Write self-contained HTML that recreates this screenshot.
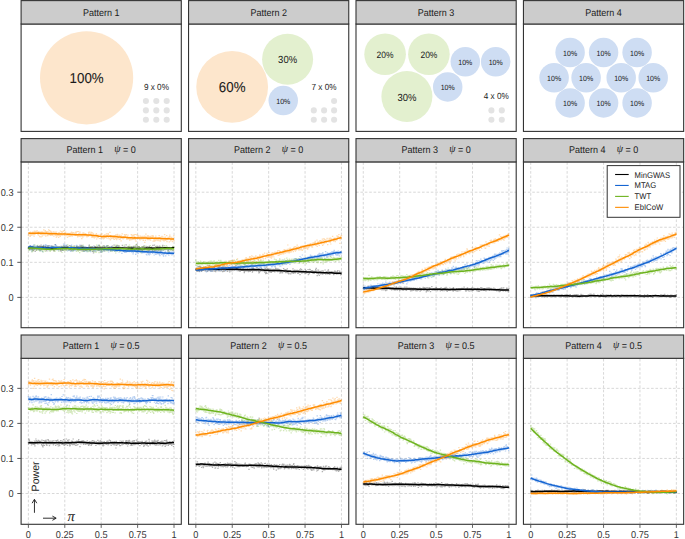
<!DOCTYPE html>
<html><head><meta charset="utf-8"><title>Power patterns</title>
<style>html,body{margin:0;padding:0;background:#fff;overflow:hidden}svg{display:block}</style>
</head><body>
<svg width="685" height="539" viewBox="0 0 685 539" text-rendering="geometricPrecision">
<rect width="685" height="539" fill="#fff"/>
<rect x="21.1" y="161.9" width="160.2" height="165.8" fill="#fff"/>
<line x1="21.1" x2="181.3" y1="297.4" y2="297.4" stroke="#D4D4D4" stroke-width="0.9" stroke-dasharray="2.6 1.8"/>
<line x1="21.1" x2="181.3" y1="262.33" y2="262.33" stroke="#D4D4D4" stroke-width="0.9" stroke-dasharray="2.6 1.8"/>
<line x1="21.1" x2="181.3" y1="227.26" y2="227.26" stroke="#D4D4D4" stroke-width="0.9" stroke-dasharray="2.6 1.8"/>
<line x1="21.1" x2="181.3" y1="192.19" y2="192.19" stroke="#D4D4D4" stroke-width="0.9" stroke-dasharray="2.6 1.8"/>
<line x1="28.38" x2="28.38" y1="327.7" y2="161.9" stroke="#D4D4D4" stroke-width="0.9" stroke-dasharray="2.6 1.8"/>
<line x1="64.79" x2="64.79" y1="327.7" y2="161.9" stroke="#D4D4D4" stroke-width="0.9" stroke-dasharray="2.6 1.8"/>
<line x1="101.2" x2="101.2" y1="327.7" y2="161.9" stroke="#D4D4D4" stroke-width="0.9" stroke-dasharray="2.6 1.8"/>
<line x1="137.61" x2="137.61" y1="327.7" y2="161.9" stroke="#D4D4D4" stroke-width="0.9" stroke-dasharray="2.6 1.8"/>
<line x1="174.02" x2="174.02" y1="327.7" y2="161.9" stroke="#D4D4D4" stroke-width="0.9" stroke-dasharray="2.6 1.8"/>
<path d="M27.7 247.8h1.4M27.9 247.4h1.4M28.2 248.2h1.4M28.5 249.1h1.4M28.7 248.5h1.4M29.0 249.3h1.4M29.2 247.7h1.4M29.5 245.9h1.4M29.8 248.5h1.4M30.0 248.7h1.4M30.3 247.1h1.4M30.5 247.3h1.4M30.8 247.7h1.4M31.1 249.2h1.4M31.3 247.9h1.4M31.6 246.8h1.4M31.9 249.8h1.4M32.1 248.5h1.4M32.4 250.6h1.4M32.6 249.7h1.4M32.9 250.5h1.4M33.2 248.2h1.4M33.4 249.7h1.4M33.7 247.4h1.4M33.9 247.6h1.4M34.2 248.1h1.4M34.5 251.5h1.4M34.7 248.6h1.4M35.0 247.9h1.4M35.2 247.7h1.4M35.5 250.1h1.4M35.8 248.5h1.4M36.0 249.3h1.4M36.3 249.0h1.4M36.5 246.3h1.4M36.8 249.0h1.4M37.1 247.9h1.4M37.3 246.6h1.4M37.6 248.7h1.4M37.8 248.0h1.4M38.1 247.7h1.4M38.4 247.8h1.4M38.6 249.6h1.4M38.9 247.8h1.4M39.1 245.9h1.4M39.4 250.1h1.4M39.7 246.6h1.4M39.9 247.7h1.4M40.2 248.8h1.4M40.4 245.0h1.4M40.7 246.8h1.4M41.0 249.6h1.4M41.2 247.8h1.4M41.5 247.0h1.4M41.8 248.2h1.4M42.0 246.9h1.4M42.3 248.0h1.4M42.5 246.9h1.4M42.8 245.8h1.4M43.1 248.9h1.4M43.3 247.6h1.4M43.6 248.6h1.4M43.8 247.7h1.4M44.1 249.6h1.4M44.4 248.7h1.4M44.6 248.2h1.4M44.9 246.6h1.4M45.1 246.2h1.4M45.4 249.8h1.4M45.7 249.1h1.4M45.9 247.0h1.4M46.2 250.8h1.4M46.4 248.6h1.4M46.7 248.0h1.4M47.0 246.1h1.4M47.2 246.9h1.4M47.5 248.4h1.4M47.7 248.4h1.4M48.0 248.3h1.4M48.3 245.7h1.4M48.5 248.5h1.4M48.8 248.4h1.4M49.0 247.4h1.4M49.3 248.1h1.4M49.6 248.2h1.4M49.8 249.5h1.4M50.1 247.9h1.4M50.3 248.6h1.4M50.6 246.2h1.4M50.9 247.0h1.4M51.1 248.0h1.4M51.4 246.9h1.4M51.7 248.4h1.4M51.9 246.4h1.4M52.2 247.9h1.4M52.4 247.1h1.4M52.7 249.8h1.4M53.0 247.4h1.4M53.2 250.4h1.4M53.5 250.9h1.4M53.7 248.4h1.4M54.0 249.2h1.4M54.3 247.7h1.4M54.5 244.7h1.4M54.8 249.2h1.4M55.0 248.8h1.4M55.3 247.6h1.4M55.6 247.2h1.4M55.8 248.2h1.4M56.1 248.2h1.4M56.3 246.9h1.4M56.6 247.2h1.4M56.9 249.5h1.4M57.1 248.1h1.4M57.4 247.9h1.4M57.6 249.5h1.4M57.9 247.6h1.4M58.2 249.2h1.4M58.4 246.5h1.4M58.7 247.7h1.4M58.9 247.8h1.4M59.2 248.8h1.4M59.5 248.1h1.4M59.7 250.9h1.4M60.0 249.6h1.4M60.2 247.4h1.4M60.5 251.1h1.4M60.8 246.7h1.4M61.0 250.5h1.4M61.3 246.9h1.4M61.6 249.2h1.4M61.8 246.8h1.4M62.1 247.8h1.4M62.3 250.2h1.4M62.6 246.2h1.4M62.9 245.9h1.4M63.1 248.1h1.4M63.4 248.4h1.4M63.6 248.2h1.4M63.9 249.4h1.4M64.2 246.4h1.4M64.4 248.8h1.4M64.7 248.1h1.4M64.9 249.1h1.4M65.2 248.9h1.4M65.5 249.9h1.4M65.7 246.2h1.4M66.0 248.2h1.4M66.2 246.6h1.4M66.5 248.0h1.4M66.8 249.0h1.4M67.0 248.5h1.4M67.3 248.8h1.4M67.5 248.0h1.4M67.8 248.6h1.4M68.1 248.4h1.4M68.3 250.0h1.4M68.6 249.2h1.4M68.8 245.6h1.4M69.1 249.0h1.4M69.4 249.6h1.4M69.6 247.5h1.4M69.9 246.0h1.4M70.1 250.1h1.4M70.4 248.3h1.4M70.7 248.9h1.4M70.9 250.6h1.4M71.2 247.0h1.4M71.5 248.1h1.4M71.7 247.9h1.4M72.0 249.1h1.4M72.2 247.4h1.4M72.5 248.8h1.4M72.8 248.3h1.4M73.0 249.7h1.4M73.3 249.8h1.4M73.5 246.1h1.4M73.8 248.8h1.4M74.1 247.6h1.4M74.3 248.1h1.4M74.6 248.7h1.4M74.8 248.8h1.4M75.1 247.1h1.4M75.4 248.5h1.4M75.6 248.3h1.4M75.9 248.0h1.4M76.1 246.4h1.4M76.4 247.1h1.4M76.7 247.5h1.4M76.9 248.9h1.4M77.2 250.1h1.4M77.4 246.7h1.4M77.7 246.7h1.4M78.0 248.3h1.4M78.2 247.3h1.4M78.5 246.9h1.4M78.7 246.9h1.4M79.0 246.7h1.4M79.3 248.8h1.4M79.5 245.9h1.4M79.8 249.9h1.4M80.0 246.8h1.4M80.3 247.4h1.4M80.6 246.8h1.4M80.8 245.4h1.4M81.1 245.9h1.4M81.4 249.8h1.4M81.6 250.6h1.4M81.9 246.9h1.4M82.1 249.6h1.4M82.4 248.1h1.4M82.7 246.9h1.4M82.9 250.5h1.4M83.2 251.2h1.4M83.4 247.7h1.4M83.7 248.1h1.4M84.0 248.5h1.4M84.2 248.1h1.4M84.5 249.4h1.4M84.7 250.3h1.4M85.0 248.4h1.4M85.3 249.6h1.4M85.5 250.5h1.4M85.8 247.4h1.4M86.0 248.2h1.4M86.3 247.6h1.4M86.6 249.6h1.4M86.8 249.1h1.4M87.1 249.6h1.4M87.3 249.4h1.4M87.6 247.9h1.4M87.9 249.3h1.4M88.1 247.6h1.4M88.4 247.7h1.4M88.6 245.2h1.4M88.9 250.2h1.4M89.2 246.9h1.4M89.4 248.3h1.4M89.7 248.2h1.4M89.9 250.3h1.4M90.2 248.8h1.4M90.5 247.1h1.4M90.7 248.3h1.4M91.0 248.1h1.4M91.3 248.6h1.4M91.5 246.5h1.4M91.8 248.2h1.4M92.0 251.4h1.4M92.3 249.2h1.4M92.6 251.0h1.4M92.8 252.9h1.4M93.1 249.0h1.4M93.3 246.2h1.4M93.6 248.1h1.4M93.9 249.9h1.4M94.1 249.6h1.4M94.4 246.5h1.4M94.6 248.0h1.4M94.9 248.1h1.4M95.2 248.3h1.4M95.4 248.1h1.4M95.7 247.0h1.4M95.9 247.4h1.4M96.2 247.9h1.4M96.5 249.7h1.4M96.7 247.4h1.4M97.0 249.2h1.4M97.2 246.6h1.4M97.5 250.0h1.4M97.8 248.4h1.4M98.0 248.2h1.4M98.3 250.1h1.4M98.5 245.7h1.4M98.8 246.1h1.4M99.1 248.9h1.4M99.3 247.1h1.4M99.6 247.6h1.4M99.8 252.0h1.4M100.1 247.8h1.4M100.4 248.3h1.4M100.6 248.1h1.4M100.9 249.8h1.4M101.2 248.6h1.4M101.4 248.5h1.4M101.7 246.5h1.4M101.9 247.7h1.4M102.2 248.2h1.4M102.5 246.0h1.4M102.7 249.0h1.4M103.0 248.8h1.4M103.2 250.8h1.4M103.5 245.9h1.4M103.8 246.8h1.4M104.0 246.9h1.4M104.3 247.2h1.4M104.5 248.0h1.4M104.8 247.9h1.4M105.1 248.6h1.4M105.3 248.5h1.4M105.6 248.1h1.4M105.8 246.0h1.4M106.1 247.4h1.4M106.4 248.3h1.4M106.6 249.0h1.4M106.9 249.1h1.4M107.1 245.9h1.4M107.4 247.5h1.4M107.7 248.1h1.4M107.9 248.7h1.4M108.2 249.8h1.4M108.4 248.3h1.4M108.7 246.9h1.4M109.0 248.8h1.4M109.2 248.5h1.4M109.5 248.5h1.4M109.7 248.0h1.4M110.0 250.5h1.4M110.3 248.5h1.4M110.5 249.4h1.4M110.8 246.9h1.4M111.1 249.3h1.4M111.3 247.3h1.4M111.6 246.0h1.4M111.8 248.6h1.4M112.1 249.1h1.4M112.4 247.9h1.4M112.6 248.2h1.4M112.9 249.6h1.4M113.1 247.5h1.4M113.4 245.2h1.4M113.7 248.6h1.4M113.9 248.5h1.4M114.2 249.7h1.4M114.4 247.7h1.4M114.7 250.0h1.4M115.0 249.8h1.4M115.2 246.3h1.4M115.5 249.5h1.4M115.7 246.6h1.4M116.0 245.9h1.4M116.3 247.8h1.4M116.5 247.4h1.4M116.8 245.3h1.4M117.0 248.5h1.4M117.3 249.0h1.4M117.6 250.1h1.4M117.8 248.1h1.4M118.1 246.0h1.4M118.3 246.8h1.4M118.6 249.5h1.4M118.9 249.4h1.4M119.1 248.9h1.4M119.4 247.7h1.4M119.6 248.5h1.4M119.9 247.8h1.4M120.2 247.7h1.4M120.4 248.6h1.4M120.7 248.2h1.4M121.0 247.9h1.4M121.2 248.3h1.4M121.5 247.4h1.4M121.7 245.4h1.4M122.0 247.3h1.4M122.3 248.1h1.4M122.5 250.6h1.4M122.8 247.6h1.4M123.0 251.0h1.4M123.3 250.2h1.4M123.6 246.9h1.4M123.8 247.1h1.4M124.1 248.4h1.4M124.3 250.6h1.4M124.6 248.7h1.4M124.9 249.1h1.4M125.1 247.2h1.4M125.4 244.8h1.4M125.6 247.8h1.4M125.9 249.3h1.4M126.2 249.8h1.4M126.4 248.2h1.4M126.7 248.4h1.4M126.9 249.8h1.4M127.2 248.0h1.4M127.5 249.8h1.4M127.7 246.5h1.4M128.0 246.6h1.4M128.2 246.5h1.4M128.5 248.8h1.4M128.8 247.4h1.4M129.0 248.3h1.4M129.3 248.7h1.4M129.5 248.6h1.4M129.8 250.0h1.4M130.1 250.2h1.4M130.3 247.0h1.4M130.6 248.4h1.4M130.9 247.8h1.4M131.1 246.7h1.4M131.4 250.6h1.4M131.6 249.3h1.4M131.9 247.9h1.4M132.2 247.5h1.4M132.4 248.7h1.4M132.7 246.6h1.4M132.9 247.8h1.4M133.2 249.9h1.4M133.5 249.5h1.4M133.7 246.9h1.4M134.0 247.4h1.4M134.2 250.9h1.4M134.5 246.1h1.4M134.8 247.2h1.4M135.0 246.1h1.4M135.3 248.7h1.4M135.5 248.5h1.4M135.8 249.7h1.4M136.1 244.4h1.4M136.3 248.3h1.4M136.6 245.8h1.4M136.8 249.0h1.4M137.1 247.9h1.4M137.4 250.5h1.4M137.6 248.6h1.4M137.9 246.7h1.4M138.1 249.9h1.4M138.4 246.5h1.4M138.7 247.6h1.4M138.9 249.6h1.4M139.2 248.8h1.4M139.4 248.8h1.4M139.7 248.2h1.4M140.0 248.9h1.4M140.2 249.3h1.4M140.5 248.5h1.4M140.8 249.6h1.4M141.0 250.0h1.4M141.3 248.1h1.4M141.5 246.8h1.4M141.8 250.3h1.4M142.1 248.1h1.4M142.3 249.0h1.4M142.6 249.5h1.4M142.8 246.8h1.4M143.1 248.8h1.4M143.4 245.9h1.4M143.6 249.2h1.4M143.9 247.5h1.4M144.1 248.4h1.4M144.4 249.2h1.4M144.7 247.2h1.4M144.9 248.3h1.4M145.2 247.2h1.4M145.4 248.1h1.4M145.7 249.6h1.4M146.0 248.2h1.4M146.2 248.0h1.4M146.5 246.7h1.4M146.7 249.4h1.4M147.0 248.1h1.4M147.3 250.6h1.4M147.5 247.1h1.4M147.8 249.6h1.4M148.0 250.7h1.4M148.3 248.1h1.4M148.6 246.4h1.4M148.8 250.3h1.4M149.1 249.6h1.4M149.3 249.1h1.4M149.6 249.7h1.4M149.9 247.5h1.4M150.1 249.2h1.4M150.4 249.1h1.4M150.7 247.2h1.4M150.9 249.1h1.4M151.2 247.4h1.4M151.4 249.4h1.4M151.7 249.8h1.4M152.0 250.7h1.4M152.2 245.3h1.4M152.5 248.5h1.4M152.7 247.7h1.4M153.0 248.1h1.4M153.3 247.8h1.4M153.5 247.9h1.4M153.8 245.2h1.4M154.0 249.5h1.4M154.3 250.3h1.4M154.6 249.5h1.4M154.8 250.0h1.4M155.1 246.9h1.4M155.3 246.8h1.4M155.6 249.4h1.4M155.9 250.0h1.4M156.1 248.5h1.4M156.4 246.0h1.4M156.6 252.1h1.4M156.9 247.2h1.4M157.2 249.6h1.4M157.4 246.5h1.4M157.7 249.6h1.4M157.9 248.4h1.4M158.2 250.2h1.4M158.5 249.4h1.4M158.7 246.0h1.4M159.0 246.8h1.4M159.2 248.6h1.4M159.5 249.3h1.4M159.8 250.8h1.4M160.0 248.6h1.4M160.3 248.0h1.4M160.6 248.1h1.4M160.8 248.1h1.4M161.1 249.6h1.4M161.3 248.1h1.4M161.6 248.0h1.4M161.9 246.1h1.4M162.1 245.3h1.4M162.4 248.2h1.4M162.6 249.1h1.4M162.9 248.1h1.4M163.2 248.9h1.4M163.4 249.1h1.4M163.7 248.1h1.4M163.9 249.5h1.4M164.2 247.1h1.4M164.5 248.1h1.4M164.7 247.6h1.4M165.0 248.2h1.4M165.2 249.0h1.4M165.5 249.3h1.4M165.8 248.3h1.4M166.0 248.8h1.4M166.3 247.6h1.4M166.5 248.0h1.4M166.8 249.9h1.4M167.1 247.9h1.4M167.3 249.9h1.4M167.6 248.8h1.4M167.8 248.4h1.4M168.1 251.0h1.4M168.4 247.8h1.4M168.6 247.7h1.4M168.9 248.2h1.4M169.1 248.6h1.4M169.4 248.5h1.4M169.7 249.4h1.4M169.9 248.3h1.4M170.2 248.7h1.4M170.5 247.8h1.4M170.7 249.7h1.4M171.0 247.6h1.4M171.2 247.7h1.4M171.5 248.1h1.4M171.8 248.6h1.4M172.0 247.1h1.4M172.3 250.4h1.4M172.5 247.2h1.4M172.8 247.6h1.4M173.1 247.5h1.4M173.3 247.4h1.4" fill="none" stroke="#000000" stroke-opacity="0.3" stroke-width="1.2"/>
<path d="M27.7 248.3h1.4M27.9 247.8h1.4M28.2 246.5h1.4M28.5 246.8h1.4M28.7 247.1h1.4M29.0 249.6h1.4M29.2 246.6h1.4M29.5 245.7h1.4M29.8 245.9h1.4M30.0 247.1h1.4M30.3 249.7h1.4M30.5 246.0h1.4M30.8 247.6h1.4M31.1 251.1h1.4M31.3 246.9h1.4M31.6 249.6h1.4M31.9 249.3h1.4M32.1 248.3h1.4M32.4 245.6h1.4M32.6 248.0h1.4M32.9 247.0h1.4M33.2 244.9h1.4M33.4 245.1h1.4M33.7 247.6h1.4M33.9 247.8h1.4M34.2 249.3h1.4M34.5 248.5h1.4M34.7 246.8h1.4M35.0 246.9h1.4M35.2 247.3h1.4M35.5 246.0h1.4M35.8 248.6h1.4M36.0 247.5h1.4M36.3 246.4h1.4M36.5 246.6h1.4M36.8 245.9h1.4M37.1 246.9h1.4M37.3 247.9h1.4M37.6 246.9h1.4M37.8 248.9h1.4M38.1 249.9h1.4M38.4 246.6h1.4M38.6 247.6h1.4M38.9 247.0h1.4M39.1 250.0h1.4M39.4 248.0h1.4M39.7 248.4h1.4M39.9 248.8h1.4M40.2 250.8h1.4M40.4 248.0h1.4M40.7 246.2h1.4M41.0 247.0h1.4M41.2 248.4h1.4M41.5 247.5h1.4M41.8 246.4h1.4M42.0 251.6h1.4M42.3 247.7h1.4M42.5 246.7h1.4M42.8 246.5h1.4M43.1 245.1h1.4M43.3 245.9h1.4M43.6 247.1h1.4M43.8 247.1h1.4M44.1 246.4h1.4M44.4 248.4h1.4M44.6 247.6h1.4M44.9 246.2h1.4M45.1 244.7h1.4M45.4 247.8h1.4M45.7 247.7h1.4M45.9 247.3h1.4M46.2 245.6h1.4M46.4 247.6h1.4M46.7 245.5h1.4M47.0 249.0h1.4M47.2 247.9h1.4M47.5 247.9h1.4M47.7 246.5h1.4M48.0 246.1h1.4M48.3 249.8h1.4M48.5 249.0h1.4M48.8 247.1h1.4M49.0 248.6h1.4M49.3 249.9h1.4M49.6 246.1h1.4M49.8 246.9h1.4M50.1 246.9h1.4M50.3 248.4h1.4M50.6 246.2h1.4M50.9 248.0h1.4M51.1 246.1h1.4M51.4 249.0h1.4M51.7 248.9h1.4M51.9 247.4h1.4M52.2 248.7h1.4M52.4 246.7h1.4M52.7 247.3h1.4M53.0 249.1h1.4M53.2 247.6h1.4M53.5 248.2h1.4M53.7 246.4h1.4M54.0 248.6h1.4M54.3 248.4h1.4M54.5 246.0h1.4M54.8 244.5h1.4M55.0 244.8h1.4M55.3 247.7h1.4M55.6 247.4h1.4M55.8 245.5h1.4M56.1 247.9h1.4M56.3 249.2h1.4M56.6 247.6h1.4M56.9 247.1h1.4M57.1 249.0h1.4M57.4 250.2h1.4M57.6 249.9h1.4M57.9 246.8h1.4M58.2 248.9h1.4M58.4 248.0h1.4M58.7 247.5h1.4M58.9 246.9h1.4M59.2 248.3h1.4M59.5 247.1h1.4M59.7 249.1h1.4M60.0 248.4h1.4M60.2 249.3h1.4M60.5 246.2h1.4M60.8 247.9h1.4M61.0 248.9h1.4M61.3 248.4h1.4M61.6 248.2h1.4M61.8 246.8h1.4M62.1 250.2h1.4M62.3 249.4h1.4M62.6 248.4h1.4M62.9 244.2h1.4M63.1 246.5h1.4M63.4 248.1h1.4M63.6 246.9h1.4M63.9 244.9h1.4M64.2 248.3h1.4M64.4 248.5h1.4M64.7 246.2h1.4M64.9 247.2h1.4M65.2 247.0h1.4M65.5 248.7h1.4M65.7 245.1h1.4M66.0 245.5h1.4M66.2 247.1h1.4M66.5 247.0h1.4M66.8 250.9h1.4M67.0 247.0h1.4M67.3 248.3h1.4M67.5 247.4h1.4M67.8 247.0h1.4M68.1 248.5h1.4M68.3 250.5h1.4M68.6 247.5h1.4M68.8 249.1h1.4M69.1 248.5h1.4M69.4 248.9h1.4M69.6 248.5h1.4M69.9 251.4h1.4M70.1 246.3h1.4M70.4 247.7h1.4M70.7 246.4h1.4M70.9 245.2h1.4M71.2 248.0h1.4M71.5 250.7h1.4M71.7 249.4h1.4M72.0 249.9h1.4M72.2 248.8h1.4M72.5 248.0h1.4M72.8 251.0h1.4M73.0 247.6h1.4M73.3 250.3h1.4M73.5 247.7h1.4M73.8 248.3h1.4M74.1 248.6h1.4M74.3 248.3h1.4M74.6 249.0h1.4M74.8 249.1h1.4M75.1 250.6h1.4M75.4 248.2h1.4M75.6 245.5h1.4M75.9 245.3h1.4M76.1 246.3h1.4M76.4 247.2h1.4M76.7 249.2h1.4M76.9 246.1h1.4M77.2 248.3h1.4M77.4 248.4h1.4M77.7 248.7h1.4M78.0 248.1h1.4M78.2 248.9h1.4M78.5 248.4h1.4M78.7 249.9h1.4M79.0 248.8h1.4M79.3 245.0h1.4M79.5 248.4h1.4M79.8 248.7h1.4M80.0 247.6h1.4M80.3 247.3h1.4M80.6 250.0h1.4M80.8 248.7h1.4M81.1 247.0h1.4M81.4 248.0h1.4M81.6 248.2h1.4M81.9 246.1h1.4M82.1 249.4h1.4M82.4 248.3h1.4M82.7 249.2h1.4M82.9 246.3h1.4M83.2 251.3h1.4M83.4 249.4h1.4M83.7 249.2h1.4M84.0 247.5h1.4M84.2 247.6h1.4M84.5 246.5h1.4M84.7 250.8h1.4M85.0 247.4h1.4M85.3 248.9h1.4M85.5 249.5h1.4M85.8 247.7h1.4M86.0 249.9h1.4M86.3 251.6h1.4M86.6 249.1h1.4M86.8 250.7h1.4M87.1 249.5h1.4M87.3 248.0h1.4M87.6 248.1h1.4M87.9 246.3h1.4M88.1 248.9h1.4M88.4 250.9h1.4M88.6 249.7h1.4M88.9 250.0h1.4M89.2 250.4h1.4M89.4 248.0h1.4M89.7 249.6h1.4M89.9 251.6h1.4M90.2 247.7h1.4M90.5 248.9h1.4M90.7 248.2h1.4M91.0 248.6h1.4M91.3 247.8h1.4M91.5 248.7h1.4M91.8 247.0h1.4M92.0 248.1h1.4M92.3 248.2h1.4M92.6 248.2h1.4M92.8 250.9h1.4M93.1 249.0h1.4M93.3 249.2h1.4M93.6 248.5h1.4M93.9 250.8h1.4M94.1 246.5h1.4M94.4 248.7h1.4M94.6 250.6h1.4M94.9 251.4h1.4M95.2 249.3h1.4M95.4 249.0h1.4M95.7 250.0h1.4M95.9 248.8h1.4M96.2 249.9h1.4M96.5 248.1h1.4M96.7 250.0h1.4M97.0 249.0h1.4M97.2 247.6h1.4M97.5 245.3h1.4M97.8 250.5h1.4M98.0 249.7h1.4M98.3 250.2h1.4M98.5 247.9h1.4M98.8 250.7h1.4M99.1 249.7h1.4M99.3 249.1h1.4M99.6 250.5h1.4M99.8 250.5h1.4M100.1 249.8h1.4M100.4 252.1h1.4M100.6 251.2h1.4M100.9 249.7h1.4M101.2 248.9h1.4M101.4 249.4h1.4M101.7 251.7h1.4M101.9 249.8h1.4M102.2 248.0h1.4M102.5 248.4h1.4M102.7 249.3h1.4M103.0 250.5h1.4M103.2 248.3h1.4M103.5 250.1h1.4M103.8 250.9h1.4M104.0 250.4h1.4M104.3 247.2h1.4M104.5 249.0h1.4M104.8 247.6h1.4M105.1 250.0h1.4M105.3 248.0h1.4M105.6 250.2h1.4M105.8 249.6h1.4M106.1 245.8h1.4M106.4 248.3h1.4M106.6 250.1h1.4M106.9 249.5h1.4M107.1 249.0h1.4M107.4 247.7h1.4M107.7 250.2h1.4M107.9 252.0h1.4M108.2 249.9h1.4M108.4 249.5h1.4M108.7 249.4h1.4M109.0 247.6h1.4M109.2 249.1h1.4M109.5 248.4h1.4M109.7 251.2h1.4M110.0 248.3h1.4M110.3 246.6h1.4M110.5 248.5h1.4M110.8 249.3h1.4M111.1 249.4h1.4M111.3 247.1h1.4M111.6 251.0h1.4M111.8 249.9h1.4M112.1 249.0h1.4M112.4 248.7h1.4M112.6 250.4h1.4M112.9 249.3h1.4M113.1 250.2h1.4M113.4 249.6h1.4M113.7 250.0h1.4M113.9 251.5h1.4M114.2 249.9h1.4M114.4 248.6h1.4M114.7 251.3h1.4M115.0 250.2h1.4M115.2 248.9h1.4M115.5 251.5h1.4M115.7 249.7h1.4M116.0 251.5h1.4M116.3 248.3h1.4M116.5 246.7h1.4M116.8 247.1h1.4M117.0 250.3h1.4M117.3 249.0h1.4M117.6 249.9h1.4M117.8 249.9h1.4M118.1 247.9h1.4M118.3 252.0h1.4M118.6 248.6h1.4M118.9 250.2h1.4M119.1 248.1h1.4M119.4 249.9h1.4M119.6 251.2h1.4M119.9 249.8h1.4M120.2 249.2h1.4M120.4 250.2h1.4M120.7 249.6h1.4M121.0 251.0h1.4M121.2 253.4h1.4M121.5 249.0h1.4M121.7 249.3h1.4M122.0 250.1h1.4M122.3 250.3h1.4M122.5 248.9h1.4M122.8 251.0h1.4M123.0 251.4h1.4M123.3 250.7h1.4M123.6 248.7h1.4M123.8 252.5h1.4M124.1 248.8h1.4M124.3 251.4h1.4M124.6 252.1h1.4M124.9 248.7h1.4M125.1 250.7h1.4M125.4 252.4h1.4M125.6 251.1h1.4M125.9 249.3h1.4M126.2 248.9h1.4M126.4 251.2h1.4M126.7 250.1h1.4M126.9 249.6h1.4M127.2 251.6h1.4M127.5 250.2h1.4M127.7 250.8h1.4M128.0 251.5h1.4M128.2 251.5h1.4M128.5 250.7h1.4M128.8 250.7h1.4M129.0 251.6h1.4M129.3 251.4h1.4M129.5 249.2h1.4M129.8 250.5h1.4M130.1 249.6h1.4M130.3 249.2h1.4M130.6 250.1h1.4M130.9 247.7h1.4M131.1 252.1h1.4M131.4 249.8h1.4M131.6 251.4h1.4M131.9 248.3h1.4M132.2 248.6h1.4M132.4 253.8h1.4M132.7 252.4h1.4M132.9 250.1h1.4M133.2 249.9h1.4M133.5 250.0h1.4M133.7 251.2h1.4M134.0 250.5h1.4M134.2 250.2h1.4M134.5 251.3h1.4M134.8 249.7h1.4M135.0 254.4h1.4M135.3 250.3h1.4M135.5 252.7h1.4M135.8 249.8h1.4M136.1 251.6h1.4M136.3 252.5h1.4M136.6 250.7h1.4M136.8 252.6h1.4M137.1 252.6h1.4M137.4 253.5h1.4M137.6 251.4h1.4M137.9 250.6h1.4M138.1 249.9h1.4M138.4 251.6h1.4M138.7 249.9h1.4M138.9 251.4h1.4M139.2 251.5h1.4M139.4 250.6h1.4M139.7 249.9h1.4M140.0 251.9h1.4M140.2 251.8h1.4M140.5 251.7h1.4M140.8 251.4h1.4M141.0 252.8h1.4M141.3 250.1h1.4M141.5 252.1h1.4M141.8 250.9h1.4M142.1 252.8h1.4M142.3 251.1h1.4M142.6 251.1h1.4M142.8 252.2h1.4M143.1 248.8h1.4M143.4 251.1h1.4M143.6 249.1h1.4M143.9 250.3h1.4M144.1 252.6h1.4M144.4 252.3h1.4M144.7 251.1h1.4M144.9 251.7h1.4M145.2 251.7h1.4M145.4 252.2h1.4M145.7 254.4h1.4M146.0 252.1h1.4M146.2 255.0h1.4M146.5 251.3h1.4M146.7 252.9h1.4M147.0 252.9h1.4M147.3 252.2h1.4M147.5 251.5h1.4M147.8 253.9h1.4M148.0 254.4h1.4M148.3 253.5h1.4M148.6 254.9h1.4M148.8 253.3h1.4M149.1 249.7h1.4M149.3 253.5h1.4M149.6 251.1h1.4M149.9 254.0h1.4M150.1 251.6h1.4M150.4 252.5h1.4M150.7 252.2h1.4M150.9 251.3h1.4M151.2 249.6h1.4M151.4 251.8h1.4M151.7 251.9h1.4M152.0 253.5h1.4M152.2 251.3h1.4M152.5 252.5h1.4M152.7 251.0h1.4M153.0 252.3h1.4M153.3 249.7h1.4M153.5 255.0h1.4M153.8 252.7h1.4M154.0 251.0h1.4M154.3 252.8h1.4M154.6 253.4h1.4M154.8 252.7h1.4M155.1 254.3h1.4M155.3 252.2h1.4M155.6 248.9h1.4M155.9 250.7h1.4M156.1 253.9h1.4M156.4 253.6h1.4M156.6 253.0h1.4M156.9 251.0h1.4M157.2 253.6h1.4M157.4 253.4h1.4M157.7 251.2h1.4M157.9 251.2h1.4M158.2 253.0h1.4M158.5 254.1h1.4M158.7 254.7h1.4M159.0 253.5h1.4M159.2 255.7h1.4M159.5 251.5h1.4M159.8 253.5h1.4M160.0 251.9h1.4M160.3 250.0h1.4M160.6 251.0h1.4M160.8 254.3h1.4M161.1 251.4h1.4M161.3 251.0h1.4M161.6 253.7h1.4M161.9 254.0h1.4M162.1 252.9h1.4M162.4 255.0h1.4M162.6 250.7h1.4M162.9 256.2h1.4M163.2 254.3h1.4M163.4 253.2h1.4M163.7 253.1h1.4M163.9 252.6h1.4M164.2 252.4h1.4M164.5 253.1h1.4M164.7 251.2h1.4M165.0 255.9h1.4M165.2 252.9h1.4M165.5 253.9h1.4M165.8 252.7h1.4M166.0 252.6h1.4M166.3 254.2h1.4M166.5 253.9h1.4M166.8 251.8h1.4M167.1 252.5h1.4M167.3 254.0h1.4M167.6 250.1h1.4M167.8 249.8h1.4M168.1 255.1h1.4M168.4 252.6h1.4M168.6 249.5h1.4M168.9 252.0h1.4M169.1 252.8h1.4M169.4 253.4h1.4M169.7 253.9h1.4M169.9 253.4h1.4M170.2 253.9h1.4M170.5 252.1h1.4M170.7 253.7h1.4M171.0 253.8h1.4M171.2 254.9h1.4M171.5 253.3h1.4M171.8 254.5h1.4M172.0 253.5h1.4M172.3 251.8h1.4M172.5 252.8h1.4M172.8 252.6h1.4M173.1 252.8h1.4M173.3 253.2h1.4" fill="none" stroke="#1565D2" stroke-opacity="0.3" stroke-width="1.2"/>
<path d="M27.7 248.9h1.4M27.9 249.1h1.4M28.2 247.6h1.4M28.5 250.3h1.4M28.7 246.7h1.4M29.0 248.6h1.4M29.2 249.8h1.4M29.5 249.4h1.4M29.8 249.7h1.4M30.0 248.5h1.4M30.3 249.7h1.4M30.5 247.1h1.4M30.8 249.8h1.4M31.1 252.0h1.4M31.3 249.8h1.4M31.6 251.6h1.4M31.9 248.8h1.4M32.1 247.2h1.4M32.4 247.8h1.4M32.6 250.7h1.4M32.9 249.8h1.4M33.2 246.1h1.4M33.4 248.3h1.4M33.7 248.7h1.4M33.9 247.2h1.4M34.2 245.2h1.4M34.5 246.9h1.4M34.7 248.5h1.4M35.0 248.2h1.4M35.2 247.8h1.4M35.5 249.6h1.4M35.8 250.3h1.4M36.0 248.7h1.4M36.3 250.1h1.4M36.5 248.8h1.4M36.8 248.6h1.4M37.1 245.4h1.4M37.3 250.0h1.4M37.6 248.9h1.4M37.8 249.0h1.4M38.1 248.1h1.4M38.4 247.2h1.4M38.6 249.5h1.4M38.9 250.0h1.4M39.1 251.1h1.4M39.4 250.1h1.4M39.7 248.0h1.4M39.9 248.7h1.4M40.2 250.2h1.4M40.4 249.3h1.4M40.7 248.7h1.4M41.0 248.0h1.4M41.2 249.6h1.4M41.5 249.1h1.4M41.8 251.4h1.4M42.0 250.5h1.4M42.3 246.4h1.4M42.5 252.0h1.4M42.8 249.3h1.4M43.1 248.5h1.4M43.3 249.3h1.4M43.6 250.0h1.4M43.8 248.9h1.4M44.1 248.8h1.4M44.4 248.9h1.4M44.6 251.5h1.4M44.9 249.0h1.4M45.1 250.0h1.4M45.4 249.6h1.4M45.7 248.5h1.4M45.9 247.9h1.4M46.2 247.5h1.4M46.4 249.5h1.4M46.7 247.5h1.4M47.0 247.1h1.4M47.2 247.2h1.4M47.5 246.8h1.4M47.7 249.0h1.4M48.0 249.1h1.4M48.3 247.6h1.4M48.5 250.8h1.4M48.8 248.5h1.4M49.0 249.6h1.4M49.3 249.4h1.4M49.6 251.4h1.4M49.8 250.1h1.4M50.1 248.9h1.4M50.3 247.5h1.4M50.6 247.4h1.4M50.9 249.0h1.4M51.1 249.1h1.4M51.4 250.0h1.4M51.7 248.3h1.4M51.9 249.2h1.4M52.2 248.0h1.4M52.4 246.3h1.4M52.7 248.9h1.4M53.0 251.0h1.4M53.2 250.1h1.4M53.5 251.0h1.4M53.7 250.6h1.4M54.0 247.0h1.4M54.3 248.5h1.4M54.5 251.1h1.4M54.8 247.9h1.4M55.0 247.0h1.4M55.3 249.4h1.4M55.6 249.8h1.4M55.8 249.4h1.4M56.1 248.5h1.4M56.3 247.9h1.4M56.6 247.2h1.4M56.9 247.1h1.4M57.1 247.1h1.4M57.4 246.9h1.4M57.6 247.9h1.4M57.9 251.1h1.4M58.2 249.1h1.4M58.4 248.4h1.4M58.7 249.4h1.4M58.9 247.6h1.4M59.2 249.4h1.4M59.5 250.2h1.4M59.7 246.8h1.4M60.0 247.9h1.4M60.2 248.6h1.4M60.5 247.5h1.4M60.8 247.3h1.4M61.0 248.4h1.4M61.3 252.5h1.4M61.6 249.9h1.4M61.8 249.6h1.4M62.1 250.3h1.4M62.3 248.6h1.4M62.6 247.2h1.4M62.9 249.6h1.4M63.1 250.5h1.4M63.4 246.0h1.4M63.6 249.6h1.4M63.9 250.7h1.4M64.2 248.6h1.4M64.4 248.3h1.4M64.7 249.9h1.4M64.9 247.8h1.4M65.2 249.6h1.4M65.5 250.2h1.4M65.7 248.6h1.4M66.0 247.8h1.4M66.2 249.8h1.4M66.5 248.4h1.4M66.8 249.0h1.4M67.0 244.8h1.4M67.3 249.9h1.4M67.5 246.9h1.4M67.8 249.0h1.4M68.1 249.1h1.4M68.3 247.9h1.4M68.6 247.6h1.4M68.8 247.1h1.4M69.1 248.4h1.4M69.4 249.8h1.4M69.6 249.7h1.4M69.9 248.2h1.4M70.1 248.1h1.4M70.4 246.9h1.4M70.7 248.3h1.4M70.9 247.4h1.4M71.2 246.7h1.4M71.5 248.7h1.4M71.7 251.1h1.4M72.0 250.6h1.4M72.2 251.0h1.4M72.5 246.6h1.4M72.8 250.2h1.4M73.0 247.1h1.4M73.3 248.1h1.4M73.5 246.4h1.4M73.8 247.5h1.4M74.1 249.1h1.4M74.3 249.2h1.4M74.6 248.8h1.4M74.8 248.7h1.4M75.1 249.7h1.4M75.4 249.0h1.4M75.6 246.6h1.4M75.9 251.4h1.4M76.1 248.6h1.4M76.4 250.3h1.4M76.7 248.7h1.4M76.9 247.7h1.4M77.2 249.0h1.4M77.4 247.8h1.4M77.7 251.3h1.4M78.0 247.3h1.4M78.2 249.8h1.4M78.5 248.1h1.4M78.7 248.7h1.4M79.0 252.7h1.4M79.3 250.1h1.4M79.5 248.6h1.4M79.8 246.7h1.4M80.0 248.5h1.4M80.3 248.6h1.4M80.6 251.0h1.4M80.8 246.9h1.4M81.1 246.3h1.4M81.4 248.9h1.4M81.6 249.3h1.4M81.9 251.3h1.4M82.1 247.7h1.4M82.4 245.1h1.4M82.7 247.9h1.4M82.9 247.1h1.4M83.2 248.2h1.4M83.4 250.4h1.4M83.7 247.0h1.4M84.0 250.8h1.4M84.2 249.3h1.4M84.5 248.6h1.4M84.7 247.7h1.4M85.0 248.4h1.4M85.3 248.4h1.4M85.5 250.1h1.4M85.8 250.8h1.4M86.0 248.9h1.4M86.3 250.0h1.4M86.6 250.9h1.4M86.8 250.8h1.4M87.1 249.7h1.4M87.3 251.7h1.4M87.6 250.9h1.4M87.9 251.4h1.4M88.1 248.7h1.4M88.4 248.4h1.4M88.6 246.1h1.4M88.9 251.2h1.4M89.2 250.0h1.4M89.4 247.7h1.4M89.7 249.3h1.4M89.9 249.5h1.4M90.2 246.5h1.4M90.5 249.5h1.4M90.7 250.7h1.4M91.0 250.9h1.4M91.3 248.5h1.4M91.5 248.6h1.4M91.8 251.0h1.4M92.0 250.4h1.4M92.3 248.2h1.4M92.6 248.2h1.4M92.8 249.9h1.4M93.1 248.1h1.4M93.3 248.2h1.4M93.6 251.6h1.4M93.9 249.5h1.4M94.1 248.4h1.4M94.4 249.8h1.4M94.6 252.1h1.4M94.9 249.4h1.4M95.2 247.9h1.4M95.4 246.7h1.4M95.7 252.2h1.4M95.9 245.2h1.4M96.2 250.6h1.4M96.5 247.6h1.4M96.7 247.2h1.4M97.0 247.6h1.4M97.2 248.8h1.4M97.5 250.7h1.4M97.8 248.1h1.4M98.0 250.0h1.4M98.3 252.7h1.4M98.5 244.9h1.4M98.8 248.0h1.4M99.1 246.4h1.4M99.3 250.3h1.4M99.6 246.9h1.4M99.8 246.7h1.4M100.1 246.8h1.4M100.4 249.0h1.4M100.6 250.7h1.4M100.9 249.3h1.4M101.2 252.2h1.4M101.4 251.5h1.4M101.7 248.9h1.4M101.9 250.4h1.4M102.2 249.2h1.4M102.5 249.2h1.4M102.7 246.2h1.4M103.0 247.1h1.4M103.2 249.1h1.4M103.5 247.3h1.4M103.8 250.1h1.4M104.0 249.5h1.4M104.3 247.7h1.4M104.5 250.8h1.4M104.8 249.4h1.4M105.1 250.9h1.4M105.3 248.8h1.4M105.6 246.6h1.4M105.8 250.1h1.4M106.1 248.7h1.4M106.4 250.3h1.4M106.6 250.7h1.4M106.9 250.8h1.4M107.1 246.9h1.4M107.4 245.6h1.4M107.7 248.3h1.4M107.9 250.0h1.4M108.2 248.0h1.4M108.4 249.5h1.4M108.7 247.8h1.4M109.0 248.6h1.4M109.2 248.6h1.4M109.5 248.1h1.4M109.7 249.8h1.4M110.0 249.6h1.4M110.3 251.5h1.4M110.5 249.6h1.4M110.8 251.1h1.4M111.1 249.2h1.4M111.3 250.4h1.4M111.6 248.8h1.4M111.8 248.3h1.4M112.1 251.0h1.4M112.4 250.2h1.4M112.6 250.4h1.4M112.9 247.9h1.4M113.1 246.5h1.4M113.4 247.8h1.4M113.7 249.5h1.4M113.9 246.9h1.4M114.2 251.2h1.4M114.4 246.8h1.4M114.7 249.9h1.4M115.0 253.0h1.4M115.2 245.1h1.4M115.5 246.7h1.4M115.7 250.5h1.4M116.0 248.7h1.4M116.3 249.3h1.4M116.5 248.8h1.4M116.8 251.1h1.4M117.0 250.0h1.4M117.3 248.3h1.4M117.6 248.7h1.4M117.8 247.2h1.4M118.1 248.9h1.4M118.3 245.6h1.4M118.6 250.0h1.4M118.9 248.6h1.4M119.1 251.7h1.4M119.4 250.8h1.4M119.6 247.0h1.4M119.9 250.3h1.4M120.2 248.2h1.4M120.4 249.1h1.4M120.7 250.5h1.4M121.0 249.5h1.4M121.2 249.7h1.4M121.5 249.7h1.4M121.7 247.9h1.4M122.0 248.0h1.4M122.3 249.8h1.4M122.5 250.3h1.4M122.8 248.5h1.4M123.0 249.1h1.4M123.3 247.5h1.4M123.6 245.1h1.4M123.8 247.7h1.4M124.1 249.0h1.4M124.3 249.2h1.4M124.6 250.2h1.4M124.9 250.3h1.4M125.1 250.4h1.4M125.4 249.5h1.4M125.6 249.6h1.4M125.9 247.9h1.4M126.2 249.5h1.4M126.4 249.2h1.4M126.7 250.7h1.4M126.9 246.6h1.4M127.2 248.2h1.4M127.5 246.3h1.4M127.7 247.8h1.4M128.0 246.8h1.4M128.2 249.3h1.4M128.5 247.9h1.4M128.8 245.0h1.4M129.0 250.7h1.4M129.3 247.2h1.4M129.5 246.5h1.4M129.8 248.3h1.4M130.1 247.8h1.4M130.3 247.1h1.4M130.6 249.9h1.4M130.9 248.3h1.4M131.1 250.2h1.4M131.4 249.9h1.4M131.6 249.8h1.4M131.9 249.1h1.4M132.2 248.7h1.4M132.4 248.2h1.4M132.7 251.0h1.4M132.9 246.0h1.4M133.2 247.2h1.4M133.5 247.8h1.4M133.7 249.4h1.4M134.0 249.0h1.4M134.2 248.1h1.4M134.5 248.3h1.4M134.8 251.4h1.4M135.0 247.8h1.4M135.3 244.6h1.4M135.5 251.6h1.4M135.8 247.4h1.4M136.1 248.4h1.4M136.3 249.1h1.4M136.6 246.9h1.4M136.8 250.7h1.4M137.1 248.7h1.4M137.4 246.7h1.4M137.6 249.2h1.4M137.9 249.5h1.4M138.1 248.7h1.4M138.4 249.6h1.4M138.7 246.6h1.4M138.9 250.2h1.4M139.2 247.6h1.4M139.4 250.8h1.4M139.7 247.9h1.4M140.0 249.0h1.4M140.2 252.7h1.4M140.5 248.9h1.4M140.8 250.5h1.4M141.0 249.5h1.4M141.3 246.6h1.4M141.5 250.5h1.4M141.8 250.5h1.4M142.1 246.7h1.4M142.3 248.7h1.4M142.6 246.6h1.4M142.8 248.4h1.4M143.1 250.2h1.4M143.4 249.0h1.4M143.6 247.0h1.4M143.9 247.5h1.4M144.1 248.9h1.4M144.4 248.8h1.4M144.7 249.0h1.4M144.9 249.7h1.4M145.2 246.0h1.4M145.4 248.8h1.4M145.7 250.5h1.4M146.0 249.6h1.4M146.2 247.8h1.4M146.5 247.9h1.4M146.7 249.0h1.4M147.0 249.8h1.4M147.3 248.8h1.4M147.5 251.3h1.4M147.8 250.8h1.4M148.0 247.6h1.4M148.3 249.5h1.4M148.6 248.3h1.4M148.8 247.0h1.4M149.1 247.9h1.4M149.3 248.8h1.4M149.6 245.7h1.4M149.9 247.8h1.4M150.1 249.4h1.4M150.4 247.7h1.4M150.7 248.2h1.4M150.9 250.1h1.4M151.2 248.7h1.4M151.4 249.1h1.4M151.7 251.7h1.4M152.0 249.1h1.4M152.2 249.2h1.4M152.5 249.5h1.4M152.7 251.3h1.4M153.0 249.3h1.4M153.3 248.9h1.4M153.5 248.6h1.4M153.8 250.5h1.4M154.0 247.8h1.4M154.3 250.6h1.4M154.6 249.1h1.4M154.8 246.8h1.4M155.1 249.8h1.4M155.3 249.5h1.4M155.6 247.2h1.4M155.9 249.4h1.4M156.1 249.2h1.4M156.4 248.4h1.4M156.6 247.2h1.4M156.9 252.1h1.4M157.2 250.0h1.4M157.4 250.3h1.4M157.7 250.4h1.4M157.9 250.0h1.4M158.2 250.0h1.4M158.5 248.3h1.4M158.7 250.1h1.4M159.0 248.6h1.4M159.2 248.2h1.4M159.5 249.8h1.4M159.8 248.6h1.4M160.0 246.3h1.4M160.3 248.3h1.4M160.6 249.7h1.4M160.8 248.8h1.4M161.1 250.1h1.4M161.3 248.3h1.4M161.6 247.4h1.4M161.9 249.9h1.4M162.1 249.0h1.4M162.4 247.1h1.4M162.6 249.5h1.4M162.9 248.4h1.4M163.2 250.2h1.4M163.4 249.9h1.4M163.7 249.5h1.4M163.9 245.5h1.4M164.2 249.3h1.4M164.5 249.5h1.4M164.7 249.5h1.4M165.0 248.9h1.4M165.2 247.7h1.4M165.5 248.4h1.4M165.8 245.7h1.4M166.0 248.4h1.4M166.3 246.6h1.4M166.5 248.3h1.4M166.8 247.8h1.4M167.1 250.8h1.4M167.3 248.9h1.4M167.6 248.8h1.4M167.8 249.0h1.4M168.1 251.8h1.4M168.4 247.4h1.4M168.6 249.2h1.4M168.9 249.3h1.4M169.1 249.0h1.4M169.4 249.0h1.4M169.7 248.1h1.4M169.9 250.5h1.4M170.2 250.0h1.4M170.5 248.2h1.4M170.7 248.4h1.4M171.0 249.2h1.4M171.2 249.5h1.4M171.5 249.8h1.4M171.8 248.7h1.4M172.0 246.9h1.4M172.3 250.2h1.4M172.5 246.4h1.4M172.8 247.4h1.4M173.1 249.3h1.4M173.3 247.5h1.4" fill="none" stroke="#6DB31E" stroke-opacity="0.3" stroke-width="1.2"/>
<path d="M27.7 235.2h1.4M27.9 235.6h1.4M28.2 234.9h1.4M28.5 233.6h1.4M28.7 233.4h1.4M29.0 233.7h1.4M29.2 232.8h1.4M29.5 236.3h1.4M29.8 232.2h1.4M30.0 235.2h1.4M30.3 234.0h1.4M30.5 233.6h1.4M30.8 234.8h1.4M31.1 235.1h1.4M31.3 234.6h1.4M31.6 233.0h1.4M31.9 232.1h1.4M32.1 232.1h1.4M32.4 234.6h1.4M32.6 234.3h1.4M32.9 234.5h1.4M33.2 232.3h1.4M33.4 236.2h1.4M33.7 231.1h1.4M33.9 233.8h1.4M34.2 234.3h1.4M34.5 232.5h1.4M34.7 231.4h1.4M35.0 232.5h1.4M35.2 231.4h1.4M35.5 232.9h1.4M35.8 231.2h1.4M36.0 231.1h1.4M36.3 233.3h1.4M36.5 230.9h1.4M36.8 232.9h1.4M37.1 233.0h1.4M37.3 234.6h1.4M37.6 233.6h1.4M37.8 231.9h1.4M38.1 235.2h1.4M38.4 232.1h1.4M38.6 232.6h1.4M38.9 232.7h1.4M39.1 236.7h1.4M39.4 233.4h1.4M39.7 232.2h1.4M39.9 234.4h1.4M40.2 233.1h1.4M40.4 237.0h1.4M40.7 232.2h1.4M41.0 234.3h1.4M41.2 231.9h1.4M41.5 236.2h1.4M41.8 232.2h1.4M42.0 233.7h1.4M42.3 232.0h1.4M42.5 234.8h1.4M42.8 234.3h1.4M43.1 229.8h1.4M43.3 234.6h1.4M43.6 234.4h1.4M43.8 233.8h1.4M44.1 235.0h1.4M44.4 231.5h1.4M44.6 230.6h1.4M44.9 234.5h1.4M45.1 236.1h1.4M45.4 231.5h1.4M45.7 231.7h1.4M45.9 232.1h1.4M46.2 231.6h1.4M46.4 234.8h1.4M46.7 233.7h1.4M47.0 235.6h1.4M47.2 235.7h1.4M47.5 231.9h1.4M47.7 234.5h1.4M48.0 229.9h1.4M48.3 233.4h1.4M48.5 234.5h1.4M48.8 232.3h1.4M49.0 230.7h1.4M49.3 232.8h1.4M49.6 235.4h1.4M49.8 233.0h1.4M50.1 231.4h1.4M50.3 234.3h1.4M50.6 234.8h1.4M50.9 232.0h1.4M51.1 233.4h1.4M51.4 235.3h1.4M51.7 234.2h1.4M51.9 234.8h1.4M52.2 233.2h1.4M52.4 233.5h1.4M52.7 231.8h1.4M53.0 232.5h1.4M53.2 236.1h1.4M53.5 233.0h1.4M53.7 232.3h1.4M54.0 233.0h1.4M54.3 232.1h1.4M54.5 234.6h1.4M54.8 235.2h1.4M55.0 232.3h1.4M55.3 235.4h1.4M55.6 237.1h1.4M55.8 232.2h1.4M56.1 234.9h1.4M56.3 234.3h1.4M56.6 236.0h1.4M56.9 235.9h1.4M57.1 235.6h1.4M57.4 234.4h1.4M57.6 233.3h1.4M57.9 237.5h1.4M58.2 232.7h1.4M58.4 235.7h1.4M58.7 235.6h1.4M58.9 232.8h1.4M59.2 234.0h1.4M59.5 236.3h1.4M59.7 231.0h1.4M60.0 235.3h1.4M60.2 233.6h1.4M60.5 233.6h1.4M60.8 231.7h1.4M61.0 234.7h1.4M61.3 232.4h1.4M61.6 235.2h1.4M61.8 232.2h1.4M62.1 235.2h1.4M62.3 234.6h1.4M62.6 231.1h1.4M62.9 233.6h1.4M63.1 233.9h1.4M63.4 230.6h1.4M63.6 233.5h1.4M63.9 235.4h1.4M64.2 232.9h1.4M64.4 236.0h1.4M64.7 232.4h1.4M64.9 232.2h1.4M65.2 235.0h1.4M65.5 235.1h1.4M65.7 233.9h1.4M66.0 234.2h1.4M66.2 235.7h1.4M66.5 233.3h1.4M66.8 237.4h1.4M67.0 234.9h1.4M67.3 234.9h1.4M67.5 234.7h1.4M67.8 233.8h1.4M68.1 236.2h1.4M68.3 233.4h1.4M68.6 234.6h1.4M68.8 235.3h1.4M69.1 236.5h1.4M69.4 236.2h1.4M69.6 233.8h1.4M69.9 235.9h1.4M70.1 234.3h1.4M70.4 232.7h1.4M70.7 232.8h1.4M70.9 232.0h1.4M71.2 234.9h1.4M71.5 236.2h1.4M71.7 232.9h1.4M72.0 234.0h1.4M72.2 232.7h1.4M72.5 234.5h1.4M72.8 232.7h1.4M73.0 233.2h1.4M73.3 233.4h1.4M73.5 233.8h1.4M73.8 234.0h1.4M74.1 234.2h1.4M74.3 234.3h1.4M74.6 233.1h1.4M74.8 235.5h1.4M75.1 232.0h1.4M75.4 234.8h1.4M75.6 233.2h1.4M75.9 234.9h1.4M76.1 235.1h1.4M76.4 231.6h1.4M76.7 235.2h1.4M76.9 236.8h1.4M77.2 235.9h1.4M77.4 235.3h1.4M77.7 231.5h1.4M78.0 234.5h1.4M78.2 233.4h1.4M78.5 236.4h1.4M78.7 234.3h1.4M79.0 233.9h1.4M79.3 232.1h1.4M79.5 236.0h1.4M79.8 234.0h1.4M80.0 234.5h1.4M80.3 236.6h1.4M80.6 235.0h1.4M80.8 235.4h1.4M81.1 238.7h1.4M81.4 234.1h1.4M81.6 234.2h1.4M81.9 235.8h1.4M82.1 237.2h1.4M82.4 232.8h1.4M82.7 234.7h1.4M82.9 233.6h1.4M83.2 233.0h1.4M83.4 236.0h1.4M83.7 233.9h1.4M84.0 235.6h1.4M84.2 235.3h1.4M84.5 235.4h1.4M84.7 235.3h1.4M85.0 233.6h1.4M85.3 235.1h1.4M85.5 235.6h1.4M85.8 235.8h1.4M86.0 234.8h1.4M86.3 236.8h1.4M86.6 236.2h1.4M86.8 235.5h1.4M87.1 236.3h1.4M87.3 235.6h1.4M87.6 236.4h1.4M87.9 232.4h1.4M88.1 233.4h1.4M88.4 234.8h1.4M88.6 235.6h1.4M88.9 232.1h1.4M89.2 235.1h1.4M89.4 235.7h1.4M89.7 235.1h1.4M89.9 235.1h1.4M90.2 233.4h1.4M90.5 235.7h1.4M90.7 232.4h1.4M91.0 237.0h1.4M91.3 234.6h1.4M91.5 237.3h1.4M91.8 232.9h1.4M92.0 236.2h1.4M92.3 235.8h1.4M92.6 234.3h1.4M92.8 233.8h1.4M93.1 237.5h1.4M93.3 236.3h1.4M93.6 238.0h1.4M93.9 235.6h1.4M94.1 236.0h1.4M94.4 236.4h1.4M94.6 236.9h1.4M94.9 236.5h1.4M95.2 237.1h1.4M95.4 235.1h1.4M95.7 233.6h1.4M95.9 239.0h1.4M96.2 236.2h1.4M96.5 236.6h1.4M96.7 235.2h1.4M97.0 237.5h1.4M97.2 236.3h1.4M97.5 237.7h1.4M97.8 235.0h1.4M98.0 235.9h1.4M98.3 236.3h1.4M98.5 235.5h1.4M98.8 236.5h1.4M99.1 238.5h1.4M99.3 235.2h1.4M99.6 235.7h1.4M99.8 236.4h1.4M100.1 234.7h1.4M100.4 234.3h1.4M100.6 237.9h1.4M100.9 237.4h1.4M101.2 233.8h1.4M101.4 234.0h1.4M101.7 237.4h1.4M101.9 238.1h1.4M102.2 237.3h1.4M102.5 237.1h1.4M102.7 238.8h1.4M103.0 236.3h1.4M103.2 238.3h1.4M103.5 238.2h1.4M103.8 234.9h1.4M104.0 237.4h1.4M104.3 236.5h1.4M104.5 235.4h1.4M104.8 235.2h1.4M105.1 236.9h1.4M105.3 236.4h1.4M105.6 237.7h1.4M105.8 233.8h1.4M106.1 235.5h1.4M106.4 238.2h1.4M106.6 236.5h1.4M106.9 235.4h1.4M107.1 235.8h1.4M107.4 233.7h1.4M107.7 234.4h1.4M107.9 237.4h1.4M108.2 236.7h1.4M108.4 238.6h1.4M108.7 236.2h1.4M109.0 236.4h1.4M109.2 232.4h1.4M109.5 236.5h1.4M109.7 239.9h1.4M110.0 237.7h1.4M110.3 236.5h1.4M110.5 238.6h1.4M110.8 238.0h1.4M111.1 237.3h1.4M111.3 236.2h1.4M111.6 237.0h1.4M111.8 238.1h1.4M112.1 235.5h1.4M112.4 237.6h1.4M112.6 237.6h1.4M112.9 238.9h1.4M113.1 238.0h1.4M113.4 235.8h1.4M113.7 239.3h1.4M113.9 237.0h1.4M114.2 235.7h1.4M114.4 237.5h1.4M114.7 236.5h1.4M115.0 238.6h1.4M115.2 234.9h1.4M115.5 235.2h1.4M115.7 236.6h1.4M116.0 239.7h1.4M116.3 238.6h1.4M116.5 235.5h1.4M116.8 234.3h1.4M117.0 236.5h1.4M117.3 235.1h1.4M117.6 237.9h1.4M117.8 237.3h1.4M118.1 237.0h1.4M118.3 236.4h1.4M118.6 239.4h1.4M118.9 235.6h1.4M119.1 235.0h1.4M119.4 238.9h1.4M119.6 239.2h1.4M119.9 236.6h1.4M120.2 238.1h1.4M120.4 240.8h1.4M120.7 235.9h1.4M121.0 236.9h1.4M121.2 237.9h1.4M121.5 233.9h1.4M121.7 237.0h1.4M122.0 238.4h1.4M122.3 237.1h1.4M122.5 238.8h1.4M122.8 238.4h1.4M123.0 236.6h1.4M123.3 238.1h1.4M123.6 238.0h1.4M123.8 234.7h1.4M124.1 236.0h1.4M124.3 236.1h1.4M124.6 236.5h1.4M124.9 236.6h1.4M125.1 235.1h1.4M125.4 237.4h1.4M125.6 234.5h1.4M125.9 238.8h1.4M126.2 237.8h1.4M126.4 239.5h1.4M126.7 237.9h1.4M126.9 236.6h1.4M127.2 235.2h1.4M127.5 238.5h1.4M127.7 237.4h1.4M128.0 238.0h1.4M128.2 238.6h1.4M128.5 239.3h1.4M128.8 237.4h1.4M129.0 240.2h1.4M129.3 237.3h1.4M129.5 237.5h1.4M129.8 238.5h1.4M130.1 239.1h1.4M130.3 239.7h1.4M130.6 234.7h1.4M130.9 239.6h1.4M131.1 235.2h1.4M131.4 236.7h1.4M131.6 238.2h1.4M131.9 239.4h1.4M132.2 236.0h1.4M132.4 235.0h1.4M132.7 239.1h1.4M132.9 238.1h1.4M133.2 236.0h1.4M133.5 237.1h1.4M133.7 234.6h1.4M134.0 238.6h1.4M134.2 236.9h1.4M134.5 239.6h1.4M134.8 234.5h1.4M135.0 238.8h1.4M135.3 241.1h1.4M135.5 237.9h1.4M135.8 238.0h1.4M136.1 234.8h1.4M136.3 238.3h1.4M136.6 237.8h1.4M136.8 236.9h1.4M137.1 235.3h1.4M137.4 237.9h1.4M137.6 236.2h1.4M137.9 237.0h1.4M138.1 238.3h1.4M138.4 237.7h1.4M138.7 237.8h1.4M138.9 239.3h1.4M139.2 236.0h1.4M139.4 240.0h1.4M139.7 236.1h1.4M140.0 236.4h1.4M140.2 238.0h1.4M140.5 239.1h1.4M140.8 238.3h1.4M141.0 237.2h1.4M141.3 236.8h1.4M141.5 237.5h1.4M141.8 236.4h1.4M142.1 238.8h1.4M142.3 237.6h1.4M142.6 240.4h1.4M142.8 236.8h1.4M143.1 237.8h1.4M143.4 238.6h1.4M143.6 236.2h1.4M143.9 237.0h1.4M144.1 242.4h1.4M144.4 238.0h1.4M144.7 240.3h1.4M144.9 236.4h1.4M145.2 234.2h1.4M145.4 238.9h1.4M145.7 238.0h1.4M146.0 238.5h1.4M146.2 237.6h1.4M146.5 237.1h1.4M146.7 236.1h1.4M147.0 239.6h1.4M147.3 235.7h1.4M147.5 239.6h1.4M147.8 237.7h1.4M148.0 236.4h1.4M148.3 237.1h1.4M148.6 239.6h1.4M148.8 239.3h1.4M149.1 238.9h1.4M149.3 238.3h1.4M149.6 236.4h1.4M149.9 240.2h1.4M150.1 237.5h1.4M150.4 237.3h1.4M150.7 237.4h1.4M150.9 237.5h1.4M151.2 235.9h1.4M151.4 237.5h1.4M151.7 236.9h1.4M152.0 237.4h1.4M152.2 235.5h1.4M152.5 241.2h1.4M152.7 236.3h1.4M153.0 238.7h1.4M153.3 238.7h1.4M153.5 239.8h1.4M153.8 241.2h1.4M154.0 238.9h1.4M154.3 239.4h1.4M154.6 237.6h1.4M154.8 240.6h1.4M155.1 236.2h1.4M155.3 238.0h1.4M155.6 238.8h1.4M155.9 239.5h1.4M156.1 239.6h1.4M156.4 240.1h1.4M156.6 239.2h1.4M156.9 238.4h1.4M157.2 238.7h1.4M157.4 240.6h1.4M157.7 238.8h1.4M157.9 239.8h1.4M158.2 238.2h1.4M158.5 235.6h1.4M158.7 237.5h1.4M159.0 239.0h1.4M159.2 241.0h1.4M159.5 240.7h1.4M159.8 241.1h1.4M160.0 237.4h1.4M160.3 239.7h1.4M160.6 238.4h1.4M160.8 239.5h1.4M161.1 238.4h1.4M161.3 236.4h1.4M161.6 239.6h1.4M161.9 239.1h1.4M162.1 239.8h1.4M162.4 237.2h1.4M162.6 240.1h1.4M162.9 240.3h1.4M163.2 240.7h1.4M163.4 240.8h1.4M163.7 237.9h1.4M163.9 234.7h1.4M164.2 240.1h1.4M164.5 237.2h1.4M164.7 238.2h1.4M165.0 240.3h1.4M165.2 239.1h1.4M165.5 239.0h1.4M165.8 239.7h1.4M166.0 235.7h1.4M166.3 241.6h1.4M166.5 238.1h1.4M166.8 238.2h1.4M167.1 239.6h1.4M167.3 238.5h1.4M167.6 237.4h1.4M167.8 238.5h1.4M168.1 238.1h1.4M168.4 237.7h1.4M168.6 241.8h1.4M168.9 236.5h1.4M169.1 235.2h1.4M169.4 237.2h1.4M169.7 237.2h1.4M169.9 240.9h1.4M170.2 238.9h1.4M170.5 240.0h1.4M170.7 239.7h1.4M171.0 237.3h1.4M171.2 240.0h1.4M171.5 239.0h1.4M171.8 241.7h1.4M172.0 239.0h1.4M172.3 238.7h1.4M172.5 239.9h1.4M172.8 239.9h1.4M173.1 235.9h1.4M173.3 240.7h1.4" fill="none" stroke="#FF8C00" stroke-opacity="0.3" stroke-width="1.2"/>
<polyline points="28.38,247.76 30.02,247.59 31.65,247.61 33.29,247.59 34.93,247.66 36.56,247.69 38.20,247.58 39.84,247.49 41.47,247.46 43.11,247.48 44.75,247.51 46.38,247.66 48.02,247.74 49.65,247.79 51.29,247.88 52.93,248.10 54.56,248.15 56.20,248.34 57.84,248.19 59.47,247.98 61.11,247.94 62.75,247.83 64.38,247.80 66.02,247.69 67.65,247.60 69.29,247.82 70.93,248.07 72.56,248.13 74.20,248.26 75.84,248.32 77.47,248.29 79.11,248.35 80.75,248.19 82.38,248.12 84.02,248.17 85.65,248.14 87.29,248.08 88.93,248.18 90.56,248.20 92.20,248.23 93.84,248.18 95.47,248.06 97.11,248.21 98.75,248.23 100.38,248.21 102.02,248.17 103.65,248.27 105.29,248.36 106.93,248.40 108.56,248.24 110.20,248.30 111.84,248.16 113.47,248.08 115.11,248.09 116.75,247.97 118.38,248.09 120.02,248.01 121.65,247.93 123.29,248.10 124.93,248.20 126.56,248.21 128.20,248.26 129.84,248.18 131.47,248.26 133.11,248.28 134.75,248.51 136.38,248.47 138.02,248.55 139.65,248.54 141.29,248.46 142.93,248.43 144.56,248.41 146.20,248.12 147.84,248.13 149.47,248.01 151.11,248.07 152.75,248.23 154.38,248.15 156.02,248.11 157.65,248.01 159.29,248.01 160.93,247.95 162.56,247.91 164.20,247.79 165.84,247.81 167.47,247.78 169.11,247.90 170.75,247.94 172.38,247.80 174.02,247.80" fill="none" stroke="#000000" stroke-width="1.5" stroke-linejoin="round"/>
<polyline points="28.38,246.97 30.02,246.91 31.65,247.05 33.29,247.27 34.93,247.44 36.56,247.39 38.20,247.57 39.84,247.64 41.47,247.80 43.11,247.93 44.75,247.87 46.38,247.90 48.02,247.88 49.65,247.85 51.29,247.62 52.93,247.48 54.56,247.44 56.20,247.52 57.84,247.71 59.47,247.87 61.11,248.01 62.75,248.19 64.38,248.25 66.02,248.18 67.65,248.13 69.29,247.83 70.93,247.70 72.56,247.82 74.20,247.98 75.84,248.19 77.47,248.15 79.11,248.11 80.75,248.16 82.38,248.43 84.02,248.38 85.65,248.42 87.29,248.36 88.93,248.56 90.56,248.69 92.20,248.85 93.84,248.74 95.47,248.80 97.11,248.87 98.75,248.95 100.38,249.04 102.02,249.09 103.65,249.15 105.29,249.28 106.93,249.41 108.56,249.60 110.20,249.61 111.84,249.75 113.47,249.86 115.11,249.91 116.75,250.17 118.38,250.32 120.02,250.34 121.65,250.59 123.29,250.71 124.93,250.81 126.56,250.97 128.20,250.91 129.84,250.97 131.47,251.01 133.11,251.11 134.75,251.11 136.38,251.23 138.02,251.30 139.65,251.46 141.29,251.61 142.93,251.71 144.56,251.72 146.20,251.83 147.84,252.03 149.47,252.08 151.11,251.94 152.75,251.97 154.38,252.05 156.02,252.14 157.65,252.41 159.29,252.43 160.93,252.62 162.56,252.80 164.20,252.89 165.84,253.07 167.47,253.20 169.11,253.07 170.75,253.22 172.38,253.25 174.02,253.56" fill="none" stroke="#1565D2" stroke-width="1.5" stroke-linejoin="round"/>
<polyline points="28.38,248.22 30.02,248.08 31.65,248.06 33.29,248.25 34.93,248.29 36.56,248.31 38.20,248.40 39.84,248.47 41.47,248.68 43.11,248.96 44.75,249.01 46.38,249.21 48.02,249.23 49.65,249.26 51.29,249.42 52.93,249.31 54.56,249.08 56.20,249.02 57.84,248.73 59.47,248.59 61.11,248.69 62.75,248.48 64.38,248.51 66.02,248.55 67.65,248.49 69.29,248.69 70.93,248.90 72.56,248.87 74.20,249.03 75.84,249.08 77.47,249.24 79.11,249.40 80.75,249.30 82.38,249.27 84.02,249.17 85.65,249.27 87.29,249.33 88.93,249.26 90.56,249.18 92.20,249.28 93.84,249.20 95.47,249.24 97.11,249.08 98.75,249.02 100.38,248.92 102.02,248.96 103.65,248.82 105.29,248.85 106.93,248.84 108.56,248.83 110.20,248.79 111.84,248.76 113.47,248.64 115.11,248.70 116.75,248.66 118.38,248.65 120.02,248.55 121.65,248.59 123.29,248.84 124.93,248.80 126.56,248.81 128.20,248.97 129.84,248.99 131.47,249.16 133.11,248.98 134.75,248.76 136.38,248.99 138.02,248.95 139.65,248.88 141.29,248.70 142.93,248.71 144.56,249.05 146.20,249.08 147.84,248.97 149.47,249.04 151.11,249.17 152.75,249.28 154.38,249.04 156.02,249.00 157.65,248.90 159.29,248.90 160.93,248.66 162.56,248.43 164.20,248.47 165.84,248.50 167.47,248.29 169.11,248.41 170.75,248.29 172.38,248.51 174.02,248.68" fill="none" stroke="#6DB31E" stroke-width="1.5" stroke-linejoin="round"/>
<polyline points="28.38,233.08 30.02,233.34 31.65,233.34 33.29,233.23 34.93,233.34 36.56,233.20 38.20,233.07 39.84,233.17 41.47,233.16 43.11,233.30 44.75,233.35 46.38,233.33 48.02,233.42 49.65,233.65 51.29,233.60 52.93,233.75 54.56,233.67 56.20,233.83 57.84,234.01 59.47,233.99 61.11,233.88 62.75,234.01 64.38,233.91 66.02,234.06 67.65,234.16 69.29,234.16 70.93,234.39 72.56,234.58 74.20,234.63 75.84,234.70 77.47,234.64 79.11,234.74 80.75,234.71 82.38,234.75 84.02,234.78 85.65,234.80 87.29,235.01 88.93,235.03 90.56,235.09 92.20,235.44 93.84,235.42 95.47,235.59 97.11,235.78 98.75,236.16 100.38,236.37 102.02,236.40 103.65,236.31 105.29,236.41 106.93,236.31 108.56,236.37 110.20,236.10 111.84,236.33 113.47,236.51 115.11,236.56 116.75,236.69 118.38,237.02 120.02,237.06 121.65,237.23 123.29,237.30 124.93,237.30 126.56,237.50 128.20,237.73 129.84,237.78 131.47,237.72 133.11,237.90 134.75,237.87 136.38,237.91 138.02,237.88 139.65,237.90 141.29,237.89 142.93,238.09 144.56,237.94 146.20,238.07 147.84,238.28 149.47,238.30 151.11,238.15 152.75,238.14 154.38,238.25 156.02,238.33 157.65,238.31 159.29,238.19 160.93,238.43 162.56,238.56 164.20,238.65 165.84,238.73 167.47,238.79 169.11,238.83 170.75,238.98 172.38,238.88 174.02,239.04" fill="none" stroke="#FF8C00" stroke-width="1.5" stroke-linejoin="round"/>
<rect x="21.1" y="161.9" width="160.2" height="165.8" fill="none" stroke="#333333" stroke-width="1.1"/>
<rect x="21.1" y="138.6" width="160.2" height="23.3" fill="#CCCCCC" stroke="#333333" stroke-width="1.1"/>
<text transform="translate(101.20,153.05) scale(0.926,1)" text-anchor="middle" font-family='"Liberation Sans", sans-serif' font-size="9.72" fill="#1A1A1A">Pattern 1<tspan dx="12.2" dy="-1" font-family='"Liberation Serif", serif' font-style="italic" font-size="10.8">ψ</tspan><tspan dy="1"> = 0</tspan></text>
<line x1="17.3" x2="21.1" y1="297.4" y2="297.4" stroke="#444" stroke-width="0.9"/>
<text transform="translate(13.50,300.87) scale(0.926,1)" text-anchor="end" font-family='"Liberation Sans", sans-serif' font-size="9.94" fill="#333333">0</text>
<line x1="17.3" x2="21.1" y1="262.33" y2="262.33" stroke="#444" stroke-width="0.9"/>
<text transform="translate(13.50,265.80) scale(0.926,1)" text-anchor="end" font-family='"Liberation Sans", sans-serif' font-size="9.94" fill="#333333">0.1</text>
<line x1="17.3" x2="21.1" y1="227.26" y2="227.26" stroke="#444" stroke-width="0.9"/>
<text transform="translate(13.50,230.73) scale(0.926,1)" text-anchor="end" font-family='"Liberation Sans", sans-serif' font-size="9.94" fill="#333333">0.2</text>
<line x1="17.3" x2="21.1" y1="192.19" y2="192.19" stroke="#444" stroke-width="0.9"/>
<text transform="translate(13.50,195.66) scale(0.926,1)" text-anchor="end" font-family='"Liberation Sans", sans-serif' font-size="9.94" fill="#333333">0.3</text>
<rect x="188.55" y="161.9" width="160.2" height="165.8" fill="#fff"/>
<line x1="188.55" x2="348.75" y1="297.4" y2="297.4" stroke="#D4D4D4" stroke-width="0.9" stroke-dasharray="2.6 1.8"/>
<line x1="188.55" x2="348.75" y1="262.33" y2="262.33" stroke="#D4D4D4" stroke-width="0.9" stroke-dasharray="2.6 1.8"/>
<line x1="188.55" x2="348.75" y1="227.26" y2="227.26" stroke="#D4D4D4" stroke-width="0.9" stroke-dasharray="2.6 1.8"/>
<line x1="188.55" x2="348.75" y1="192.19" y2="192.19" stroke="#D4D4D4" stroke-width="0.9" stroke-dasharray="2.6 1.8"/>
<line x1="195.83" x2="195.83" y1="327.7" y2="161.9" stroke="#D4D4D4" stroke-width="0.9" stroke-dasharray="2.6 1.8"/>
<line x1="232.24" x2="232.24" y1="327.7" y2="161.9" stroke="#D4D4D4" stroke-width="0.9" stroke-dasharray="2.6 1.8"/>
<line x1="268.65" x2="268.65" y1="327.7" y2="161.9" stroke="#D4D4D4" stroke-width="0.9" stroke-dasharray="2.6 1.8"/>
<line x1="305.06" x2="305.06" y1="327.7" y2="161.9" stroke="#D4D4D4" stroke-width="0.9" stroke-dasharray="2.6 1.8"/>
<line x1="341.47" x2="341.47" y1="327.7" y2="161.9" stroke="#D4D4D4" stroke-width="0.9" stroke-dasharray="2.6 1.8"/>
<path d="M195.1 269.8h1.4M195.4 269.2h1.4M195.7 269.3h1.4M195.9 268.4h1.4M196.2 271.1h1.4M196.4 271.5h1.4M196.7 269.4h1.4M197.0 269.1h1.4M197.2 267.0h1.4M197.5 268.9h1.4M197.7 270.7h1.4M198.0 268.6h1.4M198.3 270.6h1.4M198.5 271.4h1.4M198.8 266.4h1.4M199.0 269.2h1.4M199.3 268.7h1.4M199.6 268.9h1.4M199.8 267.4h1.4M200.1 269.2h1.4M200.3 268.1h1.4M200.6 270.8h1.4M200.9 271.3h1.4M201.1 267.8h1.4M201.4 267.7h1.4M201.6 268.9h1.4M201.9 269.3h1.4M202.2 269.3h1.4M202.4 270.4h1.4M202.7 267.6h1.4M202.9 268.7h1.4M203.2 268.9h1.4M203.5 269.0h1.4M203.7 268.2h1.4M204.0 268.9h1.4M204.3 268.6h1.4M204.5 270.9h1.4M204.8 268.9h1.4M205.0 266.8h1.4M205.3 270.1h1.4M205.6 269.6h1.4M205.8 268.4h1.4M206.1 268.3h1.4M206.3 268.7h1.4M206.6 271.4h1.4M206.9 268.8h1.4M207.1 270.9h1.4M207.4 270.5h1.4M207.6 268.8h1.4M207.9 269.8h1.4M208.2 268.4h1.4M208.4 265.6h1.4M208.7 268.5h1.4M208.9 268.5h1.4M209.2 270.5h1.4M209.5 270.2h1.4M209.7 270.7h1.4M210.0 270.1h1.4M210.2 270.8h1.4M210.5 270.2h1.4M210.8 269.7h1.4M211.0 270.6h1.4M211.3 271.1h1.4M211.5 271.1h1.4M211.8 268.8h1.4M212.1 269.3h1.4M212.3 268.1h1.4M212.6 268.1h1.4M212.8 269.8h1.4M213.1 268.6h1.4M213.4 271.2h1.4M213.6 266.6h1.4M213.9 267.9h1.4M214.2 269.6h1.4M214.4 270.8h1.4M214.7 268.9h1.4M214.9 271.7h1.4M215.2 270.3h1.4M215.5 268.5h1.4M215.7 269.3h1.4M216.0 270.0h1.4M216.2 268.2h1.4M216.5 270.6h1.4M216.8 269.0h1.4M217.0 270.0h1.4M217.3 270.4h1.4M217.5 268.8h1.4M217.8 270.6h1.4M218.1 267.0h1.4M218.3 270.1h1.4M218.6 266.9h1.4M218.8 270.7h1.4M219.1 268.6h1.4M219.4 270.8h1.4M219.6 271.0h1.4M219.9 269.2h1.4M220.1 268.5h1.4M220.4 270.9h1.4M220.7 267.9h1.4M220.9 270.3h1.4M221.2 269.2h1.4M221.4 268.9h1.4M221.7 268.6h1.4M222.0 271.6h1.4M222.2 267.4h1.4M222.5 268.7h1.4M222.7 269.9h1.4M223.0 270.6h1.4M223.3 271.4h1.4M223.5 271.0h1.4M223.8 268.7h1.4M224.1 269.8h1.4M224.3 270.7h1.4M224.6 270.0h1.4M224.8 267.4h1.4M225.1 269.8h1.4M225.4 270.1h1.4M225.6 267.7h1.4M225.9 268.8h1.4M226.1 269.3h1.4M226.4 270.1h1.4M226.7 271.3h1.4M226.9 270.8h1.4M227.2 269.9h1.4M227.4 269.6h1.4M227.7 268.9h1.4M228.0 268.7h1.4M228.2 269.1h1.4M228.5 269.1h1.4M228.7 270.6h1.4M229.0 272.0h1.4M229.3 270.0h1.4M229.5 270.5h1.4M229.8 270.1h1.4M230.0 269.7h1.4M230.3 270.9h1.4M230.6 270.7h1.4M230.8 269.5h1.4M231.1 269.2h1.4M231.3 270.2h1.4M231.6 268.7h1.4M231.9 269.6h1.4M232.1 270.6h1.4M232.4 269.3h1.4M232.6 267.0h1.4M232.9 270.2h1.4M233.2 267.9h1.4M233.4 267.7h1.4M233.7 267.5h1.4M234.0 270.4h1.4M234.2 266.9h1.4M234.5 269.2h1.4M234.7 269.7h1.4M235.0 269.6h1.4M235.3 268.6h1.4M235.5 269.3h1.4M235.8 269.6h1.4M236.0 267.8h1.4M236.3 270.3h1.4M236.6 270.7h1.4M236.8 268.4h1.4M237.1 268.5h1.4M237.3 268.0h1.4M237.6 270.7h1.4M237.9 268.1h1.4M238.1 268.8h1.4M238.4 267.2h1.4M238.6 270.9h1.4M238.9 269.1h1.4M239.2 269.8h1.4M239.4 271.4h1.4M239.7 270.3h1.4M239.9 268.1h1.4M240.2 270.0h1.4M240.5 270.3h1.4M240.7 268.4h1.4M241.0 268.2h1.4M241.2 268.3h1.4M241.5 270.4h1.4M241.8 269.5h1.4M242.0 268.2h1.4M242.3 270.3h1.4M242.5 270.4h1.4M242.8 268.5h1.4M243.1 267.6h1.4M243.3 270.9h1.4M243.6 272.7h1.4M243.9 271.3h1.4M244.1 270.8h1.4M244.4 269.7h1.4M244.6 268.8h1.4M244.9 269.7h1.4M245.2 270.4h1.4M245.4 269.4h1.4M245.7 270.8h1.4M245.9 269.7h1.4M246.2 270.4h1.4M246.5 266.3h1.4M246.7 268.6h1.4M247.0 270.7h1.4M247.2 270.9h1.4M247.5 270.2h1.4M247.8 271.7h1.4M248.0 270.6h1.4M248.3 270.6h1.4M248.5 268.6h1.4M248.8 270.2h1.4M249.1 270.7h1.4M249.3 271.3h1.4M249.6 271.2h1.4M249.8 269.8h1.4M250.1 270.0h1.4M250.4 268.4h1.4M250.6 270.5h1.4M250.9 268.5h1.4M251.1 269.5h1.4M251.4 269.8h1.4M251.7 272.2h1.4M251.9 271.4h1.4M252.2 268.9h1.4M252.4 268.1h1.4M252.7 269.6h1.4M253.0 268.9h1.4M253.2 270.3h1.4M253.5 270.3h1.4M253.8 270.7h1.4M254.0 268.7h1.4M254.3 269.5h1.4M254.5 270.2h1.4M254.8 270.3h1.4M255.1 269.2h1.4M255.3 269.5h1.4M255.6 271.0h1.4M255.8 267.8h1.4M256.1 269.6h1.4M256.4 270.0h1.4M256.6 268.2h1.4M256.9 268.7h1.4M257.1 270.1h1.4M257.4 269.4h1.4M257.7 271.3h1.4M257.9 270.8h1.4M258.2 272.8h1.4M258.4 268.6h1.4M258.7 272.4h1.4M259.0 269.2h1.4M259.2 271.1h1.4M259.5 271.3h1.4M259.7 270.3h1.4M260.0 269.8h1.4M260.3 269.4h1.4M260.5 268.0h1.4M260.8 269.7h1.4M261.0 269.1h1.4M261.3 270.9h1.4M261.6 269.3h1.4M261.8 270.0h1.4M262.1 270.8h1.4M262.3 270.3h1.4M262.6 270.3h1.4M262.9 270.0h1.4M263.1 269.7h1.4M263.4 270.9h1.4M263.7 271.1h1.4M263.9 269.3h1.4M264.2 272.3h1.4M264.4 271.0h1.4M264.7 268.4h1.4M265.0 273.6h1.4M265.2 271.1h1.4M265.5 269.5h1.4M265.7 272.3h1.4M266.0 267.2h1.4M266.3 273.5h1.4M266.5 268.6h1.4M266.8 268.5h1.4M267.0 269.3h1.4M267.3 270.6h1.4M267.6 269.9h1.4M267.8 271.5h1.4M268.1 269.4h1.4M268.3 271.8h1.4M268.6 270.8h1.4M268.9 269.2h1.4M269.1 271.8h1.4M269.4 270.9h1.4M269.6 270.3h1.4M269.9 272.1h1.4M270.2 269.1h1.4M270.4 270.1h1.4M270.7 272.3h1.4M270.9 270.6h1.4M271.2 271.4h1.4M271.5 271.3h1.4M271.7 270.4h1.4M272.0 271.4h1.4M272.2 269.4h1.4M272.5 271.4h1.4M272.8 269.4h1.4M273.0 270.6h1.4M273.3 269.5h1.4M273.6 271.2h1.4M273.8 271.2h1.4M274.1 272.0h1.4M274.3 269.9h1.4M274.6 269.5h1.4M274.9 268.1h1.4M275.1 269.1h1.4M275.4 270.4h1.4M275.6 270.9h1.4M275.9 270.2h1.4M276.2 270.7h1.4M276.4 268.9h1.4M276.7 269.6h1.4M276.9 271.7h1.4M277.2 271.6h1.4M277.5 269.1h1.4M277.7 270.4h1.4M278.0 271.0h1.4M278.2 269.3h1.4M278.5 271.2h1.4M278.8 271.1h1.4M279.0 271.4h1.4M279.3 273.2h1.4M279.5 269.8h1.4M279.8 272.3h1.4M280.1 271.5h1.4M280.3 271.7h1.4M280.6 270.0h1.4M280.8 270.9h1.4M281.1 270.9h1.4M281.4 272.9h1.4M281.6 271.0h1.4M281.9 272.7h1.4M282.1 270.5h1.4M282.4 270.5h1.4M282.7 271.0h1.4M282.9 268.5h1.4M283.2 270.3h1.4M283.5 270.2h1.4M283.7 270.8h1.4M284.0 271.2h1.4M284.2 269.8h1.4M284.5 269.7h1.4M284.8 272.6h1.4M285.0 269.8h1.4M285.3 270.4h1.4M285.5 269.9h1.4M285.8 270.5h1.4M286.1 272.6h1.4M286.3 272.5h1.4M286.6 268.9h1.4M286.8 270.8h1.4M287.1 272.8h1.4M287.4 270.7h1.4M287.6 271.6h1.4M287.9 273.4h1.4M288.1 273.9h1.4M288.4 273.1h1.4M288.7 270.8h1.4M288.9 271.2h1.4M289.2 271.5h1.4M289.4 270.9h1.4M289.7 270.5h1.4M290.0 273.8h1.4M290.2 271.6h1.4M290.5 272.2h1.4M290.7 272.7h1.4M291.0 271.9h1.4M291.3 271.4h1.4M291.5 271.6h1.4M291.8 273.0h1.4M292.0 271.9h1.4M292.3 268.9h1.4M292.6 272.6h1.4M292.8 273.4h1.4M293.1 271.0h1.4M293.4 270.6h1.4M293.6 270.8h1.4M293.9 272.7h1.4M294.1 270.2h1.4M294.4 272.3h1.4M294.7 272.8h1.4M294.9 272.2h1.4M295.2 271.6h1.4M295.4 270.6h1.4M295.7 270.7h1.4M296.0 271.5h1.4M296.2 270.4h1.4M296.5 271.4h1.4M296.7 270.4h1.4M297.0 273.2h1.4M297.3 273.4h1.4M297.5 270.6h1.4M297.8 273.2h1.4M298.0 271.9h1.4M298.3 271.7h1.4M298.6 272.2h1.4M298.8 272.1h1.4M299.1 269.9h1.4M299.3 274.6h1.4M299.6 270.6h1.4M299.9 268.9h1.4M300.1 271.6h1.4M300.4 271.7h1.4M300.6 270.8h1.4M300.9 269.5h1.4M301.2 273.1h1.4M301.4 271.6h1.4M301.7 271.9h1.4M301.9 271.0h1.4M302.2 271.5h1.4M302.5 270.9h1.4M302.7 272.2h1.4M303.0 271.7h1.4M303.3 272.6h1.4M303.5 272.6h1.4M303.8 271.9h1.4M304.0 272.0h1.4M304.3 273.2h1.4M304.6 269.9h1.4M304.8 272.0h1.4M305.1 273.5h1.4M305.3 270.5h1.4M305.6 272.7h1.4M305.9 271.2h1.4M306.1 271.9h1.4M306.4 271.6h1.4M306.6 271.7h1.4M306.9 272.6h1.4M307.2 271.9h1.4M307.4 269.5h1.4M307.7 274.6h1.4M307.9 271.9h1.4M308.2 271.4h1.4M308.5 273.2h1.4M308.7 273.6h1.4M309.0 269.4h1.4M309.2 272.4h1.4M309.5 269.5h1.4M309.8 271.4h1.4M310.0 271.9h1.4M310.3 271.5h1.4M310.5 271.3h1.4M310.8 270.6h1.4M311.1 271.5h1.4M311.3 271.9h1.4M311.6 271.9h1.4M311.8 270.5h1.4M312.1 271.1h1.4M312.4 273.3h1.4M312.6 272.9h1.4M312.9 271.7h1.4M313.2 272.9h1.4M313.4 272.6h1.4M313.7 273.3h1.4M313.9 272.5h1.4M314.2 271.7h1.4M314.5 271.0h1.4M314.7 272.2h1.4M315.0 269.7h1.4M315.2 272.3h1.4M315.5 268.4h1.4M315.8 271.0h1.4M316.0 271.7h1.4M316.3 272.9h1.4M316.5 275.6h1.4M316.8 272.5h1.4M317.1 272.1h1.4M317.3 270.0h1.4M317.6 273.9h1.4M317.8 270.1h1.4M318.1 272.6h1.4M318.4 271.5h1.4M318.6 275.4h1.4M318.9 272.2h1.4M319.1 272.8h1.4M319.4 271.6h1.4M319.7 272.3h1.4M319.9 273.8h1.4M320.2 271.3h1.4M320.4 271.6h1.4M320.7 271.7h1.4M321.0 271.2h1.4M321.2 271.1h1.4M321.5 272.5h1.4M321.7 274.1h1.4M322.0 274.1h1.4M322.3 270.9h1.4M322.5 271.7h1.4M322.8 272.4h1.4M323.1 273.0h1.4M323.3 272.5h1.4M323.6 272.5h1.4M323.8 272.9h1.4M324.1 273.4h1.4M324.4 270.0h1.4M324.6 272.3h1.4M324.9 273.3h1.4M325.1 274.1h1.4M325.4 273.5h1.4M325.7 271.8h1.4M325.9 271.7h1.4M326.2 272.9h1.4M326.4 272.6h1.4M326.7 273.0h1.4M327.0 274.0h1.4M327.2 271.1h1.4M327.5 272.2h1.4M327.7 269.8h1.4M328.0 273.6h1.4M328.3 272.9h1.4M328.5 271.7h1.4M328.8 273.0h1.4M329.0 274.4h1.4M329.3 273.9h1.4M329.6 272.7h1.4M329.8 272.4h1.4M330.1 272.9h1.4M330.3 271.6h1.4M330.6 271.6h1.4M330.9 272.4h1.4M331.1 272.8h1.4M331.4 273.1h1.4M331.6 272.2h1.4M331.9 271.8h1.4M332.2 272.8h1.4M332.4 272.3h1.4M332.7 273.3h1.4M333.0 274.6h1.4M333.2 274.1h1.4M333.5 272.0h1.4M333.7 272.4h1.4M334.0 271.1h1.4M334.3 272.9h1.4M334.5 271.9h1.4M334.8 271.4h1.4M335.0 271.8h1.4M335.3 273.7h1.4M335.6 273.2h1.4M335.8 272.9h1.4M336.1 274.2h1.4M336.3 272.5h1.4M336.6 271.8h1.4M336.9 273.6h1.4M337.1 270.7h1.4M337.4 273.4h1.4M337.6 273.3h1.4M337.9 273.4h1.4M338.2 273.9h1.4M338.4 272.6h1.4M338.7 273.1h1.4M338.9 271.2h1.4M339.2 272.4h1.4M339.5 272.5h1.4M339.7 273.4h1.4M340.0 274.8h1.4M340.2 273.3h1.4M340.5 274.2h1.4M340.8 272.1h1.4" fill="none" stroke="#000000" stroke-opacity="0.3" stroke-width="1.2"/>
<path d="M195.1 270.1h1.4M195.4 268.0h1.4M195.7 269.1h1.4M195.9 269.0h1.4M196.2 269.7h1.4M196.4 269.7h1.4M196.7 269.1h1.4M197.0 268.8h1.4M197.2 270.8h1.4M197.5 269.3h1.4M197.7 266.7h1.4M198.0 270.0h1.4M198.3 270.2h1.4M198.5 270.7h1.4M198.8 271.6h1.4M199.0 268.3h1.4M199.3 269.7h1.4M199.6 269.4h1.4M199.8 267.5h1.4M200.1 266.7h1.4M200.3 270.8h1.4M200.6 268.4h1.4M200.9 268.9h1.4M201.1 269.2h1.4M201.4 269.1h1.4M201.6 269.7h1.4M201.9 267.7h1.4M202.2 268.8h1.4M202.4 269.2h1.4M202.7 268.0h1.4M202.9 268.4h1.4M203.2 269.0h1.4M203.5 269.1h1.4M203.7 267.3h1.4M204.0 268.9h1.4M204.3 269.6h1.4M204.5 270.5h1.4M204.8 269.8h1.4M205.0 270.7h1.4M205.3 269.3h1.4M205.6 269.1h1.4M205.8 271.9h1.4M206.1 269.3h1.4M206.3 268.5h1.4M206.6 269.1h1.4M206.9 270.5h1.4M207.1 267.7h1.4M207.4 270.1h1.4M207.6 270.7h1.4M207.9 270.6h1.4M208.2 269.2h1.4M208.4 268.0h1.4M208.7 267.7h1.4M208.9 268.9h1.4M209.2 270.6h1.4M209.5 269.9h1.4M209.7 270.2h1.4M210.0 269.3h1.4M210.2 271.3h1.4M210.5 268.9h1.4M210.8 268.2h1.4M211.0 269.2h1.4M211.3 268.4h1.4M211.5 270.1h1.4M211.8 270.8h1.4M212.1 269.7h1.4M212.3 267.5h1.4M212.6 267.6h1.4M212.8 269.5h1.4M213.1 267.4h1.4M213.4 269.3h1.4M213.6 267.0h1.4M213.9 268.2h1.4M214.2 269.4h1.4M214.4 267.8h1.4M214.7 269.7h1.4M214.9 269.9h1.4M215.2 270.5h1.4M215.5 268.4h1.4M215.7 268.8h1.4M216.0 268.8h1.4M216.2 269.2h1.4M216.5 266.9h1.4M216.8 269.2h1.4M217.0 269.5h1.4M217.3 267.0h1.4M217.5 266.8h1.4M217.8 268.1h1.4M218.1 270.7h1.4M218.3 269.3h1.4M218.6 267.7h1.4M218.8 268.5h1.4M219.1 266.5h1.4M219.4 270.1h1.4M219.6 267.6h1.4M219.9 269.2h1.4M220.1 266.8h1.4M220.4 268.5h1.4M220.7 267.1h1.4M220.9 269.1h1.4M221.2 270.1h1.4M221.4 269.7h1.4M221.7 269.0h1.4M222.0 269.5h1.4M222.2 266.8h1.4M222.5 266.6h1.4M222.7 267.9h1.4M223.0 269.5h1.4M223.3 268.3h1.4M223.5 269.0h1.4M223.8 266.3h1.4M224.1 267.7h1.4M224.3 267.5h1.4M224.6 268.6h1.4M224.8 270.6h1.4M225.1 269.0h1.4M225.4 269.4h1.4M225.6 267.6h1.4M225.9 267.9h1.4M226.1 269.0h1.4M226.4 268.4h1.4M226.7 266.0h1.4M226.9 269.1h1.4M227.2 269.0h1.4M227.4 268.2h1.4M227.7 268.7h1.4M228.0 268.4h1.4M228.2 267.2h1.4M228.5 265.6h1.4M228.7 270.0h1.4M229.0 267.8h1.4M229.3 267.7h1.4M229.5 267.8h1.4M229.8 268.0h1.4M230.0 268.1h1.4M230.3 266.4h1.4M230.6 268.2h1.4M230.8 267.8h1.4M231.1 267.6h1.4M231.3 267.5h1.4M231.6 267.8h1.4M231.9 266.3h1.4M232.1 267.6h1.4M232.4 267.3h1.4M232.6 267.6h1.4M232.9 268.8h1.4M233.2 268.5h1.4M233.4 268.8h1.4M233.7 267.2h1.4M234.0 268.3h1.4M234.2 268.7h1.4M234.5 267.1h1.4M234.7 266.7h1.4M235.0 269.6h1.4M235.3 265.2h1.4M235.5 267.3h1.4M235.8 267.4h1.4M236.0 265.9h1.4M236.3 267.2h1.4M236.6 268.0h1.4M236.8 264.5h1.4M237.1 268.6h1.4M237.3 267.3h1.4M237.6 266.1h1.4M237.9 268.5h1.4M238.1 267.3h1.4M238.4 266.6h1.4M238.6 264.1h1.4M238.9 268.2h1.4M239.2 267.1h1.4M239.4 266.2h1.4M239.7 266.9h1.4M239.9 268.5h1.4M240.2 266.5h1.4M240.5 266.8h1.4M240.7 266.4h1.4M241.0 265.5h1.4M241.2 265.6h1.4M241.5 266.4h1.4M241.8 266.5h1.4M242.0 268.3h1.4M242.3 267.0h1.4M242.5 266.6h1.4M242.8 267.3h1.4M243.1 266.7h1.4M243.3 267.8h1.4M243.6 264.8h1.4M243.9 264.0h1.4M244.1 267.2h1.4M244.4 266.2h1.4M244.6 267.0h1.4M244.9 265.1h1.4M245.2 266.1h1.4M245.4 266.5h1.4M245.7 266.9h1.4M245.9 266.4h1.4M246.2 267.9h1.4M246.5 265.7h1.4M246.7 267.5h1.4M247.0 265.9h1.4M247.2 266.3h1.4M247.5 265.1h1.4M247.8 266.5h1.4M248.0 265.2h1.4M248.3 267.6h1.4M248.5 265.7h1.4M248.8 266.7h1.4M249.1 266.1h1.4M249.3 266.3h1.4M249.6 265.2h1.4M249.8 268.9h1.4M250.1 265.9h1.4M250.4 268.2h1.4M250.6 264.7h1.4M250.9 268.8h1.4M251.1 267.5h1.4M251.4 268.3h1.4M251.7 264.1h1.4M251.9 267.8h1.4M252.2 266.0h1.4M252.4 266.8h1.4M252.7 268.4h1.4M253.0 266.5h1.4M253.2 265.2h1.4M253.5 266.3h1.4M253.8 264.8h1.4M254.0 266.5h1.4M254.3 266.0h1.4M254.5 266.5h1.4M254.8 265.5h1.4M255.1 263.5h1.4M255.3 265.5h1.4M255.6 265.7h1.4M255.8 266.7h1.4M256.1 266.8h1.4M256.4 264.0h1.4M256.6 267.2h1.4M256.9 267.0h1.4M257.1 265.9h1.4M257.4 266.3h1.4M257.7 263.2h1.4M257.9 268.7h1.4M258.2 265.2h1.4M258.4 264.8h1.4M258.7 267.1h1.4M259.0 266.5h1.4M259.2 265.1h1.4M259.5 263.5h1.4M259.7 266.7h1.4M260.0 267.6h1.4M260.3 264.3h1.4M260.5 263.5h1.4M260.8 265.9h1.4M261.0 268.3h1.4M261.3 263.6h1.4M261.6 265.7h1.4M261.8 263.9h1.4M262.1 265.4h1.4M262.3 265.8h1.4M262.6 265.9h1.4M262.9 263.4h1.4M263.1 263.4h1.4M263.4 268.0h1.4M263.7 266.4h1.4M263.9 262.9h1.4M264.2 265.6h1.4M264.4 266.9h1.4M264.7 265.1h1.4M265.0 265.2h1.4M265.2 265.2h1.4M265.5 265.7h1.4M265.7 265.4h1.4M266.0 265.6h1.4M266.3 264.5h1.4M266.5 266.0h1.4M266.8 265.3h1.4M267.0 265.1h1.4M267.3 263.2h1.4M267.6 264.3h1.4M267.8 264.9h1.4M268.1 264.1h1.4M268.3 264.2h1.4M268.6 263.3h1.4M268.9 264.0h1.4M269.1 262.3h1.4M269.4 262.9h1.4M269.6 264.7h1.4M269.9 265.1h1.4M270.2 263.4h1.4M270.4 263.8h1.4M270.7 264.6h1.4M270.9 266.4h1.4M271.2 266.8h1.4M271.5 263.9h1.4M271.7 263.4h1.4M272.0 263.3h1.4M272.2 265.9h1.4M272.5 262.9h1.4M272.8 264.9h1.4M273.0 263.7h1.4M273.3 263.6h1.4M273.6 265.1h1.4M273.8 264.8h1.4M274.1 266.7h1.4M274.3 265.2h1.4M274.6 266.3h1.4M274.9 263.4h1.4M275.1 263.8h1.4M275.4 262.7h1.4M275.6 263.4h1.4M275.9 264.6h1.4M276.2 263.3h1.4M276.4 264.2h1.4M276.7 262.9h1.4M276.9 263.2h1.4M277.2 264.9h1.4M277.5 263.5h1.4M277.7 263.4h1.4M278.0 263.9h1.4M278.2 262.3h1.4M278.5 261.2h1.4M278.8 263.8h1.4M279.0 263.8h1.4M279.3 266.2h1.4M279.5 263.4h1.4M279.8 263.8h1.4M280.1 266.0h1.4M280.3 262.7h1.4M280.6 262.3h1.4M280.8 264.0h1.4M281.1 263.5h1.4M281.4 264.2h1.4M281.6 261.9h1.4M281.9 264.8h1.4M282.1 263.2h1.4M282.4 260.2h1.4M282.7 262.6h1.4M282.9 262.1h1.4M283.2 262.8h1.4M283.5 264.1h1.4M283.7 262.6h1.4M284.0 262.0h1.4M284.2 263.8h1.4M284.5 262.0h1.4M284.8 260.7h1.4M285.0 260.9h1.4M285.3 264.4h1.4M285.5 263.5h1.4M285.8 264.3h1.4M286.1 260.7h1.4M286.3 261.3h1.4M286.6 261.1h1.4M286.8 263.2h1.4M287.1 263.5h1.4M287.4 261.8h1.4M287.6 261.7h1.4M287.9 262.9h1.4M288.1 261.6h1.4M288.4 260.9h1.4M288.7 261.4h1.4M288.9 263.0h1.4M289.2 264.4h1.4M289.4 261.9h1.4M289.7 261.3h1.4M290.0 261.8h1.4M290.2 262.0h1.4M290.5 262.3h1.4M290.7 260.3h1.4M291.0 261.3h1.4M291.3 261.0h1.4M291.5 262.4h1.4M291.8 261.9h1.4M292.0 260.8h1.4M292.3 262.3h1.4M292.6 262.6h1.4M292.8 261.3h1.4M293.1 259.3h1.4M293.4 260.6h1.4M293.6 258.8h1.4M293.9 260.9h1.4M294.1 261.1h1.4M294.4 262.5h1.4M294.7 261.3h1.4M294.9 258.6h1.4M295.2 260.0h1.4M295.4 259.4h1.4M295.7 259.4h1.4M296.0 260.3h1.4M296.2 260.6h1.4M296.5 260.1h1.4M296.7 259.3h1.4M297.0 259.5h1.4M297.3 259.4h1.4M297.5 259.8h1.4M297.8 261.0h1.4M298.0 260.3h1.4M298.3 261.2h1.4M298.6 258.5h1.4M298.8 262.6h1.4M299.1 260.1h1.4M299.3 256.5h1.4M299.6 260.1h1.4M299.9 261.1h1.4M300.1 259.6h1.4M300.4 257.8h1.4M300.6 259.7h1.4M300.9 258.6h1.4M301.2 259.3h1.4M301.4 259.8h1.4M301.7 255.0h1.4M301.9 259.1h1.4M302.2 259.9h1.4M302.5 259.8h1.4M302.7 258.6h1.4M303.0 258.5h1.4M303.3 258.0h1.4M303.5 258.8h1.4M303.8 260.9h1.4M304.0 258.2h1.4M304.3 259.3h1.4M304.6 259.2h1.4M304.8 260.8h1.4M305.1 259.5h1.4M305.3 259.6h1.4M305.6 258.7h1.4M305.9 260.5h1.4M306.1 258.4h1.4M306.4 258.3h1.4M306.6 259.9h1.4M306.9 259.2h1.4M307.2 259.5h1.4M307.4 257.1h1.4M307.7 261.7h1.4M307.9 258.7h1.4M308.2 260.4h1.4M308.5 258.7h1.4M308.7 256.9h1.4M309.0 258.9h1.4M309.2 257.8h1.4M309.5 259.1h1.4M309.8 255.2h1.4M310.0 256.6h1.4M310.3 256.3h1.4M310.5 259.6h1.4M310.8 259.2h1.4M311.1 256.2h1.4M311.3 257.9h1.4M311.6 257.9h1.4M311.8 257.1h1.4M312.1 259.2h1.4M312.4 256.4h1.4M312.6 257.3h1.4M312.9 256.7h1.4M313.2 258.2h1.4M313.4 256.5h1.4M313.7 258.2h1.4M313.9 255.8h1.4M314.2 255.5h1.4M314.5 255.8h1.4M314.7 256.3h1.4M315.0 256.1h1.4M315.2 260.6h1.4M315.5 255.7h1.4M315.8 257.2h1.4M316.0 256.6h1.4M316.3 257.1h1.4M316.5 258.6h1.4M316.8 257.4h1.4M317.1 255.7h1.4M317.3 254.6h1.4M317.6 257.3h1.4M317.8 257.7h1.4M318.1 254.4h1.4M318.4 257.6h1.4M318.6 253.4h1.4M318.9 256.2h1.4M319.1 257.4h1.4M319.4 254.8h1.4M319.7 253.8h1.4M319.9 258.0h1.4M320.2 253.9h1.4M320.4 256.4h1.4M320.7 253.9h1.4M321.0 256.4h1.4M321.2 258.0h1.4M321.5 255.1h1.4M321.7 254.4h1.4M322.0 252.8h1.4M322.3 253.2h1.4M322.5 254.6h1.4M322.8 255.9h1.4M323.1 256.2h1.4M323.3 255.9h1.4M323.6 256.6h1.4M323.8 255.7h1.4M324.1 258.8h1.4M324.4 255.0h1.4M324.6 255.2h1.4M324.9 251.6h1.4M325.1 254.1h1.4M325.4 255.7h1.4M325.7 254.2h1.4M325.9 256.7h1.4M326.2 255.8h1.4M326.4 257.5h1.4M326.7 252.8h1.4M327.0 253.9h1.4M327.2 256.4h1.4M327.5 254.8h1.4M327.7 253.3h1.4M328.0 253.9h1.4M328.3 254.0h1.4M328.5 255.7h1.4M328.8 255.3h1.4M329.0 254.3h1.4M329.3 253.0h1.4M329.6 255.4h1.4M329.8 255.8h1.4M330.1 252.6h1.4M330.3 255.4h1.4M330.6 252.6h1.4M330.9 253.7h1.4M331.1 252.8h1.4M331.4 251.5h1.4M331.6 252.9h1.4M331.9 252.8h1.4M332.2 255.1h1.4M332.4 254.7h1.4M332.7 252.8h1.4M333.0 251.5h1.4M333.2 251.6h1.4M333.5 250.3h1.4M333.7 253.1h1.4M334.0 253.2h1.4M334.3 252.0h1.4M334.5 253.3h1.4M334.8 253.4h1.4M335.0 254.7h1.4M335.3 251.8h1.4M335.6 254.7h1.4M335.8 252.4h1.4M336.1 255.1h1.4M336.3 251.5h1.4M336.6 254.4h1.4M336.9 251.7h1.4M337.1 255.1h1.4M337.4 253.4h1.4M337.6 251.1h1.4M337.9 253.8h1.4M338.2 252.6h1.4M338.4 253.3h1.4M338.7 255.8h1.4M338.9 252.1h1.4M339.2 251.8h1.4M339.5 254.0h1.4M339.7 251.5h1.4M340.0 253.4h1.4M340.2 253.7h1.4M340.5 252.2h1.4M340.8 253.1h1.4" fill="none" stroke="#1565D2" stroke-opacity="0.3" stroke-width="1.2"/>
<path d="M195.1 260.2h1.4M195.4 265.2h1.4M195.7 262.2h1.4M195.9 261.9h1.4M196.2 265.8h1.4M196.4 265.5h1.4M196.7 262.5h1.4M197.0 263.8h1.4M197.2 262.7h1.4M197.5 261.7h1.4M197.7 263.7h1.4M198.0 264.6h1.4M198.3 266.8h1.4M198.5 262.9h1.4M198.8 264.4h1.4M199.0 262.8h1.4M199.3 262.9h1.4M199.6 265.0h1.4M199.8 261.0h1.4M200.1 261.8h1.4M200.3 262.1h1.4M200.6 264.7h1.4M200.9 263.7h1.4M201.1 263.9h1.4M201.4 263.7h1.4M201.6 264.7h1.4M201.9 262.6h1.4M202.2 262.9h1.4M202.4 262.7h1.4M202.7 263.9h1.4M202.9 261.5h1.4M203.2 263.0h1.4M203.5 266.8h1.4M203.7 264.0h1.4M204.0 263.3h1.4M204.3 261.9h1.4M204.5 263.6h1.4M204.8 263.5h1.4M205.0 264.1h1.4M205.3 262.3h1.4M205.6 263.8h1.4M205.8 264.0h1.4M206.1 264.2h1.4M206.3 262.5h1.4M206.6 263.9h1.4M206.9 265.4h1.4M207.1 262.4h1.4M207.4 264.1h1.4M207.6 262.7h1.4M207.9 262.7h1.4M208.2 261.6h1.4M208.4 261.8h1.4M208.7 263.9h1.4M208.9 263.4h1.4M209.2 264.9h1.4M209.5 261.0h1.4M209.7 262.6h1.4M210.0 261.4h1.4M210.2 263.6h1.4M210.5 265.8h1.4M210.8 261.2h1.4M211.0 263.0h1.4M211.3 263.0h1.4M211.5 263.1h1.4M211.8 262.3h1.4M212.1 262.5h1.4M212.3 265.2h1.4M212.6 261.7h1.4M212.8 263.8h1.4M213.1 263.8h1.4M213.4 260.9h1.4M213.6 262.0h1.4M213.9 263.6h1.4M214.2 265.6h1.4M214.4 262.9h1.4M214.7 262.4h1.4M214.9 263.3h1.4M215.2 264.8h1.4M215.5 264.2h1.4M215.7 264.8h1.4M216.0 262.9h1.4M216.2 262.1h1.4M216.5 261.8h1.4M216.8 264.1h1.4M217.0 262.8h1.4M217.3 262.4h1.4M217.5 263.8h1.4M217.8 263.3h1.4M218.1 260.4h1.4M218.3 262.9h1.4M218.6 262.0h1.4M218.8 263.7h1.4M219.1 263.1h1.4M219.4 265.4h1.4M219.6 263.1h1.4M219.9 261.6h1.4M220.1 260.4h1.4M220.4 261.5h1.4M220.7 262.2h1.4M220.9 263.0h1.4M221.2 263.9h1.4M221.4 263.3h1.4M221.7 262.3h1.4M222.0 264.1h1.4M222.2 261.9h1.4M222.5 264.4h1.4M222.7 265.4h1.4M223.0 264.4h1.4M223.3 265.3h1.4M223.5 264.9h1.4M223.8 261.6h1.4M224.1 263.3h1.4M224.3 262.8h1.4M224.6 261.6h1.4M224.8 261.4h1.4M225.1 263.7h1.4M225.4 261.3h1.4M225.6 262.6h1.4M225.9 263.1h1.4M226.1 262.5h1.4M226.4 264.9h1.4M226.7 264.1h1.4M226.9 263.2h1.4M227.2 262.3h1.4M227.4 263.5h1.4M227.7 263.2h1.4M228.0 261.8h1.4M228.2 261.2h1.4M228.5 262.1h1.4M228.7 261.4h1.4M229.0 263.6h1.4M229.3 263.4h1.4M229.5 262.6h1.4M229.8 263.4h1.4M230.0 263.7h1.4M230.3 260.9h1.4M230.6 263.3h1.4M230.8 264.3h1.4M231.1 262.4h1.4M231.3 260.6h1.4M231.6 262.9h1.4M231.9 261.4h1.4M232.1 263.6h1.4M232.4 263.7h1.4M232.6 263.9h1.4M232.9 263.2h1.4M233.2 260.6h1.4M233.4 264.5h1.4M233.7 260.9h1.4M234.0 264.3h1.4M234.2 263.3h1.4M234.5 261.9h1.4M234.7 262.2h1.4M235.0 262.6h1.4M235.3 265.2h1.4M235.5 262.5h1.4M235.8 264.3h1.4M236.0 259.6h1.4M236.3 263.3h1.4M236.6 262.7h1.4M236.8 264.5h1.4M237.1 263.6h1.4M237.3 264.7h1.4M237.6 261.7h1.4M237.9 263.3h1.4M238.1 262.2h1.4M238.4 263.9h1.4M238.6 263.6h1.4M238.9 261.3h1.4M239.2 264.2h1.4M239.4 265.3h1.4M239.7 262.4h1.4M239.9 264.4h1.4M240.2 263.5h1.4M240.5 261.7h1.4M240.7 264.0h1.4M241.0 261.8h1.4M241.2 263.8h1.4M241.5 261.0h1.4M241.8 261.2h1.4M242.0 263.5h1.4M242.3 263.2h1.4M242.5 264.0h1.4M242.8 262.6h1.4M243.1 261.4h1.4M243.3 264.8h1.4M243.6 261.7h1.4M243.9 264.6h1.4M244.1 264.0h1.4M244.4 265.2h1.4M244.6 260.1h1.4M244.9 262.8h1.4M245.2 262.5h1.4M245.4 263.7h1.4M245.7 261.5h1.4M245.9 265.6h1.4M246.2 262.8h1.4M246.5 259.9h1.4M246.7 263.3h1.4M247.0 262.8h1.4M247.2 261.9h1.4M247.5 263.9h1.4M247.8 262.8h1.4M248.0 261.5h1.4M248.3 262.5h1.4M248.5 262.3h1.4M248.8 263.2h1.4M249.1 262.4h1.4M249.3 262.7h1.4M249.6 260.9h1.4M249.8 261.8h1.4M250.1 263.1h1.4M250.4 266.0h1.4M250.6 261.8h1.4M250.9 261.8h1.4M251.1 263.9h1.4M251.4 265.4h1.4M251.7 264.2h1.4M251.9 261.5h1.4M252.2 264.1h1.4M252.4 263.3h1.4M252.7 262.4h1.4M253.0 261.1h1.4M253.2 262.7h1.4M253.5 262.8h1.4M253.8 263.4h1.4M254.0 260.5h1.4M254.3 261.3h1.4M254.5 262.8h1.4M254.8 264.5h1.4M255.1 263.7h1.4M255.3 261.9h1.4M255.6 263.6h1.4M255.8 261.5h1.4M256.1 262.2h1.4M256.4 262.2h1.4M256.6 261.8h1.4M256.9 262.0h1.4M257.1 263.7h1.4M257.4 263.0h1.4M257.7 259.5h1.4M257.9 264.2h1.4M258.2 263.2h1.4M258.4 261.2h1.4M258.7 262.8h1.4M259.0 263.6h1.4M259.2 264.3h1.4M259.5 261.8h1.4M259.7 261.2h1.4M260.0 260.7h1.4M260.3 262.5h1.4M260.5 261.2h1.4M260.8 263.9h1.4M261.0 262.3h1.4M261.3 263.4h1.4M261.6 262.3h1.4M261.8 261.5h1.4M262.1 261.1h1.4M262.3 263.8h1.4M262.6 260.8h1.4M262.9 263.1h1.4M263.1 263.8h1.4M263.4 262.7h1.4M263.7 264.4h1.4M263.9 262.4h1.4M264.2 262.1h1.4M264.4 262.7h1.4M264.7 261.7h1.4M265.0 262.8h1.4M265.2 262.4h1.4M265.5 264.3h1.4M265.7 262.3h1.4M266.0 263.5h1.4M266.3 263.0h1.4M266.5 262.5h1.4M266.8 262.1h1.4M267.0 264.5h1.4M267.3 264.4h1.4M267.6 262.7h1.4M267.8 261.7h1.4M268.1 261.9h1.4M268.3 261.1h1.4M268.6 260.6h1.4M268.9 261.7h1.4M269.1 262.3h1.4M269.4 263.6h1.4M269.6 263.5h1.4M269.9 262.9h1.4M270.2 261.9h1.4M270.4 262.0h1.4M270.7 262.2h1.4M270.9 262.4h1.4M271.2 261.4h1.4M271.5 261.9h1.4M271.7 261.8h1.4M272.0 261.8h1.4M272.2 262.9h1.4M272.5 263.5h1.4M272.8 261.5h1.4M273.0 261.6h1.4M273.3 262.4h1.4M273.6 262.7h1.4M273.8 259.1h1.4M274.1 263.1h1.4M274.3 262.4h1.4M274.6 261.8h1.4M274.9 263.6h1.4M275.1 261.9h1.4M275.4 259.7h1.4M275.6 260.8h1.4M275.9 261.2h1.4M276.2 261.3h1.4M276.4 261.9h1.4M276.7 260.8h1.4M276.9 262.2h1.4M277.2 262.6h1.4M277.5 261.9h1.4M277.7 260.8h1.4M278.0 261.5h1.4M278.2 261.1h1.4M278.5 264.6h1.4M278.8 260.4h1.4M279.0 258.8h1.4M279.3 260.1h1.4M279.5 262.3h1.4M279.8 263.0h1.4M280.1 261.5h1.4M280.3 263.2h1.4M280.6 260.9h1.4M280.8 262.5h1.4M281.1 260.6h1.4M281.4 260.0h1.4M281.6 264.5h1.4M281.9 261.4h1.4M282.1 262.7h1.4M282.4 263.6h1.4M282.7 262.6h1.4M282.9 262.0h1.4M283.2 260.4h1.4M283.5 263.7h1.4M283.7 260.3h1.4M284.0 259.0h1.4M284.2 260.9h1.4M284.5 260.9h1.4M284.8 261.7h1.4M285.0 263.2h1.4M285.3 260.9h1.4M285.5 261.1h1.4M285.8 260.6h1.4M286.1 258.2h1.4M286.3 260.6h1.4M286.6 261.0h1.4M286.8 259.5h1.4M287.1 263.3h1.4M287.4 263.0h1.4M287.6 262.0h1.4M287.9 262.3h1.4M288.1 260.5h1.4M288.4 261.9h1.4M288.7 259.1h1.4M288.9 259.4h1.4M289.2 260.4h1.4M289.4 261.9h1.4M289.7 260.6h1.4M290.0 260.3h1.4M290.2 262.8h1.4M290.5 260.9h1.4M290.7 260.4h1.4M291.0 261.0h1.4M291.3 259.2h1.4M291.5 259.7h1.4M291.8 262.4h1.4M292.0 261.1h1.4M292.3 262.3h1.4M292.6 260.5h1.4M292.8 262.4h1.4M293.1 260.0h1.4M293.4 260.7h1.4M293.6 259.9h1.4M293.9 261.3h1.4M294.1 263.1h1.4M294.4 258.8h1.4M294.7 261.3h1.4M294.9 259.3h1.4M295.2 260.5h1.4M295.4 260.2h1.4M295.7 258.6h1.4M296.0 260.6h1.4M296.2 259.2h1.4M296.5 263.0h1.4M296.7 259.8h1.4M297.0 261.3h1.4M297.3 261.1h1.4M297.5 260.9h1.4M297.8 260.5h1.4M298.0 258.7h1.4M298.3 263.4h1.4M298.6 260.8h1.4M298.8 261.8h1.4M299.1 259.3h1.4M299.3 261.4h1.4M299.6 260.2h1.4M299.9 261.3h1.4M300.1 259.9h1.4M300.4 259.4h1.4M300.6 261.3h1.4M300.9 260.7h1.4M301.2 262.6h1.4M301.4 260.3h1.4M301.7 259.6h1.4M301.9 261.4h1.4M302.2 259.2h1.4M302.5 263.4h1.4M302.7 263.1h1.4M303.0 262.5h1.4M303.3 261.3h1.4M303.5 260.6h1.4M303.8 260.7h1.4M304.0 260.7h1.4M304.3 259.6h1.4M304.6 261.2h1.4M304.8 262.2h1.4M305.1 262.2h1.4M305.3 257.7h1.4M305.6 263.7h1.4M305.9 260.7h1.4M306.1 258.5h1.4M306.4 259.8h1.4M306.6 261.6h1.4M306.9 260.4h1.4M307.2 259.3h1.4M307.4 258.8h1.4M307.7 261.6h1.4M307.9 259.4h1.4M308.2 260.0h1.4M308.5 258.9h1.4M308.7 258.5h1.4M309.0 260.8h1.4M309.2 262.3h1.4M309.5 259.8h1.4M309.8 257.9h1.4M310.0 259.4h1.4M310.3 260.0h1.4M310.5 257.0h1.4M310.8 261.6h1.4M311.1 259.0h1.4M311.3 261.0h1.4M311.6 260.1h1.4M311.8 260.1h1.4M312.1 258.1h1.4M312.4 261.4h1.4M312.6 260.8h1.4M312.9 262.3h1.4M313.2 259.4h1.4M313.4 260.7h1.4M313.7 259.5h1.4M313.9 261.5h1.4M314.2 260.5h1.4M314.5 258.6h1.4M314.7 260.2h1.4M315.0 259.2h1.4M315.2 259.3h1.4M315.5 260.4h1.4M315.8 262.1h1.4M316.0 258.6h1.4M316.3 259.7h1.4M316.5 258.6h1.4M316.8 262.6h1.4M317.1 262.1h1.4M317.3 262.7h1.4M317.6 261.0h1.4M317.8 258.4h1.4M318.1 259.1h1.4M318.4 259.9h1.4M318.6 259.6h1.4M318.9 258.8h1.4M319.1 260.2h1.4M319.4 259.2h1.4M319.7 259.5h1.4M319.9 262.7h1.4M320.2 260.2h1.4M320.4 257.9h1.4M320.7 260.2h1.4M321.0 259.9h1.4M321.2 260.5h1.4M321.5 260.3h1.4M321.7 258.1h1.4M322.0 260.0h1.4M322.3 261.0h1.4M322.5 263.8h1.4M322.8 260.3h1.4M323.1 262.2h1.4M323.3 262.0h1.4M323.6 258.4h1.4M323.8 258.5h1.4M324.1 262.1h1.4M324.4 258.3h1.4M324.6 258.8h1.4M324.9 260.5h1.4M325.1 258.4h1.4M325.4 261.6h1.4M325.7 261.0h1.4M325.9 261.3h1.4M326.2 260.9h1.4M326.4 258.2h1.4M326.7 261.1h1.4M327.0 260.9h1.4M327.2 260.6h1.4M327.5 259.0h1.4M327.7 259.7h1.4M328.0 258.1h1.4M328.3 260.2h1.4M328.5 261.0h1.4M328.8 259.9h1.4M329.0 259.1h1.4M329.3 260.4h1.4M329.6 258.8h1.4M329.8 256.7h1.4M330.1 259.9h1.4M330.3 259.1h1.4M330.6 257.3h1.4M330.9 260.0h1.4M331.1 260.2h1.4M331.4 260.5h1.4M331.6 258.5h1.4M331.9 258.3h1.4M332.2 259.2h1.4M332.4 258.9h1.4M332.7 257.3h1.4M333.0 257.8h1.4M333.2 260.9h1.4M333.5 259.0h1.4M333.7 258.8h1.4M334.0 257.9h1.4M334.3 259.2h1.4M334.5 259.8h1.4M334.8 259.5h1.4M335.0 261.3h1.4M335.3 258.9h1.4M335.6 259.6h1.4M335.8 258.2h1.4M336.1 260.2h1.4M336.3 259.4h1.4M336.6 260.1h1.4M336.9 260.2h1.4M337.1 257.8h1.4M337.4 259.4h1.4M337.6 258.1h1.4M337.9 260.2h1.4M338.2 258.6h1.4M338.4 261.0h1.4M338.7 259.3h1.4M338.9 259.3h1.4M339.2 257.8h1.4M339.5 258.4h1.4M339.7 258.8h1.4M340.0 257.4h1.4M340.2 258.3h1.4M340.5 257.8h1.4M340.8 257.5h1.4" fill="none" stroke="#6DB31E" stroke-opacity="0.3" stroke-width="1.2"/>
<path d="M195.1 269.5h1.4M195.4 269.7h1.4M195.7 268.9h1.4M195.9 269.8h1.4M196.2 268.8h1.4M196.4 267.8h1.4M196.7 268.1h1.4M197.0 269.6h1.4M197.2 270.7h1.4M197.5 269.1h1.4M197.7 269.1h1.4M198.0 267.6h1.4M198.3 269.4h1.4M198.5 269.1h1.4M198.8 267.9h1.4M199.0 269.4h1.4M199.3 268.9h1.4M199.6 266.6h1.4M199.8 266.8h1.4M200.1 267.8h1.4M200.3 268.3h1.4M200.6 269.7h1.4M200.9 267.8h1.4M201.1 268.4h1.4M201.4 268.1h1.4M201.6 269.0h1.4M201.9 268.3h1.4M202.2 268.5h1.4M202.4 267.9h1.4M202.7 266.4h1.4M202.9 267.7h1.4M203.2 270.2h1.4M203.5 269.3h1.4M203.7 270.0h1.4M204.0 269.0h1.4M204.3 267.3h1.4M204.5 267.4h1.4M204.8 268.6h1.4M205.0 267.5h1.4M205.3 268.7h1.4M205.6 269.5h1.4M205.8 269.4h1.4M206.1 268.7h1.4M206.3 265.8h1.4M206.6 269.2h1.4M206.9 266.0h1.4M207.1 265.8h1.4M207.4 267.7h1.4M207.6 267.5h1.4M207.9 268.1h1.4M208.2 267.3h1.4M208.4 266.4h1.4M208.7 267.2h1.4M208.9 265.9h1.4M209.2 265.6h1.4M209.5 266.7h1.4M209.7 266.6h1.4M210.0 267.1h1.4M210.2 266.5h1.4M210.5 268.3h1.4M210.8 266.4h1.4M211.0 266.6h1.4M211.3 267.9h1.4M211.5 264.0h1.4M211.8 267.9h1.4M212.1 267.7h1.4M212.3 266.2h1.4M212.6 269.0h1.4M212.8 267.5h1.4M213.1 268.4h1.4M213.4 267.6h1.4M213.6 266.5h1.4M213.9 265.9h1.4M214.2 264.9h1.4M214.4 265.2h1.4M214.7 264.7h1.4M214.9 265.4h1.4M215.2 266.7h1.4M215.5 264.6h1.4M215.7 266.6h1.4M216.0 266.7h1.4M216.2 264.0h1.4M216.5 264.9h1.4M216.8 265.5h1.4M217.0 264.8h1.4M217.3 264.6h1.4M217.5 267.4h1.4M217.8 265.8h1.4M218.1 267.1h1.4M218.3 265.4h1.4M218.6 266.4h1.4M218.8 263.7h1.4M219.1 264.7h1.4M219.4 266.4h1.4M219.6 265.3h1.4M219.9 266.8h1.4M220.1 265.2h1.4M220.4 264.5h1.4M220.7 264.8h1.4M220.9 267.6h1.4M221.2 265.5h1.4M221.4 264.3h1.4M221.7 264.5h1.4M222.0 263.4h1.4M222.2 266.5h1.4M222.5 264.1h1.4M222.7 265.6h1.4M223.0 264.4h1.4M223.3 264.1h1.4M223.5 263.7h1.4M223.8 265.3h1.4M224.1 264.3h1.4M224.3 266.0h1.4M224.6 266.2h1.4M224.8 263.6h1.4M225.1 264.4h1.4M225.4 266.4h1.4M225.6 265.3h1.4M225.9 264.1h1.4M226.1 262.1h1.4M226.4 262.7h1.4M226.7 263.0h1.4M226.9 266.3h1.4M227.2 264.1h1.4M227.4 263.3h1.4M227.7 263.3h1.4M228.0 263.2h1.4M228.2 264.0h1.4M228.5 261.4h1.4M228.7 261.7h1.4M229.0 263.7h1.4M229.3 264.8h1.4M229.5 260.8h1.4M229.8 264.2h1.4M230.0 261.8h1.4M230.3 260.9h1.4M230.6 264.5h1.4M230.8 262.9h1.4M231.1 263.6h1.4M231.3 262.5h1.4M231.6 262.7h1.4M231.9 260.5h1.4M232.1 262.2h1.4M232.4 263.0h1.4M232.6 261.4h1.4M232.9 263.2h1.4M233.2 263.3h1.4M233.4 259.8h1.4M233.7 263.8h1.4M234.0 263.3h1.4M234.2 262.5h1.4M234.5 263.9h1.4M234.7 265.3h1.4M235.0 261.1h1.4M235.3 263.4h1.4M235.5 263.1h1.4M235.8 262.8h1.4M236.0 263.5h1.4M236.3 263.6h1.4M236.6 261.9h1.4M236.8 258.9h1.4M237.1 261.1h1.4M237.3 261.0h1.4M237.6 263.9h1.4M237.9 261.9h1.4M238.1 263.4h1.4M238.4 260.7h1.4M238.6 262.0h1.4M238.9 261.6h1.4M239.2 261.7h1.4M239.4 262.3h1.4M239.7 263.5h1.4M239.9 260.7h1.4M240.2 263.2h1.4M240.5 262.9h1.4M240.7 261.7h1.4M241.0 262.2h1.4M241.2 260.8h1.4M241.5 259.8h1.4M241.8 260.8h1.4M242.0 260.8h1.4M242.3 260.9h1.4M242.5 259.8h1.4M242.8 263.3h1.4M243.1 260.3h1.4M243.3 262.0h1.4M243.6 262.4h1.4M243.9 260.6h1.4M244.1 261.1h1.4M244.4 259.8h1.4M244.6 259.0h1.4M244.9 263.5h1.4M245.2 260.5h1.4M245.4 257.7h1.4M245.7 259.1h1.4M245.9 258.3h1.4M246.2 260.0h1.4M246.5 262.0h1.4M246.7 261.6h1.4M247.0 259.0h1.4M247.2 258.7h1.4M247.5 260.9h1.4M247.8 260.2h1.4M248.0 259.4h1.4M248.3 262.1h1.4M248.5 260.1h1.4M248.8 257.4h1.4M249.1 256.6h1.4M249.3 259.6h1.4M249.6 257.0h1.4M249.8 260.1h1.4M250.1 260.4h1.4M250.4 262.3h1.4M250.6 257.9h1.4M250.9 259.7h1.4M251.1 255.9h1.4M251.4 258.6h1.4M251.7 258.7h1.4M251.9 261.4h1.4M252.2 256.9h1.4M252.4 259.3h1.4M252.7 259.0h1.4M253.0 261.7h1.4M253.2 257.4h1.4M253.5 257.3h1.4M253.8 259.4h1.4M254.0 258.4h1.4M254.3 257.9h1.4M254.5 257.1h1.4M254.8 258.2h1.4M255.1 255.9h1.4M255.3 258.5h1.4M255.6 259.0h1.4M255.8 258.7h1.4M256.1 261.5h1.4M256.4 259.1h1.4M256.6 256.5h1.4M256.9 257.5h1.4M257.1 258.9h1.4M257.4 257.3h1.4M257.7 260.4h1.4M257.9 258.0h1.4M258.2 256.9h1.4M258.4 256.6h1.4M258.7 258.5h1.4M259.0 256.1h1.4M259.2 254.8h1.4M259.5 257.9h1.4M259.7 256.2h1.4M260.0 259.3h1.4M260.3 259.8h1.4M260.5 256.2h1.4M260.8 256.9h1.4M261.0 256.7h1.4M261.3 257.7h1.4M261.6 257.2h1.4M261.8 255.6h1.4M262.1 254.3h1.4M262.3 256.9h1.4M262.6 258.9h1.4M262.9 254.8h1.4M263.1 255.6h1.4M263.4 255.5h1.4M263.7 256.1h1.4M263.9 253.1h1.4M264.2 256.1h1.4M264.4 255.5h1.4M264.7 258.7h1.4M265.0 256.9h1.4M265.2 257.0h1.4M265.5 256.0h1.4M265.7 255.4h1.4M266.0 256.9h1.4M266.3 253.4h1.4M266.5 257.2h1.4M266.8 256.3h1.4M267.0 255.3h1.4M267.3 257.3h1.4M267.6 254.7h1.4M267.8 254.5h1.4M268.1 255.8h1.4M268.3 252.6h1.4M268.6 255.1h1.4M268.9 254.8h1.4M269.1 256.5h1.4M269.4 257.4h1.4M269.6 255.9h1.4M269.9 255.4h1.4M270.2 255.5h1.4M270.4 253.8h1.4M270.7 258.1h1.4M270.9 256.3h1.4M271.2 257.2h1.4M271.5 252.7h1.4M271.7 255.3h1.4M272.0 255.2h1.4M272.2 255.9h1.4M272.5 253.1h1.4M272.8 254.9h1.4M273.0 253.9h1.4M273.3 257.0h1.4M273.6 252.5h1.4M273.8 253.5h1.4M274.1 253.2h1.4M274.3 252.2h1.4M274.6 254.1h1.4M274.9 254.0h1.4M275.1 252.7h1.4M275.4 253.1h1.4M275.6 254.0h1.4M275.9 253.5h1.4M276.2 254.2h1.4M276.4 252.4h1.4M276.7 252.1h1.4M276.9 253.3h1.4M277.2 250.6h1.4M277.5 255.4h1.4M277.7 253.5h1.4M278.0 250.6h1.4M278.2 253.6h1.4M278.5 255.2h1.4M278.8 250.9h1.4M279.0 252.0h1.4M279.3 254.4h1.4M279.5 251.6h1.4M279.8 254.1h1.4M280.1 254.5h1.4M280.3 252.7h1.4M280.6 253.1h1.4M280.8 253.9h1.4M281.1 252.8h1.4M281.4 253.7h1.4M281.6 252.1h1.4M281.9 252.2h1.4M282.1 251.0h1.4M282.4 252.6h1.4M282.7 253.8h1.4M282.9 253.8h1.4M283.2 252.2h1.4M283.5 249.6h1.4M283.7 250.5h1.4M284.0 252.5h1.4M284.2 250.2h1.4M284.5 253.2h1.4M284.8 250.0h1.4M285.0 251.9h1.4M285.3 250.2h1.4M285.5 250.3h1.4M285.8 251.6h1.4M286.1 250.6h1.4M286.3 252.6h1.4M286.6 251.1h1.4M286.8 249.4h1.4M287.1 245.0h1.4M287.4 249.8h1.4M287.6 250.6h1.4M287.9 252.1h1.4M288.1 249.1h1.4M288.4 252.9h1.4M288.7 251.6h1.4M288.9 249.9h1.4M289.2 252.1h1.4M289.4 248.1h1.4M289.7 248.6h1.4M290.0 251.0h1.4M290.2 250.9h1.4M290.5 251.9h1.4M290.7 252.0h1.4M291.0 249.3h1.4M291.3 248.9h1.4M291.5 249.3h1.4M291.8 249.3h1.4M292.0 250.5h1.4M292.3 249.1h1.4M292.6 251.7h1.4M292.8 249.4h1.4M293.1 247.3h1.4M293.4 247.4h1.4M293.6 249.9h1.4M293.9 249.7h1.4M294.1 247.1h1.4M294.4 246.5h1.4M294.7 251.2h1.4M294.9 249.6h1.4M295.2 248.5h1.4M295.4 247.0h1.4M295.7 250.0h1.4M296.0 247.7h1.4M296.2 249.1h1.4M296.5 245.1h1.4M296.7 247.9h1.4M297.0 248.6h1.4M297.3 248.9h1.4M297.5 246.8h1.4M297.8 247.2h1.4M298.0 249.8h1.4M298.3 247.8h1.4M298.6 250.0h1.4M298.8 249.1h1.4M299.1 249.8h1.4M299.3 249.8h1.4M299.6 248.8h1.4M299.9 249.2h1.4M300.1 246.9h1.4M300.4 246.4h1.4M300.6 247.9h1.4M300.9 249.1h1.4M301.2 246.2h1.4M301.4 250.3h1.4M301.7 250.1h1.4M301.9 246.1h1.4M302.2 246.2h1.4M302.5 245.6h1.4M302.7 247.3h1.4M303.0 248.8h1.4M303.3 247.6h1.4M303.5 246.0h1.4M303.8 247.9h1.4M304.0 247.7h1.4M304.3 248.7h1.4M304.6 248.3h1.4M304.8 245.3h1.4M305.1 245.8h1.4M305.3 248.1h1.4M305.6 247.9h1.4M305.9 247.1h1.4M306.1 245.4h1.4M306.4 247.8h1.4M306.6 246.3h1.4M306.9 249.2h1.4M307.2 247.8h1.4M307.4 245.2h1.4M307.7 244.5h1.4M307.9 247.4h1.4M308.2 246.8h1.4M308.5 244.4h1.4M308.7 246.1h1.4M309.0 246.3h1.4M309.2 244.6h1.4M309.5 245.1h1.4M309.8 243.6h1.4M310.0 244.0h1.4M310.3 246.0h1.4M310.5 245.3h1.4M310.8 245.1h1.4M311.1 247.0h1.4M311.3 246.3h1.4M311.6 243.4h1.4M311.8 247.1h1.4M312.1 243.2h1.4M312.4 244.2h1.4M312.6 244.8h1.4M312.9 243.7h1.4M313.2 243.7h1.4M313.4 242.6h1.4M313.7 244.9h1.4M313.9 244.6h1.4M314.2 244.6h1.4M314.5 241.3h1.4M314.7 242.6h1.4M315.0 245.4h1.4M315.2 244.4h1.4M315.5 244.9h1.4M315.8 243.8h1.4M316.0 243.4h1.4M316.3 240.2h1.4M316.5 246.3h1.4M316.8 242.0h1.4M317.1 242.8h1.4M317.3 244.5h1.4M317.6 243.6h1.4M317.8 244.0h1.4M318.1 243.1h1.4M318.4 241.6h1.4M318.6 245.4h1.4M318.9 241.0h1.4M319.1 243.5h1.4M319.4 240.6h1.4M319.7 242.2h1.4M319.9 240.9h1.4M320.2 241.8h1.4M320.4 241.0h1.4M320.7 242.5h1.4M321.0 243.7h1.4M321.2 241.4h1.4M321.5 241.3h1.4M321.7 239.1h1.4M322.0 245.3h1.4M322.3 242.5h1.4M322.5 240.5h1.4M322.8 243.9h1.4M323.1 242.3h1.4M323.3 238.7h1.4M323.6 239.7h1.4M323.8 243.1h1.4M324.1 239.5h1.4M324.4 239.8h1.4M324.6 240.4h1.4M324.9 240.9h1.4M325.1 241.1h1.4M325.4 242.7h1.4M325.7 242.1h1.4M325.9 240.1h1.4M326.2 241.0h1.4M326.4 238.3h1.4M326.7 241.5h1.4M327.0 244.6h1.4M327.2 241.4h1.4M327.5 240.4h1.4M327.7 240.2h1.4M328.0 240.6h1.4M328.3 241.9h1.4M328.5 238.3h1.4M328.8 241.5h1.4M329.0 239.4h1.4M329.3 240.8h1.4M329.6 242.1h1.4M329.8 238.1h1.4M330.1 244.0h1.4M330.3 241.4h1.4M330.6 239.4h1.4M330.9 240.5h1.4M331.1 238.8h1.4M331.4 240.0h1.4M331.6 240.5h1.4M331.9 236.4h1.4M332.2 240.0h1.4M332.4 239.8h1.4M332.7 241.2h1.4M333.0 240.6h1.4M333.2 238.4h1.4M333.5 238.5h1.4M333.7 239.3h1.4M334.0 240.3h1.4M334.3 238.1h1.4M334.5 241.7h1.4M334.8 239.5h1.4M335.0 239.3h1.4M335.3 240.2h1.4M335.6 238.6h1.4M335.8 239.7h1.4M336.1 239.9h1.4M336.3 235.8h1.4M336.6 237.4h1.4M336.9 236.6h1.4M337.1 238.3h1.4M337.4 236.8h1.4M337.6 237.0h1.4M337.9 236.3h1.4M338.2 234.5h1.4M338.4 238.4h1.4M338.7 237.6h1.4M338.9 238.0h1.4M339.2 243.3h1.4M339.5 239.9h1.4M339.7 237.7h1.4M340.0 236.7h1.4M340.2 238.5h1.4M340.5 235.8h1.4M340.8 235.5h1.4" fill="none" stroke="#FF8C00" stroke-opacity="0.3" stroke-width="1.2"/>
<polyline points="195.83,269.45 197.47,269.40 199.10,269.45 200.74,269.57 202.38,269.50 204.01,269.34 205.65,269.33 207.29,269.26 208.92,269.26 210.56,269.27 212.20,269.15 213.83,269.24 215.47,269.08 217.10,269.17 218.74,269.25 220.38,269.10 222.01,269.04 223.65,269.10 225.29,269.08 226.92,269.26 228.56,269.18 230.20,269.08 231.83,269.19 233.47,269.21 235.10,269.16 236.74,269.11 238.38,269.38 240.01,269.53 241.65,269.67 243.29,269.71 244.92,269.77 246.56,269.81 248.20,269.87 249.83,269.72 251.47,269.71 253.10,269.59 254.74,269.68 256.38,269.74 258.01,269.75 259.65,269.84 261.29,270.04 262.92,270.07 264.56,270.28 266.20,270.31 267.83,270.31 269.47,270.44 271.10,270.54 272.74,270.39 274.38,270.45 276.01,270.47 277.65,270.51 279.29,270.62 280.92,270.74 282.56,270.82 284.20,270.94 285.83,271.11 287.47,271.27 289.10,271.26 290.74,271.36 292.38,271.41 294.01,271.45 295.65,271.52 297.29,271.51 298.92,271.49 300.56,271.70 302.20,271.68 303.83,271.79 305.47,271.77 307.10,271.97 308.74,272.11 310.38,272.11 312.01,272.13 313.65,272.30 315.29,272.29 316.92,272.50 318.56,272.42 320.20,272.56 321.83,272.73 323.47,272.82 325.10,272.80 326.74,272.83 328.38,272.88 330.01,272.84 331.65,272.79 333.29,272.96 334.92,273.14 336.56,273.14 338.20,273.27 339.83,273.32 341.47,273.54" fill="none" stroke="#000000" stroke-width="1.5" stroke-linejoin="round"/>
<polyline points="195.83,270.03 197.47,269.87 199.10,269.88 200.74,269.66 202.38,269.70 204.01,269.50 205.65,269.23 207.29,269.23 208.92,269.06 210.56,268.98 212.20,268.89 213.83,268.70 215.47,268.66 217.10,268.51 218.74,268.30 220.38,268.25 222.01,268.02 223.65,268.01 225.29,267.92 226.92,267.88 228.56,267.80 230.20,267.70 231.83,267.62 233.47,267.59 235.10,267.50 236.74,267.38 238.38,267.25 240.01,267.11 241.65,266.92 243.29,266.73 244.92,266.71 246.56,266.55 248.20,266.41 249.83,266.26 251.47,266.10 253.10,266.04 254.74,265.91 256.38,265.69 258.01,265.60 259.65,265.56 261.29,265.40 262.92,265.30 264.56,265.16 266.20,265.05 267.83,264.86 269.47,264.63 271.10,264.54 272.74,264.40 274.38,264.28 276.01,264.10 277.65,263.86 279.29,263.64 280.92,263.47 282.56,263.03 284.20,262.68 285.83,262.46 287.47,262.16 289.10,261.93 290.74,261.48 292.38,261.15 294.01,260.93 295.65,260.65 297.29,260.24 298.92,259.94 300.56,259.44 302.20,259.26 303.83,258.87 305.47,258.47 307.10,258.27 308.74,257.83 310.38,257.49 312.01,257.24 313.65,257.04 315.29,256.75 316.92,256.51 318.56,256.18 320.20,255.84 321.83,255.55 323.47,255.34 325.10,254.96 326.74,254.65 328.38,254.29 330.01,253.89 331.65,253.67 333.29,253.29 334.92,253.06 336.56,252.80 338.20,252.64 339.83,252.41 341.47,252.02" fill="none" stroke="#1565D2" stroke-width="1.5" stroke-linejoin="round"/>
<polyline points="195.83,263.19 197.47,263.38 199.10,263.24 200.74,263.19 202.38,263.22 204.01,263.25 205.65,263.30 207.29,263.36 208.92,263.20 210.56,263.24 212.20,263.25 213.83,263.15 215.47,262.97 217.10,262.96 218.74,262.95 220.38,262.83 222.01,262.85 223.65,262.75 225.29,262.75 226.92,262.88 228.56,262.83 230.20,262.76 231.83,262.94 233.47,262.98 235.10,263.10 236.74,263.14 238.38,263.11 240.01,263.08 241.65,263.10 243.29,263.11 244.92,262.90 246.56,263.02 248.20,263.10 249.83,263.00 251.47,263.05 253.10,262.94 254.74,262.71 256.38,262.84 258.01,262.62 259.65,262.61 261.29,262.57 262.92,262.42 264.56,262.41 266.20,262.36 267.83,262.21 269.47,262.08 271.10,261.90 272.74,261.97 274.38,261.90 276.01,261.81 277.65,261.96 279.29,261.82 280.92,261.84 282.56,261.78 284.20,261.68 285.83,261.61 287.47,261.54 289.10,261.37 290.74,261.37 292.38,261.45 294.01,261.29 295.65,261.21 297.29,261.29 298.92,261.30 300.56,261.25 302.20,261.12 303.83,260.94 305.47,260.94 307.10,260.84 308.74,260.42 310.38,260.22 312.01,259.91 313.65,259.94 315.29,259.73 316.92,259.74 318.56,259.53 320.20,259.55 321.83,259.62 323.47,259.76 325.10,259.68 326.74,259.75 328.38,259.64 330.01,259.66 331.65,259.72 333.29,259.49 334.92,259.27 336.56,259.18 338.20,259.00 339.83,258.85 341.47,258.69" fill="none" stroke="#6DB31E" stroke-width="1.5" stroke-linejoin="round"/>
<polyline points="195.83,268.97 197.47,268.70 199.10,268.51 200.74,268.22 202.38,268.06 204.01,267.75 205.65,267.62 207.29,267.53 208.92,267.24 210.56,267.07 212.20,266.91 213.83,266.72 215.47,266.30 217.10,265.90 218.74,265.47 220.38,265.14 222.01,264.65 223.65,264.22 225.29,263.70 226.92,263.49 228.56,263.36 230.20,263.12 231.83,262.87 233.47,262.72 235.10,262.58 236.74,262.30 238.38,261.97 240.01,261.68 241.65,261.24 243.29,260.76 244.92,260.36 246.56,259.96 248.20,259.66 249.83,259.31 251.47,258.89 253.10,258.75 254.74,258.49 256.38,258.26 258.01,257.85 259.65,257.40 261.29,257.09 262.92,256.63 264.56,256.14 266.20,255.75 267.83,255.20 269.47,254.91 271.10,254.65 272.74,254.30 274.38,253.88 276.01,253.41 277.65,253.05 279.29,252.73 280.92,252.33 282.56,251.94 284.20,251.43 285.83,251.10 287.47,250.84 289.10,250.54 290.74,250.00 292.38,249.52 294.01,249.10 295.65,248.81 297.29,248.29 298.92,247.90 300.56,247.29 302.20,246.86 303.83,246.47 305.47,245.99 307.10,245.61 308.74,245.41 310.38,245.02 312.01,244.83 313.65,244.49 315.29,244.08 316.92,243.70 318.56,243.22 320.20,243.00 321.83,242.54 323.47,242.21 325.10,241.83 326.74,241.50 328.38,241.12 330.01,240.67 331.65,240.13 333.29,239.73 334.92,239.17 336.56,238.93 338.20,238.38 339.83,237.97 341.47,237.72" fill="none" stroke="#FF8C00" stroke-width="1.5" stroke-linejoin="round"/>
<rect x="188.55" y="161.9" width="160.2" height="165.8" fill="none" stroke="#333333" stroke-width="1.1"/>
<rect x="188.55" y="138.6" width="160.2" height="23.3" fill="#CCCCCC" stroke="#333333" stroke-width="1.1"/>
<text transform="translate(268.65,153.05) scale(0.926,1)" text-anchor="middle" font-family='"Liberation Sans", sans-serif' font-size="9.72" fill="#1A1A1A">Pattern 2<tspan dx="12.2" dy="-1" font-family='"Liberation Serif", serif' font-style="italic" font-size="10.8">ψ</tspan><tspan dy="1"> = 0</tspan></text>
<rect x="356" y="161.9" width="160.2" height="165.8" fill="#fff"/>
<line x1="356" x2="516.2" y1="297.4" y2="297.4" stroke="#D4D4D4" stroke-width="0.9" stroke-dasharray="2.6 1.8"/>
<line x1="356" x2="516.2" y1="262.33" y2="262.33" stroke="#D4D4D4" stroke-width="0.9" stroke-dasharray="2.6 1.8"/>
<line x1="356" x2="516.2" y1="227.26" y2="227.26" stroke="#D4D4D4" stroke-width="0.9" stroke-dasharray="2.6 1.8"/>
<line x1="356" x2="516.2" y1="192.19" y2="192.19" stroke="#D4D4D4" stroke-width="0.9" stroke-dasharray="2.6 1.8"/>
<line x1="363.28" x2="363.28" y1="327.7" y2="161.9" stroke="#D4D4D4" stroke-width="0.9" stroke-dasharray="2.6 1.8"/>
<line x1="399.69" x2="399.69" y1="327.7" y2="161.9" stroke="#D4D4D4" stroke-width="0.9" stroke-dasharray="2.6 1.8"/>
<line x1="436.1" x2="436.1" y1="327.7" y2="161.9" stroke="#D4D4D4" stroke-width="0.9" stroke-dasharray="2.6 1.8"/>
<line x1="472.51" x2="472.51" y1="327.7" y2="161.9" stroke="#D4D4D4" stroke-width="0.9" stroke-dasharray="2.6 1.8"/>
<line x1="508.92" x2="508.92" y1="327.7" y2="161.9" stroke="#D4D4D4" stroke-width="0.9" stroke-dasharray="2.6 1.8"/>
<path d="M362.6 288.6h1.4M362.8 285.0h1.4M363.1 288.3h1.4M363.4 289.6h1.4M363.6 288.8h1.4M363.9 288.3h1.4M364.1 288.3h1.4M364.4 288.0h1.4M364.7 288.9h1.4M364.9 287.5h1.4M365.2 288.4h1.4M365.4 289.2h1.4M365.7 288.7h1.4M366.0 288.4h1.4M366.2 287.2h1.4M366.5 287.6h1.4M366.8 288.3h1.4M367.0 288.0h1.4M367.3 287.8h1.4M367.5 286.2h1.4M367.8 288.6h1.4M368.1 287.6h1.4M368.3 287.4h1.4M368.6 288.9h1.4M368.8 287.9h1.4M369.1 287.9h1.4M369.4 288.5h1.4M369.6 287.6h1.4M369.9 287.2h1.4M370.1 287.1h1.4M370.4 288.3h1.4M370.7 287.9h1.4M370.9 286.0h1.4M371.2 289.1h1.4M371.4 287.9h1.4M371.7 287.3h1.4M372.0 288.0h1.4M372.2 287.6h1.4M372.5 288.0h1.4M372.7 287.5h1.4M373.0 287.0h1.4M373.3 288.4h1.4M373.5 288.0h1.4M373.8 288.2h1.4M374.0 288.6h1.4M374.3 288.2h1.4M374.6 289.2h1.4M374.8 287.5h1.4M375.1 286.7h1.4M375.3 286.7h1.4M375.6 287.1h1.4M375.9 289.1h1.4M376.1 286.9h1.4M376.4 288.9h1.4M376.7 288.3h1.4M376.9 286.6h1.4M377.2 289.2h1.4M377.4 287.5h1.4M377.7 288.0h1.4M378.0 288.4h1.4M378.2 289.1h1.4M378.5 287.9h1.4M378.7 288.7h1.4M379.0 287.4h1.4M379.3 287.2h1.4M379.5 289.5h1.4M379.8 288.8h1.4M380.0 288.6h1.4M380.3 289.4h1.4M380.6 289.3h1.4M380.8 288.3h1.4M381.1 288.5h1.4M381.3 289.8h1.4M381.6 288.8h1.4M381.9 287.9h1.4M382.1 289.4h1.4M382.4 289.2h1.4M382.6 287.0h1.4M382.9 287.2h1.4M383.2 289.8h1.4M383.4 289.6h1.4M383.7 288.1h1.4M383.9 289.5h1.4M384.2 288.6h1.4M384.5 288.8h1.4M384.7 287.9h1.4M385.0 290.7h1.4M385.2 290.4h1.4M385.5 289.5h1.4M385.8 287.5h1.4M386.0 288.6h1.4M386.3 290.0h1.4M386.6 288.0h1.4M386.8 287.8h1.4M387.1 288.7h1.4M387.3 288.8h1.4M387.6 288.1h1.4M387.9 287.4h1.4M388.1 288.4h1.4M388.4 288.0h1.4M388.6 288.5h1.4M388.9 288.8h1.4M389.2 289.3h1.4M389.4 288.3h1.4M389.7 288.8h1.4M389.9 288.7h1.4M390.2 287.7h1.4M390.5 288.1h1.4M390.7 287.8h1.4M391.0 289.9h1.4M391.2 288.1h1.4M391.5 289.1h1.4M391.8 289.3h1.4M392.0 289.3h1.4M392.3 287.5h1.4M392.5 287.8h1.4M392.8 289.2h1.4M393.1 289.6h1.4M393.3 288.6h1.4M393.6 289.0h1.4M393.8 287.1h1.4M394.1 289.9h1.4M394.4 290.2h1.4M394.6 288.8h1.4M394.9 288.6h1.4M395.1 288.5h1.4M395.4 288.0h1.4M395.7 286.8h1.4M395.9 288.9h1.4M396.2 289.1h1.4M396.5 290.2h1.4M396.7 288.4h1.4M397.0 287.9h1.4M397.2 288.9h1.4M397.5 287.6h1.4M397.8 288.7h1.4M398.0 287.3h1.4M398.3 288.4h1.4M398.5 289.6h1.4M398.8 289.3h1.4M399.1 290.1h1.4M399.3 290.2h1.4M399.6 288.5h1.4M399.8 288.0h1.4M400.1 287.0h1.4M400.4 288.8h1.4M400.6 288.9h1.4M400.9 289.7h1.4M401.1 287.9h1.4M401.4 288.4h1.4M401.7 289.3h1.4M401.9 288.2h1.4M402.2 288.3h1.4M402.4 290.4h1.4M402.7 288.1h1.4M403.0 288.7h1.4M403.2 289.1h1.4M403.5 289.2h1.4M403.7 287.3h1.4M404.0 287.5h1.4M404.3 287.2h1.4M404.5 289.8h1.4M404.8 289.4h1.4M405.0 288.0h1.4M405.3 289.9h1.4M405.6 289.5h1.4M405.8 290.4h1.4M406.1 287.2h1.4M406.4 287.9h1.4M406.6 288.5h1.4M406.9 288.7h1.4M407.1 289.2h1.4M407.4 289.2h1.4M407.7 288.3h1.4M407.9 289.5h1.4M408.2 287.8h1.4M408.4 289.3h1.4M408.7 289.7h1.4M409.0 287.8h1.4M409.2 289.1h1.4M409.5 288.4h1.4M409.7 289.3h1.4M410.0 290.9h1.4M410.3 288.5h1.4M410.5 290.1h1.4M410.8 288.0h1.4M411.0 290.3h1.4M411.3 290.6h1.4M411.6 288.7h1.4M411.8 288.6h1.4M412.1 288.9h1.4M412.3 290.1h1.4M412.6 288.2h1.4M412.9 290.3h1.4M413.1 289.4h1.4M413.4 289.7h1.4M413.6 289.4h1.4M413.9 288.3h1.4M414.2 289.6h1.4M414.4 288.6h1.4M414.7 288.4h1.4M414.9 290.6h1.4M415.2 290.1h1.4M415.5 289.4h1.4M415.7 289.6h1.4M416.0 288.8h1.4M416.3 290.8h1.4M416.5 288.5h1.4M416.8 288.4h1.4M417.0 289.2h1.4M417.3 290.3h1.4M417.6 289.1h1.4M417.8 289.6h1.4M418.1 288.6h1.4M418.3 289.2h1.4M418.6 288.5h1.4M418.9 289.5h1.4M419.1 287.9h1.4M419.4 291.2h1.4M419.6 290.0h1.4M419.9 288.7h1.4M420.2 290.5h1.4M420.4 288.5h1.4M420.7 290.2h1.4M420.9 289.1h1.4M421.2 290.0h1.4M421.5 289.6h1.4M421.7 289.0h1.4M422.0 289.3h1.4M422.2 289.5h1.4M422.5 287.3h1.4M422.8 289.2h1.4M423.0 290.1h1.4M423.3 288.4h1.4M423.5 288.5h1.4M423.8 288.2h1.4M424.1 287.7h1.4M424.3 290.1h1.4M424.6 288.3h1.4M424.8 288.3h1.4M425.1 289.3h1.4M425.4 289.0h1.4M425.6 291.9h1.4M425.9 289.8h1.4M426.2 287.7h1.4M426.4 290.8h1.4M426.7 289.7h1.4M426.9 289.0h1.4M427.2 288.8h1.4M427.5 287.9h1.4M427.7 290.8h1.4M428.0 289.3h1.4M428.2 288.5h1.4M428.5 290.4h1.4M428.8 289.3h1.4M429.0 287.7h1.4M429.3 288.2h1.4M429.5 288.8h1.4M429.8 291.6h1.4M430.1 289.4h1.4M430.3 289.0h1.4M430.6 289.6h1.4M430.8 289.4h1.4M431.1 286.6h1.4M431.4 289.5h1.4M431.6 290.2h1.4M431.9 289.1h1.4M432.1 289.6h1.4M432.4 289.6h1.4M432.7 289.4h1.4M432.9 288.7h1.4M433.2 289.1h1.4M433.4 290.4h1.4M433.7 289.4h1.4M434.0 288.9h1.4M434.2 289.7h1.4M434.5 288.3h1.4M434.7 288.7h1.4M435.0 290.2h1.4M435.3 289.1h1.4M435.5 287.6h1.4M435.8 288.0h1.4M436.1 289.4h1.4M436.3 288.6h1.4M436.6 289.9h1.4M436.8 290.6h1.4M437.1 288.9h1.4M437.4 289.1h1.4M437.6 288.9h1.4M437.9 289.4h1.4M438.1 289.1h1.4M438.4 289.8h1.4M438.7 288.9h1.4M438.9 288.6h1.4M439.2 289.4h1.4M439.4 288.6h1.4M439.7 290.9h1.4M440.0 290.0h1.4M440.2 288.1h1.4M440.5 287.8h1.4M440.7 289.1h1.4M441.0 289.4h1.4M441.3 290.4h1.4M441.5 289.0h1.4M441.8 288.7h1.4M442.0 290.6h1.4M442.3 288.8h1.4M442.6 288.9h1.4M442.8 289.0h1.4M443.1 290.3h1.4M443.3 288.9h1.4M443.6 290.6h1.4M443.9 288.0h1.4M444.1 289.2h1.4M444.4 290.3h1.4M444.6 288.2h1.4M444.9 288.3h1.4M445.2 289.9h1.4M445.4 287.4h1.4M445.7 290.2h1.4M446.0 289.1h1.4M446.2 288.3h1.4M446.5 291.3h1.4M446.7 288.5h1.4M447.0 289.4h1.4M447.3 289.3h1.4M447.5 290.3h1.4M447.8 289.0h1.4M448.0 290.3h1.4M448.3 290.2h1.4M448.6 289.7h1.4M448.8 290.4h1.4M449.1 288.0h1.4M449.3 290.5h1.4M449.6 290.0h1.4M449.9 289.6h1.4M450.1 289.3h1.4M450.4 288.6h1.4M450.6 288.6h1.4M450.9 289.6h1.4M451.2 289.7h1.4M451.4 289.3h1.4M451.7 288.6h1.4M451.9 288.7h1.4M452.2 289.8h1.4M452.5 291.1h1.4M452.7 287.5h1.4M453.0 288.5h1.4M453.2 289.1h1.4M453.5 289.0h1.4M453.8 289.8h1.4M454.0 290.2h1.4M454.3 289.6h1.4M454.5 289.5h1.4M454.8 289.9h1.4M455.1 290.6h1.4M455.3 289.6h1.4M455.6 288.8h1.4M455.9 289.8h1.4M456.1 289.3h1.4M456.4 291.1h1.4M456.6 289.5h1.4M456.9 289.4h1.4M457.2 290.4h1.4M457.4 290.8h1.4M457.7 289.0h1.4M457.9 290.0h1.4M458.2 288.9h1.4M458.5 289.7h1.4M458.7 288.8h1.4M459.0 289.6h1.4M459.2 290.6h1.4M459.5 289.4h1.4M459.8 289.6h1.4M460.0 288.8h1.4M460.3 289.7h1.4M460.5 289.7h1.4M460.8 288.6h1.4M461.1 288.3h1.4M461.3 288.7h1.4M461.6 288.4h1.4M461.8 288.9h1.4M462.1 288.7h1.4M462.4 288.6h1.4M462.6 289.0h1.4M462.9 289.3h1.4M463.1 289.2h1.4M463.4 287.2h1.4M463.7 289.3h1.4M463.9 289.5h1.4M464.2 289.6h1.4M464.4 289.4h1.4M464.7 289.1h1.4M465.0 290.3h1.4M465.2 291.1h1.4M465.5 289.1h1.4M465.8 290.7h1.4M466.0 289.1h1.4M466.3 289.2h1.4M466.5 288.3h1.4M466.8 287.9h1.4M467.1 289.0h1.4M467.3 289.8h1.4M467.6 290.4h1.4M467.8 290.0h1.4M468.1 289.3h1.4M468.4 291.1h1.4M468.6 289.3h1.4M468.9 289.3h1.4M469.1 288.8h1.4M469.4 289.6h1.4M469.7 289.2h1.4M469.9 290.0h1.4M470.2 289.7h1.4M470.4 290.9h1.4M470.7 289.2h1.4M471.0 288.0h1.4M471.2 289.2h1.4M471.5 289.0h1.4M471.7 290.2h1.4M472.0 288.1h1.4M472.3 290.0h1.4M472.5 288.6h1.4M472.8 289.2h1.4M473.0 290.2h1.4M473.3 288.4h1.4M473.6 289.3h1.4M473.8 289.2h1.4M474.1 288.9h1.4M474.3 289.4h1.4M474.6 289.7h1.4M474.9 288.9h1.4M475.1 289.7h1.4M475.4 289.3h1.4M475.7 289.9h1.4M475.9 290.6h1.4M476.2 289.9h1.4M476.4 289.8h1.4M476.7 289.3h1.4M477.0 288.3h1.4M477.2 290.8h1.4M477.5 289.2h1.4M477.7 291.3h1.4M478.0 290.3h1.4M478.3 289.8h1.4M478.5 291.3h1.4M478.8 291.0h1.4M479.0 289.2h1.4M479.3 289.3h1.4M479.6 289.5h1.4M479.8 290.1h1.4M480.1 287.5h1.4M480.3 289.5h1.4M480.6 290.1h1.4M480.9 287.9h1.4M481.1 288.9h1.4M481.4 289.7h1.4M481.6 288.4h1.4M481.9 289.3h1.4M482.2 288.9h1.4M482.4 289.2h1.4M482.7 290.3h1.4M482.9 288.6h1.4M483.2 289.3h1.4M483.5 290.3h1.4M483.7 290.1h1.4M484.0 288.6h1.4M484.2 289.8h1.4M484.5 289.4h1.4M484.8 288.9h1.4M485.0 289.3h1.4M485.3 290.8h1.4M485.6 288.9h1.4M485.8 288.7h1.4M486.1 288.7h1.4M486.3 288.1h1.4M486.6 289.2h1.4M486.9 288.8h1.4M487.1 288.1h1.4M487.4 289.7h1.4M487.6 288.0h1.4M487.9 288.0h1.4M488.2 288.8h1.4M488.4 287.9h1.4M488.7 288.8h1.4M488.9 290.3h1.4M489.2 288.6h1.4M489.5 289.3h1.4M489.7 289.2h1.4M490.0 289.4h1.4M490.2 288.4h1.4M490.5 289.1h1.4M490.8 290.2h1.4M491.0 289.2h1.4M491.3 289.0h1.4M491.5 290.2h1.4M491.8 290.0h1.4M492.1 289.9h1.4M492.3 290.1h1.4M492.6 289.3h1.4M492.8 288.7h1.4M493.1 288.0h1.4M493.4 288.6h1.4M493.6 288.8h1.4M493.9 288.7h1.4M494.1 288.5h1.4M494.4 290.0h1.4M494.7 289.1h1.4M494.9 289.4h1.4M495.2 289.8h1.4M495.5 290.1h1.4M495.7 290.1h1.4M496.0 289.9h1.4M496.2 290.8h1.4M496.5 289.3h1.4M496.8 289.7h1.4M497.0 289.6h1.4M497.3 289.4h1.4M497.5 289.1h1.4M497.8 290.2h1.4M498.1 289.8h1.4M498.3 291.1h1.4M498.6 291.7h1.4M498.8 291.4h1.4M499.1 288.5h1.4M499.4 291.3h1.4M499.6 289.4h1.4M499.9 288.5h1.4M500.1 290.2h1.4M500.4 288.4h1.4M500.7 288.2h1.4M500.9 289.0h1.4M501.2 287.8h1.4M501.4 289.3h1.4M501.7 290.5h1.4M502.0 289.4h1.4M502.2 290.2h1.4M502.5 291.0h1.4M502.7 291.0h1.4M503.0 287.9h1.4M503.3 290.4h1.4M503.5 289.9h1.4M503.8 290.5h1.4M504.0 289.8h1.4M504.3 290.1h1.4M504.6 290.3h1.4M504.8 291.0h1.4M505.1 291.1h1.4M505.4 290.6h1.4M505.6 289.7h1.4M505.9 288.2h1.4M506.1 289.1h1.4M506.4 288.4h1.4M506.7 289.6h1.4M506.9 290.1h1.4M507.2 291.1h1.4M507.4 290.0h1.4M507.7 291.8h1.4M508.0 290.3h1.4M508.2 288.6h1.4" fill="none" stroke="#000000" stroke-opacity="0.3" stroke-width="1.2"/>
<path d="M362.6 288.0h1.4M362.8 287.2h1.4M363.1 288.5h1.4M363.4 289.4h1.4M363.6 288.5h1.4M363.9 288.4h1.4M364.1 286.9h1.4M364.4 286.2h1.4M364.7 288.6h1.4M364.9 288.2h1.4M365.2 288.0h1.4M365.4 288.2h1.4M365.7 288.9h1.4M366.0 287.7h1.4M366.2 287.4h1.4M366.5 287.3h1.4M366.8 288.7h1.4M367.0 287.7h1.4M367.3 289.1h1.4M367.5 286.7h1.4M367.8 288.4h1.4M368.1 287.7h1.4M368.3 287.8h1.4M368.6 287.9h1.4M368.8 288.3h1.4M369.1 288.9h1.4M369.4 285.6h1.4M369.6 286.9h1.4M369.9 286.9h1.4M370.1 285.2h1.4M370.4 287.2h1.4M370.7 286.5h1.4M370.9 287.0h1.4M371.2 285.8h1.4M371.4 286.4h1.4M371.7 286.6h1.4M372.0 287.0h1.4M372.2 286.5h1.4M372.5 285.6h1.4M372.7 288.6h1.4M373.0 286.8h1.4M373.3 287.0h1.4M373.5 286.8h1.4M373.8 288.4h1.4M374.0 285.8h1.4M374.3 287.2h1.4M374.6 286.6h1.4M374.8 286.8h1.4M375.1 287.9h1.4M375.3 286.7h1.4M375.6 287.9h1.4M375.9 287.1h1.4M376.1 286.4h1.4M376.4 286.1h1.4M376.7 286.0h1.4M376.9 286.1h1.4M377.2 283.9h1.4M377.4 285.5h1.4M377.7 287.0h1.4M378.0 286.4h1.4M378.2 286.4h1.4M378.5 285.9h1.4M378.7 286.3h1.4M379.0 286.5h1.4M379.3 284.0h1.4M379.5 285.5h1.4M379.8 285.8h1.4M380.0 285.7h1.4M380.3 285.6h1.4M380.6 284.0h1.4M380.8 284.9h1.4M381.1 284.2h1.4M381.3 288.2h1.4M381.6 284.9h1.4M381.9 284.1h1.4M382.1 283.2h1.4M382.4 285.0h1.4M382.6 286.7h1.4M382.9 284.4h1.4M383.2 285.5h1.4M383.4 286.6h1.4M383.7 285.4h1.4M383.9 283.7h1.4M384.2 283.5h1.4M384.5 284.0h1.4M384.7 285.6h1.4M385.0 282.1h1.4M385.2 285.7h1.4M385.5 284.6h1.4M385.8 285.9h1.4M386.0 283.1h1.4M386.3 283.9h1.4M386.6 283.4h1.4M386.8 284.2h1.4M387.1 284.3h1.4M387.3 284.0h1.4M387.6 286.0h1.4M387.9 283.1h1.4M388.1 283.1h1.4M388.4 284.3h1.4M388.6 283.9h1.4M388.9 283.6h1.4M389.2 282.2h1.4M389.4 283.3h1.4M389.7 283.7h1.4M389.9 284.2h1.4M390.2 285.1h1.4M390.5 284.2h1.4M390.7 283.4h1.4M391.0 283.7h1.4M391.2 283.3h1.4M391.5 282.6h1.4M391.8 282.9h1.4M392.0 283.0h1.4M392.3 282.6h1.4M392.5 283.0h1.4M392.8 283.2h1.4M393.1 282.6h1.4M393.3 284.8h1.4M393.6 281.7h1.4M393.8 284.2h1.4M394.1 282.0h1.4M394.4 282.8h1.4M394.6 281.6h1.4M394.9 282.7h1.4M395.1 283.6h1.4M395.4 281.5h1.4M395.7 282.4h1.4M395.9 282.4h1.4M396.2 282.4h1.4M396.5 281.4h1.4M396.7 281.5h1.4M397.0 282.1h1.4M397.2 283.9h1.4M397.5 282.6h1.4M397.8 282.1h1.4M398.0 280.3h1.4M398.3 281.7h1.4M398.5 282.1h1.4M398.8 280.7h1.4M399.1 282.0h1.4M399.3 281.9h1.4M399.6 281.6h1.4M399.8 283.3h1.4M400.1 280.7h1.4M400.4 281.2h1.4M400.6 281.9h1.4M400.9 282.7h1.4M401.1 281.3h1.4M401.4 280.0h1.4M401.7 282.0h1.4M401.9 282.4h1.4M402.2 280.8h1.4M402.4 282.9h1.4M402.7 283.5h1.4M403.0 281.6h1.4M403.2 281.8h1.4M403.5 281.3h1.4M403.7 281.5h1.4M404.0 280.5h1.4M404.3 281.1h1.4M404.5 281.4h1.4M404.8 281.2h1.4M405.0 280.0h1.4M405.3 279.6h1.4M405.6 279.6h1.4M405.8 279.8h1.4M406.1 283.9h1.4M406.4 281.5h1.4M406.6 280.7h1.4M406.9 280.1h1.4M407.1 281.9h1.4M407.4 278.6h1.4M407.7 279.8h1.4M407.9 280.7h1.4M408.2 279.8h1.4M408.4 280.3h1.4M408.7 280.7h1.4M409.0 279.3h1.4M409.2 280.2h1.4M409.5 281.2h1.4M409.7 280.3h1.4M410.0 279.7h1.4M410.3 280.7h1.4M410.5 278.1h1.4M410.8 280.6h1.4M411.0 277.5h1.4M411.3 278.3h1.4M411.6 280.3h1.4M411.8 279.0h1.4M412.1 277.8h1.4M412.3 279.3h1.4M412.6 280.3h1.4M412.9 278.8h1.4M413.1 276.7h1.4M413.4 280.4h1.4M413.6 278.2h1.4M413.9 278.7h1.4M414.2 278.8h1.4M414.4 279.0h1.4M414.7 278.9h1.4M414.9 277.3h1.4M415.2 277.7h1.4M415.5 279.4h1.4M415.7 276.6h1.4M416.0 279.6h1.4M416.3 277.4h1.4M416.5 277.9h1.4M416.8 276.7h1.4M417.0 277.6h1.4M417.3 276.7h1.4M417.6 277.9h1.4M417.8 276.7h1.4M418.1 277.3h1.4M418.3 275.3h1.4M418.6 278.4h1.4M418.9 276.2h1.4M419.1 277.0h1.4M419.4 277.2h1.4M419.6 278.0h1.4M419.9 276.8h1.4M420.2 278.9h1.4M420.4 278.7h1.4M420.7 276.3h1.4M420.9 278.8h1.4M421.2 275.4h1.4M421.5 277.2h1.4M421.7 276.6h1.4M422.0 276.7h1.4M422.2 276.3h1.4M422.5 277.0h1.4M422.8 277.0h1.4M423.0 276.7h1.4M423.3 275.3h1.4M423.5 275.2h1.4M423.8 274.9h1.4M424.1 275.9h1.4M424.3 276.5h1.4M424.6 278.1h1.4M424.8 275.4h1.4M425.1 275.1h1.4M425.4 276.4h1.4M425.6 275.0h1.4M425.9 274.4h1.4M426.2 275.7h1.4M426.4 274.5h1.4M426.7 275.3h1.4M426.9 277.6h1.4M427.2 276.1h1.4M427.5 276.0h1.4M427.7 274.8h1.4M428.0 276.4h1.4M428.2 275.8h1.4M428.5 276.3h1.4M428.8 275.2h1.4M429.0 275.0h1.4M429.3 273.9h1.4M429.5 274.1h1.4M429.8 274.7h1.4M430.1 274.6h1.4M430.3 274.7h1.4M430.6 274.6h1.4M430.8 272.9h1.4M431.1 277.5h1.4M431.4 274.8h1.4M431.6 274.1h1.4M431.9 273.1h1.4M432.1 275.6h1.4M432.4 273.9h1.4M432.7 273.3h1.4M432.9 274.7h1.4M433.2 276.3h1.4M433.4 274.5h1.4M433.7 275.4h1.4M434.0 273.2h1.4M434.2 274.9h1.4M434.5 271.7h1.4M434.7 273.6h1.4M435.0 274.6h1.4M435.3 274.2h1.4M435.5 274.8h1.4M435.8 273.1h1.4M436.1 271.7h1.4M436.3 273.6h1.4M436.6 272.2h1.4M436.8 274.4h1.4M437.1 272.8h1.4M437.4 270.4h1.4M437.6 274.7h1.4M437.9 271.6h1.4M438.1 271.6h1.4M438.4 275.1h1.4M438.7 274.5h1.4M438.9 273.9h1.4M439.2 271.6h1.4M439.4 273.2h1.4M439.7 272.8h1.4M440.0 271.7h1.4M440.2 272.3h1.4M440.5 272.2h1.4M440.7 272.7h1.4M441.0 271.0h1.4M441.3 273.2h1.4M441.5 270.2h1.4M441.8 272.5h1.4M442.0 273.0h1.4M442.3 271.2h1.4M442.6 271.4h1.4M442.8 274.3h1.4M443.1 271.6h1.4M443.3 273.4h1.4M443.6 272.7h1.4M443.9 270.7h1.4M444.1 272.6h1.4M444.4 271.1h1.4M444.6 271.9h1.4M444.9 269.1h1.4M445.2 271.5h1.4M445.4 272.7h1.4M445.7 272.6h1.4M446.0 272.3h1.4M446.2 271.0h1.4M446.5 271.1h1.4M446.7 269.9h1.4M447.0 270.8h1.4M447.3 270.8h1.4M447.5 270.5h1.4M447.8 270.9h1.4M448.0 270.4h1.4M448.3 269.7h1.4M448.6 269.7h1.4M448.8 271.2h1.4M449.1 272.6h1.4M449.3 271.4h1.4M449.6 270.0h1.4M449.9 273.3h1.4M450.1 270.8h1.4M450.4 269.7h1.4M450.6 270.8h1.4M450.9 271.4h1.4M451.2 267.9h1.4M451.4 268.3h1.4M451.7 270.2h1.4M451.9 268.2h1.4M452.2 268.2h1.4M452.5 271.1h1.4M452.7 266.4h1.4M453.0 270.8h1.4M453.2 269.9h1.4M453.5 270.8h1.4M453.8 269.3h1.4M454.0 271.0h1.4M454.3 269.3h1.4M454.5 267.9h1.4M454.8 268.9h1.4M455.1 269.5h1.4M455.3 267.2h1.4M455.6 270.1h1.4M455.9 267.8h1.4M456.1 269.3h1.4M456.4 268.6h1.4M456.6 268.7h1.4M456.9 268.5h1.4M457.2 268.7h1.4M457.4 269.5h1.4M457.7 269.2h1.4M457.9 267.9h1.4M458.2 268.5h1.4M458.5 269.8h1.4M458.7 269.1h1.4M459.0 269.1h1.4M459.2 268.2h1.4M459.5 267.9h1.4M459.8 267.9h1.4M460.0 268.8h1.4M460.3 267.9h1.4M460.5 269.5h1.4M460.8 271.4h1.4M461.1 267.8h1.4M461.3 269.7h1.4M461.6 268.7h1.4M461.8 269.0h1.4M462.1 266.6h1.4M462.4 268.9h1.4M462.6 267.0h1.4M462.9 267.8h1.4M463.1 268.7h1.4M463.4 269.1h1.4M463.7 266.5h1.4M463.9 266.5h1.4M464.2 265.9h1.4M464.4 264.5h1.4M464.7 266.4h1.4M465.0 266.3h1.4M465.2 266.8h1.4M465.5 266.4h1.4M465.8 266.9h1.4M466.0 267.6h1.4M466.3 263.8h1.4M466.5 268.6h1.4M466.8 265.9h1.4M467.1 265.6h1.4M467.3 265.9h1.4M467.6 267.2h1.4M467.8 266.2h1.4M468.1 266.4h1.4M468.4 267.1h1.4M468.6 265.8h1.4M468.9 266.2h1.4M469.1 266.3h1.4M469.4 264.6h1.4M469.7 266.8h1.4M469.9 264.8h1.4M470.2 266.0h1.4M470.4 264.6h1.4M470.7 265.0h1.4M471.0 264.7h1.4M471.2 266.2h1.4M471.5 265.9h1.4M471.7 265.9h1.4M472.0 264.5h1.4M472.3 263.7h1.4M472.5 263.2h1.4M472.8 265.1h1.4M473.0 264.3h1.4M473.3 266.4h1.4M473.6 267.1h1.4M473.8 265.3h1.4M474.1 265.0h1.4M474.3 266.0h1.4M474.6 266.2h1.4M474.9 263.2h1.4M475.1 264.8h1.4M475.4 265.9h1.4M475.7 260.6h1.4M475.9 263.3h1.4M476.2 263.8h1.4M476.4 262.5h1.4M476.7 264.2h1.4M477.0 261.1h1.4M477.2 265.1h1.4M477.5 264.7h1.4M477.7 263.1h1.4M478.0 263.8h1.4M478.3 260.9h1.4M478.5 264.8h1.4M478.8 263.5h1.4M479.0 262.2h1.4M479.3 261.7h1.4M479.6 261.0h1.4M479.8 261.8h1.4M480.1 259.2h1.4M480.3 262.7h1.4M480.6 261.7h1.4M480.9 260.7h1.4M481.1 262.2h1.4M481.4 262.1h1.4M481.6 262.2h1.4M481.9 262.3h1.4M482.2 262.9h1.4M482.4 262.0h1.4M482.7 263.3h1.4M482.9 260.6h1.4M483.2 263.1h1.4M483.5 258.2h1.4M483.7 258.6h1.4M484.0 259.3h1.4M484.2 260.9h1.4M484.5 261.3h1.4M484.8 258.8h1.4M485.0 260.1h1.4M485.3 259.5h1.4M485.6 261.1h1.4M485.8 258.6h1.4M486.1 261.0h1.4M486.3 259.7h1.4M486.6 262.1h1.4M486.9 260.5h1.4M487.1 258.9h1.4M487.4 260.1h1.4M487.6 260.0h1.4M487.9 258.2h1.4M488.2 259.3h1.4M488.4 257.4h1.4M488.7 262.2h1.4M488.9 258.1h1.4M489.2 258.1h1.4M489.5 260.7h1.4M489.7 260.3h1.4M490.0 257.3h1.4M490.2 259.8h1.4M490.5 259.1h1.4M490.8 257.3h1.4M491.0 258.5h1.4M491.3 257.3h1.4M491.5 259.0h1.4M491.8 257.3h1.4M492.1 256.1h1.4M492.3 257.1h1.4M492.6 260.4h1.4M492.8 256.4h1.4M493.1 257.1h1.4M493.4 258.3h1.4M493.6 255.1h1.4M493.9 259.2h1.4M494.1 254.2h1.4M494.4 257.5h1.4M494.7 254.4h1.4M494.9 256.5h1.4M495.2 258.1h1.4M495.5 256.1h1.4M495.7 255.6h1.4M496.0 255.2h1.4M496.2 254.4h1.4M496.5 257.0h1.4M496.8 255.0h1.4M497.0 254.5h1.4M497.3 255.8h1.4M497.5 256.6h1.4M497.8 256.5h1.4M498.1 254.0h1.4M498.3 253.9h1.4M498.6 256.0h1.4M498.8 256.6h1.4M499.1 252.9h1.4M499.4 256.7h1.4M499.6 254.2h1.4M499.9 255.4h1.4M500.1 256.6h1.4M500.4 253.9h1.4M500.7 254.2h1.4M500.9 251.8h1.4M501.2 250.5h1.4M501.4 253.9h1.4M501.7 252.0h1.4M502.0 251.9h1.4M502.2 254.0h1.4M502.5 254.3h1.4M502.7 250.7h1.4M503.0 253.4h1.4M503.3 252.8h1.4M503.5 253.1h1.4M503.8 252.7h1.4M504.0 253.3h1.4M504.3 251.2h1.4M504.6 250.4h1.4M504.8 252.6h1.4M505.1 253.9h1.4M505.4 251.7h1.4M505.6 253.8h1.4M505.9 252.5h1.4M506.1 249.7h1.4M506.4 248.0h1.4M506.7 250.7h1.4M506.9 252.6h1.4M507.2 249.9h1.4M507.4 254.1h1.4M507.7 251.7h1.4M508.0 248.4h1.4M508.2 249.4h1.4" fill="none" stroke="#1565D2" stroke-opacity="0.3" stroke-width="1.2"/>
<path d="M362.6 280.2h1.4M362.8 280.5h1.4M363.1 277.7h1.4M363.4 278.7h1.4M363.6 279.3h1.4M363.9 278.2h1.4M364.1 279.3h1.4M364.4 280.7h1.4M364.7 277.8h1.4M364.9 279.4h1.4M365.2 279.7h1.4M365.4 280.1h1.4M365.7 278.4h1.4M366.0 279.5h1.4M366.2 278.0h1.4M366.5 278.9h1.4M366.8 277.5h1.4M367.0 279.1h1.4M367.3 279.3h1.4M367.5 280.8h1.4M367.8 279.8h1.4M368.1 277.8h1.4M368.3 275.3h1.4M368.6 280.0h1.4M368.8 279.7h1.4M369.1 278.2h1.4M369.4 278.1h1.4M369.6 279.3h1.4M369.9 278.5h1.4M370.1 280.3h1.4M370.4 278.9h1.4M370.7 277.6h1.4M370.9 276.8h1.4M371.2 278.8h1.4M371.4 278.9h1.4M371.7 278.1h1.4M372.0 277.4h1.4M372.2 278.0h1.4M372.5 279.4h1.4M372.7 278.2h1.4M373.0 277.5h1.4M373.3 279.3h1.4M373.5 280.0h1.4M373.8 278.0h1.4M374.0 278.1h1.4M374.3 277.5h1.4M374.6 278.4h1.4M374.8 279.2h1.4M375.1 279.0h1.4M375.3 279.6h1.4M375.6 279.5h1.4M375.9 279.1h1.4M376.1 279.0h1.4M376.4 277.2h1.4M376.7 279.8h1.4M376.9 278.5h1.4M377.2 279.1h1.4M377.4 276.8h1.4M377.7 278.1h1.4M378.0 278.8h1.4M378.2 277.5h1.4M378.5 278.3h1.4M378.7 278.9h1.4M379.0 276.7h1.4M379.3 277.6h1.4M379.5 276.5h1.4M379.8 277.1h1.4M380.0 277.5h1.4M380.3 278.2h1.4M380.6 279.5h1.4M380.8 277.5h1.4M381.1 278.2h1.4M381.3 277.6h1.4M381.6 278.3h1.4M381.9 279.0h1.4M382.1 279.4h1.4M382.4 277.5h1.4M382.6 276.8h1.4M382.9 278.6h1.4M383.2 277.7h1.4M383.4 276.7h1.4M383.7 279.1h1.4M383.9 278.6h1.4M384.2 279.4h1.4M384.5 276.9h1.4M384.7 277.9h1.4M385.0 278.7h1.4M385.2 280.0h1.4M385.5 278.3h1.4M385.8 277.0h1.4M386.0 278.4h1.4M386.3 278.6h1.4M386.6 277.4h1.4M386.8 279.4h1.4M387.1 278.0h1.4M387.3 277.4h1.4M387.6 278.9h1.4M387.9 279.0h1.4M388.1 277.8h1.4M388.4 278.1h1.4M388.6 278.3h1.4M388.9 277.8h1.4M389.2 277.8h1.4M389.4 279.0h1.4M389.7 278.7h1.4M389.9 277.5h1.4M390.2 276.7h1.4M390.5 276.5h1.4M390.7 278.9h1.4M391.0 276.7h1.4M391.2 277.1h1.4M391.5 277.9h1.4M391.8 277.3h1.4M392.0 277.0h1.4M392.3 275.9h1.4M392.5 279.0h1.4M392.8 277.2h1.4M393.1 278.0h1.4M393.3 278.0h1.4M393.6 276.5h1.4M393.8 276.9h1.4M394.1 278.9h1.4M394.4 278.1h1.4M394.6 277.5h1.4M394.9 279.3h1.4M395.1 276.8h1.4M395.4 277.8h1.4M395.7 277.5h1.4M395.9 277.3h1.4M396.2 275.7h1.4M396.5 277.6h1.4M396.7 278.0h1.4M397.0 275.7h1.4M397.2 278.2h1.4M397.5 278.2h1.4M397.8 279.1h1.4M398.0 276.4h1.4M398.3 277.3h1.4M398.5 277.1h1.4M398.8 277.4h1.4M399.1 277.7h1.4M399.3 278.4h1.4M399.6 278.4h1.4M399.8 277.0h1.4M400.1 277.4h1.4M400.4 275.7h1.4M400.6 278.3h1.4M400.9 278.0h1.4M401.1 278.6h1.4M401.4 275.9h1.4M401.7 278.8h1.4M401.9 276.5h1.4M402.2 275.8h1.4M402.4 277.5h1.4M402.7 276.5h1.4M403.0 279.7h1.4M403.2 277.7h1.4M403.5 279.1h1.4M403.7 277.1h1.4M404.0 277.2h1.4M404.3 278.1h1.4M404.5 276.2h1.4M404.8 276.8h1.4M405.0 277.7h1.4M405.3 277.7h1.4M405.6 278.7h1.4M405.8 277.3h1.4M406.1 274.7h1.4M406.4 277.8h1.4M406.6 276.6h1.4M406.9 277.6h1.4M407.1 276.1h1.4M407.4 276.5h1.4M407.7 277.2h1.4M407.9 278.9h1.4M408.2 277.5h1.4M408.4 275.5h1.4M408.7 277.1h1.4M409.0 276.1h1.4M409.2 277.3h1.4M409.5 278.8h1.4M409.7 276.3h1.4M410.0 276.3h1.4M410.3 277.3h1.4M410.5 277.1h1.4M410.8 276.3h1.4M411.0 277.3h1.4M411.3 276.2h1.4M411.6 276.8h1.4M411.8 279.1h1.4M412.1 276.6h1.4M412.3 277.1h1.4M412.6 277.4h1.4M412.9 276.0h1.4M413.1 276.9h1.4M413.4 275.7h1.4M413.6 275.1h1.4M413.9 276.1h1.4M414.2 278.0h1.4M414.4 277.0h1.4M414.7 275.2h1.4M414.9 276.5h1.4M415.2 277.0h1.4M415.5 276.2h1.4M415.7 275.5h1.4M416.0 275.8h1.4M416.3 275.3h1.4M416.5 276.9h1.4M416.8 276.3h1.4M417.0 276.2h1.4M417.3 275.9h1.4M417.6 278.2h1.4M417.8 276.1h1.4M418.1 277.3h1.4M418.3 274.2h1.4M418.6 274.0h1.4M418.9 273.8h1.4M419.1 274.8h1.4M419.4 276.2h1.4M419.6 274.5h1.4M419.9 275.8h1.4M420.2 274.8h1.4M420.4 276.5h1.4M420.7 276.1h1.4M420.9 274.9h1.4M421.2 273.4h1.4M421.5 275.4h1.4M421.7 272.8h1.4M422.0 272.2h1.4M422.2 276.7h1.4M422.5 275.3h1.4M422.8 276.3h1.4M423.0 275.3h1.4M423.3 275.8h1.4M423.5 275.2h1.4M423.8 274.0h1.4M424.1 274.0h1.4M424.3 274.7h1.4M424.6 275.0h1.4M424.8 274.8h1.4M425.1 274.8h1.4M425.4 274.2h1.4M425.6 274.8h1.4M425.9 274.2h1.4M426.2 276.3h1.4M426.4 273.9h1.4M426.7 272.7h1.4M426.9 274.5h1.4M427.2 276.3h1.4M427.5 273.1h1.4M427.7 275.0h1.4M428.0 278.0h1.4M428.2 274.8h1.4M428.5 273.8h1.4M428.8 274.0h1.4M429.0 273.0h1.4M429.3 273.7h1.4M429.5 274.2h1.4M429.8 276.6h1.4M430.1 275.6h1.4M430.3 274.1h1.4M430.6 273.5h1.4M430.8 275.4h1.4M431.1 274.9h1.4M431.4 273.6h1.4M431.6 276.3h1.4M431.9 276.3h1.4M432.1 274.3h1.4M432.4 273.7h1.4M432.7 274.6h1.4M432.9 276.6h1.4M433.2 273.9h1.4M433.4 275.5h1.4M433.7 273.1h1.4M434.0 274.0h1.4M434.2 273.5h1.4M434.5 273.1h1.4M434.7 274.4h1.4M435.0 272.8h1.4M435.3 272.3h1.4M435.5 273.2h1.4M435.8 272.1h1.4M436.1 274.4h1.4M436.3 272.5h1.4M436.6 273.3h1.4M436.8 274.7h1.4M437.1 273.6h1.4M437.4 274.1h1.4M437.6 274.1h1.4M437.9 273.3h1.4M438.1 272.2h1.4M438.4 273.8h1.4M438.7 273.2h1.4M438.9 275.0h1.4M439.2 273.2h1.4M439.4 271.9h1.4M439.7 272.3h1.4M440.0 272.7h1.4M440.2 273.8h1.4M440.5 274.3h1.4M440.7 273.3h1.4M441.0 274.7h1.4M441.3 274.5h1.4M441.5 272.0h1.4M441.8 274.1h1.4M442.0 270.9h1.4M442.3 274.6h1.4M442.6 272.5h1.4M442.8 274.3h1.4M443.1 272.7h1.4M443.3 274.1h1.4M443.6 272.8h1.4M443.9 273.0h1.4M444.1 273.3h1.4M444.4 272.2h1.4M444.6 271.0h1.4M444.9 273.4h1.4M445.2 271.6h1.4M445.4 272.6h1.4M445.7 272.7h1.4M446.0 270.0h1.4M446.2 275.1h1.4M446.5 273.3h1.4M446.7 274.6h1.4M447.0 272.9h1.4M447.3 272.7h1.4M447.5 268.0h1.4M447.8 272.0h1.4M448.0 270.3h1.4M448.3 270.8h1.4M448.6 272.8h1.4M448.8 271.7h1.4M449.1 270.3h1.4M449.3 272.0h1.4M449.6 272.0h1.4M449.9 271.6h1.4M450.1 273.9h1.4M450.4 273.1h1.4M450.6 271.7h1.4M450.9 271.4h1.4M451.2 273.1h1.4M451.4 272.4h1.4M451.7 272.1h1.4M451.9 272.2h1.4M452.2 271.1h1.4M452.5 271.8h1.4M452.7 271.7h1.4M453.0 273.5h1.4M453.2 273.1h1.4M453.5 271.4h1.4M453.8 273.7h1.4M454.0 271.4h1.4M454.3 272.5h1.4M454.5 272.7h1.4M454.8 270.9h1.4M455.1 272.5h1.4M455.3 272.6h1.4M455.6 272.4h1.4M455.9 271.5h1.4M456.1 268.3h1.4M456.4 274.0h1.4M456.6 271.5h1.4M456.9 271.7h1.4M457.2 270.3h1.4M457.4 271.8h1.4M457.7 274.3h1.4M457.9 269.8h1.4M458.2 272.6h1.4M458.5 271.4h1.4M458.7 272.9h1.4M459.0 272.5h1.4M459.2 271.8h1.4M459.5 270.2h1.4M459.8 270.1h1.4M460.0 271.8h1.4M460.3 270.5h1.4M460.5 271.5h1.4M460.8 270.9h1.4M461.1 270.8h1.4M461.3 270.2h1.4M461.6 271.7h1.4M461.8 271.1h1.4M462.1 270.6h1.4M462.4 270.8h1.4M462.6 271.8h1.4M462.9 268.8h1.4M463.1 271.4h1.4M463.4 269.9h1.4M463.7 270.5h1.4M463.9 269.2h1.4M464.2 273.3h1.4M464.4 268.2h1.4M464.7 270.9h1.4M465.0 272.1h1.4M465.2 270.4h1.4M465.5 267.8h1.4M465.8 269.9h1.4M466.0 272.0h1.4M466.3 271.0h1.4M466.5 268.8h1.4M466.8 272.1h1.4M467.1 270.6h1.4M467.3 270.7h1.4M467.6 267.7h1.4M467.8 270.6h1.4M468.1 268.7h1.4M468.4 271.0h1.4M468.6 271.2h1.4M468.9 269.0h1.4M469.1 269.4h1.4M469.4 272.2h1.4M469.7 269.3h1.4M469.9 269.3h1.4M470.2 270.8h1.4M470.4 269.7h1.4M470.7 269.6h1.4M471.0 270.5h1.4M471.2 270.6h1.4M471.5 270.7h1.4M471.7 270.2h1.4M472.0 271.4h1.4M472.3 269.8h1.4M472.5 271.6h1.4M472.8 269.6h1.4M473.0 269.8h1.4M473.3 270.9h1.4M473.6 268.6h1.4M473.8 267.2h1.4M474.1 268.0h1.4M474.3 271.2h1.4M474.6 268.0h1.4M474.9 269.2h1.4M475.1 269.5h1.4M475.4 270.2h1.4M475.7 269.4h1.4M475.9 267.7h1.4M476.2 268.7h1.4M476.4 269.8h1.4M476.7 270.1h1.4M477.0 269.8h1.4M477.2 268.5h1.4M477.5 266.9h1.4M477.7 270.4h1.4M478.0 269.1h1.4M478.3 269.6h1.4M478.5 270.0h1.4M478.8 268.5h1.4M479.0 268.3h1.4M479.3 270.7h1.4M479.6 270.2h1.4M479.8 267.4h1.4M480.1 268.5h1.4M480.3 268.2h1.4M480.6 269.4h1.4M480.9 269.3h1.4M481.1 268.2h1.4M481.4 269.3h1.4M481.6 270.1h1.4M481.9 268.7h1.4M482.2 267.5h1.4M482.4 269.9h1.4M482.7 267.3h1.4M482.9 267.7h1.4M483.2 269.6h1.4M483.5 268.5h1.4M483.7 268.5h1.4M484.0 267.6h1.4M484.2 267.6h1.4M484.5 270.0h1.4M484.8 270.0h1.4M485.0 267.0h1.4M485.3 268.1h1.4M485.6 267.7h1.4M485.8 267.8h1.4M486.1 266.3h1.4M486.3 269.6h1.4M486.6 266.7h1.4M486.9 269.1h1.4M487.1 267.1h1.4M487.4 266.3h1.4M487.6 269.7h1.4M487.9 267.4h1.4M488.2 268.2h1.4M488.4 268.2h1.4M488.7 267.8h1.4M488.9 269.1h1.4M489.2 269.0h1.4M489.5 266.9h1.4M489.7 266.7h1.4M490.0 268.4h1.4M490.2 269.4h1.4M490.5 264.7h1.4M490.8 266.2h1.4M491.0 267.1h1.4M491.3 268.8h1.4M491.5 268.2h1.4M491.8 267.2h1.4M492.1 268.6h1.4M492.3 265.4h1.4M492.6 267.2h1.4M492.8 266.8h1.4M493.1 268.6h1.4M493.4 268.4h1.4M493.6 268.2h1.4M493.9 266.9h1.4M494.1 267.5h1.4M494.4 267.5h1.4M494.7 266.7h1.4M494.9 266.8h1.4M495.2 265.2h1.4M495.5 267.2h1.4M495.7 268.2h1.4M496.0 266.9h1.4M496.2 265.1h1.4M496.5 267.6h1.4M496.8 266.8h1.4M497.0 267.2h1.4M497.3 266.3h1.4M497.5 266.4h1.4M497.8 267.7h1.4M498.1 267.0h1.4M498.3 265.5h1.4M498.6 265.2h1.4M498.8 265.4h1.4M499.1 265.5h1.4M499.4 266.9h1.4M499.6 266.9h1.4M499.9 265.3h1.4M500.1 267.9h1.4M500.4 266.4h1.4M500.7 268.7h1.4M500.9 266.8h1.4M501.2 267.1h1.4M501.4 267.7h1.4M501.7 265.5h1.4M502.0 267.1h1.4M502.2 266.6h1.4M502.5 266.4h1.4M502.7 267.0h1.4M503.0 264.3h1.4M503.3 266.6h1.4M503.5 265.7h1.4M503.8 267.6h1.4M504.0 266.5h1.4M504.3 266.3h1.4M504.6 266.2h1.4M504.8 266.5h1.4M505.1 265.6h1.4M505.4 263.8h1.4M505.6 265.9h1.4M505.9 265.8h1.4M506.1 266.1h1.4M506.4 262.4h1.4M506.7 263.5h1.4M506.9 264.8h1.4M507.2 264.6h1.4M507.4 266.3h1.4M507.7 265.6h1.4M508.0 265.1h1.4M508.2 265.2h1.4" fill="none" stroke="#6DB31E" stroke-opacity="0.3" stroke-width="1.2"/>
<path d="M362.6 292.8h1.4M362.8 292.7h1.4M363.1 291.6h1.4M363.4 291.7h1.4M363.6 293.6h1.4M363.9 291.8h1.4M364.1 290.8h1.4M364.4 292.2h1.4M364.7 291.5h1.4M364.9 292.8h1.4M365.2 290.9h1.4M365.4 292.4h1.4M365.7 292.4h1.4M366.0 291.6h1.4M366.2 289.4h1.4M366.5 291.7h1.4M366.8 292.2h1.4M367.0 290.7h1.4M367.3 290.9h1.4M367.5 289.6h1.4M367.8 291.9h1.4M368.1 292.1h1.4M368.3 291.0h1.4M368.6 290.4h1.4M368.8 290.4h1.4M369.1 289.7h1.4M369.4 291.7h1.4M369.6 291.1h1.4M369.9 290.5h1.4M370.1 289.6h1.4M370.4 289.8h1.4M370.7 290.5h1.4M370.9 291.0h1.4M371.2 289.3h1.4M371.4 289.2h1.4M371.7 287.6h1.4M372.0 290.0h1.4M372.2 288.4h1.4M372.5 290.7h1.4M372.7 290.1h1.4M373.0 290.1h1.4M373.3 289.9h1.4M373.5 290.1h1.4M373.8 289.8h1.4M374.0 289.3h1.4M374.3 289.6h1.4M374.6 288.5h1.4M374.8 289.1h1.4M375.1 289.0h1.4M375.3 287.6h1.4M375.6 288.5h1.4M375.9 288.6h1.4M376.1 288.7h1.4M376.4 288.5h1.4M376.7 288.0h1.4M376.9 289.1h1.4M377.2 287.4h1.4M377.4 286.9h1.4M377.7 287.2h1.4M378.0 288.6h1.4M378.2 289.5h1.4M378.5 288.4h1.4M378.7 287.8h1.4M379.0 287.1h1.4M379.3 287.9h1.4M379.5 288.0h1.4M379.8 286.2h1.4M380.0 288.1h1.4M380.3 286.5h1.4M380.6 286.6h1.4M380.8 288.5h1.4M381.1 287.0h1.4M381.3 287.6h1.4M381.6 287.9h1.4M381.9 288.7h1.4M382.1 288.3h1.4M382.4 286.4h1.4M382.6 287.1h1.4M382.9 286.4h1.4M383.2 287.6h1.4M383.4 286.8h1.4M383.7 286.7h1.4M383.9 287.8h1.4M384.2 287.8h1.4M384.5 285.8h1.4M384.7 286.0h1.4M385.0 286.9h1.4M385.2 286.0h1.4M385.5 285.2h1.4M385.8 284.0h1.4M386.0 286.5h1.4M386.3 285.0h1.4M386.6 283.5h1.4M386.8 285.4h1.4M387.1 284.0h1.4M387.3 287.7h1.4M387.6 283.8h1.4M387.9 285.1h1.4M388.1 286.8h1.4M388.4 284.2h1.4M388.6 283.8h1.4M388.9 283.6h1.4M389.2 283.5h1.4M389.4 284.6h1.4M389.7 285.2h1.4M389.9 284.9h1.4M390.2 284.4h1.4M390.5 283.8h1.4M390.7 284.6h1.4M391.0 284.0h1.4M391.2 283.1h1.4M391.5 283.6h1.4M391.8 281.6h1.4M392.0 281.6h1.4M392.3 284.7h1.4M392.5 284.1h1.4M392.8 284.7h1.4M393.1 284.5h1.4M393.3 282.7h1.4M393.6 284.2h1.4M393.8 284.1h1.4M394.1 283.3h1.4M394.4 282.1h1.4M394.6 283.2h1.4M394.9 283.1h1.4M395.1 281.7h1.4M395.4 282.1h1.4M395.7 282.0h1.4M395.9 281.4h1.4M396.2 283.3h1.4M396.5 282.0h1.4M396.7 282.7h1.4M397.0 281.0h1.4M397.2 281.1h1.4M397.5 282.9h1.4M397.8 280.4h1.4M398.0 282.8h1.4M398.3 280.4h1.4M398.5 281.2h1.4M398.8 282.3h1.4M399.1 282.4h1.4M399.3 281.5h1.4M399.6 281.1h1.4M399.8 281.7h1.4M400.1 280.3h1.4M400.4 282.3h1.4M400.6 280.7h1.4M400.9 280.6h1.4M401.1 282.5h1.4M401.4 280.1h1.4M401.7 281.6h1.4M401.9 282.8h1.4M402.2 280.8h1.4M402.4 280.3h1.4M402.7 279.0h1.4M403.0 280.3h1.4M403.2 278.2h1.4M403.5 278.1h1.4M403.7 278.4h1.4M404.0 278.0h1.4M404.3 278.9h1.4M404.5 279.8h1.4M404.8 278.4h1.4M405.0 278.0h1.4M405.3 278.6h1.4M405.6 279.0h1.4M405.8 280.4h1.4M406.1 277.8h1.4M406.4 278.1h1.4M406.6 279.8h1.4M406.9 278.1h1.4M407.1 277.3h1.4M407.4 278.1h1.4M407.7 277.1h1.4M407.9 277.0h1.4M408.2 279.3h1.4M408.4 277.9h1.4M408.7 276.9h1.4M409.0 276.3h1.4M409.2 275.7h1.4M409.5 279.2h1.4M409.7 277.1h1.4M410.0 276.1h1.4M410.3 275.4h1.4M410.5 274.8h1.4M410.8 277.6h1.4M411.0 276.9h1.4M411.3 277.5h1.4M411.6 275.3h1.4M411.8 277.6h1.4M412.1 274.7h1.4M412.3 274.8h1.4M412.6 275.2h1.4M412.9 278.1h1.4M413.1 276.3h1.4M413.4 274.6h1.4M413.6 276.9h1.4M413.9 275.4h1.4M414.2 275.2h1.4M414.4 273.9h1.4M414.7 274.5h1.4M414.9 274.4h1.4M415.2 275.1h1.4M415.5 274.4h1.4M415.7 274.5h1.4M416.0 273.4h1.4M416.3 274.3h1.4M416.5 272.8h1.4M416.8 275.8h1.4M417.0 272.3h1.4M417.3 273.8h1.4M417.6 272.2h1.4M417.8 273.3h1.4M418.1 272.3h1.4M418.3 271.4h1.4M418.6 273.7h1.4M418.9 272.8h1.4M419.1 273.0h1.4M419.4 272.4h1.4M419.6 274.4h1.4M419.9 272.6h1.4M420.2 272.6h1.4M420.4 273.1h1.4M420.7 272.3h1.4M420.9 273.7h1.4M421.2 270.1h1.4M421.5 271.2h1.4M421.7 269.3h1.4M422.0 272.5h1.4M422.2 272.7h1.4M422.5 270.9h1.4M422.8 273.1h1.4M423.0 270.7h1.4M423.3 271.7h1.4M423.5 271.1h1.4M423.8 270.3h1.4M424.1 270.4h1.4M424.3 268.1h1.4M424.6 269.5h1.4M424.8 271.7h1.4M425.1 268.8h1.4M425.4 271.5h1.4M425.6 269.6h1.4M425.9 271.1h1.4M426.2 270.5h1.4M426.4 267.8h1.4M426.7 269.9h1.4M426.9 269.9h1.4M427.2 269.7h1.4M427.5 269.3h1.4M427.7 267.0h1.4M428.0 270.1h1.4M428.2 270.1h1.4M428.5 267.7h1.4M428.8 270.3h1.4M429.0 268.6h1.4M429.3 266.7h1.4M429.5 268.0h1.4M429.8 268.4h1.4M430.1 268.6h1.4M430.3 268.7h1.4M430.6 268.2h1.4M430.8 267.2h1.4M431.1 265.7h1.4M431.4 265.9h1.4M431.6 267.7h1.4M431.9 267.8h1.4M432.1 265.9h1.4M432.4 268.9h1.4M432.7 267.1h1.4M432.9 266.9h1.4M433.2 267.7h1.4M433.4 267.5h1.4M433.7 265.7h1.4M434.0 268.1h1.4M434.2 267.0h1.4M434.5 266.6h1.4M434.7 265.6h1.4M435.0 267.3h1.4M435.3 264.1h1.4M435.5 265.7h1.4M435.8 265.5h1.4M436.1 265.6h1.4M436.3 265.8h1.4M436.6 266.1h1.4M436.8 263.3h1.4M437.1 264.4h1.4M437.4 264.7h1.4M437.6 263.2h1.4M437.9 265.2h1.4M438.1 263.4h1.4M438.4 264.1h1.4M438.7 265.1h1.4M438.9 262.9h1.4M439.2 265.7h1.4M439.4 262.8h1.4M439.7 264.7h1.4M440.0 262.9h1.4M440.2 261.6h1.4M440.5 262.5h1.4M440.7 263.9h1.4M441.0 263.0h1.4M441.3 263.4h1.4M441.5 264.3h1.4M441.8 264.1h1.4M442.0 262.5h1.4M442.3 261.8h1.4M442.6 264.6h1.4M442.8 262.3h1.4M443.1 261.5h1.4M443.3 261.9h1.4M443.6 263.2h1.4M443.9 260.5h1.4M444.1 263.3h1.4M444.4 260.7h1.4M444.6 259.4h1.4M444.9 264.0h1.4M445.2 260.9h1.4M445.4 260.7h1.4M445.7 260.8h1.4M446.0 261.9h1.4M446.2 261.2h1.4M446.5 262.6h1.4M446.7 260.4h1.4M447.0 259.8h1.4M447.3 261.3h1.4M447.5 261.5h1.4M447.8 260.8h1.4M448.0 260.1h1.4M448.3 259.9h1.4M448.6 260.0h1.4M448.8 259.6h1.4M449.1 261.4h1.4M449.3 263.1h1.4M449.6 258.6h1.4M449.9 257.4h1.4M450.1 261.1h1.4M450.4 260.0h1.4M450.6 258.6h1.4M450.9 257.6h1.4M451.2 257.9h1.4M451.4 256.9h1.4M451.7 258.6h1.4M451.9 257.9h1.4M452.2 257.8h1.4M452.5 258.8h1.4M452.7 256.5h1.4M453.0 257.2h1.4M453.2 256.6h1.4M453.5 258.3h1.4M453.8 256.3h1.4M454.0 259.0h1.4M454.3 256.9h1.4M454.5 260.9h1.4M454.8 258.6h1.4M455.1 256.1h1.4M455.3 257.6h1.4M455.6 256.7h1.4M455.9 259.0h1.4M456.1 254.6h1.4M456.4 255.8h1.4M456.6 256.5h1.4M456.9 255.8h1.4M457.2 255.8h1.4M457.4 254.2h1.4M457.7 255.8h1.4M457.9 257.9h1.4M458.2 256.2h1.4M458.5 254.0h1.4M458.7 254.8h1.4M459.0 256.1h1.4M459.2 254.6h1.4M459.5 255.1h1.4M459.8 254.3h1.4M460.0 257.2h1.4M460.3 256.2h1.4M460.5 253.9h1.4M460.8 255.1h1.4M461.1 254.2h1.4M461.3 251.8h1.4M461.6 254.8h1.4M461.8 254.0h1.4M462.1 255.0h1.4M462.4 255.0h1.4M462.6 254.1h1.4M462.9 255.9h1.4M463.1 256.7h1.4M463.4 251.8h1.4M463.7 253.7h1.4M463.9 251.9h1.4M464.2 253.2h1.4M464.4 253.0h1.4M464.7 252.2h1.4M465.0 252.0h1.4M465.2 254.6h1.4M465.5 251.1h1.4M465.8 254.0h1.4M466.0 252.3h1.4M466.3 248.9h1.4M466.5 252.3h1.4M466.8 250.0h1.4M467.1 252.6h1.4M467.3 251.2h1.4M467.6 251.9h1.4M467.8 251.3h1.4M468.1 252.9h1.4M468.4 252.9h1.4M468.6 251.0h1.4M468.9 253.6h1.4M469.1 252.5h1.4M469.4 250.3h1.4M469.7 251.9h1.4M469.9 252.2h1.4M470.2 252.4h1.4M470.4 250.6h1.4M470.7 251.2h1.4M471.0 250.3h1.4M471.2 250.7h1.4M471.5 247.7h1.4M471.7 250.8h1.4M472.0 252.9h1.4M472.3 249.8h1.4M472.5 249.9h1.4M472.8 249.6h1.4M473.0 252.0h1.4M473.3 248.0h1.4M473.6 249.5h1.4M473.8 249.4h1.4M474.1 251.5h1.4M474.3 248.5h1.4M474.6 249.1h1.4M474.9 247.0h1.4M475.1 249.4h1.4M475.4 250.5h1.4M475.7 248.4h1.4M475.9 249.8h1.4M476.2 247.8h1.4M476.4 249.8h1.4M476.7 248.4h1.4M477.0 248.4h1.4M477.2 248.0h1.4M477.5 248.6h1.4M477.7 248.9h1.4M478.0 247.7h1.4M478.3 248.4h1.4M478.5 247.2h1.4M478.8 247.7h1.4M479.0 250.4h1.4M479.3 247.2h1.4M479.6 245.0h1.4M479.8 246.5h1.4M480.1 246.0h1.4M480.3 246.1h1.4M480.6 247.3h1.4M480.9 248.4h1.4M481.1 245.2h1.4M481.4 244.8h1.4M481.6 245.4h1.4M481.9 245.5h1.4M482.2 245.4h1.4M482.4 245.9h1.4M482.7 245.4h1.4M482.9 245.6h1.4M483.2 245.1h1.4M483.5 246.8h1.4M483.7 246.2h1.4M484.0 244.4h1.4M484.2 245.6h1.4M484.5 248.5h1.4M484.8 244.7h1.4M485.0 248.1h1.4M485.3 241.9h1.4M485.6 243.5h1.4M485.8 243.5h1.4M486.1 245.3h1.4M486.3 245.9h1.4M486.6 244.5h1.4M486.9 244.0h1.4M487.1 245.1h1.4M487.4 243.6h1.4M487.6 242.7h1.4M487.9 242.8h1.4M488.2 245.0h1.4M488.4 246.5h1.4M488.7 243.3h1.4M488.9 244.2h1.4M489.2 242.5h1.4M489.5 240.6h1.4M489.7 240.5h1.4M490.0 242.4h1.4M490.2 241.1h1.4M490.5 240.2h1.4M490.8 242.4h1.4M491.0 242.0h1.4M491.3 241.0h1.4M491.5 242.2h1.4M491.8 242.8h1.4M492.1 243.0h1.4M492.3 241.8h1.4M492.6 242.6h1.4M492.8 240.5h1.4M493.1 242.0h1.4M493.4 239.3h1.4M493.6 239.5h1.4M493.9 243.0h1.4M494.1 239.5h1.4M494.4 241.6h1.4M494.7 238.9h1.4M494.9 240.0h1.4M495.2 240.7h1.4M495.5 239.6h1.4M495.7 241.3h1.4M496.0 239.9h1.4M496.2 239.7h1.4M496.5 240.3h1.4M496.8 239.5h1.4M497.0 241.4h1.4M497.3 239.0h1.4M497.5 241.5h1.4M497.8 238.7h1.4M498.1 238.8h1.4M498.3 238.4h1.4M498.6 240.1h1.4M498.8 234.8h1.4M499.1 239.4h1.4M499.4 238.7h1.4M499.6 240.0h1.4M499.9 236.7h1.4M500.1 239.3h1.4M500.4 237.1h1.4M500.7 239.8h1.4M500.9 237.9h1.4M501.2 238.8h1.4M501.4 236.8h1.4M501.7 238.4h1.4M502.0 239.2h1.4M502.2 237.1h1.4M502.5 239.4h1.4M502.7 239.0h1.4M503.0 236.4h1.4M503.3 240.1h1.4M503.5 236.2h1.4M503.8 237.8h1.4M504.0 238.4h1.4M504.3 236.6h1.4M504.6 235.9h1.4M504.8 237.6h1.4M505.1 236.9h1.4M505.4 235.4h1.4M505.6 235.3h1.4M505.9 236.4h1.4M506.1 237.4h1.4M506.4 237.5h1.4M506.7 236.9h1.4M506.9 234.9h1.4M507.2 235.0h1.4M507.4 235.3h1.4M507.7 233.5h1.4M508.0 235.9h1.4M508.2 235.9h1.4" fill="none" stroke="#FF8C00" stroke-opacity="0.3" stroke-width="1.2"/>
<polyline points="363.28,287.81 364.92,287.77 366.55,287.86 368.19,287.84 369.83,287.87 371.46,287.95 373.10,287.98 374.74,288.13 376.37,288.25 378.01,288.29 379.65,288.20 381.28,288.20 382.92,288.21 384.55,288.34 386.19,288.33 387.83,288.29 389.46,288.36 391.10,288.50 392.74,288.55 394.37,288.64 396.01,288.53 397.65,288.67 399.28,288.80 400.92,288.82 402.55,288.91 404.19,288.97 405.83,288.94 407.46,289.09 409.10,289.02 410.74,289.04 412.37,289.05 414.01,289.01 415.65,289.07 417.28,289.15 418.92,289.21 420.55,289.32 422.19,289.36 423.83,289.34 425.46,289.32 427.10,289.39 428.74,289.35 430.37,289.27 432.01,289.27 433.65,289.21 435.28,289.26 436.92,289.34 438.55,289.28 440.19,289.32 441.83,289.38 443.46,289.35 445.10,289.37 446.74,289.45 448.37,289.46 450.01,289.43 451.65,289.40 453.28,289.33 454.92,289.38 456.55,289.34 458.19,289.30 459.83,289.23 461.46,289.19 463.10,289.27 464.74,289.30 466.37,289.28 468.01,289.36 469.65,289.27 471.28,289.26 472.92,289.40 474.55,289.34 476.19,289.37 477.83,289.29 479.46,289.26 481.10,289.38 482.74,289.44 484.37,289.36 486.01,289.41 487.65,289.42 489.28,289.52 490.92,289.53 492.55,289.62 494.19,289.66 495.83,289.73 497.46,289.79 499.10,289.79 500.74,289.89 502.37,289.98 504.01,290.01 505.65,290.03 507.28,290.09 508.92,290.12" fill="none" stroke="#000000" stroke-width="1.5" stroke-linejoin="round"/>
<polyline points="363.28,288.34 364.92,288.08 366.55,287.66 368.19,287.42 369.83,287.15 371.46,286.91 373.10,286.60 374.74,286.29 376.37,286.04 378.01,285.89 379.65,285.60 381.28,285.28 382.92,284.96 384.55,284.75 386.19,284.68 387.83,284.43 389.46,284.04 391.10,283.74 392.74,283.57 394.37,283.27 396.01,283.02 397.65,282.44 399.28,282.08 400.92,281.89 402.55,281.52 404.19,281.11 405.83,280.73 407.46,280.27 409.10,280.10 410.74,279.71 412.37,279.35 414.01,278.95 415.65,278.52 417.28,278.24 418.92,277.97 420.55,277.42 422.19,276.98 423.83,276.59 425.46,276.18 427.10,275.78 428.74,275.34 430.37,274.85 432.01,274.57 433.65,274.18 435.28,273.71 436.92,273.54 438.55,273.04 440.19,272.59 441.83,272.28 443.46,271.92 445.10,271.70 446.74,271.34 448.37,270.83 450.01,270.58 451.65,270.30 453.28,269.91 454.92,269.45 456.55,269.01 458.19,268.47 459.83,268.15 461.46,267.71 463.10,267.25 464.74,266.82 466.37,266.35 468.01,265.88 469.65,265.64 471.28,265.13 472.92,264.62 474.55,264.20 476.19,263.53 477.83,263.04 479.46,262.52 481.10,261.79 482.74,261.06 484.37,260.49 486.01,259.78 487.65,259.12 489.28,258.43 490.92,257.82 492.55,257.27 494.19,256.74 495.83,256.13 497.46,255.56 499.10,254.92 500.74,254.31 502.37,253.50 504.01,252.65 505.65,251.93 507.28,251.14 508.92,250.24" fill="none" stroke="#1565D2" stroke-width="1.5" stroke-linejoin="round"/>
<polyline points="363.28,278.54 364.92,278.60 366.55,278.59 368.19,278.66 369.83,278.56 371.46,278.57 373.10,278.46 374.74,278.33 376.37,278.12 378.01,278.02 379.65,277.97 381.28,278.09 382.92,278.08 384.55,278.07 386.19,278.16 387.83,278.20 389.46,278.28 391.10,278.08 392.74,277.99 394.37,277.96 396.01,277.83 397.65,277.81 399.28,277.66 400.92,277.42 402.55,277.44 404.19,277.32 405.83,277.19 407.46,277.20 409.10,276.86 410.74,276.75 412.37,276.69 414.01,276.55 415.65,276.26 417.28,275.95 418.92,275.71 420.55,275.64 422.19,275.55 423.83,275.26 425.46,274.99 427.10,274.68 428.74,274.58 430.37,274.33 432.01,274.14 433.65,273.79 435.28,273.76 436.92,273.54 438.55,273.50 440.19,273.35 441.83,273.21 443.46,272.93 445.10,272.69 446.74,272.44 448.37,272.29 450.01,272.02 451.65,271.85 453.28,271.64 454.92,271.62 456.55,271.58 458.19,271.38 459.83,271.27 461.46,271.25 463.10,271.14 464.74,271.04 466.37,270.84 468.01,270.61 469.65,270.45 471.28,270.30 472.92,270.02 474.55,269.69 476.19,269.46 477.83,269.24 479.46,269.05 481.10,268.80 482.74,268.60 484.37,268.43 486.01,268.27 487.65,267.95 489.28,267.76 490.92,267.55 492.55,267.34 494.19,267.15 495.83,266.89 497.46,266.62 499.10,266.58 500.74,266.17 502.37,266.10 504.01,265.98 505.65,265.72 507.28,265.53 508.92,265.34" fill="none" stroke="#6DB31E" stroke-width="1.5" stroke-linejoin="round"/>
<polyline points="363.28,291.98 364.92,291.61 366.55,291.33 368.19,290.94 369.83,290.59 371.46,290.36 373.10,290.00 374.74,289.44 376.37,288.97 378.01,288.58 379.65,288.06 381.28,287.58 382.92,287.02 384.55,286.43 386.19,285.96 387.83,285.43 389.46,284.70 391.10,284.15 392.74,283.57 394.37,283.03 396.01,282.54 397.65,281.83 399.28,281.22 400.92,280.71 402.55,280.30 404.19,279.74 405.83,279.19 407.46,278.39 409.10,277.77 410.74,277.15 412.37,276.42 414.01,275.38 415.65,274.50 417.28,273.72 418.92,273.05 420.55,272.38 422.19,271.69 423.83,270.89 425.46,270.15 427.10,269.36 428.74,268.51 430.37,267.78 432.01,266.94 433.65,266.02 435.28,265.42 436.92,265.02 438.55,264.30 440.19,263.59 441.83,262.74 443.46,262.05 445.10,261.32 446.74,260.56 448.37,259.70 450.01,259.03 451.65,258.28 453.28,257.75 454.92,257.02 456.55,256.49 458.19,255.87 459.83,255.19 461.46,254.52 463.10,253.86 464.74,253.24 466.37,252.56 468.01,251.78 469.65,251.03 471.28,250.59 472.92,249.95 474.55,249.28 476.19,248.46 477.83,248.00 479.46,247.51 481.10,246.72 482.74,245.78 484.37,245.16 486.01,244.59 487.65,243.93 489.28,243.17 490.92,242.41 492.55,241.90 494.19,241.29 495.83,240.71 497.46,239.95 499.10,239.26 500.74,238.63 502.37,237.79 504.01,237.16 505.65,236.49 507.28,235.71 508.92,235.03" fill="none" stroke="#FF8C00" stroke-width="1.5" stroke-linejoin="round"/>
<rect x="356" y="161.9" width="160.2" height="165.8" fill="none" stroke="#333333" stroke-width="1.1"/>
<rect x="356" y="138.6" width="160.2" height="23.3" fill="#CCCCCC" stroke="#333333" stroke-width="1.1"/>
<text transform="translate(436.10,153.05) scale(0.926,1)" text-anchor="middle" font-family='"Liberation Sans", sans-serif' font-size="9.72" fill="#1A1A1A">Pattern 3<tspan dx="12.2" dy="-1" font-family='"Liberation Serif", serif' font-style="italic" font-size="10.8">ψ</tspan><tspan dy="1"> = 0</tspan></text>
<rect x="523.45" y="161.9" width="160.2" height="165.8" fill="#fff"/>
<line x1="523.45" x2="683.65" y1="297.4" y2="297.4" stroke="#D4D4D4" stroke-width="0.9" stroke-dasharray="2.6 1.8"/>
<line x1="523.45" x2="683.65" y1="262.33" y2="262.33" stroke="#D4D4D4" stroke-width="0.9" stroke-dasharray="2.6 1.8"/>
<line x1="523.45" x2="683.65" y1="227.26" y2="227.26" stroke="#D4D4D4" stroke-width="0.9" stroke-dasharray="2.6 1.8"/>
<line x1="523.45" x2="683.65" y1="192.19" y2="192.19" stroke="#D4D4D4" stroke-width="0.9" stroke-dasharray="2.6 1.8"/>
<line x1="530.73" x2="530.73" y1="327.7" y2="161.9" stroke="#D4D4D4" stroke-width="0.9" stroke-dasharray="2.6 1.8"/>
<line x1="567.14" x2="567.14" y1="327.7" y2="161.9" stroke="#D4D4D4" stroke-width="0.9" stroke-dasharray="2.6 1.8"/>
<line x1="603.55" x2="603.55" y1="327.7" y2="161.9" stroke="#D4D4D4" stroke-width="0.9" stroke-dasharray="2.6 1.8"/>
<line x1="639.96" x2="639.96" y1="327.7" y2="161.9" stroke="#D4D4D4" stroke-width="0.9" stroke-dasharray="2.6 1.8"/>
<line x1="676.37" x2="676.37" y1="327.7" y2="161.9" stroke="#D4D4D4" stroke-width="0.9" stroke-dasharray="2.6 1.8"/>
<path d="M530.0 297.2h1.4M530.3 295.2h1.4M530.6 295.1h1.4M530.8 294.9h1.4M531.1 297.2h1.4M531.3 296.2h1.4M531.6 295.9h1.4M531.9 296.1h1.4M532.1 295.0h1.4M532.4 296.2h1.4M532.6 295.1h1.4M532.9 295.5h1.4M533.2 296.7h1.4M533.4 296.4h1.4M533.7 296.1h1.4M533.9 295.8h1.4M534.2 295.2h1.4M534.5 295.9h1.4M534.7 295.3h1.4M535.0 296.8h1.4M535.2 297.7h1.4M535.5 296.0h1.4M535.8 295.5h1.4M536.0 296.0h1.4M536.3 296.4h1.4M536.5 295.6h1.4M536.8 294.6h1.4M537.1 295.9h1.4M537.3 296.3h1.4M537.6 296.3h1.4M537.8 294.6h1.4M538.1 295.8h1.4M538.4 295.4h1.4M538.6 295.1h1.4M538.9 295.2h1.4M539.2 296.4h1.4M539.4 295.2h1.4M539.7 295.3h1.4M539.9 295.5h1.4M540.2 295.2h1.4M540.5 296.2h1.4M540.7 295.9h1.4M541.0 296.1h1.4M541.2 295.4h1.4M541.5 296.2h1.4M541.8 295.6h1.4M542.0 296.5h1.4M542.3 295.9h1.4M542.5 296.0h1.4M542.8 295.9h1.4M543.1 295.7h1.4M543.3 295.9h1.4M543.6 296.0h1.4M543.8 297.1h1.4M544.1 295.1h1.4M544.4 296.2h1.4M544.6 296.0h1.4M544.9 296.3h1.4M545.1 295.2h1.4M545.4 296.4h1.4M545.7 295.5h1.4M545.9 295.1h1.4M546.2 294.8h1.4M546.4 295.1h1.4M546.7 295.4h1.4M547.0 296.6h1.4M547.2 295.0h1.4M547.5 295.1h1.4M547.7 295.3h1.4M548.0 295.3h1.4M548.3 295.8h1.4M548.5 296.1h1.4M548.8 295.1h1.4M549.1 295.0h1.4M549.3 296.5h1.4M549.6 295.3h1.4M549.8 295.7h1.4M550.1 295.3h1.4M550.4 295.6h1.4M550.6 295.1h1.4M550.9 295.2h1.4M551.1 295.3h1.4M551.4 296.7h1.4M551.7 295.3h1.4M551.9 295.8h1.4M552.2 296.5h1.4M552.4 295.4h1.4M552.7 296.7h1.4M553.0 295.3h1.4M553.2 294.8h1.4M553.5 296.1h1.4M553.7 295.2h1.4M554.0 295.5h1.4M554.3 295.4h1.4M554.5 296.6h1.4M554.8 295.4h1.4M555.0 295.7h1.4M555.3 295.4h1.4M555.6 295.8h1.4M555.8 295.1h1.4M556.1 295.6h1.4M556.3 295.4h1.4M556.6 295.0h1.4M556.9 295.7h1.4M557.1 295.2h1.4M557.4 295.7h1.4M557.6 295.5h1.4M557.9 296.1h1.4M558.2 295.3h1.4M558.4 295.1h1.4M558.7 295.9h1.4M559.0 295.3h1.4M559.2 295.5h1.4M559.5 296.5h1.4M559.7 295.6h1.4M560.0 295.0h1.4M560.3 296.1h1.4M560.5 296.9h1.4M560.8 295.7h1.4M561.0 296.2h1.4M561.3 294.6h1.4M561.6 295.8h1.4M561.8 295.8h1.4M562.1 296.2h1.4M562.3 295.6h1.4M562.6 296.1h1.4M562.9 296.4h1.4M563.1 295.8h1.4M563.4 296.3h1.4M563.6 295.0h1.4M563.9 296.5h1.4M564.2 295.8h1.4M564.4 296.2h1.4M564.7 296.6h1.4M564.9 294.8h1.4M565.2 297.1h1.4M565.5 294.9h1.4M565.7 296.7h1.4M566.0 295.7h1.4M566.2 294.4h1.4M566.5 297.1h1.4M566.8 296.6h1.4M567.0 295.0h1.4M567.3 295.7h1.4M567.5 296.1h1.4M567.8 295.8h1.4M568.1 296.4h1.4M568.3 295.7h1.4M568.6 294.9h1.4M568.9 296.0h1.4M569.1 295.7h1.4M569.4 295.1h1.4M569.6 294.6h1.4M569.9 296.2h1.4M570.2 295.6h1.4M570.4 296.1h1.4M570.7 296.2h1.4M570.9 296.0h1.4M571.2 296.2h1.4M571.5 296.9h1.4M571.7 297.0h1.4M572.0 296.2h1.4M572.2 295.7h1.4M572.5 295.1h1.4M572.8 296.1h1.4M573.0 295.9h1.4M573.3 295.4h1.4M573.5 295.3h1.4M573.8 295.9h1.4M574.1 295.8h1.4M574.3 294.7h1.4M574.6 296.0h1.4M574.8 296.1h1.4M575.1 296.8h1.4M575.4 295.5h1.4M575.6 296.0h1.4M575.9 294.6h1.4M576.1 296.0h1.4M576.4 295.3h1.4M576.7 295.2h1.4M576.9 294.8h1.4M577.2 296.6h1.4M577.4 294.8h1.4M577.7 295.8h1.4M578.0 295.9h1.4M578.2 296.0h1.4M578.5 296.0h1.4M578.8 296.0h1.4M579.0 297.2h1.4M579.3 295.5h1.4M579.5 295.8h1.4M579.8 296.4h1.4M580.1 295.8h1.4M580.3 294.4h1.4M580.6 295.6h1.4M580.8 296.0h1.4M581.1 294.8h1.4M581.4 296.3h1.4M581.6 295.9h1.4M581.9 296.1h1.4M582.1 295.9h1.4M582.4 295.4h1.4M582.7 295.4h1.4M582.9 296.2h1.4M583.2 295.9h1.4M583.4 295.7h1.4M583.7 296.0h1.4M584.0 295.8h1.4M584.2 296.2h1.4M584.5 296.2h1.4M584.7 295.8h1.4M585.0 296.4h1.4M585.3 295.5h1.4M585.5 295.9h1.4M585.8 296.4h1.4M586.0 296.2h1.4M586.3 296.1h1.4M586.6 295.9h1.4M586.8 295.7h1.4M587.1 295.9h1.4M587.3 296.3h1.4M587.6 294.9h1.4M587.9 295.3h1.4M588.1 295.7h1.4M588.4 295.2h1.4M588.7 295.6h1.4M588.9 296.0h1.4M589.2 295.8h1.4M589.4 294.2h1.4M589.7 295.2h1.4M590.0 295.2h1.4M590.2 296.0h1.4M590.5 295.4h1.4M590.7 294.4h1.4M591.0 295.5h1.4M591.3 295.2h1.4M591.5 295.0h1.4M591.8 295.4h1.4M592.0 294.9h1.4M592.3 295.7h1.4M592.6 295.5h1.4M592.8 296.2h1.4M593.1 294.2h1.4M593.3 295.6h1.4M593.6 295.7h1.4M593.9 295.0h1.4M594.1 296.1h1.4M594.4 295.8h1.4M594.6 296.3h1.4M594.9 295.8h1.4M595.2 296.0h1.4M595.4 295.5h1.4M595.7 295.9h1.4M595.9 296.2h1.4M596.2 296.0h1.4M596.5 295.9h1.4M596.7 296.1h1.4M597.0 295.2h1.4M597.2 295.4h1.4M597.5 295.7h1.4M597.8 296.5h1.4M598.0 295.5h1.4M598.3 296.6h1.4M598.6 295.7h1.4M598.8 295.8h1.4M599.1 296.2h1.4M599.3 296.3h1.4M599.6 296.2h1.4M599.9 294.6h1.4M600.1 296.0h1.4M600.4 295.9h1.4M600.6 295.2h1.4M600.9 295.6h1.4M601.2 295.2h1.4M601.4 296.5h1.4M601.7 296.5h1.4M601.9 293.8h1.4M602.2 295.8h1.4M602.5 296.0h1.4M602.7 295.7h1.4M603.0 295.2h1.4M603.2 296.5h1.4M603.5 295.6h1.4M603.8 295.8h1.4M604.0 295.4h1.4M604.3 295.7h1.4M604.5 296.1h1.4M604.8 296.3h1.4M605.1 297.3h1.4M605.3 295.2h1.4M605.6 296.7h1.4M605.8 296.0h1.4M606.1 294.8h1.4M606.4 296.1h1.4M606.6 295.4h1.4M606.9 295.9h1.4M607.1 295.4h1.4M607.4 295.8h1.4M607.7 296.1h1.4M607.9 295.0h1.4M608.2 296.0h1.4M608.5 296.6h1.4M608.7 296.0h1.4M609.0 295.5h1.4M609.2 296.5h1.4M609.5 295.3h1.4M609.8 295.4h1.4M610.0 294.5h1.4M610.3 296.2h1.4M610.5 295.4h1.4M610.8 296.8h1.4M611.1 296.1h1.4M611.3 295.7h1.4M611.6 295.6h1.4M611.8 295.8h1.4M612.1 295.9h1.4M612.4 296.2h1.4M612.6 296.1h1.4M612.9 295.6h1.4M613.1 295.5h1.4M613.4 295.4h1.4M613.7 295.2h1.4M613.9 295.1h1.4M614.2 296.9h1.4M614.4 296.1h1.4M614.7 295.9h1.4M615.0 296.2h1.4M615.2 295.2h1.4M615.5 295.4h1.4M615.7 295.9h1.4M616.0 295.7h1.4M616.3 295.1h1.4M616.5 296.0h1.4M616.8 296.0h1.4M617.0 295.3h1.4M617.3 295.5h1.4M617.6 295.0h1.4M617.8 295.6h1.4M618.1 295.4h1.4M618.4 296.1h1.4M618.6 296.4h1.4M618.9 295.8h1.4M619.1 297.4h1.4M619.4 295.6h1.4M619.7 295.3h1.4M619.9 295.8h1.4M620.2 296.0h1.4M620.4 295.2h1.4M620.7 295.9h1.4M621.0 295.2h1.4M621.2 294.5h1.4M621.5 295.4h1.4M621.7 295.3h1.4M622.0 295.5h1.4M622.3 295.7h1.4M622.5 295.7h1.4M622.8 295.8h1.4M623.0 295.2h1.4M623.3 296.8h1.4M623.6 296.0h1.4M623.8 295.4h1.4M624.1 296.3h1.4M624.3 295.9h1.4M624.6 296.2h1.4M624.9 295.6h1.4M625.1 295.3h1.4M625.4 295.0h1.4M625.6 295.5h1.4M625.9 296.3h1.4M626.2 295.7h1.4M626.4 295.5h1.4M626.7 295.0h1.4M626.9 297.1h1.4M627.2 295.6h1.4M627.5 296.9h1.4M627.7 295.4h1.4M628.0 295.6h1.4M628.3 295.6h1.4M628.5 295.3h1.4M628.8 295.6h1.4M629.0 296.2h1.4M629.3 295.6h1.4M629.6 295.1h1.4M629.8 295.9h1.4M630.1 295.8h1.4M630.3 296.6h1.4M630.6 295.2h1.4M630.9 296.2h1.4M631.1 296.3h1.4M631.4 296.1h1.4M631.6 296.4h1.4M631.9 296.0h1.4M632.2 295.1h1.4M632.4 295.4h1.4M632.7 295.0h1.4M632.9 295.0h1.4M633.2 296.4h1.4M633.5 295.6h1.4M633.7 295.0h1.4M634.0 294.5h1.4M634.2 296.7h1.4M634.5 296.7h1.4M634.8 295.6h1.4M635.0 296.1h1.4M635.3 296.5h1.4M635.5 295.6h1.4M635.8 296.3h1.4M636.1 297.2h1.4M636.3 295.9h1.4M636.6 295.8h1.4M636.8 295.5h1.4M637.1 295.3h1.4M637.4 295.8h1.4M637.6 296.0h1.4M637.9 296.3h1.4M638.2 296.8h1.4M638.4 296.1h1.4M638.7 295.3h1.4M638.9 295.5h1.4M639.2 294.7h1.4M639.5 296.0h1.4M639.7 296.9h1.4M640.0 295.4h1.4M640.2 295.3h1.4M640.5 296.6h1.4M640.8 296.8h1.4M641.0 295.8h1.4M641.3 295.5h1.4M641.5 296.5h1.4M641.8 296.1h1.4M642.1 296.3h1.4M642.3 296.6h1.4M642.6 296.7h1.4M642.8 295.8h1.4M643.1 296.1h1.4M643.4 296.3h1.4M643.6 297.4h1.4M643.9 294.9h1.4M644.1 296.4h1.4M644.4 296.0h1.4M644.7 296.6h1.4M644.9 295.7h1.4M645.2 296.8h1.4M645.4 295.8h1.4M645.7 296.0h1.4M646.0 295.4h1.4M646.2 296.5h1.4M646.5 296.3h1.4M646.7 296.0h1.4M647.0 294.7h1.4M647.3 296.8h1.4M647.5 295.7h1.4M647.8 296.3h1.4M648.1 295.7h1.4M648.3 295.5h1.4M648.6 295.8h1.4M648.8 295.8h1.4M649.1 295.7h1.4M649.4 296.3h1.4M649.6 296.0h1.4M649.9 296.9h1.4M650.1 296.1h1.4M650.4 296.4h1.4M650.7 296.1h1.4M650.9 295.5h1.4M651.2 295.7h1.4M651.4 295.6h1.4M651.7 295.3h1.4M652.0 297.3h1.4M652.2 295.7h1.4M652.5 295.9h1.4M652.7 296.0h1.4M653.0 296.7h1.4M653.3 295.6h1.4M653.5 295.3h1.4M653.8 295.3h1.4M654.0 296.0h1.4M654.3 295.6h1.4M654.6 295.4h1.4M654.8 294.9h1.4M655.1 295.2h1.4M655.3 295.8h1.4M655.6 295.9h1.4M655.9 295.8h1.4M656.1 295.8h1.4M656.4 296.2h1.4M656.6 295.5h1.4M656.9 296.3h1.4M657.2 296.4h1.4M657.4 295.7h1.4M657.7 296.3h1.4M658.0 296.1h1.4M658.2 297.2h1.4M658.5 295.5h1.4M658.7 295.9h1.4M659.0 296.0h1.4M659.3 295.7h1.4M659.5 295.8h1.4M659.8 296.4h1.4M660.0 294.8h1.4M660.3 296.2h1.4M660.6 295.4h1.4M660.8 294.9h1.4M661.1 296.3h1.4M661.3 295.9h1.4M661.6 296.4h1.4M661.9 295.3h1.4M662.1 296.1h1.4M662.4 296.6h1.4M662.6 295.2h1.4M662.9 295.4h1.4M663.2 296.5h1.4M663.4 295.3h1.4M663.7 295.8h1.4M663.9 294.4h1.4M664.2 295.0h1.4M664.5 296.3h1.4M664.7 296.1h1.4M665.0 296.5h1.4M665.2 295.9h1.4M665.5 295.9h1.4M665.8 295.5h1.4M666.0 295.9h1.4M666.3 296.8h1.4M666.5 296.4h1.4M666.8 295.1h1.4M667.1 295.3h1.4M667.3 296.1h1.4M667.6 296.0h1.4M667.9 296.1h1.4M668.1 296.0h1.4M668.4 297.0h1.4M668.6 295.5h1.4M668.9 296.4h1.4M669.2 295.9h1.4M669.4 297.4h1.4M669.7 295.8h1.4M669.9 295.2h1.4M670.2 297.3h1.4M670.5 295.1h1.4M670.7 295.7h1.4M671.0 296.4h1.4M671.2 296.9h1.4M671.5 295.3h1.4M671.8 295.8h1.4M672.0 295.6h1.4M672.3 296.1h1.4M672.5 296.5h1.4M672.8 295.5h1.4M673.1 296.5h1.4M673.3 295.5h1.4M673.6 297.0h1.4M673.8 296.5h1.4M674.1 296.8h1.4M674.4 295.2h1.4M674.6 297.0h1.4M674.9 296.7h1.4M675.1 295.6h1.4M675.4 295.9h1.4M675.7 294.7h1.4" fill="none" stroke="#000000" stroke-opacity="0.3" stroke-width="1.2"/>
<path d="M530.0 294.6h1.4M530.3 295.3h1.4M530.6 295.2h1.4M530.8 296.6h1.4M531.1 296.0h1.4M531.3 295.6h1.4M531.6 295.4h1.4M531.9 296.1h1.4M532.1 295.8h1.4M532.4 295.6h1.4M532.6 294.4h1.4M532.9 294.7h1.4M533.2 295.1h1.4M533.4 295.0h1.4M533.7 294.6h1.4M533.9 295.1h1.4M534.2 294.8h1.4M534.5 295.7h1.4M534.7 294.0h1.4M535.0 293.8h1.4M535.2 294.1h1.4M535.5 294.0h1.4M535.8 294.0h1.4M536.0 292.8h1.4M536.3 293.9h1.4M536.5 294.9h1.4M536.8 294.7h1.4M537.1 293.4h1.4M537.3 293.1h1.4M537.6 293.2h1.4M537.8 293.1h1.4M538.1 293.5h1.4M538.4 294.6h1.4M538.6 294.0h1.4M538.9 294.7h1.4M539.2 293.6h1.4M539.4 294.2h1.4M539.7 293.1h1.4M539.9 293.3h1.4M540.2 294.5h1.4M540.5 292.5h1.4M540.7 292.4h1.4M541.0 293.9h1.4M541.2 292.7h1.4M541.5 292.2h1.4M541.8 292.9h1.4M542.0 292.0h1.4M542.3 292.4h1.4M542.5 291.7h1.4M542.8 292.3h1.4M543.1 292.5h1.4M543.3 291.9h1.4M543.6 291.6h1.4M543.8 292.0h1.4M544.1 292.4h1.4M544.4 292.6h1.4M544.6 292.2h1.4M544.9 292.3h1.4M545.1 291.7h1.4M545.4 291.6h1.4M545.7 291.7h1.4M545.9 291.6h1.4M546.2 291.4h1.4M546.4 290.3h1.4M546.7 290.5h1.4M547.0 291.8h1.4M547.2 291.0h1.4M547.5 291.5h1.4M547.7 291.2h1.4M548.0 291.3h1.4M548.3 291.5h1.4M548.5 292.0h1.4M548.8 292.8h1.4M549.1 290.7h1.4M549.3 289.8h1.4M549.6 291.4h1.4M549.8 290.2h1.4M550.1 290.9h1.4M550.4 290.3h1.4M550.6 291.1h1.4M550.9 290.6h1.4M551.1 290.4h1.4M551.4 292.2h1.4M551.7 290.0h1.4M551.9 290.2h1.4M552.2 292.1h1.4M552.4 289.4h1.4M552.7 289.9h1.4M553.0 289.7h1.4M553.2 289.5h1.4M553.5 290.1h1.4M553.7 290.5h1.4M554.0 290.0h1.4M554.3 289.9h1.4M554.5 287.6h1.4M554.8 287.9h1.4M555.0 289.7h1.4M555.3 289.6h1.4M555.6 288.9h1.4M555.8 288.7h1.4M556.1 289.7h1.4M556.3 289.9h1.4M556.6 287.3h1.4M556.9 288.0h1.4M557.1 290.1h1.4M557.4 290.3h1.4M557.6 289.4h1.4M557.9 288.4h1.4M558.2 288.1h1.4M558.4 288.8h1.4M558.7 289.8h1.4M559.0 288.2h1.4M559.2 287.8h1.4M559.5 288.2h1.4M559.7 288.6h1.4M560.0 287.6h1.4M560.3 288.1h1.4M560.5 289.0h1.4M560.8 287.8h1.4M561.0 289.0h1.4M561.3 286.9h1.4M561.6 287.3h1.4M561.8 288.5h1.4M562.1 287.4h1.4M562.3 286.4h1.4M562.6 289.4h1.4M562.9 287.5h1.4M563.1 285.8h1.4M563.4 288.6h1.4M563.6 287.3h1.4M563.9 288.4h1.4M564.2 287.1h1.4M564.4 289.2h1.4M564.7 288.4h1.4M564.9 287.4h1.4M565.2 286.7h1.4M565.5 286.4h1.4M565.7 286.3h1.4M566.0 285.6h1.4M566.2 285.9h1.4M566.5 285.8h1.4M566.8 287.3h1.4M567.0 286.5h1.4M567.3 283.3h1.4M567.5 284.1h1.4M567.8 285.4h1.4M568.1 285.4h1.4M568.3 285.1h1.4M568.6 286.3h1.4M568.9 284.1h1.4M569.1 286.2h1.4M569.4 285.8h1.4M569.6 283.6h1.4M569.9 287.6h1.4M570.2 285.2h1.4M570.4 287.1h1.4M570.7 286.0h1.4M570.9 285.4h1.4M571.2 285.6h1.4M571.5 285.1h1.4M571.7 285.9h1.4M572.0 285.2h1.4M572.2 286.2h1.4M572.5 285.3h1.4M572.8 286.2h1.4M573.0 284.2h1.4M573.3 286.0h1.4M573.5 284.0h1.4M573.8 285.0h1.4M574.1 284.9h1.4M574.3 283.4h1.4M574.6 284.3h1.4M574.8 286.2h1.4M575.1 283.8h1.4M575.4 287.1h1.4M575.6 283.9h1.4M575.9 284.5h1.4M576.1 285.4h1.4M576.4 283.9h1.4M576.7 284.2h1.4M576.9 281.9h1.4M577.2 284.2h1.4M577.4 281.8h1.4M577.7 282.3h1.4M578.0 284.2h1.4M578.2 284.3h1.4M578.5 282.1h1.4M578.8 283.5h1.4M579.0 283.2h1.4M579.3 283.5h1.4M579.5 284.4h1.4M579.8 283.5h1.4M580.1 284.0h1.4M580.3 284.5h1.4M580.6 283.2h1.4M580.8 281.0h1.4M581.1 281.1h1.4M581.4 282.8h1.4M581.6 282.5h1.4M581.9 282.1h1.4M582.1 281.1h1.4M582.4 282.1h1.4M582.7 282.9h1.4M582.9 282.7h1.4M583.2 281.1h1.4M583.4 279.5h1.4M583.7 282.7h1.4M584.0 284.1h1.4M584.2 281.1h1.4M584.5 282.0h1.4M584.7 281.7h1.4M585.0 280.5h1.4M585.3 281.6h1.4M585.5 283.0h1.4M585.8 283.6h1.4M586.0 281.5h1.4M586.3 282.6h1.4M586.6 281.1h1.4M586.8 282.6h1.4M587.1 281.6h1.4M587.3 282.7h1.4M587.6 281.5h1.4M587.9 281.5h1.4M588.1 280.3h1.4M588.4 279.5h1.4M588.7 281.0h1.4M588.9 281.6h1.4M589.2 278.6h1.4M589.4 280.2h1.4M589.7 279.9h1.4M590.0 279.8h1.4M590.2 278.8h1.4M590.5 279.2h1.4M590.7 279.5h1.4M591.0 279.4h1.4M591.3 281.0h1.4M591.5 280.7h1.4M591.8 280.1h1.4M592.0 279.8h1.4M592.3 279.8h1.4M592.6 279.4h1.4M592.8 279.7h1.4M593.1 280.1h1.4M593.3 281.3h1.4M593.6 278.6h1.4M593.9 278.8h1.4M594.1 280.3h1.4M594.4 278.7h1.4M594.6 278.8h1.4M594.9 279.0h1.4M595.2 281.0h1.4M595.4 280.3h1.4M595.7 279.6h1.4M595.9 277.1h1.4M596.2 279.7h1.4M596.5 279.1h1.4M596.7 279.8h1.4M597.0 279.1h1.4M597.2 278.1h1.4M597.5 280.7h1.4M597.8 281.4h1.4M598.0 277.5h1.4M598.3 278.2h1.4M598.6 278.8h1.4M598.8 277.0h1.4M599.1 276.9h1.4M599.3 280.2h1.4M599.6 278.0h1.4M599.9 276.5h1.4M600.1 278.4h1.4M600.4 278.0h1.4M600.6 276.5h1.4M600.9 277.8h1.4M601.2 278.7h1.4M601.4 278.1h1.4M601.7 278.7h1.4M601.9 276.6h1.4M602.2 279.0h1.4M602.5 275.9h1.4M602.7 278.8h1.4M603.0 276.8h1.4M603.2 278.5h1.4M603.5 277.1h1.4M603.8 275.5h1.4M604.0 275.3h1.4M604.3 275.0h1.4M604.5 276.5h1.4M604.8 276.2h1.4M605.1 276.0h1.4M605.3 275.5h1.4M605.6 276.6h1.4M605.8 274.8h1.4M606.1 275.6h1.4M606.4 274.6h1.4M606.6 275.3h1.4M606.9 275.0h1.4M607.1 276.5h1.4M607.4 276.1h1.4M607.7 277.0h1.4M607.9 275.8h1.4M608.2 275.6h1.4M608.5 274.3h1.4M608.7 276.7h1.4M609.0 271.4h1.4M609.2 275.2h1.4M609.5 273.6h1.4M609.8 273.7h1.4M610.0 277.7h1.4M610.3 275.1h1.4M610.5 273.0h1.4M610.8 277.4h1.4M611.1 273.6h1.4M611.3 275.5h1.4M611.6 274.9h1.4M611.8 274.0h1.4M612.1 276.4h1.4M612.4 273.9h1.4M612.6 274.8h1.4M612.9 274.9h1.4M613.1 273.1h1.4M613.4 269.7h1.4M613.7 273.4h1.4M613.9 273.0h1.4M614.2 273.7h1.4M614.4 274.4h1.4M614.7 273.1h1.4M615.0 271.6h1.4M615.2 273.1h1.4M615.5 272.1h1.4M615.7 273.4h1.4M616.0 270.1h1.4M616.3 274.9h1.4M616.5 272.2h1.4M616.8 272.2h1.4M617.0 272.4h1.4M617.3 274.0h1.4M617.6 273.9h1.4M617.8 272.8h1.4M618.1 272.3h1.4M618.4 273.8h1.4M618.6 273.5h1.4M618.9 271.5h1.4M619.1 270.8h1.4M619.4 272.7h1.4M619.7 272.7h1.4M619.9 272.7h1.4M620.2 268.8h1.4M620.4 271.1h1.4M620.7 271.6h1.4M621.0 270.3h1.4M621.2 268.6h1.4M621.5 269.9h1.4M621.7 273.0h1.4M622.0 271.3h1.4M622.3 271.6h1.4M622.5 271.4h1.4M622.8 272.4h1.4M623.0 271.3h1.4M623.3 272.0h1.4M623.6 270.2h1.4M623.8 270.5h1.4M624.1 272.2h1.4M624.3 272.5h1.4M624.6 270.9h1.4M624.9 269.4h1.4M625.1 269.5h1.4M625.4 270.1h1.4M625.6 274.0h1.4M625.9 270.5h1.4M626.2 270.7h1.4M626.4 270.1h1.4M626.7 271.1h1.4M626.9 270.0h1.4M627.2 270.2h1.4M627.5 266.0h1.4M627.7 268.4h1.4M628.0 269.4h1.4M628.3 269.1h1.4M628.5 269.1h1.4M628.8 268.7h1.4M629.0 269.3h1.4M629.3 268.7h1.4M629.6 267.3h1.4M629.8 267.5h1.4M630.1 268.1h1.4M630.3 266.7h1.4M630.6 268.0h1.4M630.9 269.4h1.4M631.1 270.3h1.4M631.4 268.9h1.4M631.6 268.0h1.4M631.9 267.3h1.4M632.2 266.4h1.4M632.4 268.3h1.4M632.7 268.5h1.4M632.9 266.5h1.4M633.2 265.9h1.4M633.5 267.9h1.4M633.7 266.7h1.4M634.0 265.3h1.4M634.2 266.6h1.4M634.5 266.9h1.4M634.8 269.4h1.4M635.0 265.0h1.4M635.3 265.8h1.4M635.5 266.3h1.4M635.8 267.0h1.4M636.1 267.9h1.4M636.3 266.3h1.4M636.6 266.2h1.4M636.8 264.6h1.4M637.1 267.5h1.4M637.4 264.0h1.4M637.6 265.7h1.4M637.9 264.1h1.4M638.2 266.8h1.4M638.4 265.0h1.4M638.7 263.8h1.4M638.9 265.1h1.4M639.2 267.0h1.4M639.5 265.5h1.4M639.7 264.2h1.4M640.0 266.6h1.4M640.2 266.6h1.4M640.5 264.3h1.4M640.8 265.8h1.4M641.0 263.6h1.4M641.3 265.9h1.4M641.5 266.6h1.4M641.8 265.1h1.4M642.1 262.1h1.4M642.3 265.1h1.4M642.6 263.8h1.4M642.8 263.4h1.4M643.1 264.9h1.4M643.4 262.1h1.4M643.6 263.2h1.4M643.9 262.7h1.4M644.1 265.4h1.4M644.4 265.4h1.4M644.7 266.6h1.4M644.9 263.1h1.4M645.2 263.1h1.4M645.4 261.7h1.4M645.7 260.6h1.4M646.0 262.8h1.4M646.2 262.7h1.4M646.5 261.7h1.4M646.7 260.1h1.4M647.0 263.1h1.4M647.3 261.1h1.4M647.5 262.2h1.4M647.8 262.2h1.4M648.1 260.5h1.4M648.3 262.6h1.4M648.6 262.8h1.4M648.8 260.4h1.4M649.1 261.2h1.4M649.4 261.4h1.4M649.6 261.1h1.4M649.9 260.2h1.4M650.1 261.2h1.4M650.4 259.6h1.4M650.7 260.0h1.4M650.9 258.4h1.4M651.2 258.6h1.4M651.4 259.0h1.4M651.7 260.3h1.4M652.0 259.8h1.4M652.2 260.6h1.4M652.5 255.9h1.4M652.7 259.9h1.4M653.0 258.8h1.4M653.3 257.6h1.4M653.5 261.1h1.4M653.8 260.3h1.4M654.0 259.6h1.4M654.3 260.3h1.4M654.6 260.5h1.4M654.8 259.4h1.4M655.1 256.8h1.4M655.3 257.5h1.4M655.6 258.3h1.4M655.9 258.2h1.4M656.1 260.4h1.4M656.4 257.1h1.4M656.6 257.3h1.4M656.9 259.2h1.4M657.2 257.4h1.4M657.4 257.8h1.4M657.7 258.1h1.4M658.0 258.6h1.4M658.2 258.1h1.4M658.5 258.3h1.4M658.7 256.3h1.4M659.0 256.3h1.4M659.3 256.2h1.4M659.5 256.8h1.4M659.8 257.0h1.4M660.0 253.5h1.4M660.3 258.8h1.4M660.6 254.4h1.4M660.8 255.5h1.4M661.1 255.7h1.4M661.3 256.4h1.4M661.6 255.9h1.4M661.9 257.1h1.4M662.1 257.3h1.4M662.4 255.4h1.4M662.6 257.4h1.4M662.9 253.8h1.4M663.2 253.3h1.4M663.4 259.5h1.4M663.7 256.7h1.4M663.9 254.1h1.4M664.2 254.0h1.4M664.5 254.0h1.4M664.7 253.5h1.4M665.0 252.9h1.4M665.2 252.6h1.4M665.5 251.2h1.4M665.8 253.5h1.4M666.0 252.2h1.4M666.3 255.6h1.4M666.5 253.3h1.4M666.8 254.7h1.4M667.1 250.9h1.4M667.3 249.4h1.4M667.6 251.8h1.4M667.9 254.3h1.4M668.1 252.5h1.4M668.4 252.2h1.4M668.6 251.8h1.4M668.9 250.4h1.4M669.2 250.5h1.4M669.4 255.5h1.4M669.7 249.6h1.4M669.9 252.1h1.4M670.2 252.1h1.4M670.5 249.1h1.4M670.7 251.4h1.4M671.0 252.8h1.4M671.2 252.6h1.4M671.5 250.5h1.4M671.8 249.1h1.4M672.0 248.1h1.4M672.3 250.4h1.4M672.5 250.7h1.4M672.8 247.5h1.4M673.1 250.4h1.4M673.3 247.5h1.4M673.6 249.1h1.4M673.8 249.0h1.4M674.1 249.5h1.4M674.4 248.6h1.4M674.6 249.6h1.4M674.9 249.7h1.4M675.1 248.8h1.4M675.4 249.4h1.4M675.7 247.9h1.4" fill="none" stroke="#1565D2" stroke-opacity="0.3" stroke-width="1.2"/>
<path d="M530.0 287.5h1.4M530.3 287.8h1.4M530.6 287.8h1.4M530.8 287.8h1.4M531.1 286.0h1.4M531.3 287.6h1.4M531.6 288.1h1.4M531.9 287.8h1.4M532.1 287.0h1.4M532.4 287.7h1.4M532.6 287.7h1.4M532.9 287.8h1.4M533.2 287.4h1.4M533.4 287.2h1.4M533.7 287.1h1.4M533.9 289.0h1.4M534.2 288.5h1.4M534.5 289.9h1.4M534.7 286.8h1.4M535.0 286.5h1.4M535.2 286.3h1.4M535.5 287.3h1.4M535.8 286.4h1.4M536.0 287.5h1.4M536.3 287.6h1.4M536.5 288.9h1.4M536.8 288.2h1.4M537.1 288.0h1.4M537.3 286.6h1.4M537.6 285.9h1.4M537.8 287.8h1.4M538.1 287.0h1.4M538.4 287.1h1.4M538.6 288.1h1.4M538.9 288.9h1.4M539.2 288.0h1.4M539.4 288.7h1.4M539.7 287.6h1.4M539.9 287.4h1.4M540.2 287.5h1.4M540.5 287.4h1.4M540.7 286.8h1.4M541.0 288.1h1.4M541.2 286.4h1.4M541.5 288.8h1.4M541.8 287.2h1.4M542.0 286.9h1.4M542.3 287.9h1.4M542.5 288.7h1.4M542.8 286.6h1.4M543.1 287.8h1.4M543.3 286.4h1.4M543.6 286.4h1.4M543.8 287.1h1.4M544.1 287.1h1.4M544.4 286.2h1.4M544.6 286.7h1.4M544.9 287.9h1.4M545.1 286.9h1.4M545.4 286.5h1.4M545.7 286.8h1.4M545.9 286.8h1.4M546.2 287.1h1.4M546.4 287.1h1.4M546.7 287.8h1.4M547.0 288.3h1.4M547.2 285.9h1.4M547.5 287.5h1.4M547.7 286.7h1.4M548.0 288.3h1.4M548.3 286.7h1.4M548.5 287.6h1.4M548.8 284.1h1.4M549.1 287.7h1.4M549.3 287.7h1.4M549.6 285.9h1.4M549.8 285.7h1.4M550.1 288.7h1.4M550.4 286.5h1.4M550.6 285.9h1.4M550.9 287.8h1.4M551.1 286.0h1.4M551.4 287.1h1.4M551.7 287.5h1.4M551.9 286.9h1.4M552.2 287.0h1.4M552.4 287.8h1.4M552.7 284.4h1.4M553.0 286.9h1.4M553.2 287.2h1.4M553.5 285.7h1.4M553.7 286.5h1.4M554.0 285.2h1.4M554.3 286.6h1.4M554.5 286.0h1.4M554.8 286.3h1.4M555.0 286.2h1.4M555.3 286.5h1.4M555.6 286.4h1.4M555.8 284.7h1.4M556.1 286.9h1.4M556.3 286.7h1.4M556.6 286.5h1.4M556.9 285.6h1.4M557.1 285.8h1.4M557.4 285.2h1.4M557.6 287.3h1.4M557.9 285.8h1.4M558.2 286.2h1.4M558.4 286.3h1.4M558.7 285.8h1.4M559.0 287.8h1.4M559.2 285.7h1.4M559.5 285.8h1.4M559.7 287.2h1.4M560.0 285.9h1.4M560.3 284.4h1.4M560.5 286.2h1.4M560.8 285.2h1.4M561.0 286.0h1.4M561.3 286.5h1.4M561.6 286.6h1.4M561.8 286.0h1.4M562.1 284.4h1.4M562.3 284.8h1.4M562.6 286.3h1.4M562.9 284.6h1.4M563.1 285.7h1.4M563.4 286.2h1.4M563.6 285.1h1.4M563.9 286.3h1.4M564.2 286.9h1.4M564.4 284.2h1.4M564.7 287.1h1.4M564.9 284.8h1.4M565.2 286.8h1.4M565.5 285.3h1.4M565.7 285.4h1.4M566.0 285.6h1.4M566.2 287.3h1.4M566.5 285.3h1.4M566.8 285.2h1.4M567.0 286.0h1.4M567.3 285.1h1.4M567.5 284.1h1.4M567.8 285.7h1.4M568.1 284.7h1.4M568.3 286.1h1.4M568.6 284.5h1.4M568.9 284.3h1.4M569.1 282.5h1.4M569.4 283.9h1.4M569.6 284.4h1.4M569.9 283.4h1.4M570.2 285.7h1.4M570.4 283.7h1.4M570.7 285.2h1.4M570.9 285.2h1.4M571.2 283.5h1.4M571.5 284.3h1.4M571.7 283.2h1.4M572.0 285.9h1.4M572.2 284.2h1.4M572.5 284.9h1.4M572.8 284.7h1.4M573.0 286.2h1.4M573.3 283.4h1.4M573.5 284.1h1.4M573.8 285.2h1.4M574.1 285.5h1.4M574.3 285.0h1.4M574.6 282.8h1.4M574.8 284.2h1.4M575.1 284.4h1.4M575.4 283.6h1.4M575.6 284.0h1.4M575.9 283.8h1.4M576.1 283.2h1.4M576.4 283.6h1.4M576.7 283.0h1.4M576.9 285.0h1.4M577.2 283.7h1.4M577.4 284.1h1.4M577.7 283.6h1.4M578.0 283.7h1.4M578.2 284.3h1.4M578.5 284.0h1.4M578.8 282.7h1.4M579.0 284.1h1.4M579.3 284.7h1.4M579.5 282.9h1.4M579.8 282.5h1.4M580.1 283.7h1.4M580.3 283.2h1.4M580.6 284.2h1.4M580.8 283.5h1.4M581.1 282.2h1.4M581.4 282.4h1.4M581.6 283.0h1.4M581.9 283.4h1.4M582.1 284.7h1.4M582.4 282.8h1.4M582.7 282.6h1.4M582.9 281.9h1.4M583.2 281.0h1.4M583.4 282.5h1.4M583.7 281.9h1.4M584.0 283.9h1.4M584.2 281.6h1.4M584.5 281.9h1.4M584.7 281.4h1.4M585.0 282.0h1.4M585.3 282.2h1.4M585.5 281.1h1.4M585.8 283.2h1.4M586.0 281.9h1.4M586.3 281.4h1.4M586.6 283.2h1.4M586.8 283.6h1.4M587.1 281.9h1.4M587.3 282.2h1.4M587.6 281.7h1.4M587.9 281.6h1.4M588.1 283.0h1.4M588.4 281.8h1.4M588.7 281.0h1.4M588.9 282.4h1.4M589.2 282.3h1.4M589.4 283.1h1.4M589.7 281.1h1.4M590.0 280.0h1.4M590.2 283.3h1.4M590.5 281.1h1.4M590.7 280.9h1.4M591.0 282.3h1.4M591.3 282.1h1.4M591.5 282.7h1.4M591.8 282.4h1.4M592.0 281.4h1.4M592.3 280.9h1.4M592.6 281.4h1.4M592.8 280.6h1.4M593.1 281.2h1.4M593.3 282.6h1.4M593.6 279.9h1.4M593.9 280.1h1.4M594.1 282.0h1.4M594.4 279.4h1.4M594.6 280.7h1.4M594.9 281.0h1.4M595.2 279.1h1.4M595.4 283.6h1.4M595.7 282.6h1.4M595.9 280.2h1.4M596.2 281.2h1.4M596.5 281.8h1.4M596.7 279.3h1.4M597.0 280.3h1.4M597.2 282.0h1.4M597.5 281.4h1.4M597.8 279.8h1.4M598.0 278.8h1.4M598.3 282.6h1.4M598.6 280.3h1.4M598.8 280.9h1.4M599.1 282.2h1.4M599.3 280.6h1.4M599.6 282.0h1.4M599.9 280.9h1.4M600.1 278.6h1.4M600.4 279.7h1.4M600.6 279.4h1.4M600.9 279.5h1.4M601.2 279.7h1.4M601.4 279.0h1.4M601.7 281.2h1.4M601.9 280.3h1.4M602.2 279.0h1.4M602.5 280.6h1.4M602.7 280.3h1.4M603.0 278.5h1.4M603.2 278.1h1.4M603.5 280.3h1.4M603.8 280.5h1.4M604.0 279.0h1.4M604.3 279.3h1.4M604.5 280.2h1.4M604.8 278.8h1.4M605.1 278.8h1.4M605.3 279.3h1.4M605.6 276.2h1.4M605.8 277.8h1.4M606.1 278.4h1.4M606.4 278.1h1.4M606.6 276.0h1.4M606.9 277.9h1.4M607.1 279.8h1.4M607.4 278.7h1.4M607.7 278.9h1.4M607.9 279.5h1.4M608.2 278.6h1.4M608.5 278.6h1.4M608.7 278.8h1.4M609.0 279.2h1.4M609.2 277.8h1.4M609.5 280.3h1.4M609.8 277.7h1.4M610.0 278.5h1.4M610.3 278.2h1.4M610.5 281.0h1.4M610.8 276.6h1.4M611.1 280.2h1.4M611.3 279.2h1.4M611.6 277.6h1.4M611.8 278.9h1.4M612.1 278.6h1.4M612.4 280.5h1.4M612.6 278.6h1.4M612.9 277.8h1.4M613.1 277.3h1.4M613.4 278.3h1.4M613.7 277.7h1.4M613.9 277.4h1.4M614.2 278.5h1.4M614.4 278.6h1.4M614.7 275.6h1.4M615.0 278.6h1.4M615.2 276.3h1.4M615.5 277.5h1.4M615.7 275.9h1.4M616.0 278.2h1.4M616.3 276.9h1.4M616.5 277.0h1.4M616.8 277.6h1.4M617.0 277.0h1.4M617.3 278.1h1.4M617.6 277.3h1.4M617.8 277.6h1.4M618.1 276.3h1.4M618.4 277.2h1.4M618.6 278.6h1.4M618.9 277.4h1.4M619.1 277.0h1.4M619.4 277.9h1.4M619.7 275.4h1.4M619.9 276.4h1.4M620.2 275.8h1.4M620.4 277.5h1.4M620.7 277.1h1.4M621.0 275.5h1.4M621.2 278.1h1.4M621.5 276.1h1.4M621.7 276.4h1.4M622.0 277.0h1.4M622.3 276.3h1.4M622.5 277.5h1.4M622.8 276.0h1.4M623.0 277.6h1.4M623.3 277.6h1.4M623.6 274.6h1.4M623.8 276.9h1.4M624.1 278.4h1.4M624.3 274.9h1.4M624.6 276.8h1.4M624.9 279.8h1.4M625.1 275.9h1.4M625.4 274.8h1.4M625.6 275.4h1.4M625.9 273.8h1.4M626.2 275.8h1.4M626.4 275.0h1.4M626.7 276.7h1.4M626.9 275.4h1.4M627.2 273.8h1.4M627.5 274.9h1.4M627.7 275.2h1.4M628.0 277.6h1.4M628.3 275.7h1.4M628.5 276.7h1.4M628.8 274.3h1.4M629.0 276.0h1.4M629.3 274.7h1.4M629.6 276.2h1.4M629.8 272.9h1.4M630.1 276.3h1.4M630.3 274.8h1.4M630.6 271.9h1.4M630.9 274.6h1.4M631.1 275.8h1.4M631.4 274.0h1.4M631.6 273.6h1.4M631.9 273.7h1.4M632.2 276.8h1.4M632.4 274.3h1.4M632.7 276.9h1.4M632.9 272.3h1.4M633.2 274.3h1.4M633.5 274.9h1.4M633.7 273.6h1.4M634.0 273.7h1.4M634.2 275.6h1.4M634.5 272.3h1.4M634.8 274.4h1.4M635.0 276.1h1.4M635.3 272.4h1.4M635.5 272.2h1.4M635.8 272.5h1.4M636.1 273.3h1.4M636.3 274.9h1.4M636.6 272.7h1.4M636.8 271.6h1.4M637.1 272.8h1.4M637.4 271.8h1.4M637.6 274.5h1.4M637.9 272.4h1.4M638.2 272.5h1.4M638.4 275.2h1.4M638.7 275.3h1.4M638.9 274.2h1.4M639.2 273.3h1.4M639.5 272.8h1.4M639.7 273.5h1.4M640.0 273.3h1.4M640.2 273.3h1.4M640.5 273.0h1.4M640.8 272.4h1.4M641.0 272.5h1.4M641.3 273.1h1.4M641.5 272.6h1.4M641.8 273.4h1.4M642.1 271.9h1.4M642.3 273.4h1.4M642.6 270.8h1.4M642.8 272.7h1.4M643.1 272.4h1.4M643.4 273.5h1.4M643.6 273.0h1.4M643.9 272.3h1.4M644.1 272.5h1.4M644.4 273.2h1.4M644.7 273.8h1.4M644.9 272.3h1.4M645.2 272.1h1.4M645.4 271.6h1.4M645.7 270.8h1.4M646.0 272.5h1.4M646.2 274.5h1.4M646.5 272.3h1.4M646.7 274.2h1.4M647.0 273.5h1.4M647.3 270.7h1.4M647.5 271.2h1.4M647.8 272.6h1.4M648.1 272.6h1.4M648.3 271.9h1.4M648.6 273.8h1.4M648.8 271.1h1.4M649.1 272.1h1.4M649.4 269.4h1.4M649.6 272.8h1.4M649.9 270.3h1.4M650.1 272.3h1.4M650.4 270.2h1.4M650.7 272.6h1.4M650.9 270.5h1.4M651.2 271.8h1.4M651.4 272.2h1.4M651.7 271.4h1.4M652.0 270.6h1.4M652.2 270.6h1.4M652.5 269.2h1.4M652.7 270.0h1.4M653.0 274.2h1.4M653.3 271.4h1.4M653.5 273.3h1.4M653.8 271.3h1.4M654.0 270.1h1.4M654.3 272.4h1.4M654.6 272.2h1.4M654.8 270.5h1.4M655.1 271.0h1.4M655.3 268.7h1.4M655.6 270.2h1.4M655.9 269.9h1.4M656.1 268.4h1.4M656.4 271.0h1.4M656.6 270.4h1.4M656.9 271.6h1.4M657.2 270.0h1.4M657.4 269.0h1.4M657.7 268.6h1.4M658.0 270.2h1.4M658.2 271.0h1.4M658.5 271.0h1.4M658.7 271.8h1.4M659.0 269.9h1.4M659.3 268.3h1.4M659.5 272.8h1.4M659.8 272.5h1.4M660.0 268.1h1.4M660.3 271.8h1.4M660.6 269.4h1.4M660.8 271.3h1.4M661.1 268.7h1.4M661.3 268.7h1.4M661.6 269.4h1.4M661.9 268.6h1.4M662.1 269.5h1.4M662.4 268.8h1.4M662.6 267.2h1.4M662.9 268.1h1.4M663.2 270.2h1.4M663.4 270.3h1.4M663.7 269.6h1.4M663.9 269.5h1.4M664.2 269.1h1.4M664.5 269.9h1.4M664.7 268.3h1.4M665.0 269.0h1.4M665.2 268.6h1.4M665.5 269.0h1.4M665.8 268.2h1.4M666.0 270.4h1.4M666.3 266.9h1.4M666.5 268.4h1.4M666.8 268.3h1.4M667.1 268.0h1.4M667.3 267.4h1.4M667.6 267.8h1.4M667.9 268.4h1.4M668.1 268.8h1.4M668.4 270.6h1.4M668.6 268.3h1.4M668.9 268.9h1.4M669.2 268.9h1.4M669.4 265.4h1.4M669.7 270.7h1.4M669.9 268.3h1.4M670.2 266.8h1.4M670.5 267.1h1.4M670.7 266.7h1.4M671.0 269.8h1.4M671.2 269.4h1.4M671.5 267.4h1.4M671.8 268.5h1.4M672.0 265.9h1.4M672.3 267.7h1.4M672.5 267.7h1.4M672.8 267.4h1.4M673.1 268.2h1.4M673.3 267.7h1.4M673.6 268.7h1.4M673.8 267.8h1.4M674.1 268.4h1.4M674.4 267.4h1.4M674.6 269.5h1.4M674.9 269.5h1.4M675.1 267.0h1.4M675.4 267.3h1.4M675.7 268.8h1.4" fill="none" stroke="#6DB31E" stroke-opacity="0.3" stroke-width="1.2"/>
<path d="M530.0 296.9h1.4M530.3 297.3h1.4M530.6 295.5h1.4M530.8 297.5h1.4M531.1 295.6h1.4M531.3 296.9h1.4M531.6 296.2h1.4M531.9 296.5h1.4M532.1 296.5h1.4M532.4 295.7h1.4M532.6 295.7h1.4M532.9 296.3h1.4M533.2 296.6h1.4M533.4 294.7h1.4M533.7 295.1h1.4M533.9 295.8h1.4M534.2 296.0h1.4M534.5 295.6h1.4M534.7 295.6h1.4M535.0 294.9h1.4M535.2 296.2h1.4M535.5 295.5h1.4M535.8 295.9h1.4M536.0 294.5h1.4M536.3 294.1h1.4M536.5 295.3h1.4M536.8 294.8h1.4M537.1 294.1h1.4M537.3 295.2h1.4M537.6 295.6h1.4M537.8 294.2h1.4M538.1 294.5h1.4M538.4 294.9h1.4M538.6 293.7h1.4M538.9 294.4h1.4M539.2 295.7h1.4M539.4 294.2h1.4M539.7 294.4h1.4M539.9 293.0h1.4M540.2 294.2h1.4M540.5 294.3h1.4M540.7 293.8h1.4M541.0 293.8h1.4M541.2 294.9h1.4M541.5 293.8h1.4M541.8 294.0h1.4M542.0 292.7h1.4M542.3 291.9h1.4M542.5 294.4h1.4M542.8 294.2h1.4M543.1 294.0h1.4M543.3 293.8h1.4M543.6 293.8h1.4M543.8 293.1h1.4M544.1 292.3h1.4M544.4 294.0h1.4M544.6 294.1h1.4M544.9 294.2h1.4M545.1 291.9h1.4M545.4 291.7h1.4M545.7 293.8h1.4M545.9 293.8h1.4M546.2 292.3h1.4M546.4 291.5h1.4M546.7 291.5h1.4M547.0 292.0h1.4M547.2 291.6h1.4M547.5 291.8h1.4M547.7 292.4h1.4M548.0 290.3h1.4M548.3 291.8h1.4M548.5 292.6h1.4M548.8 292.0h1.4M549.1 292.7h1.4M549.3 291.4h1.4M549.6 290.4h1.4M549.8 292.3h1.4M550.1 290.2h1.4M550.4 289.4h1.4M550.6 290.7h1.4M550.9 291.8h1.4M551.1 291.5h1.4M551.4 291.0h1.4M551.7 291.7h1.4M551.9 291.6h1.4M552.2 290.7h1.4M552.4 290.5h1.4M552.7 289.8h1.4M553.0 291.2h1.4M553.2 288.5h1.4M553.5 289.1h1.4M553.7 289.1h1.4M554.0 290.4h1.4M554.3 288.2h1.4M554.5 289.9h1.4M554.8 288.0h1.4M555.0 288.5h1.4M555.3 290.1h1.4M555.6 289.6h1.4M555.8 287.5h1.4M556.1 288.2h1.4M556.3 289.1h1.4M556.6 288.7h1.4M556.9 288.6h1.4M557.1 289.3h1.4M557.4 288.7h1.4M557.6 289.0h1.4M557.9 288.7h1.4M558.2 287.8h1.4M558.4 289.0h1.4M558.7 287.4h1.4M559.0 287.9h1.4M559.2 287.2h1.4M559.5 287.0h1.4M559.7 286.5h1.4M560.0 287.0h1.4M560.3 286.8h1.4M560.5 287.5h1.4M560.8 286.7h1.4M561.0 288.0h1.4M561.3 287.3h1.4M561.6 286.3h1.4M561.8 286.9h1.4M562.1 286.3h1.4M562.3 287.6h1.4M562.6 285.3h1.4M562.9 287.0h1.4M563.1 286.0h1.4M563.4 286.2h1.4M563.6 285.2h1.4M563.9 286.4h1.4M564.2 286.9h1.4M564.4 287.6h1.4M564.7 286.0h1.4M564.9 286.7h1.4M565.2 285.0h1.4M565.5 284.0h1.4M565.7 287.4h1.4M566.0 286.4h1.4M566.2 284.8h1.4M566.5 283.8h1.4M566.8 284.5h1.4M567.0 284.4h1.4M567.3 284.1h1.4M567.5 284.0h1.4M567.8 282.8h1.4M568.1 283.7h1.4M568.3 285.4h1.4M568.6 284.5h1.4M568.9 283.8h1.4M569.1 284.7h1.4M569.4 284.0h1.4M569.6 284.2h1.4M569.9 284.2h1.4M570.2 282.7h1.4M570.4 283.7h1.4M570.7 284.3h1.4M570.9 283.8h1.4M571.2 282.9h1.4M571.5 280.7h1.4M571.7 282.5h1.4M572.0 281.1h1.4M572.2 282.0h1.4M572.5 284.6h1.4M572.8 281.9h1.4M573.0 283.0h1.4M573.3 283.5h1.4M573.5 283.1h1.4M573.8 280.0h1.4M574.1 283.4h1.4M574.3 282.2h1.4M574.6 280.3h1.4M574.8 280.7h1.4M575.1 283.0h1.4M575.4 281.2h1.4M575.6 281.6h1.4M575.9 281.1h1.4M576.1 280.0h1.4M576.4 281.3h1.4M576.7 280.9h1.4M576.9 278.9h1.4M577.2 282.3h1.4M577.4 280.6h1.4M577.7 279.6h1.4M578.0 281.3h1.4M578.2 280.5h1.4M578.5 281.1h1.4M578.8 279.4h1.4M579.0 280.2h1.4M579.3 278.5h1.4M579.5 278.1h1.4M579.8 279.1h1.4M580.1 279.4h1.4M580.3 278.6h1.4M580.6 278.7h1.4M580.8 280.0h1.4M581.1 277.3h1.4M581.4 278.2h1.4M581.6 277.4h1.4M581.9 279.7h1.4M582.1 277.1h1.4M582.4 275.6h1.4M582.7 277.1h1.4M582.9 279.3h1.4M583.2 277.5h1.4M583.4 277.5h1.4M583.7 277.1h1.4M584.0 277.4h1.4M584.2 276.5h1.4M584.5 277.5h1.4M584.7 276.6h1.4M585.0 277.5h1.4M585.3 276.5h1.4M585.5 275.3h1.4M585.8 276.9h1.4M586.0 275.4h1.4M586.3 277.1h1.4M586.6 276.4h1.4M586.8 276.1h1.4M587.1 274.3h1.4M587.3 276.5h1.4M587.6 274.0h1.4M587.9 277.0h1.4M588.1 275.4h1.4M588.4 274.0h1.4M588.7 274.1h1.4M588.9 276.0h1.4M589.2 276.1h1.4M589.4 273.5h1.4M589.7 275.9h1.4M590.0 273.6h1.4M590.2 274.8h1.4M590.5 274.1h1.4M590.7 271.2h1.4M591.0 272.0h1.4M591.3 272.7h1.4M591.5 275.2h1.4M591.8 273.0h1.4M592.0 273.2h1.4M592.3 273.3h1.4M592.6 271.5h1.4M592.8 275.0h1.4M593.1 272.4h1.4M593.3 272.5h1.4M593.6 273.4h1.4M593.9 270.3h1.4M594.1 273.8h1.4M594.4 272.1h1.4M594.6 271.9h1.4M594.9 274.5h1.4M595.2 273.5h1.4M595.4 272.8h1.4M595.7 270.6h1.4M595.9 270.2h1.4M596.2 270.5h1.4M596.5 270.8h1.4M596.7 273.7h1.4M597.0 270.6h1.4M597.2 271.4h1.4M597.5 269.2h1.4M597.8 268.8h1.4M598.0 267.6h1.4M598.3 269.3h1.4M598.6 269.1h1.4M598.8 271.2h1.4M599.1 269.7h1.4M599.3 271.2h1.4M599.6 268.4h1.4M599.9 270.9h1.4M600.1 269.6h1.4M600.4 270.2h1.4M600.6 269.6h1.4M600.9 268.3h1.4M601.2 269.5h1.4M601.4 268.4h1.4M601.7 269.8h1.4M601.9 266.6h1.4M602.2 269.1h1.4M602.5 266.8h1.4M602.7 265.3h1.4M603.0 270.9h1.4M603.2 269.0h1.4M603.5 267.9h1.4M603.8 266.0h1.4M604.0 268.0h1.4M604.3 266.7h1.4M604.5 268.0h1.4M604.8 266.2h1.4M605.1 268.4h1.4M605.3 265.6h1.4M605.6 270.4h1.4M605.8 268.8h1.4M606.1 263.9h1.4M606.4 265.9h1.4M606.6 267.2h1.4M606.9 263.0h1.4M607.1 264.4h1.4M607.4 264.2h1.4M607.7 266.0h1.4M607.9 264.5h1.4M608.2 264.6h1.4M608.5 267.3h1.4M608.7 264.2h1.4M609.0 265.1h1.4M609.2 263.0h1.4M609.5 262.8h1.4M609.8 265.3h1.4M610.0 265.1h1.4M610.3 263.9h1.4M610.5 263.2h1.4M610.8 264.4h1.4M611.1 263.9h1.4M611.3 262.8h1.4M611.6 262.9h1.4M611.8 261.8h1.4M612.1 262.9h1.4M612.4 264.3h1.4M612.6 265.3h1.4M612.9 261.8h1.4M613.1 263.1h1.4M613.4 263.0h1.4M613.7 262.8h1.4M613.9 264.4h1.4M614.2 262.7h1.4M614.4 265.5h1.4M614.7 262.4h1.4M615.0 263.0h1.4M615.2 259.2h1.4M615.5 260.9h1.4M615.7 261.7h1.4M616.0 261.0h1.4M616.3 260.1h1.4M616.5 262.0h1.4M616.8 261.2h1.4M617.0 261.2h1.4M617.3 257.2h1.4M617.6 260.3h1.4M617.8 263.0h1.4M618.1 259.1h1.4M618.4 256.5h1.4M618.6 261.2h1.4M618.9 255.0h1.4M619.1 259.7h1.4M619.4 258.1h1.4M619.7 260.2h1.4M619.9 259.6h1.4M620.2 260.8h1.4M620.4 260.5h1.4M620.7 261.8h1.4M621.0 257.1h1.4M621.2 260.2h1.4M621.5 257.9h1.4M621.7 257.9h1.4M622.0 259.1h1.4M622.3 258.0h1.4M622.5 258.1h1.4M622.8 258.5h1.4M623.0 257.6h1.4M623.3 257.5h1.4M623.6 258.8h1.4M623.8 259.1h1.4M624.1 258.3h1.4M624.3 256.8h1.4M624.6 254.9h1.4M624.9 254.7h1.4M625.1 256.2h1.4M625.4 255.1h1.4M625.6 256.2h1.4M625.9 254.6h1.4M626.2 255.9h1.4M626.4 255.4h1.4M626.7 256.2h1.4M626.9 255.7h1.4M627.2 252.8h1.4M627.5 257.1h1.4M627.7 255.3h1.4M628.0 256.0h1.4M628.3 253.7h1.4M628.5 252.3h1.4M628.8 255.2h1.4M629.0 258.6h1.4M629.3 253.6h1.4M629.6 253.5h1.4M629.8 256.7h1.4M630.1 254.5h1.4M630.3 254.1h1.4M630.6 257.2h1.4M630.9 252.8h1.4M631.1 253.0h1.4M631.4 253.1h1.4M631.6 254.9h1.4M631.9 254.3h1.4M632.2 254.0h1.4M632.4 252.3h1.4M632.7 254.3h1.4M632.9 250.6h1.4M633.2 252.0h1.4M633.5 255.6h1.4M633.7 249.8h1.4M634.0 252.0h1.4M634.2 252.9h1.4M634.5 251.8h1.4M634.8 254.5h1.4M635.0 251.4h1.4M635.3 255.2h1.4M635.5 252.9h1.4M635.8 249.3h1.4M636.1 249.3h1.4M636.3 251.5h1.4M636.6 252.3h1.4M636.8 249.4h1.4M637.1 250.7h1.4M637.4 250.2h1.4M637.6 249.5h1.4M637.9 251.9h1.4M638.2 249.0h1.4M638.4 253.2h1.4M638.7 247.7h1.4M638.9 252.1h1.4M639.2 250.6h1.4M639.5 250.5h1.4M639.7 248.3h1.4M640.0 248.1h1.4M640.2 248.6h1.4M640.5 248.2h1.4M640.8 248.2h1.4M641.0 248.9h1.4M641.3 251.5h1.4M641.5 252.0h1.4M641.8 251.9h1.4M642.1 248.3h1.4M642.3 248.5h1.4M642.6 248.2h1.4M642.8 247.6h1.4M643.1 248.1h1.4M643.4 249.2h1.4M643.6 249.8h1.4M643.9 250.3h1.4M644.1 245.4h1.4M644.4 245.8h1.4M644.7 249.1h1.4M644.9 247.3h1.4M645.2 246.1h1.4M645.4 244.2h1.4M645.7 247.5h1.4M646.0 246.2h1.4M646.2 244.5h1.4M646.5 248.9h1.4M646.7 247.2h1.4M647.0 246.0h1.4M647.3 246.9h1.4M647.5 242.4h1.4M647.8 244.2h1.4M648.1 245.2h1.4M648.3 246.8h1.4M648.6 243.9h1.4M648.8 244.1h1.4M649.1 245.8h1.4M649.4 245.5h1.4M649.6 247.0h1.4M649.9 244.7h1.4M650.1 243.2h1.4M650.4 242.8h1.4M650.7 243.4h1.4M650.9 242.9h1.4M651.2 244.9h1.4M651.4 244.6h1.4M651.7 241.9h1.4M652.0 243.0h1.4M652.2 244.8h1.4M652.5 242.7h1.4M652.7 242.0h1.4M653.0 242.1h1.4M653.3 242.9h1.4M653.5 243.8h1.4M653.8 242.2h1.4M654.0 240.1h1.4M654.3 242.4h1.4M654.6 243.6h1.4M654.8 241.9h1.4M655.1 244.2h1.4M655.3 241.8h1.4M655.6 242.5h1.4M655.9 240.4h1.4M656.1 241.7h1.4M656.4 240.1h1.4M656.6 238.0h1.4M656.9 241.8h1.4M657.2 242.7h1.4M657.4 240.5h1.4M657.7 241.3h1.4M658.0 240.8h1.4M658.2 241.9h1.4M658.5 239.9h1.4M658.7 240.6h1.4M659.0 244.0h1.4M659.3 240.9h1.4M659.5 239.8h1.4M659.8 238.4h1.4M660.0 241.1h1.4M660.3 241.3h1.4M660.6 238.1h1.4M660.8 240.8h1.4M661.1 239.5h1.4M661.3 238.9h1.4M661.6 238.3h1.4M661.9 239.4h1.4M662.1 241.0h1.4M662.4 237.6h1.4M662.6 239.8h1.4M662.9 239.8h1.4M663.2 235.7h1.4M663.4 237.3h1.4M663.7 240.3h1.4M663.9 239.3h1.4M664.2 238.8h1.4M664.5 239.5h1.4M664.7 241.3h1.4M665.0 236.8h1.4M665.2 236.8h1.4M665.5 237.5h1.4M665.8 238.4h1.4M666.0 237.3h1.4M666.3 236.6h1.4M666.5 239.2h1.4M666.8 237.9h1.4M667.1 238.2h1.4M667.3 236.1h1.4M667.6 236.7h1.4M667.9 239.1h1.4M668.1 237.9h1.4M668.4 233.9h1.4M668.6 238.2h1.4M668.9 236.3h1.4M669.2 237.5h1.4M669.4 234.4h1.4M669.7 236.4h1.4M669.9 236.9h1.4M670.2 238.0h1.4M670.5 236.4h1.4M670.7 234.5h1.4M671.0 234.7h1.4M671.2 237.8h1.4M671.5 233.1h1.4M671.8 235.9h1.4M672.0 237.1h1.4M672.3 235.1h1.4M672.5 236.2h1.4M672.8 236.0h1.4M673.1 236.0h1.4M673.3 235.1h1.4M673.6 235.6h1.4M673.8 237.5h1.4M674.1 233.8h1.4M674.4 235.4h1.4M674.6 232.5h1.4M674.9 233.5h1.4M675.1 233.3h1.4M675.4 233.9h1.4M675.7 232.0h1.4" fill="none" stroke="#FF8C00" stroke-opacity="0.3" stroke-width="1.2"/>
<polyline points="530.73,296.00 532.37,295.93 534.00,295.86 535.64,295.87 537.28,295.77 538.91,295.71 540.55,295.75 542.19,295.75 543.82,295.77 545.46,295.78 547.10,295.70 548.73,295.69 550.37,295.81 552.00,295.76 553.64,295.69 555.28,295.72 556.91,295.68 558.55,295.70 560.19,295.71 561.82,295.66 563.46,295.74 565.10,295.77 566.73,295.73 568.37,295.77 570.00,295.89 571.64,295.90 573.28,295.94 574.91,295.95 576.55,296.03 578.19,296.13 579.82,296.16 581.46,296.09 583.10,296.03 584.73,295.97 586.37,295.93 588.00,295.88 589.64,295.79 591.28,295.80 592.91,295.81 594.55,295.85 596.19,295.87 597.82,295.84 599.46,295.89 601.10,295.87 602.73,295.92 604.37,295.90 606.00,295.95 607.64,295.86 609.28,295.83 610.91,295.82 612.55,295.88 614.19,295.87 615.82,295.89 617.46,295.82 619.10,295.78 620.73,295.88 622.37,295.80 624.00,295.81 625.64,295.75 627.28,295.72 628.91,295.72 630.55,295.81 632.19,295.77 633.82,295.82 635.46,295.80 637.10,295.76 638.73,295.86 640.37,295.91 642.00,295.98 643.64,296.02 645.28,296.05 646.91,296.02 648.55,295.98 650.19,295.87 651.82,295.91 653.46,295.86 655.10,295.87 656.73,295.82 658.37,295.82 660.00,295.89 661.64,295.91 663.28,295.87 664.91,295.96 666.55,296.00 668.19,296.03 669.82,296.06 671.46,296.04 673.10,296.10 674.73,296.09 676.37,296.01" fill="none" stroke="#000000" stroke-width="1.5" stroke-linejoin="round"/>
<polyline points="530.73,295.70 532.37,295.31 534.00,294.95 535.64,294.57 537.28,294.20 538.91,293.82 540.55,293.40 542.19,292.85 543.82,292.44 545.46,291.85 547.10,291.36 548.73,290.89 550.37,290.52 552.00,290.13 553.64,289.81 555.28,289.41 556.91,289.07 558.55,288.73 560.19,288.36 561.82,287.93 563.46,287.52 565.10,287.07 566.73,286.67 568.37,286.32 570.00,285.86 571.64,285.43 573.28,285.01 574.91,284.57 576.55,284.27 578.19,283.75 579.82,283.37 581.46,282.81 583.10,282.45 584.73,281.95 586.37,281.55 588.00,280.99 589.64,280.65 591.28,280.06 592.91,279.65 594.55,279.14 596.19,278.62 597.82,278.21 599.46,277.71 601.10,277.25 602.73,276.97 604.37,276.52 606.00,276.11 607.64,275.64 609.28,275.14 610.91,274.75 612.55,274.25 614.19,273.78 615.82,273.28 617.46,272.83 619.10,272.34 620.73,271.67 622.37,271.15 624.00,270.75 625.64,270.06 627.28,269.53 628.91,268.85 630.55,268.41 632.19,268.05 633.82,267.48 635.46,266.84 637.10,266.12 638.73,265.58 640.37,265.06 642.00,264.42 643.64,263.78 645.28,263.16 646.91,262.44 648.55,261.94 650.19,261.22 651.82,260.38 653.46,259.64 655.10,258.93 656.73,258.20 658.37,257.38 660.00,256.64 661.64,255.84 663.28,255.16 664.91,254.36 666.55,253.45 668.19,252.60 669.82,251.90 671.46,250.96 673.10,250.17 674.73,249.14 676.37,248.29" fill="none" stroke="#1565D2" stroke-width="1.5" stroke-linejoin="round"/>
<polyline points="530.73,287.63 532.37,287.63 534.00,287.58 535.64,287.57 537.28,287.55 538.91,287.51 540.55,287.37 542.19,287.13 543.82,287.06 545.46,287.00 547.10,286.86 548.73,286.74 550.37,286.57 552.00,286.56 553.64,286.50 555.28,286.30 556.91,286.24 558.55,286.00 560.19,285.78 561.82,285.58 563.46,285.42 565.10,285.30 566.73,285.16 568.37,284.88 570.00,284.70 571.64,284.66 573.28,284.53 574.91,284.24 576.55,283.94 578.19,283.70 579.82,283.58 581.46,283.45 583.10,283.16 584.73,282.97 586.37,282.72 588.00,282.57 589.64,282.30 591.28,282.06 592.91,281.65 594.55,281.24 596.19,280.88 597.82,280.70 599.46,280.54 601.10,280.34 602.73,279.98 604.37,279.71 606.00,279.43 607.64,279.23 609.28,278.78 610.91,278.28 612.55,277.93 614.19,277.55 615.82,277.38 617.46,277.22 619.10,276.97 620.73,276.77 622.37,276.49 624.00,276.29 625.64,276.19 627.28,275.89 628.91,275.73 630.55,275.24 632.19,274.97 633.82,274.70 635.46,274.19 637.10,273.88 638.73,273.71 640.37,273.07 642.00,272.94 643.64,272.63 645.28,272.38 646.91,272.16 648.55,271.68 650.19,271.32 651.82,271.23 653.46,270.94 655.10,270.64 656.73,270.30 658.37,270.10 660.00,269.80 661.64,269.62 663.28,269.30 664.91,268.92 666.55,268.60 668.19,268.43 669.82,268.27 671.46,268.22 673.10,267.94 674.73,267.73 676.37,267.66" fill="none" stroke="#6DB31E" stroke-width="1.5" stroke-linejoin="round"/>
<polyline points="530.73,296.95 532.37,296.57 534.00,296.03 535.64,295.65 537.28,295.29 538.91,294.83 540.55,294.42 542.19,293.97 543.82,293.47 545.46,293.16 547.10,292.58 548.73,292.12 550.37,291.53 552.00,290.85 553.64,290.29 555.28,289.67 556.91,289.15 558.55,288.59 560.19,287.80 561.82,287.19 563.46,286.60 565.10,285.87 566.73,285.22 568.37,284.38 570.00,283.73 571.64,283.13 573.28,282.39 574.91,281.64 576.55,280.97 578.19,280.25 579.82,279.62 581.46,278.82 583.10,277.98 584.73,277.22 586.37,276.42 588.00,275.59 589.64,274.83 591.28,274.06 592.91,273.29 594.55,272.56 596.19,271.78 597.82,271.15 599.46,270.27 601.10,269.46 602.73,268.52 604.37,267.72 606.00,266.81 607.64,265.95 609.28,265.17 610.91,264.34 612.55,263.58 614.19,262.72 615.82,261.76 617.46,261.01 619.10,260.16 620.73,259.30 622.37,258.63 624.00,257.73 625.64,257.00 627.28,256.41 628.91,255.58 630.55,254.78 632.19,253.79 633.82,252.67 635.46,251.75 637.10,250.95 638.73,250.01 640.37,249.18 642.00,248.50 643.64,247.66 645.28,246.94 646.91,246.26 648.55,245.52 650.19,244.44 651.82,243.67 653.46,242.76 655.10,241.99 656.73,241.26 658.37,240.51 660.00,239.68 661.64,239.40 663.28,238.73 664.91,238.28 666.55,237.74 668.19,237.13 669.82,236.65 671.46,235.92 673.10,235.32 674.73,234.70 676.37,234.02" fill="none" stroke="#FF8C00" stroke-width="1.5" stroke-linejoin="round"/>
<rect x="523.45" y="161.9" width="160.2" height="165.8" fill="none" stroke="#333333" stroke-width="1.1"/>
<rect x="523.45" y="138.6" width="160.2" height="23.3" fill="#CCCCCC" stroke="#333333" stroke-width="1.1"/>
<text transform="translate(603.55,153.05) scale(0.926,1)" text-anchor="middle" font-family='"Liberation Sans", sans-serif' font-size="9.72" fill="#1A1A1A">Pattern 4<tspan dx="12.2" dy="-1" font-family='"Liberation Serif", serif' font-style="italic" font-size="10.8">ψ</tspan><tspan dy="1"> = 0</tspan></text>
<rect x="21.1" y="358.3" width="160.2" height="166" fill="#fff"/>
<line x1="21.1" x2="181.3" y1="493.5" y2="493.5" stroke="#D4D4D4" stroke-width="0.9" stroke-dasharray="2.6 1.8"/>
<line x1="21.1" x2="181.3" y1="458.45" y2="458.45" stroke="#D4D4D4" stroke-width="0.9" stroke-dasharray="2.6 1.8"/>
<line x1="21.1" x2="181.3" y1="423.4" y2="423.4" stroke="#D4D4D4" stroke-width="0.9" stroke-dasharray="2.6 1.8"/>
<line x1="21.1" x2="181.3" y1="388.35" y2="388.35" stroke="#D4D4D4" stroke-width="0.9" stroke-dasharray="2.6 1.8"/>
<line x1="28.38" x2="28.38" y1="524.3" y2="358.3" stroke="#D4D4D4" stroke-width="0.9" stroke-dasharray="2.6 1.8"/>
<line x1="64.79" x2="64.79" y1="524.3" y2="358.3" stroke="#D4D4D4" stroke-width="0.9" stroke-dasharray="2.6 1.8"/>
<line x1="101.2" x2="101.2" y1="524.3" y2="358.3" stroke="#D4D4D4" stroke-width="0.9" stroke-dasharray="2.6 1.8"/>
<line x1="137.61" x2="137.61" y1="524.3" y2="358.3" stroke="#D4D4D4" stroke-width="0.9" stroke-dasharray="2.6 1.8"/>
<line x1="174.02" x2="174.02" y1="524.3" y2="358.3" stroke="#D4D4D4" stroke-width="0.9" stroke-dasharray="2.6 1.8"/>
<path d="M27.7 442.4h1.4M27.9 443.9h1.4M28.2 439.1h1.4M28.5 441.3h1.4M28.7 440.1h1.4M29.0 441.7h1.4M29.2 441.8h1.4M29.5 442.6h1.4M29.8 443.2h1.4M30.0 441.9h1.4M30.3 442.6h1.4M30.5 443.1h1.4M30.8 444.9h1.4M31.1 443.3h1.4M31.3 441.9h1.4M31.6 443.5h1.4M31.9 442.3h1.4M32.1 443.0h1.4M32.4 444.4h1.4M32.6 444.2h1.4M32.9 443.9h1.4M33.2 443.3h1.4M33.4 443.2h1.4M33.7 441.1h1.4M33.9 444.4h1.4M34.2 445.9h1.4M34.5 441.8h1.4M34.7 443.5h1.4M35.0 443.0h1.4M35.2 439.0h1.4M35.5 440.6h1.4M35.8 441.9h1.4M36.0 441.4h1.4M36.3 442.6h1.4M36.5 441.3h1.4M36.8 443.7h1.4M37.1 443.9h1.4M37.3 443.5h1.4M37.6 440.4h1.4M37.8 440.4h1.4M38.1 443.7h1.4M38.4 441.0h1.4M38.6 443.0h1.4M38.9 441.2h1.4M39.1 443.3h1.4M39.4 441.3h1.4M39.7 442.9h1.4M39.9 443.2h1.4M40.2 442.8h1.4M40.4 442.5h1.4M40.7 443.6h1.4M41.0 444.8h1.4M41.2 440.2h1.4M41.5 443.4h1.4M41.8 445.5h1.4M42.0 446.2h1.4M42.3 447.0h1.4M42.5 443.7h1.4M42.8 440.7h1.4M43.1 445.2h1.4M43.3 443.2h1.4M43.6 445.5h1.4M43.8 441.1h1.4M44.1 442.2h1.4M44.4 442.3h1.4M44.6 440.7h1.4M44.9 440.3h1.4M45.1 441.2h1.4M45.4 443.6h1.4M45.7 444.7h1.4M45.9 444.3h1.4M46.2 445.4h1.4M46.4 440.0h1.4M46.7 443.0h1.4M47.0 442.5h1.4M47.2 442.4h1.4M47.5 439.7h1.4M47.7 443.6h1.4M48.0 440.9h1.4M48.3 442.3h1.4M48.5 443.0h1.4M48.8 445.6h1.4M49.0 441.3h1.4M49.3 443.9h1.4M49.6 443.4h1.4M49.8 442.4h1.4M50.1 442.6h1.4M50.3 441.0h1.4M50.6 443.7h1.4M50.9 442.5h1.4M51.1 442.3h1.4M51.4 442.7h1.4M51.7 441.7h1.4M51.9 443.1h1.4M52.2 440.9h1.4M52.4 443.8h1.4M52.7 444.9h1.4M53.0 442.8h1.4M53.2 440.9h1.4M53.5 443.5h1.4M53.7 443.7h1.4M54.0 443.2h1.4M54.3 442.5h1.4M54.5 443.0h1.4M54.8 442.3h1.4M55.0 445.3h1.4M55.3 440.5h1.4M55.6 441.8h1.4M55.8 444.0h1.4M56.1 440.6h1.4M56.3 442.0h1.4M56.6 440.5h1.4M56.9 444.5h1.4M57.1 440.2h1.4M57.4 442.7h1.4M57.6 445.8h1.4M57.9 441.6h1.4M58.2 443.2h1.4M58.4 444.3h1.4M58.7 443.0h1.4M58.9 445.7h1.4M59.2 441.8h1.4M59.5 443.0h1.4M59.7 443.1h1.4M60.0 440.6h1.4M60.2 442.7h1.4M60.5 443.7h1.4M60.8 444.2h1.4M61.0 442.8h1.4M61.3 441.1h1.4M61.6 443.6h1.4M61.8 444.3h1.4M62.1 441.3h1.4M62.3 442.6h1.4M62.6 442.8h1.4M62.9 439.6h1.4M63.1 444.6h1.4M63.4 442.4h1.4M63.6 445.4h1.4M63.9 443.2h1.4M64.2 441.8h1.4M64.4 441.0h1.4M64.7 444.6h1.4M64.9 441.5h1.4M65.2 441.5h1.4M65.5 442.9h1.4M65.7 439.0h1.4M66.0 442.7h1.4M66.2 444.1h1.4M66.5 442.1h1.4M66.8 445.5h1.4M67.0 440.4h1.4M67.3 441.2h1.4M67.5 443.3h1.4M67.8 441.8h1.4M68.1 441.9h1.4M68.3 439.8h1.4M68.6 443.7h1.4M68.8 444.7h1.4M69.1 445.8h1.4M69.4 443.2h1.4M69.6 445.1h1.4M69.9 443.0h1.4M70.1 442.1h1.4M70.4 443.4h1.4M70.7 444.2h1.4M70.9 441.0h1.4M71.2 443.1h1.4M71.5 442.4h1.4M71.7 441.3h1.4M72.0 444.7h1.4M72.2 444.2h1.4M72.5 439.0h1.4M72.8 443.0h1.4M73.0 444.4h1.4M73.3 443.2h1.4M73.5 443.7h1.4M73.8 444.6h1.4M74.1 443.4h1.4M74.3 442.8h1.4M74.6 442.8h1.4M74.8 442.0h1.4M75.1 445.4h1.4M75.4 445.1h1.4M75.6 441.6h1.4M75.9 443.5h1.4M76.1 441.0h1.4M76.4 442.4h1.4M76.7 445.0h1.4M76.9 442.0h1.4M77.2 444.4h1.4M77.4 442.4h1.4M77.7 441.0h1.4M78.0 439.7h1.4M78.2 443.0h1.4M78.5 441.8h1.4M78.7 442.4h1.4M79.0 441.7h1.4M79.3 446.7h1.4M79.5 443.5h1.4M79.8 442.4h1.4M80.0 442.2h1.4M80.3 444.0h1.4M80.6 441.6h1.4M80.8 441.2h1.4M81.1 442.8h1.4M81.4 443.2h1.4M81.6 443.4h1.4M81.9 442.7h1.4M82.1 441.1h1.4M82.4 440.7h1.4M82.7 443.6h1.4M82.9 444.3h1.4M83.2 444.1h1.4M83.4 441.4h1.4M83.7 442.6h1.4M84.0 442.5h1.4M84.2 442.2h1.4M84.5 442.4h1.4M84.7 443.1h1.4M85.0 444.5h1.4M85.3 443.9h1.4M85.5 442.8h1.4M85.8 442.4h1.4M86.0 443.5h1.4M86.3 443.6h1.4M86.6 440.9h1.4M86.8 443.7h1.4M87.1 442.7h1.4M87.3 443.5h1.4M87.6 444.3h1.4M87.9 445.3h1.4M88.1 443.8h1.4M88.4 444.2h1.4M88.6 441.7h1.4M88.9 444.7h1.4M89.2 443.6h1.4M89.4 442.0h1.4M89.7 443.2h1.4M89.9 442.3h1.4M90.2 441.8h1.4M90.5 445.5h1.4M90.7 443.7h1.4M91.0 444.5h1.4M91.3 441.0h1.4M91.5 443.2h1.4M91.8 442.3h1.4M92.0 440.5h1.4M92.3 443.6h1.4M92.6 442.9h1.4M92.8 442.5h1.4M93.1 443.5h1.4M93.3 441.2h1.4M93.6 441.8h1.4M93.9 441.6h1.4M94.1 443.0h1.4M94.4 443.6h1.4M94.6 443.6h1.4M94.9 443.6h1.4M95.2 445.5h1.4M95.4 442.5h1.4M95.7 441.9h1.4M95.9 443.1h1.4M96.2 443.8h1.4M96.5 443.0h1.4M96.7 442.8h1.4M97.0 442.6h1.4M97.2 440.4h1.4M97.5 444.4h1.4M97.8 442.6h1.4M98.0 442.1h1.4M98.3 443.0h1.4M98.5 443.5h1.4M98.8 444.6h1.4M99.1 444.0h1.4M99.3 442.1h1.4M99.6 440.9h1.4M99.8 444.1h1.4M100.1 442.4h1.4M100.4 442.3h1.4M100.6 441.6h1.4M100.9 442.7h1.4M101.2 442.5h1.4M101.4 441.8h1.4M101.7 444.8h1.4M101.9 443.0h1.4M102.2 445.7h1.4M102.5 446.0h1.4M102.7 444.3h1.4M103.0 445.4h1.4M103.2 442.4h1.4M103.5 441.6h1.4M103.8 443.6h1.4M104.0 443.3h1.4M104.3 443.5h1.4M104.5 443.5h1.4M104.8 442.9h1.4M105.1 442.6h1.4M105.3 443.8h1.4M105.6 444.3h1.4M105.8 443.9h1.4M106.1 441.9h1.4M106.4 443.7h1.4M106.6 441.0h1.4M106.9 443.5h1.4M107.1 441.1h1.4M107.4 444.9h1.4M107.7 444.1h1.4M107.9 442.4h1.4M108.2 442.4h1.4M108.4 443.3h1.4M108.7 440.1h1.4M109.0 443.0h1.4M109.2 442.7h1.4M109.5 444.0h1.4M109.7 440.7h1.4M110.0 441.9h1.4M110.3 442.5h1.4M110.5 445.5h1.4M110.8 442.6h1.4M111.1 443.8h1.4M111.3 442.5h1.4M111.6 441.8h1.4M111.8 444.2h1.4M112.1 442.8h1.4M112.4 441.8h1.4M112.6 442.9h1.4M112.9 443.6h1.4M113.1 444.7h1.4M113.4 444.1h1.4M113.7 445.0h1.4M113.9 441.7h1.4M114.2 443.0h1.4M114.4 444.9h1.4M114.7 443.1h1.4M115.0 445.0h1.4M115.2 448.0h1.4M115.5 441.3h1.4M115.7 441.4h1.4M116.0 445.3h1.4M116.3 444.2h1.4M116.5 442.8h1.4M116.8 443.7h1.4M117.0 444.4h1.4M117.3 443.9h1.4M117.6 443.5h1.4M117.8 443.9h1.4M118.1 442.8h1.4M118.3 443.5h1.4M118.6 444.2h1.4M118.9 443.1h1.4M119.1 445.6h1.4M119.4 441.0h1.4M119.6 445.7h1.4M119.9 443.2h1.4M120.2 442.6h1.4M120.4 442.5h1.4M120.7 442.7h1.4M121.0 441.3h1.4M121.2 444.8h1.4M121.5 443.2h1.4M121.7 442.9h1.4M122.0 443.9h1.4M122.3 444.0h1.4M122.5 441.2h1.4M122.8 444.2h1.4M123.0 443.8h1.4M123.3 443.5h1.4M123.6 443.4h1.4M123.8 442.9h1.4M124.1 443.4h1.4M124.3 442.6h1.4M124.6 442.9h1.4M124.9 442.4h1.4M125.1 441.1h1.4M125.4 444.4h1.4M125.6 440.7h1.4M125.9 443.8h1.4M126.2 442.2h1.4M126.4 442.9h1.4M126.7 443.6h1.4M126.9 446.0h1.4M127.2 440.8h1.4M127.5 444.2h1.4M127.7 444.3h1.4M128.0 441.6h1.4M128.2 443.0h1.4M128.5 440.4h1.4M128.8 440.7h1.4M129.0 442.1h1.4M129.3 442.8h1.4M129.5 442.0h1.4M129.8 445.1h1.4M130.1 442.9h1.4M130.3 442.9h1.4M130.6 443.8h1.4M130.9 442.8h1.4M131.1 445.3h1.4M131.4 441.8h1.4M131.6 441.3h1.4M131.9 445.0h1.4M132.2 442.9h1.4M132.4 440.9h1.4M132.7 442.5h1.4M132.9 444.6h1.4M133.2 444.6h1.4M133.5 441.9h1.4M133.7 440.5h1.4M134.0 444.7h1.4M134.2 443.1h1.4M134.5 444.3h1.4M134.8 443.6h1.4M135.0 442.7h1.4M135.3 443.2h1.4M135.5 444.1h1.4M135.8 440.1h1.4M136.1 443.4h1.4M136.3 443.4h1.4M136.6 441.5h1.4M136.8 443.1h1.4M137.1 443.4h1.4M137.4 441.8h1.4M137.6 444.6h1.4M137.9 442.0h1.4M138.1 441.6h1.4M138.4 442.2h1.4M138.7 443.4h1.4M138.9 443.1h1.4M139.2 445.6h1.4M139.4 443.3h1.4M139.7 442.7h1.4M140.0 441.9h1.4M140.2 442.9h1.4M140.5 443.7h1.4M140.8 444.4h1.4M141.0 443.2h1.4M141.3 442.9h1.4M141.5 441.4h1.4M141.8 443.1h1.4M142.1 443.9h1.4M142.3 443.3h1.4M142.6 443.8h1.4M142.8 443.5h1.4M143.1 446.3h1.4M143.4 445.4h1.4M143.6 444.9h1.4M143.9 442.5h1.4M144.1 443.2h1.4M144.4 442.9h1.4M144.7 441.4h1.4M144.9 444.6h1.4M145.2 441.5h1.4M145.4 442.6h1.4M145.7 444.2h1.4M146.0 441.0h1.4M146.2 445.2h1.4M146.5 444.7h1.4M146.7 443.4h1.4M147.0 442.5h1.4M147.3 443.4h1.4M147.5 446.2h1.4M147.8 443.5h1.4M148.0 443.2h1.4M148.3 439.4h1.4M148.6 441.1h1.4M148.8 442.9h1.4M149.1 444.7h1.4M149.3 442.6h1.4M149.6 444.8h1.4M149.9 442.8h1.4M150.1 442.6h1.4M150.4 443.7h1.4M150.7 442.7h1.4M150.9 443.6h1.4M151.2 443.9h1.4M151.4 440.9h1.4M151.7 442.2h1.4M152.0 443.5h1.4M152.2 444.2h1.4M152.5 442.8h1.4M152.7 442.3h1.4M153.0 441.8h1.4M153.3 440.9h1.4M153.5 442.4h1.4M153.8 444.7h1.4M154.0 440.1h1.4M154.3 441.4h1.4M154.6 441.9h1.4M154.8 441.1h1.4M155.1 445.2h1.4M155.3 443.6h1.4M155.6 443.8h1.4M155.9 441.3h1.4M156.1 444.8h1.4M156.4 443.5h1.4M156.6 440.8h1.4M156.9 442.1h1.4M157.2 443.6h1.4M157.4 440.3h1.4M157.7 445.0h1.4M157.9 442.4h1.4M158.2 443.4h1.4M158.5 442.3h1.4M158.7 443.4h1.4M159.0 444.2h1.4M159.2 442.7h1.4M159.5 444.9h1.4M159.8 442.2h1.4M160.0 443.5h1.4M160.3 441.7h1.4M160.6 443.7h1.4M160.8 444.0h1.4M161.1 442.4h1.4M161.3 441.2h1.4M161.6 446.0h1.4M161.9 442.8h1.4M162.1 442.1h1.4M162.4 445.0h1.4M162.6 444.3h1.4M162.9 442.1h1.4M163.2 444.2h1.4M163.4 443.9h1.4M163.7 440.5h1.4M163.9 444.3h1.4M164.2 444.2h1.4M164.5 446.3h1.4M164.7 444.6h1.4M165.0 444.7h1.4M165.2 440.5h1.4M165.5 441.2h1.4M165.8 444.8h1.4M166.0 440.1h1.4M166.3 441.8h1.4M166.5 443.2h1.4M166.8 441.8h1.4M167.1 442.4h1.4M167.3 444.0h1.4M167.6 445.5h1.4M167.8 444.3h1.4M168.1 442.9h1.4M168.4 443.4h1.4M168.6 444.0h1.4M168.9 441.5h1.4M169.1 444.5h1.4M169.4 441.6h1.4M169.7 443.6h1.4M169.9 442.8h1.4M170.2 444.5h1.4M170.5 442.9h1.4M170.7 444.0h1.4M171.0 445.4h1.4M171.2 442.9h1.4M171.5 443.0h1.4M171.8 441.7h1.4M172.0 442.5h1.4M172.3 444.4h1.4M172.5 443.8h1.4M172.8 446.5h1.4M173.1 444.5h1.4M173.3 441.0h1.4" fill="none" stroke="#000000" stroke-opacity="0.3" stroke-width="1.2"/>
<path d="M27.7 396.6h1.4M27.9 397.9h1.4M28.2 398.7h1.4M28.5 398.2h1.4M28.7 398.4h1.4M29.0 402.2h1.4M29.2 400.7h1.4M29.5 397.2h1.4M29.8 397.2h1.4M30.0 398.8h1.4M30.3 399.8h1.4M30.5 399.9h1.4M30.8 400.2h1.4M31.1 400.9h1.4M31.3 402.6h1.4M31.6 399.0h1.4M31.9 400.1h1.4M32.1 399.7h1.4M32.4 396.4h1.4M32.6 398.3h1.4M32.9 400.5h1.4M33.2 398.3h1.4M33.4 401.9h1.4M33.7 397.5h1.4M33.9 398.9h1.4M34.2 399.7h1.4M34.5 398.4h1.4M34.7 396.9h1.4M35.0 400.2h1.4M35.2 401.1h1.4M35.5 395.8h1.4M35.8 399.4h1.4M36.0 396.8h1.4M36.3 400.6h1.4M36.5 398.8h1.4M36.8 400.5h1.4M37.1 398.3h1.4M37.3 399.9h1.4M37.6 400.6h1.4M37.8 396.8h1.4M38.1 398.9h1.4M38.4 402.9h1.4M38.6 399.9h1.4M38.9 401.0h1.4M39.1 401.6h1.4M39.4 400.5h1.4M39.7 400.3h1.4M39.9 399.4h1.4M40.2 400.9h1.4M40.4 402.7h1.4M40.7 400.4h1.4M41.0 398.0h1.4M41.2 401.9h1.4M41.5 398.5h1.4M41.8 398.7h1.4M42.0 400.3h1.4M42.3 399.0h1.4M42.5 400.8h1.4M42.8 400.2h1.4M43.1 401.3h1.4M43.3 398.8h1.4M43.6 397.2h1.4M43.8 400.7h1.4M44.1 397.5h1.4M44.4 403.3h1.4M44.6 401.1h1.4M44.9 401.3h1.4M45.1 396.6h1.4M45.4 400.6h1.4M45.7 398.3h1.4M45.9 403.2h1.4M46.2 399.4h1.4M46.4 398.6h1.4M46.7 399.7h1.4M47.0 404.3h1.4M47.2 399.3h1.4M47.5 398.2h1.4M47.7 397.4h1.4M48.0 399.0h1.4M48.3 402.6h1.4M48.5 400.0h1.4M48.8 398.1h1.4M49.0 401.1h1.4M49.3 398.7h1.4M49.6 400.5h1.4M49.8 399.5h1.4M50.1 398.4h1.4M50.3 400.9h1.4M50.6 394.7h1.4M50.9 399.4h1.4M51.1 399.1h1.4M51.4 401.0h1.4M51.7 399.6h1.4M51.9 400.2h1.4M52.2 402.3h1.4M52.4 402.4h1.4M52.7 399.2h1.4M53.0 399.9h1.4M53.2 404.3h1.4M53.5 403.5h1.4M53.7 400.3h1.4M54.0 399.9h1.4M54.3 398.7h1.4M54.5 401.9h1.4M54.8 398.8h1.4M55.0 400.3h1.4M55.3 400.7h1.4M55.6 400.0h1.4M55.8 398.1h1.4M56.1 398.8h1.4M56.3 398.3h1.4M56.6 401.0h1.4M56.9 400.3h1.4M57.1 401.8h1.4M57.4 400.8h1.4M57.6 400.5h1.4M57.9 400.6h1.4M58.2 398.6h1.4M58.4 399.1h1.4M58.7 398.5h1.4M58.9 399.6h1.4M59.2 398.0h1.4M59.5 399.7h1.4M59.7 398.2h1.4M60.0 399.0h1.4M60.2 398.6h1.4M60.5 400.0h1.4M60.8 402.0h1.4M61.0 402.4h1.4M61.3 396.5h1.4M61.6 399.2h1.4M61.8 399.1h1.4M62.1 400.2h1.4M62.3 400.7h1.4M62.6 394.9h1.4M62.9 401.8h1.4M63.1 400.0h1.4M63.4 400.0h1.4M63.6 401.9h1.4M63.9 402.1h1.4M64.2 401.1h1.4M64.4 400.5h1.4M64.7 400.8h1.4M64.9 398.5h1.4M65.2 402.0h1.4M65.5 399.2h1.4M65.7 397.4h1.4M66.0 398.4h1.4M66.2 401.9h1.4M66.5 405.1h1.4M66.8 398.5h1.4M67.0 399.1h1.4M67.3 401.0h1.4M67.5 397.7h1.4M67.8 400.7h1.4M68.1 399.8h1.4M68.3 401.8h1.4M68.6 399.4h1.4M68.8 400.7h1.4M69.1 400.9h1.4M69.4 398.1h1.4M69.6 399.6h1.4M69.9 402.6h1.4M70.1 398.8h1.4M70.4 398.5h1.4M70.7 401.4h1.4M70.9 400.7h1.4M71.2 399.9h1.4M71.5 400.4h1.4M71.7 399.8h1.4M72.0 398.9h1.4M72.2 400.9h1.4M72.5 396.4h1.4M72.8 401.3h1.4M73.0 401.0h1.4M73.3 396.6h1.4M73.5 395.9h1.4M73.8 400.0h1.4M74.1 400.4h1.4M74.3 401.9h1.4M74.6 398.1h1.4M74.8 399.8h1.4M75.1 401.5h1.4M75.4 399.4h1.4M75.6 397.7h1.4M75.9 398.9h1.4M76.1 396.2h1.4M76.4 398.1h1.4M76.7 399.3h1.4M76.9 400.1h1.4M77.2 399.1h1.4M77.4 398.0h1.4M77.7 398.6h1.4M78.0 398.3h1.4M78.2 399.7h1.4M78.5 398.8h1.4M78.7 398.0h1.4M79.0 400.4h1.4M79.3 402.4h1.4M79.5 397.1h1.4M79.8 399.1h1.4M80.0 400.9h1.4M80.3 399.7h1.4M80.6 400.6h1.4M80.8 403.1h1.4M81.1 400.5h1.4M81.4 402.6h1.4M81.6 399.8h1.4M81.9 400.3h1.4M82.1 398.2h1.4M82.4 400.4h1.4M82.7 399.5h1.4M82.9 400.7h1.4M83.2 400.8h1.4M83.4 402.6h1.4M83.7 398.4h1.4M84.0 399.9h1.4M84.2 401.2h1.4M84.5 399.8h1.4M84.7 400.9h1.4M85.0 401.4h1.4M85.3 399.7h1.4M85.5 398.1h1.4M85.8 400.7h1.4M86.0 402.7h1.4M86.3 401.3h1.4M86.6 397.1h1.4M86.8 401.6h1.4M87.1 398.1h1.4M87.3 400.6h1.4M87.6 398.9h1.4M87.9 400.4h1.4M88.1 402.9h1.4M88.4 400.9h1.4M88.6 396.5h1.4M88.9 400.4h1.4M89.2 399.2h1.4M89.4 400.8h1.4M89.7 400.5h1.4M89.9 399.7h1.4M90.2 399.4h1.4M90.5 396.4h1.4M90.7 400.3h1.4M91.0 400.5h1.4M91.3 401.4h1.4M91.5 402.5h1.4M91.8 403.0h1.4M92.0 399.1h1.4M92.3 403.5h1.4M92.6 397.8h1.4M92.8 398.7h1.4M93.1 400.8h1.4M93.3 402.2h1.4M93.6 400.2h1.4M93.9 400.2h1.4M94.1 398.3h1.4M94.4 401.5h1.4M94.6 400.9h1.4M94.9 400.3h1.4M95.2 400.7h1.4M95.4 401.3h1.4M95.7 403.2h1.4M95.9 403.1h1.4M96.2 401.4h1.4M96.5 400.6h1.4M96.7 398.5h1.4M97.0 396.2h1.4M97.2 397.3h1.4M97.5 399.6h1.4M97.8 397.0h1.4M98.0 400.5h1.4M98.3 401.2h1.4M98.5 396.2h1.4M98.8 402.1h1.4M99.1 401.0h1.4M99.3 400.7h1.4M99.6 397.7h1.4M99.8 401.3h1.4M100.1 398.9h1.4M100.4 401.0h1.4M100.6 402.4h1.4M100.9 399.9h1.4M101.2 400.0h1.4M101.4 402.3h1.4M101.7 401.8h1.4M101.9 401.6h1.4M102.2 398.6h1.4M102.5 399.5h1.4M102.7 399.8h1.4M103.0 399.4h1.4M103.2 401.1h1.4M103.5 399.4h1.4M103.8 401.3h1.4M104.0 402.6h1.4M104.3 401.5h1.4M104.5 399.9h1.4M104.8 400.1h1.4M105.1 398.4h1.4M105.3 403.2h1.4M105.6 400.6h1.4M105.8 399.6h1.4M106.1 401.9h1.4M106.4 399.8h1.4M106.6 401.0h1.4M106.9 402.2h1.4M107.1 398.3h1.4M107.4 402.7h1.4M107.7 398.5h1.4M107.9 401.0h1.4M108.2 401.9h1.4M108.4 401.8h1.4M108.7 401.5h1.4M109.0 401.7h1.4M109.2 399.8h1.4M109.5 403.5h1.4M109.7 398.1h1.4M110.0 398.8h1.4M110.3 397.8h1.4M110.5 402.0h1.4M110.8 404.3h1.4M111.1 401.3h1.4M111.3 400.5h1.4M111.6 399.7h1.4M111.8 401.2h1.4M112.1 400.4h1.4M112.4 400.0h1.4M112.6 402.9h1.4M112.9 397.1h1.4M113.1 402.2h1.4M113.4 399.8h1.4M113.7 398.4h1.4M113.9 401.6h1.4M114.2 400.2h1.4M114.4 397.4h1.4M114.7 400.7h1.4M115.0 398.4h1.4M115.2 399.7h1.4M115.5 399.9h1.4M115.7 399.0h1.4M116.0 400.6h1.4M116.3 400.6h1.4M116.5 398.6h1.4M116.8 399.8h1.4M117.0 399.4h1.4M117.3 402.3h1.4M117.6 400.2h1.4M117.8 398.1h1.4M118.1 398.7h1.4M118.3 399.6h1.4M118.6 401.1h1.4M118.9 401.3h1.4M119.1 399.5h1.4M119.4 397.8h1.4M119.6 400.2h1.4M119.9 398.0h1.4M120.2 400.8h1.4M120.4 398.2h1.4M120.7 402.0h1.4M121.0 399.9h1.4M121.2 402.1h1.4M121.5 399.1h1.4M121.7 399.2h1.4M122.0 401.9h1.4M122.3 401.5h1.4M122.5 401.0h1.4M122.8 402.8h1.4M123.0 401.8h1.4M123.3 401.7h1.4M123.6 398.9h1.4M123.8 397.8h1.4M124.1 401.0h1.4M124.3 400.7h1.4M124.6 399.9h1.4M124.9 401.1h1.4M125.1 400.7h1.4M125.4 398.8h1.4M125.6 399.8h1.4M125.9 400.4h1.4M126.2 401.2h1.4M126.4 397.7h1.4M126.7 401.3h1.4M126.9 400.0h1.4M127.2 402.0h1.4M127.5 401.3h1.4M127.7 400.1h1.4M128.0 400.9h1.4M128.2 399.3h1.4M128.5 400.1h1.4M128.8 402.6h1.4M129.0 404.2h1.4M129.3 398.5h1.4M129.5 401.3h1.4M129.8 397.7h1.4M130.1 400.2h1.4M130.3 401.6h1.4M130.6 399.3h1.4M130.9 400.7h1.4M131.1 400.2h1.4M131.4 401.9h1.4M131.6 399.1h1.4M131.9 398.3h1.4M132.2 401.2h1.4M132.4 397.1h1.4M132.7 401.2h1.4M132.9 399.8h1.4M133.2 403.1h1.4M133.5 403.6h1.4M133.7 396.6h1.4M134.0 397.8h1.4M134.2 398.3h1.4M134.5 403.2h1.4M134.8 399.9h1.4M135.0 399.5h1.4M135.3 400.1h1.4M135.5 399.7h1.4M135.8 401.8h1.4M136.1 400.5h1.4M136.3 402.2h1.4M136.6 400.9h1.4M136.8 399.6h1.4M137.1 401.6h1.4M137.4 400.7h1.4M137.6 401.0h1.4M137.9 400.2h1.4M138.1 398.6h1.4M138.4 399.8h1.4M138.7 399.6h1.4M138.9 402.7h1.4M139.2 400.9h1.4M139.4 398.8h1.4M139.7 401.7h1.4M140.0 401.0h1.4M140.2 401.9h1.4M140.5 397.9h1.4M140.8 401.0h1.4M141.0 401.5h1.4M141.3 399.2h1.4M141.5 398.3h1.4M141.8 399.4h1.4M142.1 398.6h1.4M142.3 399.9h1.4M142.6 400.5h1.4M142.8 401.0h1.4M143.1 401.1h1.4M143.4 401.3h1.4M143.6 399.6h1.4M143.9 400.5h1.4M144.1 400.1h1.4M144.4 399.2h1.4M144.7 400.4h1.4M144.9 402.7h1.4M145.2 401.7h1.4M145.4 402.2h1.4M145.7 403.6h1.4M146.0 400.1h1.4M146.2 402.4h1.4M146.5 402.5h1.4M146.7 402.2h1.4M147.0 398.8h1.4M147.3 400.8h1.4M147.5 398.6h1.4M147.8 400.5h1.4M148.0 401.1h1.4M148.3 399.3h1.4M148.6 399.3h1.4M148.8 400.1h1.4M149.1 402.1h1.4M149.3 401.1h1.4M149.6 402.4h1.4M149.9 400.8h1.4M150.1 400.2h1.4M150.4 397.7h1.4M150.7 397.9h1.4M150.9 399.2h1.4M151.2 398.7h1.4M151.4 399.9h1.4M151.7 395.5h1.4M152.0 397.7h1.4M152.2 395.7h1.4M152.5 399.7h1.4M152.7 399.6h1.4M153.0 398.5h1.4M153.3 400.0h1.4M153.5 399.8h1.4M153.8 402.1h1.4M154.0 398.7h1.4M154.3 400.1h1.4M154.6 399.0h1.4M154.8 400.8h1.4M155.1 403.5h1.4M155.3 399.5h1.4M155.6 398.4h1.4M155.9 402.6h1.4M156.1 402.1h1.4M156.4 400.9h1.4M156.6 400.8h1.4M156.9 403.3h1.4M157.2 397.3h1.4M157.4 398.6h1.4M157.7 401.5h1.4M157.9 403.6h1.4M158.2 399.8h1.4M158.5 397.0h1.4M158.7 399.0h1.4M159.0 398.4h1.4M159.2 402.1h1.4M159.5 400.0h1.4M159.8 403.0h1.4M160.0 397.0h1.4M160.3 399.4h1.4M160.6 404.1h1.4M160.8 403.7h1.4M161.1 399.6h1.4M161.3 400.2h1.4M161.6 401.0h1.4M161.9 399.4h1.4M162.1 397.0h1.4M162.4 399.8h1.4M162.6 403.6h1.4M162.9 400.7h1.4M163.2 402.8h1.4M163.4 401.9h1.4M163.7 399.9h1.4M163.9 400.8h1.4M164.2 402.3h1.4M164.5 400.5h1.4M164.7 401.9h1.4M165.0 399.6h1.4M165.2 400.9h1.4M165.5 399.8h1.4M165.8 401.0h1.4M166.0 399.2h1.4M166.3 400.8h1.4M166.5 400.6h1.4M166.8 401.5h1.4M167.1 400.3h1.4M167.3 403.6h1.4M167.6 395.9h1.4M167.8 401.7h1.4M168.1 400.4h1.4M168.4 401.4h1.4M168.6 401.4h1.4M168.9 399.9h1.4M169.1 401.5h1.4M169.4 401.3h1.4M169.7 403.0h1.4M169.9 402.2h1.4M170.2 402.6h1.4M170.5 397.5h1.4M170.7 402.9h1.4M171.0 402.5h1.4M171.2 400.3h1.4M171.5 398.1h1.4M171.8 403.6h1.4M172.0 403.3h1.4M172.3 400.4h1.4M172.5 400.0h1.4M172.8 403.1h1.4M173.1 403.8h1.4M173.3 402.3h1.4" fill="none" stroke="#1565D2" stroke-opacity="0.3" stroke-width="1.2"/>
<path d="M27.7 407.8h1.4M27.9 409.1h1.4M28.2 407.8h1.4M28.5 409.2h1.4M28.7 409.1h1.4M29.0 408.0h1.4M29.2 409.3h1.4M29.5 408.7h1.4M29.8 410.6h1.4M30.0 410.1h1.4M30.3 408.3h1.4M30.5 409.5h1.4M30.8 410.3h1.4M31.1 407.9h1.4M31.3 408.1h1.4M31.6 409.1h1.4M31.9 410.3h1.4M32.1 407.5h1.4M32.4 404.8h1.4M32.6 410.5h1.4M32.9 411.7h1.4M33.2 410.4h1.4M33.4 410.6h1.4M33.7 411.2h1.4M33.9 411.1h1.4M34.2 407.6h1.4M34.5 407.6h1.4M34.7 406.6h1.4M35.0 407.8h1.4M35.2 409.9h1.4M35.5 407.2h1.4M35.8 410.1h1.4M36.0 409.7h1.4M36.3 411.1h1.4M36.5 407.0h1.4M36.8 407.4h1.4M37.1 409.9h1.4M37.3 409.6h1.4M37.6 409.0h1.4M37.8 408.7h1.4M38.1 407.6h1.4M38.4 409.0h1.4M38.6 408.4h1.4M38.9 411.6h1.4M39.1 409.6h1.4M39.4 412.1h1.4M39.7 406.1h1.4M39.9 406.7h1.4M40.2 407.9h1.4M40.4 407.2h1.4M40.7 405.7h1.4M41.0 407.5h1.4M41.2 411.8h1.4M41.5 409.4h1.4M41.8 413.1h1.4M42.0 410.5h1.4M42.3 411.2h1.4M42.5 409.1h1.4M42.8 408.4h1.4M43.1 410.7h1.4M43.3 409.6h1.4M43.6 408.6h1.4M43.8 409.3h1.4M44.1 409.4h1.4M44.4 413.2h1.4M44.6 409.8h1.4M44.9 407.7h1.4M45.1 408.6h1.4M45.4 411.6h1.4M45.7 409.5h1.4M45.9 408.6h1.4M46.2 410.7h1.4M46.4 407.9h1.4M46.7 410.4h1.4M47.0 409.7h1.4M47.2 409.3h1.4M47.5 405.3h1.4M47.7 409.6h1.4M48.0 410.1h1.4M48.3 407.9h1.4M48.5 409.9h1.4M48.8 408.8h1.4M49.0 412.9h1.4M49.3 408.6h1.4M49.6 409.1h1.4M49.8 411.3h1.4M50.1 406.8h1.4M50.3 409.5h1.4M50.6 409.4h1.4M50.9 411.3h1.4M51.1 411.8h1.4M51.4 410.1h1.4M51.7 411.7h1.4M51.9 408.3h1.4M52.2 407.6h1.4M52.4 410.2h1.4M52.7 411.8h1.4M53.0 409.8h1.4M53.2 410.9h1.4M53.5 408.8h1.4M53.7 408.8h1.4M54.0 409.8h1.4M54.3 409.0h1.4M54.5 407.3h1.4M54.8 406.2h1.4M55.0 410.0h1.4M55.3 407.9h1.4M55.6 409.5h1.4M55.8 410.9h1.4M56.1 406.9h1.4M56.3 408.4h1.4M56.6 408.9h1.4M56.9 408.5h1.4M57.1 409.4h1.4M57.4 410.9h1.4M57.6 406.1h1.4M57.9 407.6h1.4M58.2 408.7h1.4M58.4 407.5h1.4M58.7 406.9h1.4M58.9 409.4h1.4M59.2 408.1h1.4M59.5 409.6h1.4M59.7 408.0h1.4M60.0 409.5h1.4M60.2 405.0h1.4M60.5 409.7h1.4M60.8 408.2h1.4M61.0 408.3h1.4M61.3 409.7h1.4M61.6 407.5h1.4M61.8 409.2h1.4M62.1 409.8h1.4M62.3 409.1h1.4M62.6 410.4h1.4M62.9 407.1h1.4M63.1 408.0h1.4M63.4 407.4h1.4M63.6 411.4h1.4M63.9 408.6h1.4M64.2 410.4h1.4M64.4 409.0h1.4M64.7 406.9h1.4M64.9 408.7h1.4M65.2 409.4h1.4M65.5 407.2h1.4M65.7 407.4h1.4M66.0 406.0h1.4M66.2 412.3h1.4M66.5 408.5h1.4M66.8 409.8h1.4M67.0 410.6h1.4M67.3 408.9h1.4M67.5 411.1h1.4M67.8 412.9h1.4M68.1 410.6h1.4M68.3 409.5h1.4M68.6 405.9h1.4M68.8 410.3h1.4M69.1 411.1h1.4M69.4 412.5h1.4M69.6 409.7h1.4M69.9 409.5h1.4M70.1 408.9h1.4M70.4 411.6h1.4M70.7 410.4h1.4M70.9 413.0h1.4M71.2 408.8h1.4M71.5 411.8h1.4M71.7 413.8h1.4M72.0 407.1h1.4M72.2 408.3h1.4M72.5 408.5h1.4M72.8 408.5h1.4M73.0 410.9h1.4M73.3 407.3h1.4M73.5 410.9h1.4M73.8 405.9h1.4M74.1 408.7h1.4M74.3 412.2h1.4M74.6 407.6h1.4M74.8 405.8h1.4M75.1 409.6h1.4M75.4 407.3h1.4M75.6 409.5h1.4M75.9 410.2h1.4M76.1 413.5h1.4M76.4 407.0h1.4M76.7 409.9h1.4M76.9 408.5h1.4M77.2 411.1h1.4M77.4 410.7h1.4M77.7 407.2h1.4M78.0 409.8h1.4M78.2 409.8h1.4M78.5 411.3h1.4M78.7 408.8h1.4M79.0 407.8h1.4M79.3 409.9h1.4M79.5 409.5h1.4M79.8 411.2h1.4M80.0 406.8h1.4M80.3 410.2h1.4M80.6 409.4h1.4M80.8 406.3h1.4M81.1 409.5h1.4M81.4 411.8h1.4M81.6 410.7h1.4M81.9 409.8h1.4M82.1 406.1h1.4M82.4 408.8h1.4M82.7 409.5h1.4M82.9 407.7h1.4M83.2 406.9h1.4M83.4 410.4h1.4M83.7 406.7h1.4M84.0 407.7h1.4M84.2 408.4h1.4M84.5 413.2h1.4M84.7 408.8h1.4M85.0 406.8h1.4M85.3 409.6h1.4M85.5 405.2h1.4M85.8 409.0h1.4M86.0 410.9h1.4M86.3 408.2h1.4M86.6 408.7h1.4M86.8 407.7h1.4M87.1 409.5h1.4M87.3 406.9h1.4M87.6 410.1h1.4M87.9 408.9h1.4M88.1 411.3h1.4M88.4 410.5h1.4M88.6 408.8h1.4M88.9 410.3h1.4M89.2 409.9h1.4M89.4 409.5h1.4M89.7 408.7h1.4M89.9 407.9h1.4M90.2 407.9h1.4M90.5 407.4h1.4M90.7 408.8h1.4M91.0 410.1h1.4M91.3 411.9h1.4M91.5 409.8h1.4M91.8 410.5h1.4M92.0 412.3h1.4M92.3 406.4h1.4M92.6 412.3h1.4M92.8 408.6h1.4M93.1 408.2h1.4M93.3 409.6h1.4M93.6 404.8h1.4M93.9 409.2h1.4M94.1 410.5h1.4M94.4 406.2h1.4M94.6 410.6h1.4M94.9 411.7h1.4M95.2 410.9h1.4M95.4 410.3h1.4M95.7 409.1h1.4M95.9 408.6h1.4M96.2 411.8h1.4M96.5 408.6h1.4M96.7 405.4h1.4M97.0 410.4h1.4M97.2 409.4h1.4M97.5 408.0h1.4M97.8 407.2h1.4M98.0 410.4h1.4M98.3 410.9h1.4M98.5 411.0h1.4M98.8 407.3h1.4M99.1 407.7h1.4M99.3 413.0h1.4M99.6 412.9h1.4M99.8 411.4h1.4M100.1 411.8h1.4M100.4 408.5h1.4M100.6 408.9h1.4M100.9 405.9h1.4M101.2 407.9h1.4M101.4 409.0h1.4M101.7 407.2h1.4M101.9 410.8h1.4M102.2 411.7h1.4M102.5 409.2h1.4M102.7 407.6h1.4M103.0 412.0h1.4M103.2 407.7h1.4M103.5 407.8h1.4M103.8 410.1h1.4M104.0 409.0h1.4M104.3 409.7h1.4M104.5 409.1h1.4M104.8 407.9h1.4M105.1 410.7h1.4M105.3 407.5h1.4M105.6 407.8h1.4M105.8 407.7h1.4M106.1 412.7h1.4M106.4 412.5h1.4M106.6 408.1h1.4M106.9 410.3h1.4M107.1 410.5h1.4M107.4 410.6h1.4M107.7 411.6h1.4M107.9 409.8h1.4M108.2 410.5h1.4M108.4 410.4h1.4M108.7 408.5h1.4M109.0 411.3h1.4M109.2 407.4h1.4M109.5 413.1h1.4M109.7 405.0h1.4M110.0 411.7h1.4M110.3 408.3h1.4M110.5 407.7h1.4M110.8 409.3h1.4M111.1 408.0h1.4M111.3 409.5h1.4M111.6 412.4h1.4M111.8 408.7h1.4M112.1 407.4h1.4M112.4 410.3h1.4M112.6 412.3h1.4M112.9 410.4h1.4M113.1 408.8h1.4M113.4 408.8h1.4M113.7 407.4h1.4M113.9 408.4h1.4M114.2 408.5h1.4M114.4 412.8h1.4M114.7 405.5h1.4M115.0 409.3h1.4M115.2 407.9h1.4M115.5 410.0h1.4M115.7 409.6h1.4M116.0 409.3h1.4M116.3 406.6h1.4M116.5 406.8h1.4M116.8 408.3h1.4M117.0 405.9h1.4M117.3 410.1h1.4M117.6 408.5h1.4M117.8 410.2h1.4M118.1 407.1h1.4M118.3 409.3h1.4M118.6 407.7h1.4M118.9 406.4h1.4M119.1 413.0h1.4M119.4 405.6h1.4M119.6 408.8h1.4M119.9 409.9h1.4M120.2 412.7h1.4M120.4 409.9h1.4M120.7 413.4h1.4M121.0 409.2h1.4M121.2 409.7h1.4M121.5 406.2h1.4M121.7 410.0h1.4M122.0 407.6h1.4M122.3 407.4h1.4M122.5 405.8h1.4M122.8 409.8h1.4M123.0 408.1h1.4M123.3 412.0h1.4M123.6 411.3h1.4M123.8 409.9h1.4M124.1 409.5h1.4M124.3 411.5h1.4M124.6 410.1h1.4M124.9 408.2h1.4M125.1 410.2h1.4M125.4 409.7h1.4M125.6 411.0h1.4M125.9 407.0h1.4M126.2 406.4h1.4M126.4 409.1h1.4M126.7 409.6h1.4M126.9 406.6h1.4M127.2 408.6h1.4M127.5 410.6h1.4M127.7 411.8h1.4M128.0 410.5h1.4M128.2 405.6h1.4M128.5 410.5h1.4M128.8 404.4h1.4M129.0 409.5h1.4M129.3 409.8h1.4M129.5 407.2h1.4M129.8 409.9h1.4M130.1 408.8h1.4M130.3 411.3h1.4M130.6 411.6h1.4M130.9 410.8h1.4M131.1 409.1h1.4M131.4 410.6h1.4M131.6 412.9h1.4M131.9 408.7h1.4M132.2 409.8h1.4M132.4 410.0h1.4M132.7 410.6h1.4M132.9 413.4h1.4M133.2 406.7h1.4M133.5 410.3h1.4M133.7 408.6h1.4M134.0 407.1h1.4M134.2 407.5h1.4M134.5 409.2h1.4M134.8 409.5h1.4M135.0 409.0h1.4M135.3 407.9h1.4M135.5 408.5h1.4M135.8 410.3h1.4M136.1 408.7h1.4M136.3 408.9h1.4M136.6 408.3h1.4M136.8 409.2h1.4M137.1 407.1h1.4M137.4 409.2h1.4M137.6 408.0h1.4M137.9 409.5h1.4M138.1 410.5h1.4M138.4 411.2h1.4M138.7 409.8h1.4M138.9 408.6h1.4M139.2 407.3h1.4M139.4 409.7h1.4M139.7 410.4h1.4M140.0 410.4h1.4M140.2 407.3h1.4M140.5 409.4h1.4M140.8 410.4h1.4M141.0 408.3h1.4M141.3 411.9h1.4M141.5 409.4h1.4M141.8 409.6h1.4M142.1 409.8h1.4M142.3 411.6h1.4M142.6 407.9h1.4M142.8 406.7h1.4M143.1 411.9h1.4M143.4 409.4h1.4M143.6 408.5h1.4M143.9 405.7h1.4M144.1 410.3h1.4M144.4 411.2h1.4M144.7 409.6h1.4M144.9 406.1h1.4M145.2 409.5h1.4M145.4 409.1h1.4M145.7 406.5h1.4M146.0 413.3h1.4M146.2 413.4h1.4M146.5 408.0h1.4M146.7 408.3h1.4M147.0 412.0h1.4M147.3 408.7h1.4M147.5 409.5h1.4M147.8 409.2h1.4M148.0 411.0h1.4M148.3 410.4h1.4M148.6 411.1h1.4M148.8 409.5h1.4M149.1 410.0h1.4M149.3 406.7h1.4M149.6 408.5h1.4M149.9 412.4h1.4M150.1 408.9h1.4M150.4 407.2h1.4M150.7 409.2h1.4M150.9 407.8h1.4M151.2 409.7h1.4M151.4 408.4h1.4M151.7 411.3h1.4M152.0 408.3h1.4M152.2 412.0h1.4M152.5 407.4h1.4M152.7 412.3h1.4M153.0 413.3h1.4M153.3 408.7h1.4M153.5 410.0h1.4M153.8 409.5h1.4M154.0 408.9h1.4M154.3 409.7h1.4M154.6 411.2h1.4M154.8 409.3h1.4M155.1 409.1h1.4M155.3 408.8h1.4M155.6 406.2h1.4M155.9 411.0h1.4M156.1 409.6h1.4M156.4 408.7h1.4M156.6 410.5h1.4M156.9 411.8h1.4M157.2 410.7h1.4M157.4 407.9h1.4M157.7 410.2h1.4M157.9 408.6h1.4M158.2 411.0h1.4M158.5 408.9h1.4M158.7 410.9h1.4M159.0 411.2h1.4M159.2 409.5h1.4M159.5 409.6h1.4M159.8 407.2h1.4M160.0 412.5h1.4M160.3 408.8h1.4M160.6 406.9h1.4M160.8 407.4h1.4M161.1 410.4h1.4M161.3 410.9h1.4M161.6 410.6h1.4M161.9 409.2h1.4M162.1 409.4h1.4M162.4 409.1h1.4M162.6 408.7h1.4M162.9 411.6h1.4M163.2 411.7h1.4M163.4 411.9h1.4M163.7 412.1h1.4M163.9 409.9h1.4M164.2 409.2h1.4M164.5 405.4h1.4M164.7 408.8h1.4M165.0 409.7h1.4M165.2 407.3h1.4M165.5 411.0h1.4M165.8 409.2h1.4M166.0 408.1h1.4M166.3 408.4h1.4M166.5 409.1h1.4M166.8 410.4h1.4M167.1 411.9h1.4M167.3 410.0h1.4M167.6 410.8h1.4M167.8 408.6h1.4M168.1 410.0h1.4M168.4 408.8h1.4M168.6 412.6h1.4M168.9 408.1h1.4M169.1 411.3h1.4M169.4 412.5h1.4M169.7 412.2h1.4M169.9 410.9h1.4M170.2 407.9h1.4M170.5 408.6h1.4M170.7 411.8h1.4M171.0 409.7h1.4M171.2 410.0h1.4M171.5 412.5h1.4M171.8 411.5h1.4M172.0 413.4h1.4M172.3 411.3h1.4M172.5 414.4h1.4M172.8 411.2h1.4M173.1 411.5h1.4M173.3 411.2h1.4" fill="none" stroke="#6DB31E" stroke-opacity="0.3" stroke-width="1.2"/>
<path d="M27.7 384.6h1.4M27.9 381.0h1.4M28.2 383.7h1.4M28.5 382.6h1.4M28.7 381.7h1.4M29.0 381.4h1.4M29.2 381.8h1.4M29.5 384.1h1.4M29.8 385.1h1.4M30.0 384.5h1.4M30.3 384.0h1.4M30.5 383.1h1.4M30.8 383.3h1.4M31.1 381.1h1.4M31.3 383.3h1.4M31.6 379.8h1.4M31.9 381.2h1.4M32.1 384.0h1.4M32.4 381.5h1.4M32.6 388.4h1.4M32.9 380.6h1.4M33.2 382.3h1.4M33.4 382.4h1.4M33.7 386.2h1.4M33.9 378.4h1.4M34.2 383.6h1.4M34.5 383.4h1.4M34.7 381.0h1.4M35.0 383.5h1.4M35.2 384.7h1.4M35.5 381.9h1.4M35.8 385.0h1.4M36.0 381.7h1.4M36.3 382.9h1.4M36.5 381.0h1.4M36.8 385.3h1.4M37.1 380.8h1.4M37.3 382.6h1.4M37.6 379.5h1.4M37.8 384.3h1.4M38.1 379.7h1.4M38.4 381.8h1.4M38.6 381.7h1.4M38.9 384.5h1.4M39.1 382.1h1.4M39.4 381.9h1.4M39.7 384.6h1.4M39.9 385.3h1.4M40.2 384.5h1.4M40.4 380.4h1.4M40.7 382.8h1.4M41.0 381.4h1.4M41.2 382.6h1.4M41.5 382.9h1.4M41.8 382.7h1.4M42.0 383.9h1.4M42.3 380.9h1.4M42.5 382.8h1.4M42.8 382.7h1.4M43.1 385.7h1.4M43.3 382.6h1.4M43.6 384.4h1.4M43.8 384.1h1.4M44.1 381.2h1.4M44.4 385.2h1.4M44.6 383.5h1.4M44.9 382.0h1.4M45.1 381.0h1.4M45.4 384.1h1.4M45.7 382.6h1.4M45.9 382.6h1.4M46.2 385.2h1.4M46.4 387.1h1.4M46.7 386.7h1.4M47.0 382.0h1.4M47.2 383.0h1.4M47.5 385.6h1.4M47.7 384.3h1.4M48.0 383.9h1.4M48.3 383.8h1.4M48.5 383.2h1.4M48.8 379.1h1.4M49.0 384.6h1.4M49.3 382.9h1.4M49.6 384.6h1.4M49.8 384.3h1.4M50.1 384.8h1.4M50.3 383.6h1.4M50.6 384.2h1.4M50.9 382.5h1.4M51.1 382.8h1.4M51.4 384.8h1.4M51.7 379.6h1.4M51.9 385.3h1.4M52.2 382.5h1.4M52.4 379.2h1.4M52.7 384.5h1.4M53.0 380.7h1.4M53.2 380.6h1.4M53.5 382.6h1.4M53.7 386.6h1.4M54.0 380.6h1.4M54.3 383.0h1.4M54.5 384.2h1.4M54.8 380.8h1.4M55.0 384.5h1.4M55.3 381.2h1.4M55.6 384.2h1.4M55.8 382.2h1.4M56.1 385.2h1.4M56.3 383.9h1.4M56.6 384.9h1.4M56.9 384.5h1.4M57.1 382.9h1.4M57.4 383.5h1.4M57.6 382.9h1.4M57.9 380.9h1.4M58.2 383.4h1.4M58.4 386.7h1.4M58.7 383.8h1.4M58.9 383.1h1.4M59.2 381.4h1.4M59.5 381.3h1.4M59.7 381.5h1.4M60.0 383.7h1.4M60.2 382.1h1.4M60.5 385.9h1.4M60.8 380.9h1.4M61.0 382.4h1.4M61.3 382.3h1.4M61.6 383.9h1.4M61.8 383.1h1.4M62.1 384.5h1.4M62.3 382.2h1.4M62.6 385.7h1.4M62.9 381.5h1.4M63.1 382.3h1.4M63.4 379.5h1.4M63.6 383.3h1.4M63.9 383.4h1.4M64.2 382.9h1.4M64.4 383.2h1.4M64.7 383.5h1.4M64.9 385.3h1.4M65.2 385.3h1.4M65.5 384.3h1.4M65.7 383.8h1.4M66.0 385.5h1.4M66.2 385.4h1.4M66.5 383.8h1.4M66.8 381.9h1.4M67.0 383.7h1.4M67.3 382.1h1.4M67.5 381.5h1.4M67.8 381.9h1.4M68.1 384.1h1.4M68.3 384.1h1.4M68.6 386.8h1.4M68.8 384.6h1.4M69.1 382.5h1.4M69.4 385.3h1.4M69.6 380.8h1.4M69.9 380.7h1.4M70.1 384.0h1.4M70.4 381.7h1.4M70.7 386.0h1.4M70.9 385.3h1.4M71.2 384.1h1.4M71.5 383.4h1.4M71.7 383.7h1.4M72.0 385.0h1.4M72.2 379.8h1.4M72.5 382.9h1.4M72.8 382.9h1.4M73.0 382.2h1.4M73.3 383.1h1.4M73.5 383.8h1.4M73.8 384.4h1.4M74.1 386.4h1.4M74.3 380.7h1.4M74.6 385.1h1.4M74.8 386.5h1.4M75.1 384.9h1.4M75.4 386.4h1.4M75.6 379.8h1.4M75.9 382.8h1.4M76.1 380.9h1.4M76.4 380.8h1.4M76.7 382.4h1.4M76.9 382.4h1.4M77.2 384.8h1.4M77.4 383.7h1.4M77.7 384.6h1.4M78.0 383.4h1.4M78.2 384.8h1.4M78.5 381.2h1.4M78.7 382.1h1.4M79.0 383.7h1.4M79.3 386.6h1.4M79.5 382.3h1.4M79.8 381.9h1.4M80.0 383.7h1.4M80.3 385.9h1.4M80.6 382.8h1.4M80.8 381.7h1.4M81.1 387.1h1.4M81.4 382.6h1.4M81.6 387.0h1.4M81.9 383.5h1.4M82.1 380.4h1.4M82.4 383.5h1.4M82.7 382.8h1.4M82.9 384.3h1.4M83.2 383.7h1.4M83.4 379.4h1.4M83.7 381.2h1.4M84.0 384.3h1.4M84.2 384.4h1.4M84.5 383.7h1.4M84.7 379.7h1.4M85.0 383.3h1.4M85.3 381.7h1.4M85.5 384.4h1.4M85.8 386.1h1.4M86.0 381.3h1.4M86.3 383.9h1.4M86.6 385.2h1.4M86.8 385.0h1.4M87.1 385.0h1.4M87.3 384.9h1.4M87.6 386.6h1.4M87.9 381.6h1.4M88.1 383.1h1.4M88.4 382.0h1.4M88.6 384.5h1.4M88.9 383.2h1.4M89.2 383.5h1.4M89.4 381.7h1.4M89.7 382.4h1.4M89.9 383.2h1.4M90.2 385.1h1.4M90.5 386.1h1.4M90.7 385.4h1.4M91.0 385.1h1.4M91.3 384.9h1.4M91.5 386.2h1.4M91.8 380.9h1.4M92.0 383.4h1.4M92.3 387.6h1.4M92.6 385.9h1.4M92.8 386.4h1.4M93.1 383.5h1.4M93.3 382.0h1.4M93.6 385.8h1.4M93.9 382.8h1.4M94.1 384.5h1.4M94.4 381.9h1.4M94.6 381.5h1.4M94.9 383.4h1.4M95.2 382.7h1.4M95.4 384.0h1.4M95.7 384.7h1.4M95.9 386.2h1.4M96.2 383.4h1.4M96.5 384.2h1.4M96.7 384.8h1.4M97.0 384.2h1.4M97.2 384.4h1.4M97.5 386.0h1.4M97.8 385.0h1.4M98.0 382.0h1.4M98.3 384.5h1.4M98.5 381.5h1.4M98.8 386.2h1.4M99.1 386.6h1.4M99.3 383.9h1.4M99.6 382.7h1.4M99.8 385.3h1.4M100.1 383.0h1.4M100.4 382.4h1.4M100.6 382.2h1.4M100.9 384.4h1.4M101.2 384.3h1.4M101.4 387.2h1.4M101.7 384.1h1.4M101.9 383.7h1.4M102.2 381.6h1.4M102.5 386.5h1.4M102.7 385.7h1.4M103.0 386.0h1.4M103.2 382.6h1.4M103.5 388.8h1.4M103.8 386.2h1.4M104.0 380.5h1.4M104.3 383.0h1.4M104.5 386.7h1.4M104.8 384.3h1.4M105.1 382.7h1.4M105.3 383.2h1.4M105.6 384.7h1.4M105.8 385.7h1.4M106.1 382.7h1.4M106.4 384.3h1.4M106.6 382.8h1.4M106.9 383.6h1.4M107.1 385.1h1.4M107.4 381.7h1.4M107.7 385.2h1.4M107.9 383.5h1.4M108.2 385.5h1.4M108.4 384.7h1.4M108.7 384.8h1.4M109.0 385.5h1.4M109.2 383.9h1.4M109.5 382.0h1.4M109.7 381.0h1.4M110.0 381.7h1.4M110.3 384.7h1.4M110.5 381.7h1.4M110.8 383.6h1.4M111.1 381.1h1.4M111.3 386.7h1.4M111.6 381.7h1.4M111.8 385.5h1.4M112.1 382.3h1.4M112.4 385.2h1.4M112.6 382.7h1.4M112.9 384.9h1.4M113.1 387.8h1.4M113.4 386.2h1.4M113.7 384.9h1.4M113.9 384.4h1.4M114.2 388.5h1.4M114.4 386.6h1.4M114.7 385.8h1.4M115.0 384.8h1.4M115.2 384.1h1.4M115.5 386.0h1.4M115.7 387.2h1.4M116.0 383.9h1.4M116.3 385.1h1.4M116.5 382.9h1.4M116.8 385.4h1.4M117.0 383.3h1.4M117.3 386.1h1.4M117.6 384.0h1.4M117.8 384.4h1.4M118.1 383.7h1.4M118.3 386.2h1.4M118.6 384.8h1.4M118.9 386.1h1.4M119.1 384.8h1.4M119.4 383.4h1.4M119.6 379.1h1.4M119.9 384.5h1.4M120.2 383.3h1.4M120.4 384.4h1.4M120.7 382.5h1.4M121.0 383.7h1.4M121.2 382.7h1.4M121.5 383.9h1.4M121.7 380.2h1.4M122.0 382.1h1.4M122.3 387.7h1.4M122.5 384.1h1.4M122.8 384.5h1.4M123.0 388.6h1.4M123.3 386.2h1.4M123.6 385.5h1.4M123.8 386.0h1.4M124.1 384.4h1.4M124.3 387.9h1.4M124.6 383.3h1.4M124.9 383.2h1.4M125.1 384.0h1.4M125.4 385.3h1.4M125.6 384.7h1.4M125.9 385.5h1.4M126.2 382.6h1.4M126.4 383.8h1.4M126.7 381.1h1.4M126.9 385.3h1.4M127.2 382.1h1.4M127.5 385.7h1.4M127.7 385.0h1.4M128.0 386.6h1.4M128.2 383.8h1.4M128.5 384.8h1.4M128.8 383.6h1.4M129.0 382.0h1.4M129.3 384.8h1.4M129.5 384.0h1.4M129.8 383.1h1.4M130.1 384.8h1.4M130.3 385.7h1.4M130.6 384.1h1.4M130.9 383.8h1.4M131.1 383.3h1.4M131.4 383.3h1.4M131.6 386.0h1.4M131.9 384.0h1.4M132.2 382.5h1.4M132.4 385.6h1.4M132.7 384.1h1.4M132.9 385.9h1.4M133.2 384.5h1.4M133.5 381.7h1.4M133.7 384.5h1.4M134.0 386.5h1.4M134.2 384.2h1.4M134.5 384.4h1.4M134.8 382.8h1.4M135.0 387.3h1.4M135.3 386.5h1.4M135.5 385.0h1.4M135.8 387.6h1.4M136.1 382.8h1.4M136.3 388.5h1.4M136.6 386.3h1.4M136.8 387.5h1.4M137.1 386.0h1.4M137.4 383.4h1.4M137.6 383.8h1.4M137.9 383.2h1.4M138.1 383.8h1.4M138.4 388.5h1.4M138.7 384.3h1.4M138.9 388.2h1.4M139.2 385.8h1.4M139.4 385.6h1.4M139.7 385.8h1.4M140.0 384.0h1.4M140.2 386.3h1.4M140.5 381.8h1.4M140.8 383.8h1.4M141.0 382.8h1.4M141.3 383.5h1.4M141.5 383.3h1.4M141.8 385.0h1.4M142.1 381.4h1.4M142.3 386.8h1.4M142.6 384.1h1.4M142.8 384.9h1.4M143.1 385.3h1.4M143.4 384.3h1.4M143.6 386.3h1.4M143.9 383.4h1.4M144.1 383.5h1.4M144.4 384.7h1.4M144.7 383.6h1.4M144.9 386.8h1.4M145.2 388.2h1.4M145.4 386.0h1.4M145.7 385.4h1.4M146.0 380.4h1.4M146.2 385.4h1.4M146.5 383.1h1.4M146.7 383.4h1.4M147.0 381.2h1.4M147.3 384.7h1.4M147.5 383.8h1.4M147.8 385.3h1.4M148.0 386.5h1.4M148.3 386.8h1.4M148.6 386.4h1.4M148.8 382.4h1.4M149.1 384.5h1.4M149.3 385.3h1.4M149.6 385.0h1.4M149.9 386.0h1.4M150.1 385.0h1.4M150.4 385.1h1.4M150.7 383.8h1.4M150.9 383.4h1.4M151.2 387.9h1.4M151.4 384.6h1.4M151.7 382.5h1.4M152.0 386.8h1.4M152.2 385.5h1.4M152.5 384.7h1.4M152.7 383.0h1.4M153.0 383.9h1.4M153.3 385.4h1.4M153.5 384.1h1.4M153.8 383.2h1.4M154.0 384.3h1.4M154.3 381.7h1.4M154.6 384.3h1.4M154.8 386.9h1.4M155.1 386.4h1.4M155.3 385.3h1.4M155.6 385.4h1.4M155.9 383.9h1.4M156.1 384.4h1.4M156.4 382.0h1.4M156.6 383.6h1.4M156.9 382.4h1.4M157.2 386.4h1.4M157.4 385.8h1.4M157.7 383.8h1.4M157.9 384.9h1.4M158.2 383.9h1.4M158.5 384.6h1.4M158.7 386.2h1.4M159.0 382.0h1.4M159.2 383.0h1.4M159.5 387.9h1.4M159.8 386.2h1.4M160.0 385.0h1.4M160.3 383.9h1.4M160.6 385.2h1.4M160.8 387.5h1.4M161.1 383.6h1.4M161.3 385.5h1.4M161.6 382.9h1.4M161.9 384.5h1.4M162.1 383.3h1.4M162.4 383.6h1.4M162.6 383.5h1.4M162.9 386.0h1.4M163.2 383.2h1.4M163.4 384.7h1.4M163.7 387.3h1.4M163.9 385.8h1.4M164.2 385.7h1.4M164.5 384.3h1.4M164.7 383.9h1.4M165.0 387.1h1.4M165.2 383.8h1.4M165.5 385.2h1.4M165.8 387.0h1.4M166.0 383.6h1.4M166.3 386.5h1.4M166.5 387.3h1.4M166.8 383.8h1.4M167.1 383.5h1.4M167.3 386.3h1.4M167.6 383.2h1.4M167.8 383.3h1.4M168.1 386.1h1.4M168.4 381.5h1.4M168.6 385.2h1.4M168.9 384.7h1.4M169.1 389.4h1.4M169.4 384.0h1.4M169.7 386.2h1.4M169.9 384.3h1.4M170.2 388.2h1.4M170.5 383.1h1.4M170.7 382.5h1.4M171.0 381.7h1.4M171.2 390.4h1.4M171.5 384.1h1.4M171.8 384.5h1.4M172.0 390.6h1.4M172.3 386.5h1.4M172.5 385.3h1.4M172.8 382.6h1.4M173.1 386.6h1.4M173.3 384.8h1.4" fill="none" stroke="#FF8C00" stroke-opacity="0.3" stroke-width="1.2"/>
<polyline points="28.38,442.74 30.02,442.78 31.65,442.82 33.29,442.69 34.93,442.74 36.56,442.77 38.20,442.58 39.84,442.62 41.47,442.59 43.11,442.64 44.75,442.67 46.38,442.61 48.02,442.63 49.65,442.71 51.29,442.68 52.93,442.64 54.56,442.67 56.20,442.70 57.84,442.72 59.47,442.69 61.11,442.74 62.75,442.88 64.38,442.85 66.02,442.77 67.65,442.81 69.29,442.78 70.93,442.82 72.56,442.61 74.20,442.55 75.84,442.45 77.47,442.35 79.11,442.16 80.75,442.26 82.38,442.32 84.02,442.39 85.65,442.48 87.29,442.69 88.93,442.78 90.56,442.98 92.20,443.11 93.84,443.10 95.47,443.25 97.11,443.22 98.75,443.18 100.38,443.22 102.02,443.16 103.65,443.00 105.29,443.04 106.93,443.01 108.56,442.92 110.20,442.87 111.84,442.75 113.47,442.84 115.11,442.87 116.75,442.69 118.38,442.70 120.02,442.65 121.65,442.64 123.29,442.78 124.93,442.88 126.56,442.84 128.20,443.06 129.84,443.12 131.47,443.40 133.11,443.37 134.75,443.33 136.38,443.21 138.02,443.23 139.65,443.15 141.29,443.08 142.93,442.89 144.56,443.00 146.20,443.22 147.84,443.15 149.47,443.14 151.11,443.14 152.75,443.01 154.38,443.15 156.02,443.36 157.65,443.01 159.29,443.02 160.93,443.17 162.56,443.19 164.20,443.25 165.84,443.22 167.47,442.92 169.11,442.85 170.75,442.75 172.38,442.60 174.02,442.52" fill="none" stroke="#000000" stroke-width="1.5" stroke-linejoin="round"/>
<polyline points="28.38,399.29 30.02,399.33 31.65,399.42 33.29,399.29 34.93,399.07 36.56,399.04 38.20,399.24 39.84,399.20 41.47,399.17 43.11,399.28 44.75,399.55 46.38,399.74 48.02,399.78 49.65,399.96 51.29,400.10 52.93,400.00 54.56,399.85 56.20,399.81 57.84,399.65 59.47,399.68 61.11,399.59 62.75,399.72 64.38,399.75 66.02,399.85 67.65,400.01 69.29,400.30 70.93,400.07 72.56,400.02 74.20,399.90 75.84,399.91 77.47,400.07 79.11,400.01 80.75,400.08 82.38,400.35 84.02,400.48 85.65,400.45 87.29,400.46 88.93,400.22 90.56,399.90 92.20,399.83 93.84,399.77 95.47,399.69 97.11,399.83 98.75,399.96 100.38,400.01 102.02,400.35 103.65,400.26 105.29,400.14 106.93,400.30 108.56,400.44 110.20,400.40 111.84,400.54 113.47,400.44 115.11,400.53 116.75,400.62 118.38,400.40 120.02,400.11 121.65,400.15 123.29,400.16 124.93,400.42 126.56,400.58 128.20,400.69 129.84,400.79 131.47,400.93 133.11,400.96 134.75,401.00 136.38,400.92 138.02,400.88 139.65,400.75 141.29,400.95 142.93,400.83 144.56,400.87 146.20,400.67 147.84,400.50 149.47,400.28 151.11,400.24 152.75,400.15 154.38,400.32 156.02,400.30 157.65,400.44 159.29,400.42 160.93,400.53 162.56,400.67 164.20,400.58 165.84,400.55 167.47,400.43 169.11,400.56 170.75,400.62 172.38,400.59 174.02,400.69" fill="none" stroke="#1565D2" stroke-width="1.5" stroke-linejoin="round"/>
<polyline points="28.38,409.33 30.02,409.14 31.65,409.10 33.29,409.09 34.93,408.86 36.56,408.81 38.20,408.94 39.84,408.93 41.47,408.99 43.11,409.24 44.75,409.24 46.38,409.28 48.02,409.16 49.65,409.32 51.29,409.42 52.93,409.56 54.56,409.46 56.20,409.44 57.84,409.42 59.47,409.28 61.11,409.02 62.75,408.80 64.38,408.76 66.02,408.67 67.65,408.62 69.29,408.58 70.93,408.78 72.56,408.79 74.20,408.71 75.84,408.74 77.47,409.03 79.11,409.02 80.75,409.02 82.38,409.04 84.02,409.15 85.65,409.05 87.29,409.03 88.93,408.95 90.56,409.08 92.20,409.12 93.84,409.16 95.47,409.17 97.11,409.41 98.75,409.42 100.38,409.30 102.02,409.27 103.65,409.43 105.29,409.37 106.93,409.46 108.56,409.41 110.20,409.47 111.84,409.52 113.47,409.70 115.11,409.66 116.75,409.80 118.38,409.56 120.02,409.68 121.65,409.56 123.29,409.71 124.93,409.68 126.56,409.67 128.20,409.69 129.84,409.74 131.47,409.78 133.11,409.83 134.75,409.66 136.38,409.57 138.02,409.49 139.65,409.45 141.29,409.53 142.93,409.40 144.56,409.41 146.20,409.44 147.84,409.47 149.47,409.55 151.11,409.44 152.75,409.51 154.38,409.79 156.02,409.81 157.65,409.85 159.29,409.79 160.93,409.81 162.56,409.74 164.20,409.84 165.84,409.79 167.47,409.76 169.11,409.85 170.75,409.88 172.38,409.90 174.02,410.24" fill="none" stroke="#6DB31E" stroke-width="1.5" stroke-linejoin="round"/>
<polyline points="28.38,383.06 30.02,383.09 31.65,383.30 33.29,383.49 34.93,383.37 36.56,383.46 38.20,383.44 39.84,383.51 41.47,383.49 43.11,383.43 44.75,383.32 46.38,383.37 48.02,383.36 49.65,383.27 51.29,383.22 52.93,383.44 54.56,383.48 56.20,383.51 57.84,383.45 59.47,383.37 61.11,383.30 62.75,383.23 64.38,383.10 66.02,383.11 67.65,383.03 69.29,383.11 70.93,383.28 72.56,383.49 74.20,383.59 75.84,383.65 77.47,383.48 79.11,383.50 80.75,383.54 82.38,383.47 84.02,383.49 85.65,383.43 87.29,383.40 88.93,383.34 90.56,383.55 92.20,383.57 93.84,383.70 95.47,383.67 97.11,383.74 98.75,383.95 100.38,384.34 102.02,384.24 103.65,384.18 105.29,384.31 106.93,384.52 108.56,384.52 110.20,384.38 111.84,384.24 113.47,384.40 115.11,384.54 116.75,384.45 118.38,384.29 120.02,384.44 121.65,384.56 123.29,384.60 124.93,384.58 126.56,384.64 128.20,384.74 129.84,384.86 131.47,384.86 133.11,384.90 134.75,385.06 136.38,384.91 138.02,384.85 139.65,384.86 141.29,384.71 142.93,384.80 144.56,384.80 146.20,384.78 147.84,384.99 149.47,385.08 151.11,385.06 152.75,385.33 154.38,385.33 156.02,385.33 157.65,385.31 159.29,385.24 160.93,384.99 162.56,384.95 164.20,384.84 165.84,384.83 167.47,384.86 169.11,384.86 170.75,384.93 172.38,385.02 174.02,385.19" fill="none" stroke="#FF8C00" stroke-width="1.5" stroke-linejoin="round"/>
<rect x="21.1" y="358.3" width="160.2" height="166" fill="none" stroke="#333333" stroke-width="1.1"/>
<rect x="21.1" y="335" width="160.2" height="23.3" fill="#CCCCCC" stroke="#333333" stroke-width="1.1"/>
<text transform="translate(101.20,349.45) scale(0.926,1)" text-anchor="middle" font-family='"Liberation Sans", sans-serif' font-size="9.72" fill="#1A1A1A">Pattern 1<tspan dx="12.2" dy="-1" font-family='"Liberation Serif", serif' font-style="italic" font-size="10.8">ψ</tspan><tspan dy="1"> = 0.5</tspan></text>
<line x1="28.38" x2="28.38" y1="524.3" y2="527.9" stroke="#555" stroke-width="0.9"/>
<line x1="64.79" x2="64.79" y1="524.3" y2="527.9" stroke="#555" stroke-width="0.9"/>
<line x1="101.2" x2="101.2" y1="524.3" y2="527.9" stroke="#555" stroke-width="0.9"/>
<line x1="137.61" x2="137.61" y1="524.3" y2="527.9" stroke="#555" stroke-width="0.9"/>
<line x1="174.02" x2="174.02" y1="524.3" y2="527.9" stroke="#555" stroke-width="0.9"/>
<line x1="17.3" x2="21.1" y1="493.5" y2="493.5" stroke="#444" stroke-width="0.9"/>
<text transform="translate(13.50,496.97) scale(0.926,1)" text-anchor="end" font-family='"Liberation Sans", sans-serif' font-size="9.94" fill="#333333">0</text>
<line x1="17.3" x2="21.1" y1="458.45" y2="458.45" stroke="#444" stroke-width="0.9"/>
<text transform="translate(13.50,461.92) scale(0.926,1)" text-anchor="end" font-family='"Liberation Sans", sans-serif' font-size="9.94" fill="#333333">0.1</text>
<line x1="17.3" x2="21.1" y1="423.4" y2="423.4" stroke="#444" stroke-width="0.9"/>
<text transform="translate(13.50,426.87) scale(0.926,1)" text-anchor="end" font-family='"Liberation Sans", sans-serif' font-size="9.94" fill="#333333">0.2</text>
<line x1="17.3" x2="21.1" y1="388.35" y2="388.35" stroke="#444" stroke-width="0.9"/>
<text transform="translate(13.50,391.82) scale(0.926,1)" text-anchor="end" font-family='"Liberation Sans", sans-serif' font-size="9.94" fill="#333333">0.3</text>
<text transform="translate(28.38,537.70) scale(0.926,1)" text-anchor="middle" font-family='"Liberation Sans", sans-serif' font-size="9.94" fill="#333333">0</text>
<text transform="translate(64.79,537.70) scale(0.926,1)" text-anchor="middle" font-family='"Liberation Sans", sans-serif' font-size="9.94" fill="#333333">0.25</text>
<text transform="translate(101.20,537.70) scale(0.926,1)" text-anchor="middle" font-family='"Liberation Sans", sans-serif' font-size="9.94" fill="#333333">0.5</text>
<text transform="translate(137.61,537.70) scale(0.926,1)" text-anchor="middle" font-family='"Liberation Sans", sans-serif' font-size="9.94" fill="#333333">0.75</text>
<text transform="translate(174.02,537.70) scale(0.926,1)" text-anchor="middle" font-family='"Liberation Sans", sans-serif' font-size="9.94" fill="#333333">1</text>
<rect x="188.55" y="358.3" width="160.2" height="166" fill="#fff"/>
<line x1="188.55" x2="348.75" y1="493.5" y2="493.5" stroke="#D4D4D4" stroke-width="0.9" stroke-dasharray="2.6 1.8"/>
<line x1="188.55" x2="348.75" y1="458.45" y2="458.45" stroke="#D4D4D4" stroke-width="0.9" stroke-dasharray="2.6 1.8"/>
<line x1="188.55" x2="348.75" y1="423.4" y2="423.4" stroke="#D4D4D4" stroke-width="0.9" stroke-dasharray="2.6 1.8"/>
<line x1="188.55" x2="348.75" y1="388.35" y2="388.35" stroke="#D4D4D4" stroke-width="0.9" stroke-dasharray="2.6 1.8"/>
<line x1="195.83" x2="195.83" y1="524.3" y2="358.3" stroke="#D4D4D4" stroke-width="0.9" stroke-dasharray="2.6 1.8"/>
<line x1="232.24" x2="232.24" y1="524.3" y2="358.3" stroke="#D4D4D4" stroke-width="0.9" stroke-dasharray="2.6 1.8"/>
<line x1="268.65" x2="268.65" y1="524.3" y2="358.3" stroke="#D4D4D4" stroke-width="0.9" stroke-dasharray="2.6 1.8"/>
<line x1="305.06" x2="305.06" y1="524.3" y2="358.3" stroke="#D4D4D4" stroke-width="0.9" stroke-dasharray="2.6 1.8"/>
<line x1="341.47" x2="341.47" y1="524.3" y2="358.3" stroke="#D4D4D4" stroke-width="0.9" stroke-dasharray="2.6 1.8"/>
<path d="M195.1 463.8h1.4M195.4 464.0h1.4M195.7 466.0h1.4M195.9 463.9h1.4M196.2 463.9h1.4M196.4 465.4h1.4M196.7 461.9h1.4M197.0 463.8h1.4M197.2 465.0h1.4M197.5 465.2h1.4M197.7 465.5h1.4M198.0 464.3h1.4M198.3 464.6h1.4M198.5 466.3h1.4M198.8 465.9h1.4M199.0 465.5h1.4M199.3 465.1h1.4M199.6 465.1h1.4M199.8 465.4h1.4M200.1 463.9h1.4M200.3 463.5h1.4M200.6 464.6h1.4M200.9 467.3h1.4M201.1 464.9h1.4M201.4 464.0h1.4M201.6 464.8h1.4M201.9 464.4h1.4M202.2 464.6h1.4M202.4 466.4h1.4M202.7 467.7h1.4M202.9 464.0h1.4M203.2 465.3h1.4M203.5 464.2h1.4M203.7 465.1h1.4M204.0 464.9h1.4M204.3 463.1h1.4M204.5 466.1h1.4M204.8 464.7h1.4M205.0 466.0h1.4M205.3 464.6h1.4M205.6 464.2h1.4M205.8 464.0h1.4M206.1 464.6h1.4M206.3 466.4h1.4M206.6 464.5h1.4M206.9 463.7h1.4M207.1 463.6h1.4M207.4 462.2h1.4M207.6 464.1h1.4M207.9 466.0h1.4M208.2 465.4h1.4M208.4 464.7h1.4M208.7 463.5h1.4M208.9 466.1h1.4M209.2 463.7h1.4M209.5 464.0h1.4M209.7 465.8h1.4M210.0 464.1h1.4M210.2 465.7h1.4M210.5 464.8h1.4M210.8 465.2h1.4M211.0 464.5h1.4M211.3 466.2h1.4M211.5 464.2h1.4M211.8 467.4h1.4M212.1 465.3h1.4M212.3 465.5h1.4M212.6 463.0h1.4M212.8 464.2h1.4M213.1 465.4h1.4M213.4 465.9h1.4M213.6 464.8h1.4M213.9 465.6h1.4M214.2 462.2h1.4M214.4 468.1h1.4M214.7 464.8h1.4M214.9 467.8h1.4M215.2 463.7h1.4M215.5 465.8h1.4M215.7 463.0h1.4M216.0 465.5h1.4M216.2 463.6h1.4M216.5 464.7h1.4M216.8 463.5h1.4M217.0 464.9h1.4M217.3 468.4h1.4M217.5 465.8h1.4M217.8 466.7h1.4M218.1 463.8h1.4M218.3 464.3h1.4M218.6 464.9h1.4M218.8 464.4h1.4M219.1 464.7h1.4M219.4 465.6h1.4M219.6 462.7h1.4M219.9 464.7h1.4M220.1 465.2h1.4M220.4 466.7h1.4M220.7 465.7h1.4M220.9 465.0h1.4M221.2 465.2h1.4M221.4 465.5h1.4M221.7 465.0h1.4M222.0 466.3h1.4M222.2 465.0h1.4M222.5 466.8h1.4M222.7 466.0h1.4M223.0 465.9h1.4M223.3 464.0h1.4M223.5 464.4h1.4M223.8 464.9h1.4M224.1 466.4h1.4M224.3 465.5h1.4M224.6 464.1h1.4M224.8 463.6h1.4M225.1 466.8h1.4M225.4 465.5h1.4M225.6 464.9h1.4M225.9 464.6h1.4M226.1 465.0h1.4M226.4 464.3h1.4M226.7 466.8h1.4M226.9 463.2h1.4M227.2 466.4h1.4M227.4 465.0h1.4M227.7 464.5h1.4M228.0 463.7h1.4M228.2 464.0h1.4M228.5 464.1h1.4M228.7 463.6h1.4M229.0 465.3h1.4M229.3 464.2h1.4M229.5 463.3h1.4M229.8 466.0h1.4M230.0 466.8h1.4M230.3 466.3h1.4M230.6 463.5h1.4M230.8 463.7h1.4M231.1 465.6h1.4M231.3 464.9h1.4M231.6 464.6h1.4M231.9 463.9h1.4M232.1 467.4h1.4M232.4 465.8h1.4M232.6 465.5h1.4M232.9 464.8h1.4M233.2 465.1h1.4M233.4 465.5h1.4M233.7 464.8h1.4M234.0 468.2h1.4M234.2 461.6h1.4M234.5 464.2h1.4M234.7 464.2h1.4M235.0 466.0h1.4M235.3 464.7h1.4M235.5 462.8h1.4M235.8 463.1h1.4M236.0 465.1h1.4M236.3 466.7h1.4M236.6 465.0h1.4M236.8 465.6h1.4M237.1 464.2h1.4M237.3 466.7h1.4M237.6 465.5h1.4M237.9 464.9h1.4M238.1 465.8h1.4M238.4 464.0h1.4M238.6 466.6h1.4M238.9 466.7h1.4M239.2 465.7h1.4M239.4 464.3h1.4M239.7 465.6h1.4M239.9 466.0h1.4M240.2 464.3h1.4M240.5 465.0h1.4M240.7 465.9h1.4M241.0 465.2h1.4M241.2 465.6h1.4M241.5 464.6h1.4M241.8 465.2h1.4M242.0 466.3h1.4M242.3 465.9h1.4M242.5 465.8h1.4M242.8 464.9h1.4M243.1 464.9h1.4M243.3 466.3h1.4M243.6 465.6h1.4M243.9 465.0h1.4M244.1 464.1h1.4M244.4 465.1h1.4M244.6 463.1h1.4M244.9 465.4h1.4M245.2 464.5h1.4M245.4 465.8h1.4M245.7 466.6h1.4M245.9 465.3h1.4M246.2 464.9h1.4M246.5 465.0h1.4M246.7 465.3h1.4M247.0 465.8h1.4M247.2 466.4h1.4M247.5 465.8h1.4M247.8 464.9h1.4M248.0 464.3h1.4M248.3 469.3h1.4M248.5 464.8h1.4M248.8 464.2h1.4M249.1 464.0h1.4M249.3 465.0h1.4M249.6 464.7h1.4M249.8 466.0h1.4M250.1 465.6h1.4M250.4 464.9h1.4M250.6 466.8h1.4M250.9 466.5h1.4M251.1 465.3h1.4M251.4 467.1h1.4M251.7 465.5h1.4M251.9 467.3h1.4M252.2 465.3h1.4M252.4 465.5h1.4M252.7 466.2h1.4M253.0 466.7h1.4M253.2 466.2h1.4M253.5 468.2h1.4M253.8 466.1h1.4M254.0 465.5h1.4M254.3 464.2h1.4M254.5 466.2h1.4M254.8 465.8h1.4M255.1 464.0h1.4M255.3 463.6h1.4M255.6 466.2h1.4M255.8 464.4h1.4M256.1 464.3h1.4M256.4 465.1h1.4M256.6 466.8h1.4M256.9 466.8h1.4M257.1 465.0h1.4M257.4 462.9h1.4M257.7 465.9h1.4M257.9 463.9h1.4M258.2 463.5h1.4M258.4 467.2h1.4M258.7 466.4h1.4M259.0 464.0h1.4M259.2 464.6h1.4M259.5 465.1h1.4M259.7 465.8h1.4M260.0 465.0h1.4M260.3 466.5h1.4M260.5 462.8h1.4M260.8 467.1h1.4M261.0 467.9h1.4M261.3 465.6h1.4M261.6 464.1h1.4M261.8 466.4h1.4M262.1 465.9h1.4M262.3 467.0h1.4M262.6 465.9h1.4M262.9 467.0h1.4M263.1 467.0h1.4M263.4 467.6h1.4M263.7 466.5h1.4M263.9 463.7h1.4M264.2 465.9h1.4M264.4 465.6h1.4M264.7 463.3h1.4M265.0 466.6h1.4M265.2 467.1h1.4M265.5 465.3h1.4M265.7 467.4h1.4M266.0 465.5h1.4M266.3 464.6h1.4M266.5 467.2h1.4M266.8 466.6h1.4M267.0 464.0h1.4M267.3 467.2h1.4M267.6 466.8h1.4M267.8 465.7h1.4M268.1 466.3h1.4M268.3 467.0h1.4M268.6 464.1h1.4M268.9 466.7h1.4M269.1 465.6h1.4M269.4 466.5h1.4M269.6 466.3h1.4M269.9 467.6h1.4M270.2 465.0h1.4M270.4 466.6h1.4M270.7 464.6h1.4M270.9 467.4h1.4M271.2 466.6h1.4M271.5 465.5h1.4M271.7 466.0h1.4M272.0 466.9h1.4M272.2 466.3h1.4M272.5 467.6h1.4M272.8 466.1h1.4M273.0 469.2h1.4M273.3 465.9h1.4M273.6 464.6h1.4M273.8 465.1h1.4M274.1 465.2h1.4M274.3 466.7h1.4M274.6 465.6h1.4M274.9 466.7h1.4M275.1 466.3h1.4M275.4 466.3h1.4M275.6 470.2h1.4M275.9 465.1h1.4M276.2 465.7h1.4M276.4 465.3h1.4M276.7 467.4h1.4M276.9 465.5h1.4M277.2 465.7h1.4M277.5 468.9h1.4M277.7 468.4h1.4M278.0 466.2h1.4M278.2 467.1h1.4M278.5 466.3h1.4M278.8 467.1h1.4M279.0 464.6h1.4M279.3 468.6h1.4M279.5 468.0h1.4M279.8 467.5h1.4M280.1 468.0h1.4M280.3 467.1h1.4M280.6 466.4h1.4M280.8 468.0h1.4M281.1 466.0h1.4M281.4 464.9h1.4M281.6 465.2h1.4M281.9 464.1h1.4M282.1 465.1h1.4M282.4 466.5h1.4M282.7 464.4h1.4M282.9 465.7h1.4M283.2 464.3h1.4M283.5 466.7h1.4M283.7 469.0h1.4M284.0 467.9h1.4M284.2 466.3h1.4M284.5 465.9h1.4M284.8 466.8h1.4M285.0 465.4h1.4M285.3 467.9h1.4M285.5 467.4h1.4M285.8 465.5h1.4M286.1 466.6h1.4M286.3 466.5h1.4M286.6 465.0h1.4M286.8 465.4h1.4M287.1 467.6h1.4M287.4 466.4h1.4M287.6 468.7h1.4M287.9 466.7h1.4M288.1 466.2h1.4M288.4 468.7h1.4M288.7 464.9h1.4M288.9 464.4h1.4M289.2 466.2h1.4M289.4 465.7h1.4M289.7 465.0h1.4M290.0 467.0h1.4M290.2 465.6h1.4M290.5 466.3h1.4M290.7 468.6h1.4M291.0 467.9h1.4M291.3 467.5h1.4M291.5 465.6h1.4M291.8 466.7h1.4M292.0 465.7h1.4M292.3 467.4h1.4M292.6 468.4h1.4M292.8 464.5h1.4M293.1 463.7h1.4M293.4 466.5h1.4M293.6 467.2h1.4M293.9 465.6h1.4M294.1 468.2h1.4M294.4 467.2h1.4M294.7 468.6h1.4M294.9 466.4h1.4M295.2 466.7h1.4M295.4 467.5h1.4M295.7 467.8h1.4M296.0 468.8h1.4M296.2 468.0h1.4M296.5 465.6h1.4M296.7 467.5h1.4M297.0 465.6h1.4M297.3 468.1h1.4M297.5 467.2h1.4M297.8 467.7h1.4M298.0 467.4h1.4M298.3 466.2h1.4M298.6 469.5h1.4M298.8 466.3h1.4M299.1 466.4h1.4M299.3 467.2h1.4M299.6 467.1h1.4M299.9 467.5h1.4M300.1 466.4h1.4M300.4 467.2h1.4M300.6 468.2h1.4M300.9 467.1h1.4M301.2 466.2h1.4M301.4 466.9h1.4M301.7 467.3h1.4M301.9 467.1h1.4M302.2 467.9h1.4M302.5 467.9h1.4M302.7 469.5h1.4M303.0 467.6h1.4M303.3 466.2h1.4M303.5 467.8h1.4M303.8 468.4h1.4M304.0 466.4h1.4M304.3 467.2h1.4M304.6 467.3h1.4M304.8 466.9h1.4M305.1 466.6h1.4M305.3 467.5h1.4M305.6 468.4h1.4M305.9 465.5h1.4M306.1 467.4h1.4M306.4 468.4h1.4M306.6 467.3h1.4M306.9 466.2h1.4M307.2 469.2h1.4M307.4 466.1h1.4M307.7 467.7h1.4M307.9 465.3h1.4M308.2 466.8h1.4M308.5 467.7h1.4M308.7 466.2h1.4M309.0 466.2h1.4M309.2 468.1h1.4M309.5 467.4h1.4M309.8 468.3h1.4M310.0 466.6h1.4M310.3 469.3h1.4M310.5 467.9h1.4M310.8 470.2h1.4M311.1 467.1h1.4M311.3 470.3h1.4M311.6 469.0h1.4M311.8 467.5h1.4M312.1 468.2h1.4M312.4 468.3h1.4M312.6 468.9h1.4M312.9 468.4h1.4M313.2 469.8h1.4M313.4 467.5h1.4M313.7 467.0h1.4M313.9 467.0h1.4M314.2 467.9h1.4M314.5 466.5h1.4M314.7 467.4h1.4M315.0 466.8h1.4M315.2 467.5h1.4M315.5 467.9h1.4M315.8 468.8h1.4M316.0 471.0h1.4M316.3 467.3h1.4M316.5 468.2h1.4M316.8 465.8h1.4M317.1 470.3h1.4M317.3 467.1h1.4M317.6 469.2h1.4M317.8 468.1h1.4M318.1 469.1h1.4M318.4 467.7h1.4M318.6 468.2h1.4M318.9 467.1h1.4M319.1 468.0h1.4M319.4 467.6h1.4M319.7 466.7h1.4M319.9 467.6h1.4M320.2 468.4h1.4M320.4 466.8h1.4M320.7 468.4h1.4M321.0 467.8h1.4M321.2 468.6h1.4M321.5 469.0h1.4M321.7 471.7h1.4M322.0 467.5h1.4M322.3 469.6h1.4M322.5 467.5h1.4M322.8 466.3h1.4M323.1 469.9h1.4M323.3 467.4h1.4M323.6 468.5h1.4M323.8 467.9h1.4M324.1 469.8h1.4M324.4 468.4h1.4M324.6 468.3h1.4M324.9 466.9h1.4M325.1 466.1h1.4M325.4 468.1h1.4M325.7 468.9h1.4M325.9 466.0h1.4M326.2 468.7h1.4M326.4 468.6h1.4M326.7 468.5h1.4M327.0 468.1h1.4M327.2 467.8h1.4M327.5 469.3h1.4M327.7 468.8h1.4M328.0 466.5h1.4M328.3 466.9h1.4M328.5 468.2h1.4M328.8 468.4h1.4M329.0 469.0h1.4M329.3 467.6h1.4M329.6 469.3h1.4M329.8 468.6h1.4M330.1 469.3h1.4M330.3 469.5h1.4M330.6 468.7h1.4M330.9 468.8h1.4M331.1 469.5h1.4M331.4 468.9h1.4M331.6 468.8h1.4M331.9 469.4h1.4M332.2 469.6h1.4M332.4 469.1h1.4M332.7 468.1h1.4M333.0 467.7h1.4M333.2 468.7h1.4M333.5 469.3h1.4M333.7 469.0h1.4M334.0 466.8h1.4M334.3 468.0h1.4M334.5 470.1h1.4M334.8 469.1h1.4M335.0 469.6h1.4M335.3 469.5h1.4M335.6 471.0h1.4M335.8 469.1h1.4M336.1 470.6h1.4M336.3 469.8h1.4M336.6 467.4h1.4M336.9 468.0h1.4M337.1 470.1h1.4M337.4 470.3h1.4M337.6 470.2h1.4M337.9 471.3h1.4M338.2 470.3h1.4M338.4 469.6h1.4M338.7 470.4h1.4M338.9 468.4h1.4M339.2 469.4h1.4M339.5 469.9h1.4M339.7 467.4h1.4M340.0 468.6h1.4M340.2 469.3h1.4M340.5 467.3h1.4M340.8 467.9h1.4" fill="none" stroke="#000000" stroke-opacity="0.3" stroke-width="1.2"/>
<path d="M195.1 421.0h1.4M195.4 419.4h1.4M195.7 420.6h1.4M195.9 422.2h1.4M196.2 417.0h1.4M196.4 417.7h1.4M196.7 422.0h1.4M197.0 419.3h1.4M197.2 422.6h1.4M197.5 418.4h1.4M197.7 420.2h1.4M198.0 420.6h1.4M198.3 418.2h1.4M198.5 420.2h1.4M198.8 420.6h1.4M199.0 418.8h1.4M199.3 420.7h1.4M199.6 418.9h1.4M199.8 420.3h1.4M200.1 419.0h1.4M200.3 419.4h1.4M200.6 419.2h1.4M200.9 422.0h1.4M201.1 417.5h1.4M201.4 420.7h1.4M201.6 417.7h1.4M201.9 421.4h1.4M202.2 421.0h1.4M202.4 421.0h1.4M202.7 418.8h1.4M202.9 421.3h1.4M203.2 420.0h1.4M203.5 423.1h1.4M203.7 421.4h1.4M204.0 420.3h1.4M204.3 420.9h1.4M204.5 423.7h1.4M204.8 420.0h1.4M205.0 422.3h1.4M205.3 417.8h1.4M205.6 421.1h1.4M205.8 417.3h1.4M206.1 419.8h1.4M206.3 420.2h1.4M206.6 421.7h1.4M206.9 421.1h1.4M207.1 420.3h1.4M207.4 424.0h1.4M207.6 419.4h1.4M207.9 422.9h1.4M208.2 421.5h1.4M208.4 425.3h1.4M208.7 420.4h1.4M208.9 419.9h1.4M209.2 420.7h1.4M209.5 420.6h1.4M209.7 421.8h1.4M210.0 421.0h1.4M210.2 419.3h1.4M210.5 421.9h1.4M210.8 420.5h1.4M211.0 420.1h1.4M211.3 421.7h1.4M211.5 420.9h1.4M211.8 421.0h1.4M212.1 422.1h1.4M212.3 417.6h1.4M212.6 422.1h1.4M212.8 418.7h1.4M213.1 419.8h1.4M213.4 424.6h1.4M213.6 421.1h1.4M213.9 419.9h1.4M214.2 420.2h1.4M214.4 422.9h1.4M214.7 421.1h1.4M214.9 423.4h1.4M215.2 423.2h1.4M215.5 422.0h1.4M215.7 421.3h1.4M216.0 419.1h1.4M216.2 421.1h1.4M216.5 420.0h1.4M216.8 423.6h1.4M217.0 423.5h1.4M217.3 422.5h1.4M217.5 419.0h1.4M217.8 423.9h1.4M218.1 424.3h1.4M218.3 421.9h1.4M218.6 419.9h1.4M218.8 424.4h1.4M219.1 422.2h1.4M219.4 424.0h1.4M219.6 419.6h1.4M219.9 420.8h1.4M220.1 421.5h1.4M220.4 422.0h1.4M220.7 422.3h1.4M220.9 421.7h1.4M221.2 423.0h1.4M221.4 423.4h1.4M221.7 423.7h1.4M222.0 422.0h1.4M222.2 423.3h1.4M222.5 420.6h1.4M222.7 425.3h1.4M223.0 421.2h1.4M223.3 421.2h1.4M223.5 420.2h1.4M223.8 422.5h1.4M224.1 424.5h1.4M224.3 423.6h1.4M224.6 420.3h1.4M224.8 422.6h1.4M225.1 422.8h1.4M225.4 423.1h1.4M225.6 422.3h1.4M225.9 422.5h1.4M226.1 424.6h1.4M226.4 423.1h1.4M226.7 420.6h1.4M226.9 419.9h1.4M227.2 422.4h1.4M227.4 423.0h1.4M227.7 420.1h1.4M228.0 422.5h1.4M228.2 424.1h1.4M228.5 422.5h1.4M228.7 421.2h1.4M229.0 419.8h1.4M229.3 423.0h1.4M229.5 421.4h1.4M229.8 422.8h1.4M230.0 420.5h1.4M230.3 421.9h1.4M230.6 421.9h1.4M230.8 423.9h1.4M231.1 422.8h1.4M231.3 422.8h1.4M231.6 428.0h1.4M231.9 421.0h1.4M232.1 422.4h1.4M232.4 422.7h1.4M232.6 422.9h1.4M232.9 422.3h1.4M233.2 422.0h1.4M233.4 424.4h1.4M233.7 422.2h1.4M234.0 422.2h1.4M234.2 422.3h1.4M234.5 424.7h1.4M234.7 422.6h1.4M235.0 424.4h1.4M235.3 421.8h1.4M235.5 420.3h1.4M235.8 421.0h1.4M236.0 422.9h1.4M236.3 423.3h1.4M236.6 423.3h1.4M236.8 421.9h1.4M237.1 423.5h1.4M237.3 423.3h1.4M237.6 426.4h1.4M237.9 423.8h1.4M238.1 423.7h1.4M238.4 423.3h1.4M238.6 420.5h1.4M238.9 424.6h1.4M239.2 424.5h1.4M239.4 421.5h1.4M239.7 424.0h1.4M239.9 422.7h1.4M240.2 422.2h1.4M240.5 422.5h1.4M240.7 423.7h1.4M241.0 421.0h1.4M241.2 420.1h1.4M241.5 424.1h1.4M241.8 422.9h1.4M242.0 421.0h1.4M242.3 422.8h1.4M242.5 424.1h1.4M242.8 423.2h1.4M243.1 421.2h1.4M243.3 424.1h1.4M243.6 422.1h1.4M243.9 421.9h1.4M244.1 423.6h1.4M244.4 421.6h1.4M244.6 421.5h1.4M244.9 421.0h1.4M245.2 421.1h1.4M245.4 424.9h1.4M245.7 421.1h1.4M245.9 421.6h1.4M246.2 421.0h1.4M246.5 423.9h1.4M246.7 421.1h1.4M247.0 422.0h1.4M247.2 424.4h1.4M247.5 420.6h1.4M247.8 423.8h1.4M248.0 424.2h1.4M248.3 422.0h1.4M248.5 423.5h1.4M248.8 422.0h1.4M249.1 423.0h1.4M249.3 422.1h1.4M249.6 421.3h1.4M249.8 422.6h1.4M250.1 421.2h1.4M250.4 421.3h1.4M250.6 423.9h1.4M250.9 421.3h1.4M251.1 421.6h1.4M251.4 422.4h1.4M251.7 420.9h1.4M251.9 420.0h1.4M252.2 421.4h1.4M252.4 424.9h1.4M252.7 421.9h1.4M253.0 422.8h1.4M253.2 423.0h1.4M253.5 422.1h1.4M253.8 423.1h1.4M254.0 420.1h1.4M254.3 422.2h1.4M254.5 422.6h1.4M254.8 421.4h1.4M255.1 421.4h1.4M255.3 420.8h1.4M255.6 421.6h1.4M255.8 422.7h1.4M256.1 422.4h1.4M256.4 426.0h1.4M256.6 424.9h1.4M256.9 421.0h1.4M257.1 423.2h1.4M257.4 419.8h1.4M257.7 419.8h1.4M257.9 424.6h1.4M258.2 422.2h1.4M258.4 418.1h1.4M258.7 423.9h1.4M259.0 422.0h1.4M259.2 423.0h1.4M259.5 423.0h1.4M259.7 423.1h1.4M260.0 422.7h1.4M260.3 421.5h1.4M260.5 423.9h1.4M260.8 421.9h1.4M261.0 423.8h1.4M261.3 421.8h1.4M261.6 422.2h1.4M261.8 423.9h1.4M262.1 422.4h1.4M262.3 423.8h1.4M262.6 424.0h1.4M262.9 420.8h1.4M263.1 425.5h1.4M263.4 421.8h1.4M263.7 421.6h1.4M263.9 423.6h1.4M264.2 421.0h1.4M264.4 421.2h1.4M264.7 424.7h1.4M265.0 421.8h1.4M265.2 421.9h1.4M265.5 423.8h1.4M265.7 421.8h1.4M266.0 421.5h1.4M266.3 423.8h1.4M266.5 425.8h1.4M266.8 422.0h1.4M267.0 423.8h1.4M267.3 425.4h1.4M267.6 423.3h1.4M267.8 426.4h1.4M268.1 423.2h1.4M268.3 420.3h1.4M268.6 427.1h1.4M268.9 422.0h1.4M269.1 424.1h1.4M269.4 423.3h1.4M269.6 424.1h1.4M269.9 421.7h1.4M270.2 422.7h1.4M270.4 423.9h1.4M270.7 424.7h1.4M270.9 423.3h1.4M271.2 420.8h1.4M271.5 424.6h1.4M271.7 422.0h1.4M272.0 422.1h1.4M272.2 425.8h1.4M272.5 420.9h1.4M272.8 422.7h1.4M273.0 419.1h1.4M273.3 419.9h1.4M273.6 423.0h1.4M273.8 422.9h1.4M274.1 424.2h1.4M274.3 424.8h1.4M274.6 421.4h1.4M274.9 423.0h1.4M275.1 423.2h1.4M275.4 422.9h1.4M275.6 421.5h1.4M275.9 421.1h1.4M276.2 422.6h1.4M276.4 422.9h1.4M276.7 422.4h1.4M276.9 419.3h1.4M277.2 425.8h1.4M277.5 424.4h1.4M277.7 421.8h1.4M278.0 422.3h1.4M278.2 420.6h1.4M278.5 420.4h1.4M278.8 419.4h1.4M279.0 423.8h1.4M279.3 421.5h1.4M279.5 422.9h1.4M279.8 420.9h1.4M280.1 422.2h1.4M280.3 421.1h1.4M280.6 423.6h1.4M280.8 422.2h1.4M281.1 423.2h1.4M281.4 422.8h1.4M281.6 423.1h1.4M281.9 424.0h1.4M282.1 420.6h1.4M282.4 421.9h1.4M282.7 420.7h1.4M282.9 423.9h1.4M283.2 425.5h1.4M283.5 423.4h1.4M283.7 422.6h1.4M284.0 421.1h1.4M284.2 420.6h1.4M284.5 420.4h1.4M284.8 419.9h1.4M285.0 421.1h1.4M285.3 422.1h1.4M285.5 423.5h1.4M285.8 421.2h1.4M286.1 423.0h1.4M286.3 423.5h1.4M286.6 421.3h1.4M286.8 421.9h1.4M287.1 420.8h1.4M287.4 423.3h1.4M287.6 420.3h1.4M287.9 421.6h1.4M288.1 422.4h1.4M288.4 423.3h1.4M288.7 423.8h1.4M288.9 424.3h1.4M289.2 419.9h1.4M289.4 424.3h1.4M289.7 421.1h1.4M290.0 422.5h1.4M290.2 423.0h1.4M290.5 422.8h1.4M290.7 422.2h1.4M291.0 420.6h1.4M291.3 421.1h1.4M291.5 422.0h1.4M291.8 424.2h1.4M292.0 424.8h1.4M292.3 419.0h1.4M292.6 423.5h1.4M292.8 424.4h1.4M293.1 420.1h1.4M293.4 424.3h1.4M293.6 420.7h1.4M293.9 420.4h1.4M294.1 421.5h1.4M294.4 420.3h1.4M294.7 424.0h1.4M294.9 423.8h1.4M295.2 422.1h1.4M295.4 421.8h1.4M295.7 421.9h1.4M296.0 421.0h1.4M296.2 422.9h1.4M296.5 425.1h1.4M296.7 421.1h1.4M297.0 422.1h1.4M297.3 420.4h1.4M297.5 418.4h1.4M297.8 421.5h1.4M298.0 420.7h1.4M298.3 423.1h1.4M298.6 420.2h1.4M298.8 421.1h1.4M299.1 421.2h1.4M299.3 420.1h1.4M299.6 423.4h1.4M299.9 420.6h1.4M300.1 420.8h1.4M300.4 419.0h1.4M300.6 424.4h1.4M300.9 421.6h1.4M301.2 418.0h1.4M301.4 422.1h1.4M301.7 422.1h1.4M301.9 418.6h1.4M302.2 417.4h1.4M302.5 421.2h1.4M302.7 422.5h1.4M303.0 422.3h1.4M303.3 422.0h1.4M303.5 422.7h1.4M303.8 422.6h1.4M304.0 421.0h1.4M304.3 421.2h1.4M304.6 420.5h1.4M304.8 421.2h1.4M305.1 423.1h1.4M305.3 420.0h1.4M305.6 420.8h1.4M305.9 422.1h1.4M306.1 421.6h1.4M306.4 420.6h1.4M306.6 421.0h1.4M306.9 421.3h1.4M307.2 419.8h1.4M307.4 419.3h1.4M307.7 421.5h1.4M307.9 421.0h1.4M308.2 422.7h1.4M308.5 421.2h1.4M308.7 420.2h1.4M309.0 419.5h1.4M309.2 420.6h1.4M309.5 421.0h1.4M309.8 422.0h1.4M310.0 420.4h1.4M310.3 422.5h1.4M310.5 420.5h1.4M310.8 420.7h1.4M311.1 422.1h1.4M311.3 420.1h1.4M311.6 421.0h1.4M311.8 419.6h1.4M312.1 421.3h1.4M312.4 419.8h1.4M312.6 418.0h1.4M312.9 420.2h1.4M313.2 419.2h1.4M313.4 421.4h1.4M313.7 420.9h1.4M313.9 423.4h1.4M314.2 420.6h1.4M314.5 422.1h1.4M314.7 420.1h1.4M315.0 423.5h1.4M315.2 421.6h1.4M315.5 420.0h1.4M315.8 419.5h1.4M316.0 422.7h1.4M316.3 420.7h1.4M316.5 415.9h1.4M316.8 418.7h1.4M317.1 419.7h1.4M317.3 424.3h1.4M317.6 421.3h1.4M317.8 419.0h1.4M318.1 419.4h1.4M318.4 419.0h1.4M318.6 418.1h1.4M318.9 419.5h1.4M319.1 418.2h1.4M319.4 422.4h1.4M319.7 415.5h1.4M319.9 420.0h1.4M320.2 420.5h1.4M320.4 417.0h1.4M320.7 418.4h1.4M321.0 417.8h1.4M321.2 420.3h1.4M321.5 418.8h1.4M321.7 418.0h1.4M322.0 421.0h1.4M322.3 419.4h1.4M322.5 419.4h1.4M322.8 419.5h1.4M323.1 420.1h1.4M323.3 420.9h1.4M323.6 418.2h1.4M323.8 418.4h1.4M324.1 416.9h1.4M324.4 418.8h1.4M324.6 419.8h1.4M324.9 421.0h1.4M325.1 418.4h1.4M325.4 419.0h1.4M325.7 415.3h1.4M325.9 414.8h1.4M326.2 415.9h1.4M326.4 419.8h1.4M326.7 420.5h1.4M327.0 418.6h1.4M327.2 419.6h1.4M327.5 415.9h1.4M327.7 417.9h1.4M328.0 418.7h1.4M328.3 418.0h1.4M328.5 415.9h1.4M328.8 419.4h1.4M329.0 417.1h1.4M329.3 419.9h1.4M329.6 418.1h1.4M329.8 418.7h1.4M330.1 417.1h1.4M330.3 417.3h1.4M330.6 415.6h1.4M330.9 416.4h1.4M331.1 418.4h1.4M331.4 419.5h1.4M331.6 418.6h1.4M331.9 417.9h1.4M332.2 417.6h1.4M332.4 418.4h1.4M332.7 415.3h1.4M333.0 415.5h1.4M333.2 417.4h1.4M333.5 417.7h1.4M333.7 417.3h1.4M334.0 416.9h1.4M334.3 416.8h1.4M334.5 419.3h1.4M334.8 417.3h1.4M335.0 419.6h1.4M335.3 416.5h1.4M335.6 415.4h1.4M335.8 418.1h1.4M336.1 416.1h1.4M336.3 417.3h1.4M336.6 417.4h1.4M336.9 413.0h1.4M337.1 414.7h1.4M337.4 415.3h1.4M337.6 416.7h1.4M337.9 415.3h1.4M338.2 416.2h1.4M338.4 415.1h1.4M338.7 417.3h1.4M338.9 415.9h1.4M339.2 416.3h1.4M339.5 417.9h1.4M339.7 412.8h1.4M340.0 414.2h1.4M340.2 416.7h1.4M340.5 417.8h1.4M340.8 416.5h1.4" fill="none" stroke="#1565D2" stroke-opacity="0.3" stroke-width="1.2"/>
<path d="M195.1 409.9h1.4M195.4 409.5h1.4M195.7 411.1h1.4M195.9 410.0h1.4M196.2 408.5h1.4M196.4 408.0h1.4M196.7 412.0h1.4M197.0 408.8h1.4M197.2 410.4h1.4M197.5 410.6h1.4M197.7 409.4h1.4M198.0 410.1h1.4M198.3 407.8h1.4M198.5 407.8h1.4M198.8 409.5h1.4M199.0 410.1h1.4M199.3 406.1h1.4M199.6 406.0h1.4M199.8 408.5h1.4M200.1 409.5h1.4M200.3 407.6h1.4M200.6 406.9h1.4M200.9 410.2h1.4M201.1 406.4h1.4M201.4 409.7h1.4M201.6 407.7h1.4M201.9 410.4h1.4M202.2 409.4h1.4M202.4 410.4h1.4M202.7 409.6h1.4M202.9 408.0h1.4M203.2 411.2h1.4M203.5 410.3h1.4M203.7 408.9h1.4M204.0 410.6h1.4M204.3 406.5h1.4M204.5 412.4h1.4M204.8 405.7h1.4M205.0 411.1h1.4M205.3 408.4h1.4M205.6 407.4h1.4M205.8 409.3h1.4M206.1 412.5h1.4M206.3 410.8h1.4M206.6 410.2h1.4M206.9 409.4h1.4M207.1 408.7h1.4M207.4 408.5h1.4M207.6 408.0h1.4M207.9 412.1h1.4M208.2 408.9h1.4M208.4 413.5h1.4M208.7 410.4h1.4M208.9 412.5h1.4M209.2 413.7h1.4M209.5 409.2h1.4M209.7 410.9h1.4M210.0 409.2h1.4M210.2 413.5h1.4M210.5 413.0h1.4M210.8 411.2h1.4M211.0 412.1h1.4M211.3 411.0h1.4M211.5 412.2h1.4M211.8 411.7h1.4M212.1 413.1h1.4M212.3 409.1h1.4M212.6 411.8h1.4M212.8 413.3h1.4M213.1 410.3h1.4M213.4 410.6h1.4M213.6 411.1h1.4M213.9 411.2h1.4M214.2 412.2h1.4M214.4 411.9h1.4M214.7 415.4h1.4M214.9 414.3h1.4M215.2 413.8h1.4M215.5 411.3h1.4M215.7 409.8h1.4M216.0 412.2h1.4M216.2 412.4h1.4M216.5 410.1h1.4M216.8 412.7h1.4M217.0 411.0h1.4M217.3 411.4h1.4M217.5 414.4h1.4M217.8 411.7h1.4M218.1 412.0h1.4M218.3 414.3h1.4M218.6 414.1h1.4M218.8 414.6h1.4M219.1 410.2h1.4M219.4 409.0h1.4M219.6 411.4h1.4M219.9 410.0h1.4M220.1 414.9h1.4M220.4 410.4h1.4M220.7 409.5h1.4M220.9 410.2h1.4M221.2 414.5h1.4M221.4 411.1h1.4M221.7 413.2h1.4M222.0 411.3h1.4M222.2 414.2h1.4M222.5 413.1h1.4M222.7 414.2h1.4M223.0 412.5h1.4M223.3 413.5h1.4M223.5 411.5h1.4M223.8 412.0h1.4M224.1 412.8h1.4M224.3 413.6h1.4M224.6 414.1h1.4M224.8 413.6h1.4M225.1 412.4h1.4M225.4 413.5h1.4M225.6 413.3h1.4M225.9 413.9h1.4M226.1 414.0h1.4M226.4 415.0h1.4M226.7 417.1h1.4M226.9 413.1h1.4M227.2 413.2h1.4M227.4 415.8h1.4M227.7 411.0h1.4M228.0 416.2h1.4M228.2 412.6h1.4M228.5 413.9h1.4M228.7 413.9h1.4M229.0 412.6h1.4M229.3 413.0h1.4M229.5 414.5h1.4M229.8 416.4h1.4M230.0 416.7h1.4M230.3 414.4h1.4M230.6 412.2h1.4M230.8 413.4h1.4M231.1 414.9h1.4M231.3 414.4h1.4M231.6 413.9h1.4M231.9 412.2h1.4M232.1 416.4h1.4M232.4 414.0h1.4M232.6 414.8h1.4M232.9 416.5h1.4M233.2 417.0h1.4M233.4 413.3h1.4M233.7 414.9h1.4M234.0 415.8h1.4M234.2 415.4h1.4M234.5 414.0h1.4M234.7 415.5h1.4M235.0 413.1h1.4M235.3 416.2h1.4M235.5 417.2h1.4M235.8 416.1h1.4M236.0 417.5h1.4M236.3 416.6h1.4M236.6 414.1h1.4M236.8 413.3h1.4M237.1 415.2h1.4M237.3 416.0h1.4M237.6 417.9h1.4M237.9 418.1h1.4M238.1 415.9h1.4M238.4 416.3h1.4M238.6 417.6h1.4M238.9 417.4h1.4M239.2 414.2h1.4M239.4 415.2h1.4M239.7 416.8h1.4M239.9 416.6h1.4M240.2 414.9h1.4M240.5 416.5h1.4M240.7 416.7h1.4M241.0 419.8h1.4M241.2 420.1h1.4M241.5 420.5h1.4M241.8 421.1h1.4M242.0 417.5h1.4M242.3 417.0h1.4M242.5 419.0h1.4M242.8 417.0h1.4M243.1 417.0h1.4M243.3 417.9h1.4M243.6 420.3h1.4M243.9 415.6h1.4M244.1 415.8h1.4M244.4 419.0h1.4M244.6 415.0h1.4M244.9 418.2h1.4M245.2 419.6h1.4M245.4 419.0h1.4M245.7 421.5h1.4M245.9 419.1h1.4M246.2 421.2h1.4M246.5 416.8h1.4M246.7 418.2h1.4M247.0 421.1h1.4M247.2 417.9h1.4M247.5 421.8h1.4M247.8 418.8h1.4M248.0 418.3h1.4M248.3 419.0h1.4M248.5 421.1h1.4M248.8 419.5h1.4M249.1 419.7h1.4M249.3 419.3h1.4M249.6 417.1h1.4M249.8 416.8h1.4M250.1 417.1h1.4M250.4 420.8h1.4M250.6 421.0h1.4M250.9 419.8h1.4M251.1 419.2h1.4M251.4 423.4h1.4M251.7 421.1h1.4M251.9 417.2h1.4M252.2 422.2h1.4M252.4 421.5h1.4M252.7 421.5h1.4M253.0 419.6h1.4M253.2 420.6h1.4M253.5 421.1h1.4M253.8 423.1h1.4M254.0 419.7h1.4M254.3 420.8h1.4M254.5 421.9h1.4M254.8 420.9h1.4M255.1 419.7h1.4M255.3 423.5h1.4M255.6 423.7h1.4M255.8 422.9h1.4M256.1 422.7h1.4M256.4 426.3h1.4M256.6 422.4h1.4M256.9 419.7h1.4M257.1 422.1h1.4M257.4 420.0h1.4M257.7 426.3h1.4M257.9 421.9h1.4M258.2 419.6h1.4M258.4 419.3h1.4M258.7 422.8h1.4M259.0 423.4h1.4M259.2 421.5h1.4M259.5 424.1h1.4M259.7 422.8h1.4M260.0 425.0h1.4M260.3 422.2h1.4M260.5 422.4h1.4M260.8 419.8h1.4M261.0 422.0h1.4M261.3 423.7h1.4M261.6 422.8h1.4M261.8 424.8h1.4M262.1 422.7h1.4M262.3 423.2h1.4M262.6 422.2h1.4M262.9 421.5h1.4M263.1 426.3h1.4M263.4 422.6h1.4M263.7 422.0h1.4M263.9 425.2h1.4M264.2 420.2h1.4M264.4 424.5h1.4M264.7 419.4h1.4M265.0 422.2h1.4M265.2 422.0h1.4M265.5 423.1h1.4M265.7 422.0h1.4M266.0 425.4h1.4M266.3 425.0h1.4M266.5 427.0h1.4M266.8 423.0h1.4M267.0 425.1h1.4M267.3 422.8h1.4M267.6 423.1h1.4M267.8 426.2h1.4M268.1 423.0h1.4M268.3 423.8h1.4M268.6 423.9h1.4M268.9 423.5h1.4M269.1 424.4h1.4M269.4 424.4h1.4M269.6 422.7h1.4M269.9 426.1h1.4M270.2 426.5h1.4M270.4 425.8h1.4M270.7 423.0h1.4M270.9 425.2h1.4M271.2 421.7h1.4M271.5 429.8h1.4M271.7 426.0h1.4M272.0 425.6h1.4M272.2 424.5h1.4M272.5 422.9h1.4M272.8 425.4h1.4M273.0 426.8h1.4M273.3 423.8h1.4M273.6 422.8h1.4M273.8 429.4h1.4M274.1 424.4h1.4M274.3 424.9h1.4M274.6 426.8h1.4M274.9 426.3h1.4M275.1 425.1h1.4M275.4 425.6h1.4M275.6 426.1h1.4M275.9 427.6h1.4M276.2 425.3h1.4M276.4 426.9h1.4M276.7 425.7h1.4M276.9 426.9h1.4M277.2 425.7h1.4M277.5 424.8h1.4M277.7 425.7h1.4M278.0 425.1h1.4M278.2 428.4h1.4M278.5 425.5h1.4M278.8 425.8h1.4M279.0 427.3h1.4M279.3 426.7h1.4M279.5 430.9h1.4M279.8 426.4h1.4M280.1 427.2h1.4M280.3 430.2h1.4M280.6 425.8h1.4M280.8 427.7h1.4M281.1 426.3h1.4M281.4 427.2h1.4M281.6 426.1h1.4M281.9 426.8h1.4M282.1 427.4h1.4M282.4 426.2h1.4M282.7 425.7h1.4M282.9 430.7h1.4M283.2 427.1h1.4M283.5 428.1h1.4M283.7 429.0h1.4M284.0 425.2h1.4M284.2 425.8h1.4M284.5 429.0h1.4M284.8 429.2h1.4M285.0 426.2h1.4M285.3 428.5h1.4M285.5 428.1h1.4M285.8 430.8h1.4M286.1 427.9h1.4M286.3 425.9h1.4M286.6 428.5h1.4M286.8 428.0h1.4M287.1 425.1h1.4M287.4 426.5h1.4M287.6 425.7h1.4M287.9 427.0h1.4M288.1 426.1h1.4M288.4 430.7h1.4M288.7 429.4h1.4M288.9 430.8h1.4M289.2 424.7h1.4M289.4 428.0h1.4M289.7 428.5h1.4M290.0 429.6h1.4M290.2 430.0h1.4M290.5 432.9h1.4M290.7 425.0h1.4M291.0 428.7h1.4M291.3 428.5h1.4M291.5 430.8h1.4M291.8 428.8h1.4M292.0 428.1h1.4M292.3 428.9h1.4M292.6 427.8h1.4M292.8 430.2h1.4M293.1 428.4h1.4M293.4 427.5h1.4M293.6 428.1h1.4M293.9 428.4h1.4M294.1 429.2h1.4M294.4 430.6h1.4M294.7 428.3h1.4M294.9 429.8h1.4M295.2 430.7h1.4M295.4 428.0h1.4M295.7 431.8h1.4M296.0 430.2h1.4M296.2 428.1h1.4M296.5 427.9h1.4M296.7 430.0h1.4M297.0 429.4h1.4M297.3 428.7h1.4M297.5 429.7h1.4M297.8 430.8h1.4M298.0 428.9h1.4M298.3 429.4h1.4M298.6 429.5h1.4M298.8 428.0h1.4M299.1 429.3h1.4M299.3 430.5h1.4M299.6 429.6h1.4M299.9 426.8h1.4M300.1 431.0h1.4M300.4 430.4h1.4M300.6 431.2h1.4M300.9 429.5h1.4M301.2 432.0h1.4M301.4 429.4h1.4M301.7 428.9h1.4M301.9 431.4h1.4M302.2 431.5h1.4M302.5 432.5h1.4M302.7 430.2h1.4M303.0 432.0h1.4M303.3 431.3h1.4M303.5 431.0h1.4M303.8 431.4h1.4M304.0 429.1h1.4M304.3 427.9h1.4M304.6 433.8h1.4M304.8 431.7h1.4M305.1 430.1h1.4M305.3 432.2h1.4M305.6 431.4h1.4M305.9 430.3h1.4M306.1 428.4h1.4M306.4 428.8h1.4M306.6 431.1h1.4M306.9 430.5h1.4M307.2 431.3h1.4M307.4 431.0h1.4M307.7 432.6h1.4M307.9 433.6h1.4M308.2 431.4h1.4M308.5 429.3h1.4M308.7 429.7h1.4M309.0 433.8h1.4M309.2 431.3h1.4M309.5 432.0h1.4M309.8 430.6h1.4M310.0 432.7h1.4M310.3 429.6h1.4M310.5 431.4h1.4M310.8 430.2h1.4M311.1 429.8h1.4M311.3 434.2h1.4M311.6 431.5h1.4M311.8 428.9h1.4M312.1 431.2h1.4M312.4 429.7h1.4M312.6 430.6h1.4M312.9 432.1h1.4M313.2 430.9h1.4M313.4 429.7h1.4M313.7 429.4h1.4M313.9 429.2h1.4M314.2 433.2h1.4M314.5 430.2h1.4M314.7 433.7h1.4M315.0 431.7h1.4M315.2 431.9h1.4M315.5 430.6h1.4M315.8 431.1h1.4M316.0 429.7h1.4M316.3 432.6h1.4M316.5 430.4h1.4M316.8 431.1h1.4M317.1 431.7h1.4M317.3 433.6h1.4M317.6 430.9h1.4M317.8 431.3h1.4M318.1 430.6h1.4M318.4 431.9h1.4M318.6 432.3h1.4M318.9 431.3h1.4M319.1 431.2h1.4M319.4 430.9h1.4M319.7 429.1h1.4M319.9 433.0h1.4M320.2 428.9h1.4M320.4 436.7h1.4M320.7 430.6h1.4M321.0 433.4h1.4M321.2 429.0h1.4M321.5 433.5h1.4M321.7 430.5h1.4M322.0 433.7h1.4M322.3 434.0h1.4M322.5 431.0h1.4M322.8 430.9h1.4M323.1 433.4h1.4M323.3 428.6h1.4M323.6 432.8h1.4M323.8 429.9h1.4M324.1 433.9h1.4M324.4 433.9h1.4M324.6 432.3h1.4M324.9 434.0h1.4M325.1 431.8h1.4M325.4 435.8h1.4M325.7 432.2h1.4M325.9 433.4h1.4M326.2 434.0h1.4M326.4 432.2h1.4M326.7 432.9h1.4M327.0 433.3h1.4M327.2 431.4h1.4M327.5 432.2h1.4M327.7 432.1h1.4M328.0 430.6h1.4M328.3 432.8h1.4M328.5 431.4h1.4M328.8 433.4h1.4M329.0 431.8h1.4M329.3 432.0h1.4M329.6 433.6h1.4M329.8 435.1h1.4M330.1 434.8h1.4M330.3 434.3h1.4M330.6 432.0h1.4M330.9 433.1h1.4M331.1 433.4h1.4M331.4 432.2h1.4M331.6 431.8h1.4M331.9 430.8h1.4M332.2 433.9h1.4M332.4 432.1h1.4M332.7 431.9h1.4M333.0 434.5h1.4M333.2 432.8h1.4M333.5 434.5h1.4M333.7 433.4h1.4M334.0 432.4h1.4M334.3 435.7h1.4M334.5 434.4h1.4M334.8 434.4h1.4M335.0 433.0h1.4M335.3 434.3h1.4M335.6 432.6h1.4M335.8 434.5h1.4M336.1 434.0h1.4M336.3 432.3h1.4M336.6 432.7h1.4M336.9 433.0h1.4M337.1 433.3h1.4M337.4 431.7h1.4M337.6 431.2h1.4M337.9 433.8h1.4M338.2 434.4h1.4M338.4 434.9h1.4M338.7 430.6h1.4M338.9 434.7h1.4M339.2 435.4h1.4M339.5 432.9h1.4M339.7 431.7h1.4M340.0 435.3h1.4M340.2 433.6h1.4M340.5 435.6h1.4M340.8 434.5h1.4" fill="none" stroke="#6DB31E" stroke-opacity="0.3" stroke-width="1.2"/>
<path d="M195.1 432.5h1.4M195.4 434.7h1.4M195.7 435.3h1.4M195.9 434.8h1.4M196.2 434.4h1.4M196.4 434.9h1.4M196.7 436.6h1.4M197.0 436.5h1.4M197.2 431.6h1.4M197.5 435.8h1.4M197.7 432.8h1.4M198.0 435.7h1.4M198.3 432.6h1.4M198.5 433.4h1.4M198.8 434.8h1.4M199.0 431.4h1.4M199.3 435.8h1.4M199.6 434.7h1.4M199.8 435.6h1.4M200.1 435.5h1.4M200.3 434.8h1.4M200.6 435.7h1.4M200.9 434.7h1.4M201.1 431.7h1.4M201.4 436.7h1.4M201.6 436.0h1.4M201.9 435.5h1.4M202.2 434.7h1.4M202.4 432.4h1.4M202.7 432.8h1.4M202.9 433.1h1.4M203.2 433.5h1.4M203.5 430.1h1.4M203.7 435.4h1.4M204.0 435.4h1.4M204.3 433.7h1.4M204.5 433.3h1.4M204.8 433.9h1.4M205.0 434.8h1.4M205.3 435.5h1.4M205.6 433.9h1.4M205.8 434.5h1.4M206.1 434.1h1.4M206.3 435.0h1.4M206.6 431.2h1.4M206.9 432.5h1.4M207.1 430.3h1.4M207.4 433.9h1.4M207.6 433.0h1.4M207.9 433.4h1.4M208.2 433.0h1.4M208.4 433.4h1.4M208.7 433.2h1.4M208.9 435.9h1.4M209.2 433.3h1.4M209.5 431.7h1.4M209.7 435.7h1.4M210.0 433.2h1.4M210.2 431.8h1.4M210.5 430.7h1.4M210.8 432.7h1.4M211.0 431.8h1.4M211.3 429.8h1.4M211.5 430.4h1.4M211.8 433.1h1.4M212.1 433.3h1.4M212.3 430.7h1.4M212.6 431.9h1.4M212.8 433.1h1.4M213.1 432.5h1.4M213.4 431.6h1.4M213.6 432.4h1.4M213.9 432.4h1.4M214.2 432.4h1.4M214.4 434.2h1.4M214.7 429.2h1.4M214.9 430.0h1.4M215.2 429.5h1.4M215.5 432.0h1.4M215.7 431.5h1.4M216.0 430.8h1.4M216.2 430.3h1.4M216.5 434.4h1.4M216.8 431.0h1.4M217.0 433.0h1.4M217.3 431.5h1.4M217.5 432.4h1.4M217.8 428.7h1.4M218.1 430.5h1.4M218.3 431.3h1.4M218.6 429.0h1.4M218.8 431.3h1.4M219.1 432.2h1.4M219.4 431.3h1.4M219.6 431.6h1.4M219.9 430.9h1.4M220.1 429.6h1.4M220.4 431.0h1.4M220.7 430.9h1.4M220.9 429.2h1.4M221.2 430.3h1.4M221.4 429.2h1.4M221.7 430.4h1.4M222.0 432.6h1.4M222.2 432.2h1.4M222.5 433.0h1.4M222.7 428.6h1.4M223.0 429.7h1.4M223.3 431.0h1.4M223.5 431.8h1.4M223.8 429.6h1.4M224.1 430.4h1.4M224.3 429.6h1.4M224.6 431.4h1.4M224.8 431.7h1.4M225.1 427.5h1.4M225.4 431.4h1.4M225.6 429.9h1.4M225.9 427.7h1.4M226.1 432.6h1.4M226.4 428.6h1.4M226.7 429.5h1.4M226.9 429.8h1.4M227.2 429.1h1.4M227.4 431.3h1.4M227.7 432.9h1.4M228.0 426.4h1.4M228.2 429.8h1.4M228.5 427.9h1.4M228.7 427.5h1.4M229.0 428.7h1.4M229.3 428.4h1.4M229.5 428.0h1.4M229.8 426.6h1.4M230.0 428.2h1.4M230.3 426.9h1.4M230.6 429.3h1.4M230.8 429.5h1.4M231.1 428.6h1.4M231.3 428.1h1.4M231.6 427.8h1.4M231.9 425.5h1.4M232.1 427.2h1.4M232.4 428.4h1.4M232.6 425.3h1.4M232.9 427.9h1.4M233.2 427.8h1.4M233.4 427.5h1.4M233.7 428.7h1.4M234.0 429.9h1.4M234.2 427.9h1.4M234.5 428.5h1.4M234.7 429.3h1.4M235.0 427.7h1.4M235.3 428.2h1.4M235.5 428.7h1.4M235.8 430.5h1.4M236.0 428.0h1.4M236.3 424.9h1.4M236.6 426.2h1.4M236.8 425.8h1.4M237.1 427.5h1.4M237.3 425.7h1.4M237.6 428.4h1.4M237.9 428.0h1.4M238.1 426.4h1.4M238.4 429.4h1.4M238.6 427.0h1.4M238.9 426.6h1.4M239.2 424.3h1.4M239.4 428.0h1.4M239.7 426.2h1.4M239.9 427.8h1.4M240.2 427.6h1.4M240.5 430.9h1.4M240.7 428.1h1.4M241.0 424.7h1.4M241.2 425.7h1.4M241.5 426.2h1.4M241.8 422.5h1.4M242.0 425.4h1.4M242.3 428.2h1.4M242.5 426.5h1.4M242.8 426.2h1.4M243.1 423.5h1.4M243.3 427.4h1.4M243.6 425.2h1.4M243.9 424.3h1.4M244.1 427.0h1.4M244.4 425.6h1.4M244.6 428.8h1.4M244.9 425.4h1.4M245.2 429.0h1.4M245.4 426.1h1.4M245.7 422.7h1.4M245.9 424.7h1.4M246.2 425.2h1.4M246.5 424.9h1.4M246.7 421.7h1.4M247.0 424.2h1.4M247.2 423.3h1.4M247.5 425.6h1.4M247.8 425.5h1.4M248.0 426.4h1.4M248.3 425.0h1.4M248.5 425.8h1.4M248.8 423.0h1.4M249.1 423.5h1.4M249.3 424.6h1.4M249.6 425.2h1.4M249.8 428.9h1.4M250.1 425.2h1.4M250.4 423.7h1.4M250.6 423.1h1.4M250.9 428.9h1.4M251.1 427.8h1.4M251.4 423.6h1.4M251.7 425.5h1.4M251.9 424.1h1.4M252.2 424.4h1.4M252.4 422.7h1.4M252.7 426.5h1.4M253.0 424.4h1.4M253.2 421.9h1.4M253.5 423.0h1.4M253.8 424.6h1.4M254.0 422.5h1.4M254.3 422.7h1.4M254.5 424.5h1.4M254.8 421.9h1.4M255.1 421.9h1.4M255.3 423.1h1.4M255.6 421.3h1.4M255.8 424.6h1.4M256.1 421.4h1.4M256.4 422.9h1.4M256.6 424.0h1.4M256.9 423.4h1.4M257.1 420.5h1.4M257.4 423.2h1.4M257.7 422.8h1.4M257.9 423.2h1.4M258.2 423.4h1.4M258.4 420.5h1.4M258.7 418.4h1.4M259.0 419.8h1.4M259.2 421.0h1.4M259.5 420.5h1.4M259.7 422.2h1.4M260.0 422.4h1.4M260.3 423.4h1.4M260.5 419.2h1.4M260.8 422.0h1.4M261.0 422.5h1.4M261.3 422.3h1.4M261.6 420.9h1.4M261.8 422.0h1.4M262.1 421.0h1.4M262.3 420.7h1.4M262.6 418.8h1.4M262.9 422.9h1.4M263.1 420.3h1.4M263.4 421.8h1.4M263.7 421.3h1.4M263.9 418.0h1.4M264.2 419.5h1.4M264.4 421.1h1.4M264.7 419.6h1.4M265.0 420.3h1.4M265.2 418.5h1.4M265.5 421.0h1.4M265.7 419.3h1.4M266.0 420.4h1.4M266.3 420.0h1.4M266.5 420.1h1.4M266.8 420.8h1.4M267.0 419.6h1.4M267.3 418.1h1.4M267.6 420.6h1.4M267.8 420.2h1.4M268.1 418.9h1.4M268.3 420.6h1.4M268.6 418.0h1.4M268.9 418.2h1.4M269.1 422.9h1.4M269.4 420.2h1.4M269.6 420.8h1.4M269.9 417.7h1.4M270.2 417.4h1.4M270.4 420.8h1.4M270.7 419.9h1.4M270.9 418.9h1.4M271.2 419.3h1.4M271.5 417.5h1.4M271.7 417.0h1.4M272.0 417.5h1.4M272.2 416.6h1.4M272.5 416.8h1.4M272.8 418.4h1.4M273.0 418.9h1.4M273.3 419.3h1.4M273.6 416.7h1.4M273.8 416.6h1.4M274.1 416.3h1.4M274.3 418.4h1.4M274.6 418.4h1.4M274.9 417.3h1.4M275.1 415.6h1.4M275.4 417.0h1.4M275.6 417.2h1.4M275.9 418.8h1.4M276.2 416.7h1.4M276.4 416.4h1.4M276.7 418.8h1.4M276.9 414.3h1.4M277.2 418.6h1.4M277.5 415.5h1.4M277.7 417.3h1.4M278.0 416.6h1.4M278.2 418.1h1.4M278.5 417.7h1.4M278.8 415.5h1.4M279.0 416.9h1.4M279.3 417.1h1.4M279.5 415.0h1.4M279.8 415.2h1.4M280.1 416.1h1.4M280.3 415.9h1.4M280.6 413.4h1.4M280.8 416.4h1.4M281.1 415.4h1.4M281.4 415.3h1.4M281.6 418.2h1.4M281.9 419.0h1.4M282.1 415.6h1.4M282.4 414.3h1.4M282.7 415.3h1.4M282.9 416.4h1.4M283.2 416.6h1.4M283.5 414.1h1.4M283.7 415.9h1.4M284.0 417.9h1.4M284.2 414.1h1.4M284.5 414.8h1.4M284.8 414.5h1.4M285.0 413.3h1.4M285.3 412.8h1.4M285.5 414.0h1.4M285.8 415.1h1.4M286.1 418.2h1.4M286.3 414.2h1.4M286.6 414.8h1.4M286.8 412.4h1.4M287.1 412.4h1.4M287.4 413.6h1.4M287.6 412.1h1.4M287.9 414.4h1.4M288.1 414.3h1.4M288.4 415.5h1.4M288.7 414.6h1.4M288.9 413.6h1.4M289.2 412.2h1.4M289.4 415.0h1.4M289.7 412.4h1.4M290.0 409.8h1.4M290.2 415.8h1.4M290.5 414.0h1.4M290.7 413.5h1.4M291.0 411.8h1.4M291.3 410.1h1.4M291.5 411.2h1.4M291.8 413.3h1.4M292.0 414.5h1.4M292.3 413.2h1.4M292.6 413.1h1.4M292.8 412.5h1.4M293.1 414.3h1.4M293.4 410.3h1.4M293.6 413.9h1.4M293.9 411.5h1.4M294.1 412.2h1.4M294.4 414.3h1.4M294.7 412.3h1.4M294.9 412.3h1.4M295.2 412.6h1.4M295.4 410.9h1.4M295.7 413.0h1.4M296.0 407.9h1.4M296.2 410.2h1.4M296.5 413.5h1.4M296.7 416.0h1.4M297.0 409.7h1.4M297.3 411.3h1.4M297.5 411.5h1.4M297.8 413.2h1.4M298.0 413.9h1.4M298.3 414.6h1.4M298.6 407.1h1.4M298.8 408.7h1.4M299.1 412.2h1.4M299.3 408.1h1.4M299.6 414.2h1.4M299.9 409.9h1.4M300.1 409.8h1.4M300.4 412.4h1.4M300.6 411.6h1.4M300.9 412.5h1.4M301.2 410.7h1.4M301.4 408.5h1.4M301.7 408.9h1.4M301.9 409.8h1.4M302.2 408.6h1.4M302.5 413.4h1.4M302.7 406.9h1.4M303.0 410.3h1.4M303.3 412.4h1.4M303.5 410.8h1.4M303.8 411.1h1.4M304.0 409.8h1.4M304.3 409.4h1.4M304.6 413.8h1.4M304.8 407.7h1.4M305.1 406.8h1.4M305.3 411.4h1.4M305.6 407.1h1.4M305.9 407.4h1.4M306.1 407.7h1.4M306.4 406.6h1.4M306.6 411.6h1.4M306.9 408.0h1.4M307.2 410.9h1.4M307.4 405.1h1.4M307.7 410.7h1.4M307.9 411.0h1.4M308.2 407.0h1.4M308.5 407.8h1.4M308.7 408.7h1.4M309.0 408.5h1.4M309.2 407.6h1.4M309.5 405.6h1.4M309.8 409.7h1.4M310.0 409.4h1.4M310.3 409.3h1.4M310.5 408.4h1.4M310.8 408.2h1.4M311.1 410.3h1.4M311.3 407.6h1.4M311.6 410.2h1.4M311.8 408.5h1.4M312.1 408.3h1.4M312.4 408.2h1.4M312.6 405.2h1.4M312.9 404.9h1.4M313.2 405.8h1.4M313.4 404.9h1.4M313.7 408.0h1.4M313.9 405.0h1.4M314.2 407.4h1.4M314.5 406.9h1.4M314.7 406.8h1.4M315.0 409.4h1.4M315.2 408.1h1.4M315.5 407.3h1.4M315.8 406.3h1.4M316.0 407.1h1.4M316.3 408.3h1.4M316.5 408.7h1.4M316.8 406.7h1.4M317.1 408.6h1.4M317.3 408.6h1.4M317.6 406.7h1.4M317.8 406.1h1.4M318.1 407.8h1.4M318.4 409.3h1.4M318.6 405.7h1.4M318.9 404.8h1.4M319.1 406.8h1.4M319.4 406.7h1.4M319.7 409.9h1.4M319.9 404.3h1.4M320.2 407.7h1.4M320.4 404.5h1.4M320.7 406.7h1.4M321.0 405.9h1.4M321.2 405.9h1.4M321.5 408.6h1.4M321.7 400.7h1.4M322.0 408.0h1.4M322.3 405.1h1.4M322.5 406.6h1.4M322.8 405.6h1.4M323.1 402.7h1.4M323.3 408.2h1.4M323.6 405.2h1.4M323.8 404.0h1.4M324.1 404.6h1.4M324.4 404.1h1.4M324.6 406.0h1.4M324.9 407.4h1.4M325.1 406.8h1.4M325.4 405.2h1.4M325.7 403.2h1.4M325.9 404.2h1.4M326.2 401.5h1.4M326.4 404.1h1.4M326.7 403.8h1.4M327.0 403.8h1.4M327.2 407.0h1.4M327.5 403.0h1.4M327.7 405.8h1.4M328.0 404.5h1.4M328.3 399.7h1.4M328.5 405.8h1.4M328.8 403.4h1.4M329.0 403.1h1.4M329.3 403.3h1.4M329.6 403.4h1.4M329.8 404.3h1.4M330.1 399.9h1.4M330.3 406.7h1.4M330.6 404.9h1.4M330.9 400.6h1.4M331.1 402.1h1.4M331.4 404.3h1.4M331.6 404.5h1.4M331.9 403.3h1.4M332.2 398.2h1.4M332.4 401.9h1.4M332.7 404.4h1.4M333.0 402.2h1.4M333.2 403.6h1.4M333.5 399.9h1.4M333.7 401.9h1.4M334.0 400.1h1.4M334.3 402.0h1.4M334.5 398.7h1.4M334.8 401.4h1.4M335.0 401.6h1.4M335.3 403.8h1.4M335.6 402.7h1.4M335.8 401.2h1.4M336.1 402.7h1.4M336.3 397.4h1.4M336.6 401.7h1.4M336.9 402.9h1.4M337.1 399.8h1.4M337.4 402.4h1.4M337.6 400.7h1.4M337.9 401.5h1.4M338.2 402.5h1.4M338.4 398.8h1.4M338.7 401.0h1.4M338.9 399.2h1.4M339.2 401.6h1.4M339.5 403.4h1.4M339.7 403.0h1.4M340.0 401.7h1.4M340.2 401.1h1.4M340.5 400.6h1.4M340.8 399.7h1.4" fill="none" stroke="#FF8C00" stroke-opacity="0.3" stroke-width="1.2"/>
<polyline points="195.83,464.51 197.47,464.31 199.10,464.25 200.74,464.12 202.38,463.98 204.01,464.21 205.65,464.33 207.29,464.39 208.92,464.50 210.56,464.71 212.20,464.84 213.83,464.93 215.47,464.98 217.10,464.97 218.74,464.81 220.38,464.94 222.01,464.78 223.65,464.82 225.29,464.95 226.92,464.93 228.56,464.91 230.20,465.12 231.83,465.13 233.47,465.29 235.10,465.33 236.74,465.28 238.38,465.38 240.01,465.50 241.65,465.46 243.29,465.47 244.92,465.39 246.56,465.42 248.20,465.52 249.83,465.37 251.47,465.28 253.10,465.34 254.74,465.29 256.38,465.38 258.01,465.41 259.65,465.35 261.29,465.52 262.92,465.58 264.56,465.76 266.20,465.81 267.83,465.86 269.47,465.93 271.10,466.05 272.74,466.16 274.38,466.39 276.01,466.36 277.65,466.42 279.29,466.60 280.92,466.64 282.56,466.84 284.20,466.92 285.83,466.86 287.47,466.89 289.10,467.01 290.74,467.06 292.38,467.06 294.01,467.03 295.65,467.00 297.29,467.09 298.92,467.19 300.56,467.16 302.20,467.19 303.83,467.23 305.47,467.24 307.10,467.38 308.74,467.40 310.38,467.42 312.01,467.61 313.65,467.67 315.29,467.81 316.92,467.90 318.56,468.01 320.20,468.24 321.83,468.53 323.47,468.63 325.10,468.73 326.74,468.75 328.38,468.82 330.01,468.81 331.65,468.72 333.29,468.65 334.92,468.79 336.56,468.82 338.20,469.04 339.83,469.19 341.47,469.27" fill="none" stroke="#000000" stroke-width="1.5" stroke-linejoin="round"/>
<polyline points="195.83,419.86 197.47,420.03 199.10,420.50 200.74,420.38 202.38,420.60 204.01,420.86 205.65,420.74 207.29,421.06 208.92,421.19 210.56,421.16 212.20,421.43 213.83,421.56 215.47,421.54 217.10,421.90 218.74,421.81 220.38,421.90 222.01,421.96 223.65,422.07 225.29,422.09 226.92,422.19 228.56,422.10 230.20,422.19 231.83,422.37 233.47,422.37 235.10,422.33 236.74,422.33 238.38,422.32 240.01,422.56 241.65,422.35 243.29,422.29 244.92,422.43 246.56,422.65 248.20,422.59 249.83,422.69 251.47,422.55 253.10,422.79 254.74,422.78 256.38,422.72 258.01,422.47 259.65,422.51 261.29,422.58 262.92,422.71 264.56,422.59 266.20,422.65 267.83,422.71 269.47,422.69 271.10,422.70 272.74,422.85 274.38,422.83 276.01,422.96 277.65,423.00 279.29,422.88 280.92,422.71 282.56,422.43 284.20,422.20 285.83,421.91 287.47,421.72 289.10,421.55 290.74,421.59 292.38,421.65 294.01,421.85 295.65,421.72 297.29,421.63 298.92,421.69 300.56,421.43 302.20,421.19 303.83,421.17 305.47,421.09 307.10,420.95 308.74,420.79 310.38,420.61 312.01,420.53 313.65,420.39 315.29,420.31 316.92,420.08 318.56,419.85 320.20,419.64 321.83,419.23 323.47,419.06 325.10,418.76 326.74,418.34 328.38,417.94 330.01,417.68 331.65,417.49 333.29,417.39 334.92,416.87 336.56,416.39 338.20,416.10 339.83,415.66 341.47,415.29" fill="none" stroke="#1565D2" stroke-width="1.5" stroke-linejoin="round"/>
<polyline points="195.83,408.54 197.47,408.74 199.10,409.04 200.74,409.24 202.38,409.31 204.01,409.50 205.65,409.76 207.29,410.02 208.92,410.39 210.56,410.56 212.20,410.82 213.83,411.09 215.47,411.21 217.10,411.56 218.74,411.73 220.38,411.93 222.01,412.40 223.65,412.77 225.29,413.32 226.92,413.74 228.56,414.08 230.20,414.57 231.83,415.05 233.47,415.35 235.10,415.71 236.74,416.14 238.38,416.56 240.01,417.03 241.65,417.58 243.29,417.99 244.92,418.39 246.56,418.93 248.20,419.41 249.83,419.82 251.47,419.91 253.10,420.29 254.74,420.68 256.38,421.24 258.01,421.49 259.65,421.60 261.29,422.01 262.92,422.57 264.56,423.00 266.20,423.38 267.83,423.81 269.47,424.21 271.10,424.73 272.74,425.03 274.38,425.57 276.01,425.78 277.65,426.11 279.29,426.37 280.92,426.78 282.56,427.15 284.20,427.51 285.83,427.68 287.47,428.01 289.10,428.29 290.74,428.41 292.38,428.64 294.01,428.78 295.65,428.92 297.29,429.16 298.92,429.35 300.56,429.58 302.20,429.73 303.83,429.91 305.47,430.15 307.10,430.35 308.74,430.43 310.38,430.52 312.01,430.70 313.65,430.96 315.29,431.08 316.92,431.20 318.56,431.35 320.20,431.59 321.83,431.85 323.47,431.85 325.10,432.09 326.74,432.14 328.38,432.09 330.01,432.08 331.65,432.22 333.29,432.36 334.92,432.74 336.56,432.80 338.20,432.79 339.83,433.19 341.47,433.57" fill="none" stroke="#6DB31E" stroke-width="1.5" stroke-linejoin="round"/>
<polyline points="195.83,435.01 197.47,434.97 199.10,434.69 200.74,434.28 202.38,434.09 204.01,434.01 205.65,433.66 207.29,433.49 208.92,433.12 210.56,433.00 212.20,432.76 213.83,432.34 215.47,431.99 217.10,431.68 218.74,431.33 220.38,431.02 222.01,430.59 223.65,430.12 225.29,429.91 226.92,429.49 228.56,429.41 230.20,429.15 231.83,428.76 233.47,428.59 235.10,428.26 236.74,428.04 238.38,427.57 240.01,426.97 241.65,426.64 243.29,426.35 244.92,425.87 246.56,425.67 248.20,425.21 249.83,424.96 251.47,424.40 253.10,423.84 254.74,423.24 256.38,422.84 258.01,422.35 259.65,421.82 261.29,421.32 262.92,420.93 264.56,420.38 266.20,420.01 267.83,419.51 269.47,418.93 271.10,418.55 272.74,418.26 274.38,417.81 276.01,417.52 277.65,417.15 279.29,416.64 280.92,416.36 282.56,415.86 284.20,415.27 285.83,414.83 287.47,414.32 289.10,413.88 290.74,413.50 292.38,413.26 294.01,412.70 295.65,412.45 297.29,412.08 298.92,411.50 300.56,411.11 302.20,410.85 303.83,410.04 305.47,409.78 307.10,409.23 308.74,408.81 310.38,408.56 312.01,408.03 313.65,407.47 315.29,407.10 316.92,406.71 318.56,406.21 320.20,405.84 321.83,405.42 323.47,405.14 325.10,404.76 326.74,404.30 328.38,403.91 330.01,403.67 331.65,403.14 333.29,402.82 334.92,402.39 336.56,401.95 338.20,401.47 339.83,401.06 341.47,400.56" fill="none" stroke="#FF8C00" stroke-width="1.5" stroke-linejoin="round"/>
<rect x="188.55" y="358.3" width="160.2" height="166" fill="none" stroke="#333333" stroke-width="1.1"/>
<rect x="188.55" y="335" width="160.2" height="23.3" fill="#CCCCCC" stroke="#333333" stroke-width="1.1"/>
<text transform="translate(268.65,349.45) scale(0.926,1)" text-anchor="middle" font-family='"Liberation Sans", sans-serif' font-size="9.72" fill="#1A1A1A">Pattern 2<tspan dx="12.2" dy="-1" font-family='"Liberation Serif", serif' font-style="italic" font-size="10.8">ψ</tspan><tspan dy="1"> = 0.5</tspan></text>
<line x1="195.83" x2="195.83" y1="524.3" y2="527.9" stroke="#555" stroke-width="0.9"/>
<line x1="232.24" x2="232.24" y1="524.3" y2="527.9" stroke="#555" stroke-width="0.9"/>
<line x1="268.65" x2="268.65" y1="524.3" y2="527.9" stroke="#555" stroke-width="0.9"/>
<line x1="305.06" x2="305.06" y1="524.3" y2="527.9" stroke="#555" stroke-width="0.9"/>
<line x1="341.47" x2="341.47" y1="524.3" y2="527.9" stroke="#555" stroke-width="0.9"/>
<text transform="translate(195.83,537.70) scale(0.926,1)" text-anchor="middle" font-family='"Liberation Sans", sans-serif' font-size="9.94" fill="#333333">0</text>
<text transform="translate(232.24,537.70) scale(0.926,1)" text-anchor="middle" font-family='"Liberation Sans", sans-serif' font-size="9.94" fill="#333333">0.25</text>
<text transform="translate(268.65,537.70) scale(0.926,1)" text-anchor="middle" font-family='"Liberation Sans", sans-serif' font-size="9.94" fill="#333333">0.5</text>
<text transform="translate(305.06,537.70) scale(0.926,1)" text-anchor="middle" font-family='"Liberation Sans", sans-serif' font-size="9.94" fill="#333333">0.75</text>
<text transform="translate(341.47,537.70) scale(0.926,1)" text-anchor="middle" font-family='"Liberation Sans", sans-serif' font-size="9.94" fill="#333333">1</text>
<rect x="356" y="358.3" width="160.2" height="166" fill="#fff"/>
<line x1="356" x2="516.2" y1="493.5" y2="493.5" stroke="#D4D4D4" stroke-width="0.9" stroke-dasharray="2.6 1.8"/>
<line x1="356" x2="516.2" y1="458.45" y2="458.45" stroke="#D4D4D4" stroke-width="0.9" stroke-dasharray="2.6 1.8"/>
<line x1="356" x2="516.2" y1="423.4" y2="423.4" stroke="#D4D4D4" stroke-width="0.9" stroke-dasharray="2.6 1.8"/>
<line x1="356" x2="516.2" y1="388.35" y2="388.35" stroke="#D4D4D4" stroke-width="0.9" stroke-dasharray="2.6 1.8"/>
<line x1="363.28" x2="363.28" y1="524.3" y2="358.3" stroke="#D4D4D4" stroke-width="0.9" stroke-dasharray="2.6 1.8"/>
<line x1="399.69" x2="399.69" y1="524.3" y2="358.3" stroke="#D4D4D4" stroke-width="0.9" stroke-dasharray="2.6 1.8"/>
<line x1="436.1" x2="436.1" y1="524.3" y2="358.3" stroke="#D4D4D4" stroke-width="0.9" stroke-dasharray="2.6 1.8"/>
<line x1="472.51" x2="472.51" y1="524.3" y2="358.3" stroke="#D4D4D4" stroke-width="0.9" stroke-dasharray="2.6 1.8"/>
<line x1="508.92" x2="508.92" y1="524.3" y2="358.3" stroke="#D4D4D4" stroke-width="0.9" stroke-dasharray="2.6 1.8"/>
<path d="M362.6 483.9h1.4M362.8 484.9h1.4M363.1 484.1h1.4M363.4 483.6h1.4M363.6 484.9h1.4M363.9 483.0h1.4M364.1 485.1h1.4M364.4 484.2h1.4M364.7 483.7h1.4M364.9 481.2h1.4M365.2 485.6h1.4M365.4 483.8h1.4M365.7 481.8h1.4M366.0 484.6h1.4M366.2 483.1h1.4M366.5 483.9h1.4M366.8 485.4h1.4M367.0 483.7h1.4M367.3 484.9h1.4M367.5 484.0h1.4M367.8 485.4h1.4M368.1 483.4h1.4M368.3 486.3h1.4M368.6 484.2h1.4M368.8 482.9h1.4M369.1 483.6h1.4M369.4 484.4h1.4M369.6 484.3h1.4M369.9 484.5h1.4M370.1 481.6h1.4M370.4 484.2h1.4M370.7 484.1h1.4M370.9 484.8h1.4M371.2 484.5h1.4M371.4 483.6h1.4M371.7 484.7h1.4M372.0 484.8h1.4M372.2 484.6h1.4M372.5 484.4h1.4M372.7 484.0h1.4M373.0 484.6h1.4M373.3 484.3h1.4M373.5 484.8h1.4M373.8 483.0h1.4M374.0 484.1h1.4M374.3 484.4h1.4M374.6 483.9h1.4M374.8 484.2h1.4M375.1 485.6h1.4M375.3 484.3h1.4M375.6 482.7h1.4M375.9 483.7h1.4M376.1 483.1h1.4M376.4 484.8h1.4M376.7 485.5h1.4M376.9 484.8h1.4M377.2 483.0h1.4M377.4 485.1h1.4M377.7 484.9h1.4M378.0 483.2h1.4M378.2 484.4h1.4M378.5 484.4h1.4M378.7 483.8h1.4M379.0 484.1h1.4M379.3 484.5h1.4M379.5 484.0h1.4M379.8 484.8h1.4M380.0 484.2h1.4M380.3 483.6h1.4M380.6 485.2h1.4M380.8 484.4h1.4M381.1 485.2h1.4M381.3 483.5h1.4M381.6 483.7h1.4M381.9 483.4h1.4M382.1 483.3h1.4M382.4 483.3h1.4M382.6 483.6h1.4M382.9 484.9h1.4M383.2 483.4h1.4M383.4 485.0h1.4M383.7 482.1h1.4M383.9 484.0h1.4M384.2 483.7h1.4M384.5 485.3h1.4M384.7 483.3h1.4M385.0 483.2h1.4M385.2 485.7h1.4M385.5 484.8h1.4M385.8 484.7h1.4M386.0 484.8h1.4M386.3 483.0h1.4M386.6 482.3h1.4M386.8 485.2h1.4M387.1 483.3h1.4M387.3 484.5h1.4M387.6 483.0h1.4M387.9 486.5h1.4M388.1 484.7h1.4M388.4 483.2h1.4M388.6 485.0h1.4M388.9 483.2h1.4M389.2 484.7h1.4M389.4 483.3h1.4M389.7 483.8h1.4M389.9 484.7h1.4M390.2 485.0h1.4M390.5 484.5h1.4M390.7 483.3h1.4M391.0 484.3h1.4M391.2 484.9h1.4M391.5 481.3h1.4M391.8 485.7h1.4M392.0 484.5h1.4M392.3 483.8h1.4M392.5 485.3h1.4M392.8 484.3h1.4M393.1 484.7h1.4M393.3 485.7h1.4M393.6 483.9h1.4M393.8 485.4h1.4M394.1 485.0h1.4M394.4 483.2h1.4M394.6 485.3h1.4M394.9 483.8h1.4M395.1 483.3h1.4M395.4 483.5h1.4M395.7 483.9h1.4M395.9 484.6h1.4M396.2 485.6h1.4M396.5 484.2h1.4M396.7 484.0h1.4M397.0 484.8h1.4M397.2 485.3h1.4M397.5 483.6h1.4M397.8 485.3h1.4M398.0 484.0h1.4M398.3 484.8h1.4M398.5 485.9h1.4M398.8 482.9h1.4M399.1 483.8h1.4M399.3 483.9h1.4M399.6 485.7h1.4M399.8 484.5h1.4M400.1 484.2h1.4M400.4 485.1h1.4M400.6 482.9h1.4M400.9 486.2h1.4M401.1 483.8h1.4M401.4 486.1h1.4M401.7 485.8h1.4M401.9 485.6h1.4M402.2 483.9h1.4M402.4 485.1h1.4M402.7 485.0h1.4M403.0 485.3h1.4M403.2 485.8h1.4M403.5 485.3h1.4M403.7 485.3h1.4M404.0 484.8h1.4M404.3 484.8h1.4M404.5 486.6h1.4M404.8 485.1h1.4M405.0 483.4h1.4M405.3 484.9h1.4M405.6 484.6h1.4M405.8 485.1h1.4M406.1 485.1h1.4M406.4 484.6h1.4M406.6 485.7h1.4M406.9 484.7h1.4M407.1 486.0h1.4M407.4 484.2h1.4M407.7 485.9h1.4M407.9 484.0h1.4M408.2 483.6h1.4M408.4 486.0h1.4M408.7 484.0h1.4M409.0 484.9h1.4M409.2 483.5h1.4M409.5 485.0h1.4M409.7 484.8h1.4M410.0 484.8h1.4M410.3 483.5h1.4M410.5 486.3h1.4M410.8 483.9h1.4M411.0 484.5h1.4M411.3 485.0h1.4M411.6 484.8h1.4M411.8 483.8h1.4M412.1 483.9h1.4M412.3 483.1h1.4M412.6 485.2h1.4M412.9 486.3h1.4M413.1 485.1h1.4M413.4 484.8h1.4M413.6 485.0h1.4M413.9 483.5h1.4M414.2 482.6h1.4M414.4 484.3h1.4M414.7 486.2h1.4M414.9 483.7h1.4M415.2 485.2h1.4M415.5 484.6h1.4M415.7 483.9h1.4M416.0 484.3h1.4M416.3 484.7h1.4M416.5 484.4h1.4M416.8 484.0h1.4M417.0 484.1h1.4M417.3 482.8h1.4M417.6 487.3h1.4M417.8 485.4h1.4M418.1 485.2h1.4M418.3 483.9h1.4M418.6 484.5h1.4M418.9 483.9h1.4M419.1 486.0h1.4M419.4 484.9h1.4M419.6 484.1h1.4M419.9 484.7h1.4M420.2 485.1h1.4M420.4 484.5h1.4M420.7 483.2h1.4M420.9 486.6h1.4M421.2 483.3h1.4M421.5 484.5h1.4M421.7 485.5h1.4M422.0 484.1h1.4M422.2 484.7h1.4M422.5 483.6h1.4M422.8 485.4h1.4M423.0 483.9h1.4M423.3 485.5h1.4M423.5 484.5h1.4M423.8 484.1h1.4M424.1 484.8h1.4M424.3 484.2h1.4M424.6 485.3h1.4M424.8 483.8h1.4M425.1 485.2h1.4M425.4 485.4h1.4M425.6 484.9h1.4M425.9 484.8h1.4M426.2 485.5h1.4M426.4 484.1h1.4M426.7 484.9h1.4M426.9 484.2h1.4M427.2 486.1h1.4M427.5 486.0h1.4M427.7 485.0h1.4M428.0 485.7h1.4M428.2 484.9h1.4M428.5 484.3h1.4M428.8 483.8h1.4M429.0 483.5h1.4M429.3 484.1h1.4M429.5 485.4h1.4M429.8 484.3h1.4M430.1 485.3h1.4M430.3 484.3h1.4M430.6 485.8h1.4M430.8 483.6h1.4M431.1 484.5h1.4M431.4 485.1h1.4M431.6 486.0h1.4M431.9 484.6h1.4M432.1 485.3h1.4M432.4 484.6h1.4M432.7 485.5h1.4M432.9 485.3h1.4M433.2 484.3h1.4M433.4 483.6h1.4M433.7 486.0h1.4M434.0 485.0h1.4M434.2 484.5h1.4M434.5 485.0h1.4M434.7 485.3h1.4M435.0 483.0h1.4M435.3 485.6h1.4M435.5 484.6h1.4M435.8 485.3h1.4M436.1 485.0h1.4M436.3 486.9h1.4M436.6 484.1h1.4M436.8 485.1h1.4M437.1 485.8h1.4M437.4 483.5h1.4M437.6 485.2h1.4M437.9 485.5h1.4M438.1 485.7h1.4M438.4 484.0h1.4M438.7 484.9h1.4M438.9 485.2h1.4M439.2 486.1h1.4M439.4 485.8h1.4M439.7 484.7h1.4M440.0 485.0h1.4M440.2 486.8h1.4M440.5 485.8h1.4M440.7 484.8h1.4M441.0 482.6h1.4M441.3 485.7h1.4M441.5 487.0h1.4M441.8 484.4h1.4M442.0 485.5h1.4M442.3 486.2h1.4M442.6 484.6h1.4M442.8 485.3h1.4M443.1 485.9h1.4M443.3 486.2h1.4M443.6 485.2h1.4M443.9 485.0h1.4M444.1 486.6h1.4M444.4 484.2h1.4M444.6 486.2h1.4M444.9 483.9h1.4M445.2 484.8h1.4M445.4 485.3h1.4M445.7 484.8h1.4M446.0 485.7h1.4M446.2 485.2h1.4M446.5 483.7h1.4M446.7 485.7h1.4M447.0 484.4h1.4M447.3 486.0h1.4M447.5 485.2h1.4M447.8 484.3h1.4M448.0 486.2h1.4M448.3 484.9h1.4M448.6 487.1h1.4M448.8 486.2h1.4M449.1 485.6h1.4M449.3 484.5h1.4M449.6 484.6h1.4M449.9 486.0h1.4M450.1 485.4h1.4M450.4 485.1h1.4M450.6 486.6h1.4M450.9 484.9h1.4M451.2 484.1h1.4M451.4 484.2h1.4M451.7 485.8h1.4M451.9 485.7h1.4M452.2 486.1h1.4M452.5 485.8h1.4M452.7 485.6h1.4M453.0 484.8h1.4M453.2 485.3h1.4M453.5 486.2h1.4M453.8 484.7h1.4M454.0 484.6h1.4M454.3 485.9h1.4M454.5 485.6h1.4M454.8 485.5h1.4M455.1 486.8h1.4M455.3 485.3h1.4M455.6 484.8h1.4M455.9 483.7h1.4M456.1 485.3h1.4M456.4 485.7h1.4M456.6 485.6h1.4M456.9 484.9h1.4M457.2 484.8h1.4M457.4 486.2h1.4M457.7 485.3h1.4M457.9 484.9h1.4M458.2 487.3h1.4M458.5 484.3h1.4M458.7 485.7h1.4M459.0 484.8h1.4M459.2 485.6h1.4M459.5 485.8h1.4M459.8 485.6h1.4M460.0 485.3h1.4M460.3 484.8h1.4M460.5 485.8h1.4M460.8 486.6h1.4M461.1 486.2h1.4M461.3 486.5h1.4M461.6 485.0h1.4M461.8 486.5h1.4M462.1 484.3h1.4M462.4 485.5h1.4M462.6 485.7h1.4M462.9 484.5h1.4M463.1 486.0h1.4M463.4 485.9h1.4M463.7 485.0h1.4M463.9 485.1h1.4M464.2 486.6h1.4M464.4 483.6h1.4M464.7 485.2h1.4M465.0 486.8h1.4M465.2 485.9h1.4M465.5 485.0h1.4M465.8 485.6h1.4M466.0 485.0h1.4M466.3 483.7h1.4M466.5 485.0h1.4M466.8 484.1h1.4M467.1 485.2h1.4M467.3 486.4h1.4M467.6 484.5h1.4M467.8 486.4h1.4M468.1 485.0h1.4M468.4 485.3h1.4M468.6 486.6h1.4M468.9 486.5h1.4M469.1 486.0h1.4M469.4 485.5h1.4M469.7 484.7h1.4M469.9 485.8h1.4M470.2 484.3h1.4M470.4 485.2h1.4M470.7 486.5h1.4M471.0 486.4h1.4M471.2 485.9h1.4M471.5 486.4h1.4M471.7 486.0h1.4M472.0 485.3h1.4M472.3 485.7h1.4M472.5 485.1h1.4M472.8 486.6h1.4M473.0 486.7h1.4M473.3 487.2h1.4M473.6 487.5h1.4M473.8 486.4h1.4M474.1 485.9h1.4M474.3 486.2h1.4M474.6 486.0h1.4M474.9 484.3h1.4M475.1 487.0h1.4M475.4 486.3h1.4M475.7 486.5h1.4M475.9 486.8h1.4M476.2 484.9h1.4M476.4 486.1h1.4M476.7 485.0h1.4M477.0 487.1h1.4M477.2 484.5h1.4M477.5 484.2h1.4M477.7 486.9h1.4M478.0 486.1h1.4M478.3 486.2h1.4M478.5 485.7h1.4M478.8 487.3h1.4M479.0 485.8h1.4M479.3 485.5h1.4M479.6 486.7h1.4M479.8 488.1h1.4M480.1 486.8h1.4M480.3 486.5h1.4M480.6 485.6h1.4M480.9 486.7h1.4M481.1 487.2h1.4M481.4 485.7h1.4M481.6 485.9h1.4M481.9 485.6h1.4M482.2 486.2h1.4M482.4 485.4h1.4M482.7 485.8h1.4M482.9 487.8h1.4M483.2 486.1h1.4M483.5 485.7h1.4M483.7 486.3h1.4M484.0 485.1h1.4M484.2 486.7h1.4M484.5 485.7h1.4M484.8 487.4h1.4M485.0 486.4h1.4M485.3 486.8h1.4M485.6 487.2h1.4M485.8 487.5h1.4M486.1 486.2h1.4M486.3 486.0h1.4M486.6 486.9h1.4M486.9 487.5h1.4M487.1 487.2h1.4M487.4 485.8h1.4M487.6 487.5h1.4M487.9 485.5h1.4M488.2 487.9h1.4M488.4 486.2h1.4M488.7 485.9h1.4M488.9 485.5h1.4M489.2 486.9h1.4M489.5 487.1h1.4M489.7 487.7h1.4M490.0 485.8h1.4M490.2 486.6h1.4M490.5 486.9h1.4M490.8 486.9h1.4M491.0 486.4h1.4M491.3 486.5h1.4M491.5 485.6h1.4M491.8 488.4h1.4M492.1 485.9h1.4M492.3 487.1h1.4M492.6 486.7h1.4M492.8 486.9h1.4M493.1 486.7h1.4M493.4 486.0h1.4M493.6 486.5h1.4M493.9 487.9h1.4M494.1 486.7h1.4M494.4 486.8h1.4M494.7 486.4h1.4M494.9 486.7h1.4M495.2 486.8h1.4M495.5 485.9h1.4M495.7 487.6h1.4M496.0 484.9h1.4M496.2 487.2h1.4M496.5 487.6h1.4M496.8 486.1h1.4M497.0 485.9h1.4M497.3 485.7h1.4M497.5 485.6h1.4M497.8 486.4h1.4M498.1 486.8h1.4M498.3 486.5h1.4M498.6 486.8h1.4M498.8 487.3h1.4M499.1 485.5h1.4M499.4 485.4h1.4M499.6 486.9h1.4M499.9 487.1h1.4M500.1 487.3h1.4M500.4 488.3h1.4M500.7 487.5h1.4M500.9 487.3h1.4M501.2 486.9h1.4M501.4 487.8h1.4M501.7 488.5h1.4M502.0 486.4h1.4M502.2 485.5h1.4M502.5 488.7h1.4M502.7 487.1h1.4M503.0 486.3h1.4M503.3 488.0h1.4M503.5 488.2h1.4M503.8 487.0h1.4M504.0 487.2h1.4M504.3 487.6h1.4M504.6 485.7h1.4M504.8 485.8h1.4M505.1 486.5h1.4M505.4 487.1h1.4M505.6 487.4h1.4M505.9 486.4h1.4M506.1 487.3h1.4M506.4 485.9h1.4M506.7 486.1h1.4M506.9 487.6h1.4M507.2 486.5h1.4M507.4 485.9h1.4M507.7 486.6h1.4M508.0 487.9h1.4M508.2 487.4h1.4" fill="none" stroke="#000000" stroke-opacity="0.3" stroke-width="1.2"/>
<path d="M362.6 453.8h1.4M362.8 453.3h1.4M363.1 453.5h1.4M363.4 454.1h1.4M363.6 452.5h1.4M363.9 451.9h1.4M364.1 454.6h1.4M364.4 456.0h1.4M364.7 453.5h1.4M364.9 454.1h1.4M365.2 453.6h1.4M365.4 455.2h1.4M365.7 454.0h1.4M366.0 455.7h1.4M366.2 453.1h1.4M366.5 452.3h1.4M366.8 456.0h1.4M367.0 458.3h1.4M367.3 455.5h1.4M367.5 455.7h1.4M367.8 454.8h1.4M368.1 455.1h1.4M368.3 454.5h1.4M368.6 451.6h1.4M368.8 456.1h1.4M369.1 455.9h1.4M369.4 454.9h1.4M369.6 458.1h1.4M369.9 454.6h1.4M370.1 456.6h1.4M370.4 457.7h1.4M370.7 457.0h1.4M370.9 455.3h1.4M371.2 454.9h1.4M371.4 454.5h1.4M371.7 455.6h1.4M372.0 457.2h1.4M372.2 455.6h1.4M372.5 456.5h1.4M372.7 453.4h1.4M373.0 459.3h1.4M373.3 454.5h1.4M373.5 455.7h1.4M373.8 456.2h1.4M374.0 457.0h1.4M374.3 457.7h1.4M374.6 458.3h1.4M374.8 459.1h1.4M375.1 454.4h1.4M375.3 456.0h1.4M375.6 456.4h1.4M375.9 456.9h1.4M376.1 459.9h1.4M376.4 457.8h1.4M376.7 457.4h1.4M376.9 456.1h1.4M377.2 459.0h1.4M377.4 457.4h1.4M377.7 458.1h1.4M378.0 457.8h1.4M378.2 458.9h1.4M378.5 457.5h1.4M378.7 457.9h1.4M379.0 460.6h1.4M379.3 456.6h1.4M379.5 455.3h1.4M379.8 459.4h1.4M380.0 456.8h1.4M380.3 459.7h1.4M380.6 459.1h1.4M380.8 456.2h1.4M381.1 458.3h1.4M381.3 456.6h1.4M381.6 458.3h1.4M381.9 457.4h1.4M382.1 459.0h1.4M382.4 457.0h1.4M382.6 456.5h1.4M382.9 458.0h1.4M383.2 459.7h1.4M383.4 459.5h1.4M383.7 460.3h1.4M383.9 458.3h1.4M384.2 458.5h1.4M384.5 460.1h1.4M384.7 458.1h1.4M385.0 460.1h1.4M385.2 457.0h1.4M385.5 458.3h1.4M385.8 457.4h1.4M386.0 460.4h1.4M386.3 460.8h1.4M386.6 461.9h1.4M386.8 458.8h1.4M387.1 461.1h1.4M387.3 457.9h1.4M387.6 459.5h1.4M387.9 458.8h1.4M388.1 461.5h1.4M388.4 460.6h1.4M388.6 459.6h1.4M388.9 458.9h1.4M389.2 461.6h1.4M389.4 459.5h1.4M389.7 461.1h1.4M389.9 459.0h1.4M390.2 460.3h1.4M390.5 460.5h1.4M390.7 459.6h1.4M391.0 458.6h1.4M391.2 460.5h1.4M391.5 458.6h1.4M391.8 461.5h1.4M392.0 459.9h1.4M392.3 461.7h1.4M392.5 460.0h1.4M392.8 461.5h1.4M393.1 460.3h1.4M393.3 459.6h1.4M393.6 461.6h1.4M393.8 462.7h1.4M394.1 460.6h1.4M394.4 459.8h1.4M394.6 460.2h1.4M394.9 461.6h1.4M395.1 459.4h1.4M395.4 460.9h1.4M395.7 459.5h1.4M395.9 461.7h1.4M396.2 460.0h1.4M396.5 459.0h1.4M396.7 461.4h1.4M397.0 460.9h1.4M397.2 459.8h1.4M397.5 459.9h1.4M397.8 460.1h1.4M398.0 460.7h1.4M398.3 462.6h1.4M398.5 460.6h1.4M398.8 462.3h1.4M399.1 460.5h1.4M399.3 463.6h1.4M399.6 458.8h1.4M399.8 458.2h1.4M400.1 460.0h1.4M400.4 461.7h1.4M400.6 461.0h1.4M400.9 459.4h1.4M401.1 459.7h1.4M401.4 461.5h1.4M401.7 459.0h1.4M401.9 459.6h1.4M402.2 459.9h1.4M402.4 461.0h1.4M402.7 460.5h1.4M403.0 461.4h1.4M403.2 460.3h1.4M403.5 461.4h1.4M403.7 459.0h1.4M404.0 460.5h1.4M404.3 460.2h1.4M404.5 460.1h1.4M404.8 460.1h1.4M405.0 462.3h1.4M405.3 458.8h1.4M405.6 460.3h1.4M405.8 461.1h1.4M406.1 461.6h1.4M406.4 461.3h1.4M406.6 461.2h1.4M406.9 460.3h1.4M407.1 461.5h1.4M407.4 460.2h1.4M407.7 460.1h1.4M407.9 461.2h1.4M408.2 457.5h1.4M408.4 460.4h1.4M408.7 459.8h1.4M409.0 460.1h1.4M409.2 460.4h1.4M409.5 459.3h1.4M409.7 458.4h1.4M410.0 460.3h1.4M410.3 461.2h1.4M410.5 459.4h1.4M410.8 462.9h1.4M411.0 459.9h1.4M411.3 460.3h1.4M411.6 459.6h1.4M411.8 462.0h1.4M412.1 460.6h1.4M412.3 461.3h1.4M412.6 460.7h1.4M412.9 459.2h1.4M413.1 460.2h1.4M413.4 460.7h1.4M413.6 458.4h1.4M413.9 459.8h1.4M414.2 462.4h1.4M414.4 461.2h1.4M414.7 459.3h1.4M414.9 459.2h1.4M415.2 459.5h1.4M415.5 459.4h1.4M415.7 460.9h1.4M416.0 459.8h1.4M416.3 461.2h1.4M416.5 460.7h1.4M416.8 460.8h1.4M417.0 460.7h1.4M417.3 460.0h1.4M417.6 459.8h1.4M417.8 460.6h1.4M418.1 458.1h1.4M418.3 460.1h1.4M418.6 457.5h1.4M418.9 458.1h1.4M419.1 461.0h1.4M419.4 458.2h1.4M419.6 461.2h1.4M419.9 457.5h1.4M420.2 458.9h1.4M420.4 460.6h1.4M420.7 462.1h1.4M420.9 459.7h1.4M421.2 460.9h1.4M421.5 457.8h1.4M421.7 460.8h1.4M422.0 459.4h1.4M422.2 458.5h1.4M422.5 459.1h1.4M422.8 458.7h1.4M423.0 459.3h1.4M423.3 458.1h1.4M423.5 460.2h1.4M423.8 458.2h1.4M424.1 460.5h1.4M424.3 458.7h1.4M424.6 460.3h1.4M424.8 459.1h1.4M425.1 458.0h1.4M425.4 457.2h1.4M425.6 461.1h1.4M425.9 459.7h1.4M426.2 460.0h1.4M426.4 457.1h1.4M426.7 459.8h1.4M426.9 457.7h1.4M427.2 459.3h1.4M427.5 460.4h1.4M427.7 458.4h1.4M428.0 460.0h1.4M428.2 457.5h1.4M428.5 457.4h1.4M428.8 456.7h1.4M429.0 459.7h1.4M429.3 456.3h1.4M429.5 457.1h1.4M429.8 460.6h1.4M430.1 455.4h1.4M430.3 456.1h1.4M430.6 459.6h1.4M430.8 457.8h1.4M431.1 459.9h1.4M431.4 458.3h1.4M431.6 457.9h1.4M431.9 457.3h1.4M432.1 459.1h1.4M432.4 458.1h1.4M432.7 459.2h1.4M432.9 457.5h1.4M433.2 457.1h1.4M433.4 457.9h1.4M433.7 456.4h1.4M434.0 456.9h1.4M434.2 457.4h1.4M434.5 456.3h1.4M434.7 459.4h1.4M435.0 457.8h1.4M435.3 460.1h1.4M435.5 457.8h1.4M435.8 458.3h1.4M436.1 456.6h1.4M436.3 458.3h1.4M436.6 458.5h1.4M436.8 457.8h1.4M437.1 457.8h1.4M437.4 456.9h1.4M437.6 458.7h1.4M437.9 459.5h1.4M438.1 459.6h1.4M438.4 456.0h1.4M438.7 459.1h1.4M438.9 458.1h1.4M439.2 458.9h1.4M439.4 456.3h1.4M439.7 458.1h1.4M440.0 455.8h1.4M440.2 458.3h1.4M440.5 456.9h1.4M440.7 456.3h1.4M441.0 456.0h1.4M441.3 458.8h1.4M441.5 457.7h1.4M441.8 457.3h1.4M442.0 459.6h1.4M442.3 456.2h1.4M442.6 456.6h1.4M442.8 456.4h1.4M443.1 458.9h1.4M443.3 456.8h1.4M443.6 456.5h1.4M443.9 455.7h1.4M444.1 457.7h1.4M444.4 456.1h1.4M444.6 454.4h1.4M444.9 457.5h1.4M445.2 457.5h1.4M445.4 457.3h1.4M445.7 458.8h1.4M446.0 457.3h1.4M446.2 454.7h1.4M446.5 458.0h1.4M446.7 457.0h1.4M447.0 455.2h1.4M447.3 456.0h1.4M447.5 456.4h1.4M447.8 457.1h1.4M448.0 456.8h1.4M448.3 456.6h1.4M448.6 455.7h1.4M448.8 456.5h1.4M449.1 455.3h1.4M449.3 459.0h1.4M449.6 455.4h1.4M449.9 457.2h1.4M450.1 456.5h1.4M450.4 457.0h1.4M450.6 455.6h1.4M450.9 456.6h1.4M451.2 455.6h1.4M451.4 457.4h1.4M451.7 456.1h1.4M451.9 454.7h1.4M452.2 454.8h1.4M452.5 456.7h1.4M452.7 456.1h1.4M453.0 456.7h1.4M453.2 456.4h1.4M453.5 456.2h1.4M453.8 454.5h1.4M454.0 455.4h1.4M454.3 454.2h1.4M454.5 454.0h1.4M454.8 457.7h1.4M455.1 455.6h1.4M455.3 456.6h1.4M455.6 458.1h1.4M455.9 457.4h1.4M456.1 456.6h1.4M456.4 453.7h1.4M456.6 455.8h1.4M456.9 456.1h1.4M457.2 455.9h1.4M457.4 456.8h1.4M457.7 455.6h1.4M457.9 455.9h1.4M458.2 457.9h1.4M458.5 456.4h1.4M458.7 451.2h1.4M459.0 454.8h1.4M459.2 455.8h1.4M459.5 454.7h1.4M459.8 456.9h1.4M460.0 455.4h1.4M460.3 454.4h1.4M460.5 457.6h1.4M460.8 456.4h1.4M461.1 456.0h1.4M461.3 455.8h1.4M461.6 456.1h1.4M461.8 455.0h1.4M462.1 454.0h1.4M462.4 454.9h1.4M462.6 453.9h1.4M462.9 453.9h1.4M463.1 456.0h1.4M463.4 454.8h1.4M463.7 455.7h1.4M463.9 454.3h1.4M464.2 455.6h1.4M464.4 455.3h1.4M464.7 452.8h1.4M465.0 455.3h1.4M465.2 457.1h1.4M465.5 454.8h1.4M465.8 454.6h1.4M466.0 455.6h1.4M466.3 454.8h1.4M466.5 453.5h1.4M466.8 455.5h1.4M467.1 455.0h1.4M467.3 455.7h1.4M467.6 454.3h1.4M467.8 454.9h1.4M468.1 455.9h1.4M468.4 454.9h1.4M468.6 452.2h1.4M468.9 456.9h1.4M469.1 456.4h1.4M469.4 454.1h1.4M469.7 456.3h1.4M469.9 451.9h1.4M470.2 456.4h1.4M470.4 456.1h1.4M470.7 455.0h1.4M471.0 452.9h1.4M471.2 453.2h1.4M471.5 453.5h1.4M471.7 453.8h1.4M472.0 452.5h1.4M472.3 456.6h1.4M472.5 453.8h1.4M472.8 452.2h1.4M473.0 455.5h1.4M473.3 453.6h1.4M473.6 452.4h1.4M473.8 452.3h1.4M474.1 454.1h1.4M474.3 451.4h1.4M474.6 453.2h1.4M474.9 452.4h1.4M475.1 455.2h1.4M475.4 454.8h1.4M475.7 454.7h1.4M475.9 451.3h1.4M476.2 456.7h1.4M476.4 456.0h1.4M476.7 452.5h1.4M477.0 453.3h1.4M477.2 457.4h1.4M477.5 454.0h1.4M477.7 453.8h1.4M478.0 451.8h1.4M478.3 455.9h1.4M478.5 454.0h1.4M478.8 451.8h1.4M479.0 452.2h1.4M479.3 454.4h1.4M479.6 453.5h1.4M479.8 455.1h1.4M480.1 451.2h1.4M480.3 453.6h1.4M480.6 451.3h1.4M480.9 451.9h1.4M481.1 454.1h1.4M481.4 453.0h1.4M481.6 451.9h1.4M481.9 452.2h1.4M482.2 450.7h1.4M482.4 451.2h1.4M482.7 452.2h1.4M482.9 451.7h1.4M483.2 453.5h1.4M483.5 453.3h1.4M483.7 451.6h1.4M484.0 452.0h1.4M484.2 453.8h1.4M484.5 452.4h1.4M484.8 453.3h1.4M485.0 453.0h1.4M485.3 450.5h1.4M485.6 453.4h1.4M485.8 453.0h1.4M486.1 451.3h1.4M486.3 451.9h1.4M486.6 451.7h1.4M486.9 453.8h1.4M487.1 451.9h1.4M487.4 452.3h1.4M487.6 452.9h1.4M487.9 452.5h1.4M488.2 452.1h1.4M488.4 450.5h1.4M488.7 449.0h1.4M488.9 451.4h1.4M489.2 449.5h1.4M489.5 451.3h1.4M489.7 453.4h1.4M490.0 451.3h1.4M490.2 449.6h1.4M490.5 449.3h1.4M490.8 452.4h1.4M491.0 448.1h1.4M491.3 452.1h1.4M491.5 452.0h1.4M491.8 451.7h1.4M492.1 449.0h1.4M492.3 450.3h1.4M492.6 449.6h1.4M492.8 453.8h1.4M493.1 450.8h1.4M493.4 450.8h1.4M493.6 449.7h1.4M493.9 451.2h1.4M494.1 448.9h1.4M494.4 451.4h1.4M494.7 452.3h1.4M494.9 452.6h1.4M495.2 448.6h1.4M495.5 449.2h1.4M495.7 451.3h1.4M496.0 448.7h1.4M496.2 450.3h1.4M496.5 450.2h1.4M496.8 452.0h1.4M497.0 450.7h1.4M497.3 449.7h1.4M497.5 449.6h1.4M497.8 450.5h1.4M498.1 448.4h1.4M498.3 447.7h1.4M498.6 450.7h1.4M498.8 449.0h1.4M499.1 451.6h1.4M499.4 448.9h1.4M499.6 450.7h1.4M499.9 449.6h1.4M500.1 449.1h1.4M500.4 449.6h1.4M500.7 447.8h1.4M500.9 450.2h1.4M501.2 449.7h1.4M501.4 448.6h1.4M501.7 449.0h1.4M502.0 448.5h1.4M502.2 449.1h1.4M502.5 449.9h1.4M502.7 447.8h1.4M503.0 448.6h1.4M503.3 447.4h1.4M503.5 446.7h1.4M503.8 449.0h1.4M504.0 449.5h1.4M504.3 449.0h1.4M504.6 449.2h1.4M504.8 451.0h1.4M505.1 446.0h1.4M505.4 447.6h1.4M505.6 444.9h1.4M505.9 448.8h1.4M506.1 447.2h1.4M506.4 447.5h1.4M506.7 448.0h1.4M506.9 446.5h1.4M507.2 447.7h1.4M507.4 447.8h1.4M507.7 447.4h1.4M508.0 450.6h1.4M508.2 448.5h1.4" fill="none" stroke="#1565D2" stroke-opacity="0.3" stroke-width="1.2"/>
<path d="M362.6 418.2h1.4M362.8 414.5h1.4M363.1 416.4h1.4M363.4 416.2h1.4M363.6 416.6h1.4M363.9 418.0h1.4M364.1 415.2h1.4M364.4 418.3h1.4M364.7 420.4h1.4M364.9 417.3h1.4M365.2 416.6h1.4M365.4 418.4h1.4M365.7 418.1h1.4M366.0 417.3h1.4M366.2 416.6h1.4M366.5 418.2h1.4M366.8 416.6h1.4M367.0 419.0h1.4M367.3 416.3h1.4M367.5 421.9h1.4M367.8 418.4h1.4M368.1 419.5h1.4M368.3 419.9h1.4M368.6 422.3h1.4M368.8 418.7h1.4M369.1 420.9h1.4M369.4 422.3h1.4M369.6 421.8h1.4M369.9 421.3h1.4M370.1 421.0h1.4M370.4 422.7h1.4M370.7 422.8h1.4M370.9 420.9h1.4M371.2 421.8h1.4M371.4 418.8h1.4M371.7 422.6h1.4M372.0 420.9h1.4M372.2 419.5h1.4M372.5 422.7h1.4M372.7 421.0h1.4M373.0 422.2h1.4M373.3 422.7h1.4M373.5 420.5h1.4M373.8 424.6h1.4M374.0 424.2h1.4M374.3 426.1h1.4M374.6 423.7h1.4M374.8 422.1h1.4M375.1 424.2h1.4M375.3 422.6h1.4M375.6 425.2h1.4M375.9 422.4h1.4M376.1 424.5h1.4M376.4 425.2h1.4M376.7 422.1h1.4M376.9 424.8h1.4M377.2 424.0h1.4M377.4 424.8h1.4M377.7 424.1h1.4M378.0 425.1h1.4M378.2 427.3h1.4M378.5 425.1h1.4M378.7 425.0h1.4M379.0 425.2h1.4M379.3 426.3h1.4M379.5 423.3h1.4M379.8 427.4h1.4M380.0 426.2h1.4M380.3 426.2h1.4M380.6 428.3h1.4M380.8 428.6h1.4M381.1 425.9h1.4M381.3 426.0h1.4M381.6 427.0h1.4M381.9 429.8h1.4M382.1 427.9h1.4M382.4 427.2h1.4M382.6 426.8h1.4M382.9 426.1h1.4M383.2 427.3h1.4M383.4 426.7h1.4M383.7 425.8h1.4M383.9 432.0h1.4M384.2 427.0h1.4M384.5 429.3h1.4M384.7 428.1h1.4M385.0 428.6h1.4M385.2 430.6h1.4M385.5 430.6h1.4M385.8 428.7h1.4M386.0 429.8h1.4M386.3 428.5h1.4M386.6 430.3h1.4M386.8 426.7h1.4M387.1 430.4h1.4M387.3 427.0h1.4M387.6 431.4h1.4M387.9 429.6h1.4M388.1 428.9h1.4M388.4 432.6h1.4M388.6 432.3h1.4M388.9 430.3h1.4M389.2 429.4h1.4M389.4 429.2h1.4M389.7 430.5h1.4M389.9 429.9h1.4M390.2 433.3h1.4M390.5 432.4h1.4M390.7 429.7h1.4M391.0 432.8h1.4M391.2 432.5h1.4M391.5 434.8h1.4M391.8 432.7h1.4M392.0 434.9h1.4M392.3 432.1h1.4M392.5 430.6h1.4M392.8 432.4h1.4M393.1 432.8h1.4M393.3 433.8h1.4M393.6 432.5h1.4M393.8 435.1h1.4M394.1 434.2h1.4M394.4 430.5h1.4M394.6 435.7h1.4M394.9 434.8h1.4M395.1 436.1h1.4M395.4 432.4h1.4M395.7 434.7h1.4M395.9 436.3h1.4M396.2 436.4h1.4M396.5 433.1h1.4M396.7 433.9h1.4M397.0 433.8h1.4M397.2 435.2h1.4M397.5 433.9h1.4M397.8 433.4h1.4M398.0 434.5h1.4M398.3 437.9h1.4M398.5 438.6h1.4M398.8 438.0h1.4M399.1 435.6h1.4M399.3 438.3h1.4M399.6 437.8h1.4M399.8 436.3h1.4M400.1 437.8h1.4M400.4 438.5h1.4M400.6 435.4h1.4M400.9 436.2h1.4M401.1 435.9h1.4M401.4 435.8h1.4M401.7 435.2h1.4M401.9 437.5h1.4M402.2 437.8h1.4M402.4 440.2h1.4M402.7 438.2h1.4M403.0 438.8h1.4M403.2 436.6h1.4M403.5 437.2h1.4M403.7 436.2h1.4M404.0 436.9h1.4M404.3 436.9h1.4M404.5 438.0h1.4M404.8 438.7h1.4M405.0 439.5h1.4M405.3 439.1h1.4M405.6 440.6h1.4M405.8 438.8h1.4M406.1 439.6h1.4M406.4 442.6h1.4M406.6 443.7h1.4M406.9 441.0h1.4M407.1 440.7h1.4M407.4 440.6h1.4M407.7 438.5h1.4M407.9 441.3h1.4M408.2 442.4h1.4M408.4 440.2h1.4M408.7 439.4h1.4M409.0 438.6h1.4M409.2 442.5h1.4M409.5 441.6h1.4M409.7 442.0h1.4M410.0 439.3h1.4M410.3 440.6h1.4M410.5 441.7h1.4M410.8 440.9h1.4M411.0 442.5h1.4M411.3 442.4h1.4M411.6 442.3h1.4M411.8 443.1h1.4M412.1 442.9h1.4M412.3 442.2h1.4M412.6 442.5h1.4M412.9 440.8h1.4M413.1 441.8h1.4M413.4 443.3h1.4M413.6 446.4h1.4M413.9 445.5h1.4M414.2 444.3h1.4M414.4 444.2h1.4M414.7 445.7h1.4M414.9 444.5h1.4M415.2 443.9h1.4M415.5 445.1h1.4M415.7 444.5h1.4M416.0 444.6h1.4M416.3 445.6h1.4M416.5 445.9h1.4M416.8 445.0h1.4M417.0 444.6h1.4M417.3 446.5h1.4M417.6 448.1h1.4M417.8 446.7h1.4M418.1 444.8h1.4M418.3 447.8h1.4M418.6 444.5h1.4M418.9 446.7h1.4M419.1 445.8h1.4M419.4 447.2h1.4M419.6 445.4h1.4M419.9 446.3h1.4M420.2 446.0h1.4M420.4 449.3h1.4M420.7 445.7h1.4M420.9 449.1h1.4M421.2 447.4h1.4M421.5 446.4h1.4M421.7 447.4h1.4M422.0 446.6h1.4M422.2 447.2h1.4M422.5 447.4h1.4M422.8 448.8h1.4M423.0 446.4h1.4M423.3 446.4h1.4M423.5 448.7h1.4M423.8 449.3h1.4M424.1 448.0h1.4M424.3 449.4h1.4M424.6 448.3h1.4M424.8 447.5h1.4M425.1 447.8h1.4M425.4 446.8h1.4M425.6 448.3h1.4M425.9 450.4h1.4M426.2 450.3h1.4M426.4 448.5h1.4M426.7 446.8h1.4M426.9 449.9h1.4M427.2 450.8h1.4M427.5 447.8h1.4M427.7 449.9h1.4M428.0 448.9h1.4M428.2 448.5h1.4M428.5 451.4h1.4M428.8 450.7h1.4M429.0 451.0h1.4M429.3 449.7h1.4M429.5 449.6h1.4M429.8 451.2h1.4M430.1 449.9h1.4M430.3 453.1h1.4M430.6 450.4h1.4M430.8 450.5h1.4M431.1 451.1h1.4M431.4 453.1h1.4M431.6 451.4h1.4M431.9 452.8h1.4M432.1 449.5h1.4M432.4 451.9h1.4M432.7 451.9h1.4M432.9 451.9h1.4M433.2 451.1h1.4M433.4 451.8h1.4M433.7 451.3h1.4M434.0 453.3h1.4M434.2 450.7h1.4M434.5 452.9h1.4M434.7 451.4h1.4M435.0 452.1h1.4M435.3 451.1h1.4M435.5 452.7h1.4M435.8 454.6h1.4M436.1 454.2h1.4M436.3 453.1h1.4M436.6 451.1h1.4M436.8 453.5h1.4M437.1 453.0h1.4M437.4 451.5h1.4M437.6 454.0h1.4M437.9 452.9h1.4M438.1 453.0h1.4M438.4 454.2h1.4M438.7 453.3h1.4M438.9 452.3h1.4M439.2 452.4h1.4M439.4 454.2h1.4M439.7 450.1h1.4M440.0 453.5h1.4M440.2 454.4h1.4M440.5 455.0h1.4M440.7 455.4h1.4M441.0 453.2h1.4M441.3 458.0h1.4M441.5 454.6h1.4M441.8 456.3h1.4M442.0 454.8h1.4M442.3 454.7h1.4M442.6 456.4h1.4M442.8 456.1h1.4M443.1 453.3h1.4M443.3 455.7h1.4M443.6 455.1h1.4M443.9 455.5h1.4M444.1 454.1h1.4M444.4 453.7h1.4M444.6 454.2h1.4M444.9 454.7h1.4M445.2 454.8h1.4M445.4 457.1h1.4M445.7 454.0h1.4M446.0 456.4h1.4M446.2 456.9h1.4M446.5 456.3h1.4M446.7 456.9h1.4M447.0 455.5h1.4M447.3 455.2h1.4M447.5 454.5h1.4M447.8 456.4h1.4M448.0 457.1h1.4M448.3 456.7h1.4M448.6 457.9h1.4M448.8 457.4h1.4M449.1 454.1h1.4M449.3 457.6h1.4M449.6 457.3h1.4M449.9 456.0h1.4M450.1 456.6h1.4M450.4 456.0h1.4M450.6 458.1h1.4M450.9 458.4h1.4M451.2 455.5h1.4M451.4 458.1h1.4M451.7 457.4h1.4M451.9 457.1h1.4M452.2 459.7h1.4M452.5 457.7h1.4M452.7 458.4h1.4M453.0 457.0h1.4M453.2 458.1h1.4M453.5 460.5h1.4M453.8 456.8h1.4M454.0 461.0h1.4M454.3 458.5h1.4M454.5 458.9h1.4M454.8 458.8h1.4M455.1 458.2h1.4M455.3 457.0h1.4M455.6 459.3h1.4M455.9 459.1h1.4M456.1 457.5h1.4M456.4 457.8h1.4M456.6 457.6h1.4M456.9 458.2h1.4M457.2 458.9h1.4M457.4 459.3h1.4M457.7 459.3h1.4M457.9 457.7h1.4M458.2 457.0h1.4M458.5 456.5h1.4M458.7 460.3h1.4M459.0 459.3h1.4M459.2 459.1h1.4M459.5 459.4h1.4M459.8 460.6h1.4M460.0 456.6h1.4M460.3 457.5h1.4M460.5 459.6h1.4M460.8 460.0h1.4M461.1 459.5h1.4M461.3 461.0h1.4M461.6 460.0h1.4M461.8 458.7h1.4M462.1 457.7h1.4M462.4 458.7h1.4M462.6 458.2h1.4M462.9 461.1h1.4M463.1 463.9h1.4M463.4 458.3h1.4M463.7 459.8h1.4M463.9 460.2h1.4M464.2 458.1h1.4M464.4 461.3h1.4M464.7 461.4h1.4M465.0 461.2h1.4M465.2 458.3h1.4M465.5 459.2h1.4M465.8 462.6h1.4M466.0 458.4h1.4M466.3 460.5h1.4M466.5 460.0h1.4M466.8 461.5h1.4M467.1 458.3h1.4M467.3 460.1h1.4M467.6 459.1h1.4M467.8 461.9h1.4M468.1 459.9h1.4M468.4 460.7h1.4M468.6 461.1h1.4M468.9 461.9h1.4M469.1 461.8h1.4M469.4 462.4h1.4M469.7 461.8h1.4M469.9 461.1h1.4M470.2 460.4h1.4M470.4 463.0h1.4M470.7 462.4h1.4M471.0 461.9h1.4M471.2 463.2h1.4M471.5 461.6h1.4M471.7 461.6h1.4M472.0 461.6h1.4M472.3 460.9h1.4M472.5 460.2h1.4M472.8 460.5h1.4M473.0 461.1h1.4M473.3 460.8h1.4M473.6 462.5h1.4M473.8 462.7h1.4M474.1 460.8h1.4M474.3 460.9h1.4M474.6 459.0h1.4M474.9 462.0h1.4M475.1 462.9h1.4M475.4 461.4h1.4M475.7 462.3h1.4M475.9 462.9h1.4M476.2 460.2h1.4M476.4 459.6h1.4M476.7 461.5h1.4M477.0 462.7h1.4M477.2 461.7h1.4M477.5 462.1h1.4M477.7 463.7h1.4M478.0 461.1h1.4M478.3 461.7h1.4M478.5 460.6h1.4M478.8 462.8h1.4M479.0 462.2h1.4M479.3 462.4h1.4M479.6 464.3h1.4M479.8 459.3h1.4M480.1 464.9h1.4M480.3 463.7h1.4M480.6 462.8h1.4M480.9 464.3h1.4M481.1 461.9h1.4M481.4 463.0h1.4M481.6 462.4h1.4M481.9 462.3h1.4M482.2 462.5h1.4M482.4 462.5h1.4M482.7 462.8h1.4M482.9 462.1h1.4M483.2 461.7h1.4M483.5 463.0h1.4M483.7 463.3h1.4M484.0 463.3h1.4M484.2 462.4h1.4M484.5 463.3h1.4M484.8 463.3h1.4M485.0 464.7h1.4M485.3 460.6h1.4M485.6 464.4h1.4M485.8 460.9h1.4M486.1 462.0h1.4M486.3 461.8h1.4M486.6 462.7h1.4M486.9 462.5h1.4M487.1 462.7h1.4M487.4 462.4h1.4M487.6 462.1h1.4M487.9 461.3h1.4M488.2 464.4h1.4M488.4 462.6h1.4M488.7 461.3h1.4M488.9 461.6h1.4M489.2 464.5h1.4M489.5 462.9h1.4M489.7 463.0h1.4M490.0 463.1h1.4M490.2 466.1h1.4M490.5 462.4h1.4M490.8 465.4h1.4M491.0 460.8h1.4M491.3 462.7h1.4M491.5 463.6h1.4M491.8 462.8h1.4M492.1 463.4h1.4M492.3 464.2h1.4M492.6 463.7h1.4M492.8 463.2h1.4M493.1 464.6h1.4M493.4 462.8h1.4M493.6 462.3h1.4M493.9 462.4h1.4M494.1 462.3h1.4M494.4 462.2h1.4M494.7 462.9h1.4M494.9 462.2h1.4M495.2 463.7h1.4M495.5 463.3h1.4M495.7 462.1h1.4M496.0 461.5h1.4M496.2 464.3h1.4M496.5 465.6h1.4M496.8 461.3h1.4M497.0 462.5h1.4M497.3 461.7h1.4M497.5 462.9h1.4M497.8 463.7h1.4M498.1 464.8h1.4M498.3 465.2h1.4M498.6 462.3h1.4M498.8 462.9h1.4M499.1 463.7h1.4M499.4 465.4h1.4M499.6 464.7h1.4M499.9 464.9h1.4M500.1 464.5h1.4M500.4 467.6h1.4M500.7 463.9h1.4M500.9 462.3h1.4M501.2 464.8h1.4M501.4 464.2h1.4M501.7 463.9h1.4M502.0 465.4h1.4M502.2 463.7h1.4M502.5 465.2h1.4M502.7 464.8h1.4M503.0 463.9h1.4M503.3 464.3h1.4M503.5 464.2h1.4M503.8 465.4h1.4M504.0 463.4h1.4M504.3 465.6h1.4M504.6 463.3h1.4M504.8 464.9h1.4M505.1 465.8h1.4M505.4 464.4h1.4M505.6 465.6h1.4M505.9 465.0h1.4M506.1 464.5h1.4M506.4 463.4h1.4M506.7 463.4h1.4M506.9 463.8h1.4M507.2 464.7h1.4M507.4 466.2h1.4M507.7 464.6h1.4M508.0 464.8h1.4M508.2 464.5h1.4" fill="none" stroke="#6DB31E" stroke-opacity="0.3" stroke-width="1.2"/>
<path d="M362.6 482.6h1.4M362.8 482.5h1.4M363.1 481.3h1.4M363.4 483.2h1.4M363.6 481.9h1.4M363.9 480.7h1.4M364.1 482.6h1.4M364.4 482.7h1.4M364.7 482.0h1.4M364.9 482.0h1.4M365.2 481.4h1.4M365.4 480.4h1.4M365.7 481.7h1.4M366.0 481.0h1.4M366.2 482.0h1.4M366.5 481.9h1.4M366.8 481.1h1.4M367.0 482.0h1.4M367.3 480.2h1.4M367.5 481.7h1.4M367.8 481.4h1.4M368.1 482.2h1.4M368.3 481.6h1.4M368.6 482.0h1.4M368.8 481.5h1.4M369.1 482.7h1.4M369.4 481.0h1.4M369.6 479.2h1.4M369.9 482.6h1.4M370.1 479.1h1.4M370.4 480.9h1.4M370.7 479.9h1.4M370.9 481.6h1.4M371.2 478.7h1.4M371.4 481.6h1.4M371.7 480.6h1.4M372.0 479.0h1.4M372.2 481.6h1.4M372.5 482.6h1.4M372.7 480.4h1.4M373.0 481.0h1.4M373.3 481.1h1.4M373.5 481.0h1.4M373.8 481.5h1.4M374.0 478.7h1.4M374.3 478.8h1.4M374.6 481.3h1.4M374.8 480.0h1.4M375.1 480.3h1.4M375.3 478.7h1.4M375.6 480.5h1.4M375.9 478.1h1.4M376.1 479.6h1.4M376.4 480.3h1.4M376.7 479.6h1.4M376.9 480.0h1.4M377.2 477.1h1.4M377.4 479.2h1.4M377.7 479.7h1.4M378.0 479.1h1.4M378.2 477.7h1.4M378.5 480.1h1.4M378.7 480.7h1.4M379.0 477.7h1.4M379.3 478.3h1.4M379.5 479.3h1.4M379.8 478.9h1.4M380.0 477.6h1.4M380.3 481.4h1.4M380.6 477.3h1.4M380.8 478.7h1.4M381.1 477.8h1.4M381.3 478.5h1.4M381.6 475.2h1.4M381.9 479.0h1.4M382.1 477.1h1.4M382.4 480.9h1.4M382.6 478.1h1.4M382.9 477.3h1.4M383.2 479.6h1.4M383.4 480.0h1.4M383.7 477.8h1.4M383.9 476.8h1.4M384.2 476.5h1.4M384.5 478.4h1.4M384.7 477.3h1.4M385.0 479.0h1.4M385.2 475.7h1.4M385.5 478.0h1.4M385.8 476.1h1.4M386.0 477.6h1.4M386.3 477.6h1.4M386.6 475.5h1.4M386.8 478.0h1.4M387.1 475.7h1.4M387.3 477.4h1.4M387.6 477.9h1.4M387.9 477.7h1.4M388.1 475.6h1.4M388.4 476.8h1.4M388.6 477.0h1.4M388.9 478.2h1.4M389.2 475.3h1.4M389.4 475.4h1.4M389.7 476.1h1.4M389.9 475.5h1.4M390.2 479.7h1.4M390.5 476.8h1.4M390.7 476.0h1.4M391.0 475.9h1.4M391.2 476.6h1.4M391.5 475.7h1.4M391.8 476.6h1.4M392.0 476.5h1.4M392.3 477.1h1.4M392.5 475.5h1.4M392.8 476.4h1.4M393.1 476.0h1.4M393.3 473.9h1.4M393.6 475.4h1.4M393.8 475.3h1.4M394.1 476.9h1.4M394.4 475.7h1.4M394.6 474.0h1.4M394.9 474.4h1.4M395.1 474.9h1.4M395.4 475.1h1.4M395.7 474.7h1.4M395.9 474.3h1.4M396.2 475.0h1.4M396.5 477.3h1.4M396.7 472.4h1.4M397.0 473.2h1.4M397.2 474.5h1.4M397.5 472.7h1.4M397.8 475.7h1.4M398.0 472.7h1.4M398.3 473.9h1.4M398.5 473.0h1.4M398.8 474.3h1.4M399.1 473.7h1.4M399.3 473.1h1.4M399.6 472.5h1.4M399.8 473.1h1.4M400.1 473.1h1.4M400.4 474.1h1.4M400.6 471.5h1.4M400.9 473.1h1.4M401.1 473.5h1.4M401.4 473.5h1.4M401.7 474.4h1.4M401.9 473.8h1.4M402.2 474.6h1.4M402.4 472.6h1.4M402.7 472.9h1.4M403.0 472.4h1.4M403.2 474.0h1.4M403.5 473.0h1.4M403.7 473.2h1.4M404.0 471.2h1.4M404.3 473.9h1.4M404.5 473.9h1.4M404.8 470.6h1.4M405.0 471.6h1.4M405.3 473.7h1.4M405.6 470.3h1.4M405.8 470.0h1.4M406.1 470.3h1.4M406.4 473.9h1.4M406.6 471.3h1.4M406.9 472.4h1.4M407.1 471.6h1.4M407.4 473.0h1.4M407.7 469.1h1.4M407.9 471.8h1.4M408.2 470.6h1.4M408.4 469.9h1.4M408.7 470.0h1.4M409.0 470.2h1.4M409.2 471.0h1.4M409.5 470.2h1.4M409.7 470.6h1.4M410.0 472.9h1.4M410.3 469.0h1.4M410.5 470.8h1.4M410.8 470.6h1.4M411.0 470.4h1.4M411.3 471.4h1.4M411.6 471.1h1.4M411.8 471.7h1.4M412.1 469.0h1.4M412.3 468.0h1.4M412.6 469.2h1.4M412.9 470.6h1.4M413.1 467.6h1.4M413.4 469.4h1.4M413.6 470.8h1.4M413.9 471.0h1.4M414.2 468.5h1.4M414.4 466.9h1.4M414.7 469.0h1.4M414.9 469.2h1.4M415.2 468.6h1.4M415.5 469.2h1.4M415.7 468.8h1.4M416.0 467.7h1.4M416.3 468.8h1.4M416.5 466.7h1.4M416.8 468.9h1.4M417.0 466.7h1.4M417.3 467.1h1.4M417.6 467.9h1.4M417.8 467.6h1.4M418.1 467.6h1.4M418.3 465.1h1.4M418.6 468.0h1.4M418.9 465.4h1.4M419.1 465.5h1.4M419.4 467.1h1.4M419.6 464.6h1.4M419.9 469.3h1.4M420.2 466.1h1.4M420.4 466.1h1.4M420.7 466.1h1.4M420.9 465.0h1.4M421.2 466.4h1.4M421.5 466.1h1.4M421.7 464.3h1.4M422.0 465.8h1.4M422.2 466.8h1.4M422.5 464.7h1.4M422.8 465.4h1.4M423.0 465.9h1.4M423.3 464.4h1.4M423.5 465.9h1.4M423.8 466.1h1.4M424.1 465.1h1.4M424.3 464.9h1.4M424.6 464.5h1.4M424.8 465.9h1.4M425.1 462.2h1.4M425.4 463.4h1.4M425.6 464.0h1.4M425.9 463.7h1.4M426.2 467.0h1.4M426.4 462.7h1.4M426.7 465.0h1.4M426.9 463.0h1.4M427.2 465.0h1.4M427.5 462.2h1.4M427.7 464.0h1.4M428.0 463.4h1.4M428.2 461.1h1.4M428.5 461.7h1.4M428.8 464.6h1.4M429.0 463.6h1.4M429.3 462.4h1.4M429.5 462.8h1.4M429.8 461.4h1.4M430.1 463.2h1.4M430.3 464.6h1.4M430.6 463.3h1.4M430.8 462.3h1.4M431.1 461.2h1.4M431.4 460.9h1.4M431.6 460.1h1.4M431.9 461.3h1.4M432.1 461.8h1.4M432.4 460.5h1.4M432.7 461.4h1.4M432.9 461.8h1.4M433.2 461.7h1.4M433.4 459.8h1.4M433.7 459.0h1.4M434.0 459.1h1.4M434.2 462.7h1.4M434.5 459.2h1.4M434.7 461.9h1.4M435.0 460.8h1.4M435.3 459.5h1.4M435.5 461.9h1.4M435.8 461.6h1.4M436.1 460.9h1.4M436.3 457.7h1.4M436.6 458.4h1.4M436.8 460.8h1.4M437.1 459.4h1.4M437.4 459.3h1.4M437.6 458.9h1.4M437.9 460.2h1.4M438.1 457.2h1.4M438.4 459.5h1.4M438.7 457.8h1.4M438.9 461.0h1.4M439.2 458.2h1.4M439.4 458.4h1.4M439.7 456.7h1.4M440.0 461.8h1.4M440.2 457.6h1.4M440.5 457.1h1.4M440.7 458.4h1.4M441.0 456.2h1.4M441.3 455.1h1.4M441.5 456.6h1.4M441.8 456.6h1.4M442.0 455.7h1.4M442.3 456.8h1.4M442.6 455.7h1.4M442.8 456.4h1.4M443.1 458.0h1.4M443.3 458.4h1.4M443.6 455.3h1.4M443.9 456.0h1.4M444.1 457.6h1.4M444.4 456.5h1.4M444.6 454.5h1.4M444.9 458.6h1.4M445.2 457.4h1.4M445.4 455.2h1.4M445.7 454.9h1.4M446.0 457.5h1.4M446.2 457.1h1.4M446.5 455.4h1.4M446.7 453.7h1.4M447.0 455.4h1.4M447.3 458.5h1.4M447.5 453.8h1.4M447.8 455.1h1.4M448.0 455.6h1.4M448.3 456.5h1.4M448.6 453.2h1.4M448.8 454.3h1.4M449.1 454.0h1.4M449.3 454.0h1.4M449.6 453.7h1.4M449.9 453.1h1.4M450.1 451.8h1.4M450.4 455.5h1.4M450.6 454.0h1.4M450.9 454.4h1.4M451.2 451.4h1.4M451.4 454.0h1.4M451.7 455.7h1.4M451.9 453.4h1.4M452.2 454.2h1.4M452.5 454.1h1.4M452.7 453.6h1.4M453.0 454.7h1.4M453.2 455.5h1.4M453.5 450.0h1.4M453.8 452.7h1.4M454.0 453.8h1.4M454.3 451.5h1.4M454.5 450.4h1.4M454.8 454.5h1.4M455.1 452.6h1.4M455.3 451.5h1.4M455.6 453.0h1.4M455.9 451.1h1.4M456.1 453.3h1.4M456.4 452.4h1.4M456.6 451.5h1.4M456.9 450.7h1.4M457.2 451.1h1.4M457.4 452.0h1.4M457.7 451.4h1.4M457.9 453.8h1.4M458.2 447.7h1.4M458.5 451.2h1.4M458.7 450.9h1.4M459.0 450.0h1.4M459.2 449.5h1.4M459.5 449.7h1.4M459.8 451.0h1.4M460.0 452.3h1.4M460.3 450.1h1.4M460.5 450.9h1.4M460.8 450.4h1.4M461.1 449.5h1.4M461.3 449.1h1.4M461.6 447.5h1.4M461.8 449.4h1.4M462.1 451.6h1.4M462.4 448.2h1.4M462.6 447.6h1.4M462.9 451.1h1.4M463.1 447.9h1.4M463.4 448.3h1.4M463.7 449.3h1.4M463.9 448.2h1.4M464.2 447.8h1.4M464.4 447.4h1.4M464.7 446.5h1.4M465.0 448.0h1.4M465.2 447.9h1.4M465.5 444.4h1.4M465.8 449.2h1.4M466.0 448.0h1.4M466.3 448.0h1.4M466.5 446.3h1.4M466.8 445.7h1.4M467.1 449.1h1.4M467.3 445.3h1.4M467.6 448.7h1.4M467.8 443.2h1.4M468.1 447.8h1.4M468.4 445.1h1.4M468.6 447.0h1.4M468.9 445.5h1.4M469.1 447.5h1.4M469.4 446.2h1.4M469.7 446.2h1.4M469.9 446.0h1.4M470.2 444.9h1.4M470.4 446.6h1.4M470.7 446.3h1.4M471.0 447.7h1.4M471.2 445.9h1.4M471.5 446.3h1.4M471.7 444.2h1.4M472.0 444.5h1.4M472.3 446.4h1.4M472.5 444.6h1.4M472.8 443.3h1.4M473.0 445.4h1.4M473.3 446.7h1.4M473.6 441.3h1.4M473.8 444.0h1.4M474.1 443.7h1.4M474.3 441.0h1.4M474.6 445.7h1.4M474.9 444.0h1.4M475.1 447.1h1.4M475.4 443.6h1.4M475.7 443.6h1.4M475.9 445.2h1.4M476.2 445.3h1.4M476.4 444.2h1.4M476.7 444.2h1.4M477.0 441.4h1.4M477.2 444.0h1.4M477.5 443.8h1.4M477.7 443.8h1.4M478.0 445.8h1.4M478.3 444.0h1.4M478.5 445.2h1.4M478.8 443.0h1.4M479.0 446.3h1.4M479.3 444.6h1.4M479.6 442.5h1.4M479.8 445.9h1.4M480.1 445.0h1.4M480.3 441.2h1.4M480.6 444.5h1.4M480.9 442.5h1.4M481.1 441.9h1.4M481.4 443.9h1.4M481.6 444.7h1.4M481.9 439.9h1.4M482.2 442.9h1.4M482.4 441.2h1.4M482.7 443.0h1.4M482.9 441.3h1.4M483.2 443.7h1.4M483.5 443.7h1.4M483.7 443.1h1.4M484.0 442.4h1.4M484.2 442.3h1.4M484.5 441.8h1.4M484.8 440.6h1.4M485.0 441.9h1.4M485.3 439.7h1.4M485.6 442.0h1.4M485.8 439.9h1.4M486.1 438.9h1.4M486.3 438.1h1.4M486.6 443.6h1.4M486.9 438.0h1.4M487.1 443.1h1.4M487.4 438.3h1.4M487.6 440.4h1.4M487.9 439.7h1.4M488.2 441.6h1.4M488.4 438.7h1.4M488.7 439.0h1.4M488.9 440.8h1.4M489.2 440.8h1.4M489.5 438.5h1.4M489.7 438.2h1.4M490.0 438.5h1.4M490.2 440.1h1.4M490.5 439.5h1.4M490.8 438.0h1.4M491.0 438.1h1.4M491.3 437.5h1.4M491.5 438.9h1.4M491.8 440.1h1.4M492.1 438.6h1.4M492.3 438.2h1.4M492.6 439.6h1.4M492.8 438.1h1.4M493.1 440.0h1.4M493.4 438.2h1.4M493.6 439.5h1.4M493.9 435.3h1.4M494.1 436.6h1.4M494.4 437.9h1.4M494.7 440.2h1.4M494.9 440.0h1.4M495.2 437.0h1.4M495.5 438.2h1.4M495.7 437.5h1.4M496.0 440.3h1.4M496.2 440.1h1.4M496.5 437.6h1.4M496.8 438.0h1.4M497.0 439.6h1.4M497.3 438.7h1.4M497.5 436.2h1.4M497.8 438.0h1.4M498.1 436.4h1.4M498.3 434.7h1.4M498.6 436.6h1.4M498.8 436.9h1.4M499.1 437.9h1.4M499.4 435.1h1.4M499.6 439.0h1.4M499.9 438.5h1.4M500.1 436.7h1.4M500.4 438.9h1.4M500.7 435.1h1.4M500.9 437.5h1.4M501.2 435.6h1.4M501.4 436.8h1.4M501.7 436.7h1.4M502.0 436.2h1.4M502.2 439.1h1.4M502.5 437.7h1.4M502.7 436.7h1.4M503.0 432.6h1.4M503.3 434.6h1.4M503.5 434.7h1.4M503.8 437.3h1.4M504.0 434.3h1.4M504.3 433.7h1.4M504.6 434.4h1.4M504.8 431.5h1.4M505.1 437.5h1.4M505.4 437.0h1.4M505.6 435.7h1.4M505.9 436.7h1.4M506.1 435.1h1.4M506.4 434.3h1.4M506.7 435.0h1.4M506.9 434.8h1.4M507.2 434.3h1.4M507.4 433.6h1.4M507.7 435.8h1.4M508.0 435.7h1.4M508.2 432.8h1.4" fill="none" stroke="#FF8C00" stroke-opacity="0.3" stroke-width="1.2"/>
<polyline points="363.28,484.07 364.92,484.02 366.55,484.03 368.19,484.13 369.83,484.04 371.46,484.09 373.10,484.19 374.74,484.34 376.37,484.41 378.01,484.41 379.65,484.46 381.28,484.62 382.92,484.65 384.55,484.53 386.19,484.43 387.83,484.45 389.46,484.50 391.10,484.42 392.74,484.35 394.37,484.30 396.01,484.32 397.65,484.34 399.28,484.32 400.92,484.25 402.55,484.29 404.19,484.27 405.83,484.27 407.46,484.30 409.10,484.38 410.74,484.49 412.37,484.54 414.01,484.57 415.65,484.62 417.28,484.64 418.92,484.63 420.55,484.56 422.19,484.58 423.83,484.54 425.46,484.55 427.10,484.65 428.74,484.69 430.37,484.78 432.01,484.77 433.65,484.59 435.28,484.64 436.92,484.56 438.55,484.56 440.19,484.58 441.83,484.64 443.46,484.76 445.10,484.88 446.74,484.93 448.37,485.03 450.01,485.11 451.65,485.08 453.28,485.12 454.92,485.18 456.55,485.31 458.19,485.35 459.83,485.39 461.46,485.33 463.10,485.53 464.74,485.60 466.37,485.54 468.01,485.48 469.65,485.60 471.28,485.70 472.92,485.91 474.55,485.95 476.19,486.03 477.83,486.17 479.46,486.40 481.10,486.38 482.74,486.43 484.37,486.42 486.01,486.39 487.65,486.41 489.28,486.53 490.92,486.52 492.55,486.52 494.19,486.57 495.83,486.59 497.46,486.71 499.10,486.77 500.74,486.74 502.37,486.93 504.01,487.17 505.65,487.26 507.28,487.37 508.92,487.35" fill="none" stroke="#000000" stroke-width="1.5" stroke-linejoin="round"/>
<polyline points="363.28,453.05 364.92,453.79 366.55,454.36 368.19,455.07 369.83,455.61 371.46,456.34 373.10,456.69 374.74,457.05 376.37,457.67 378.01,458.07 379.65,458.31 381.28,458.76 382.92,458.92 384.55,459.15 386.19,459.47 387.83,459.65 389.46,460.03 391.10,460.33 392.74,460.53 394.37,460.65 396.01,460.88 397.65,460.99 399.28,460.87 400.92,460.76 402.55,460.64 404.19,460.58 405.83,460.64 407.46,460.57 409.10,460.56 410.74,460.38 412.37,460.24 414.01,460.14 415.65,459.86 417.28,459.73 418.92,459.49 420.55,459.22 422.19,459.03 423.83,458.90 425.46,458.70 427.10,458.66 428.74,458.50 430.37,458.38 432.01,458.30 433.65,458.25 435.28,458.10 436.92,457.85 438.55,457.83 440.19,457.57 441.83,457.44 443.46,457.22 445.10,457.15 446.74,456.83 448.37,456.80 450.01,456.43 451.65,456.34 453.28,456.23 454.92,456.07 456.55,455.82 458.19,455.89 459.83,455.73 461.46,455.71 463.10,455.50 464.74,455.36 466.37,455.25 468.01,455.07 469.65,454.79 471.28,454.53 472.92,454.23 474.55,454.01 476.19,453.71 477.83,453.51 479.46,453.30 481.10,453.07 482.74,452.86 484.37,452.56 486.01,452.36 487.65,452.16 489.28,451.69 490.92,451.26 492.55,450.95 494.19,450.52 495.83,450.19 497.46,449.87 499.10,449.51 500.74,449.29 502.37,449.12 504.01,448.76 505.65,448.51 507.28,448.27 508.92,447.78" fill="none" stroke="#1565D2" stroke-width="1.5" stroke-linejoin="round"/>
<polyline points="363.28,417.06 364.92,417.76 366.55,418.57 368.19,419.56 369.83,420.60 371.46,421.58 373.10,422.68 374.74,423.45 376.37,424.60 378.01,425.38 379.65,426.37 381.28,427.08 382.92,427.75 384.55,428.41 386.19,429.40 387.83,429.89 389.46,430.83 391.10,431.61 392.74,432.38 394.37,433.66 396.01,434.57 397.65,435.38 399.28,436.40 400.92,437.33 402.55,437.96 404.19,438.79 405.83,439.37 407.46,440.10 409.10,440.94 410.74,441.66 412.37,442.37 414.01,443.20 415.65,444.00 417.28,444.79 418.92,445.71 420.55,446.42 422.19,447.10 423.83,447.76 425.46,448.41 427.10,449.36 428.74,450.04 430.37,450.53 432.01,451.20 433.65,451.94 435.28,452.43 436.92,453.01 438.55,453.39 440.19,453.86 441.83,454.25 443.46,454.69 445.10,455.10 446.74,455.57 448.37,456.12 450.01,456.43 451.65,456.90 453.28,457.33 454.92,457.59 456.55,457.99 458.19,458.48 459.83,458.84 461.46,459.28 463.10,459.59 464.74,459.88 466.37,460.25 468.01,460.53 469.65,460.64 471.28,460.80 472.92,460.99 474.55,461.10 476.19,461.40 477.83,461.57 479.46,461.74 481.10,462.07 482.74,462.37 484.37,462.70 486.01,463.01 487.65,463.11 489.28,463.24 490.92,463.33 492.55,463.41 494.19,463.52 495.83,463.65 497.46,463.79 499.10,464.00 500.74,464.22 502.37,464.36 504.01,464.55 505.65,464.51 507.28,464.39 508.92,464.51" fill="none" stroke="#6DB31E" stroke-width="1.5" stroke-linejoin="round"/>
<polyline points="363.28,482.11 364.92,481.76 366.55,481.53 368.19,481.31 369.83,481.01 371.46,480.59 373.10,480.33 374.74,480.07 376.37,479.80 378.01,479.41 379.65,478.98 381.28,478.66 382.92,478.33 384.55,477.88 386.19,477.44 387.83,477.03 389.46,476.71 391.10,476.39 392.74,475.98 394.37,475.64 396.01,475.17 397.65,474.68 399.28,474.19 400.92,473.75 402.55,473.27 404.19,472.60 405.83,471.93 407.46,471.31 409.10,470.78 410.74,470.28 412.37,469.70 414.01,468.97 415.65,468.50 417.28,468.01 418.92,467.48 420.55,466.70 422.19,465.99 423.83,465.23 425.46,464.63 427.10,463.88 428.74,463.10 430.37,462.49 432.01,461.80 433.65,461.16 435.28,460.44 436.92,459.93 438.55,459.23 440.19,458.65 441.83,457.97 443.46,457.40 445.10,456.62 446.74,455.92 448.37,455.01 450.01,454.37 451.65,453.52 453.28,452.77 454.92,452.14 456.55,451.51 458.19,450.95 459.83,450.31 461.46,449.76 463.10,449.08 464.74,448.43 466.37,447.63 468.01,446.94 469.65,446.42 471.28,445.91 472.92,445.14 474.55,444.74 476.19,444.20 477.83,443.80 479.46,443.29 481.10,442.58 482.74,442.09 484.37,441.55 486.01,440.85 487.65,440.20 489.28,439.73 490.92,439.37 492.55,438.94 494.19,438.35 495.83,437.91 497.46,437.61 499.10,437.31 500.74,436.69 502.37,436.19 504.01,435.62 505.65,435.36 507.28,435.01 508.92,434.63" fill="none" stroke="#FF8C00" stroke-width="1.5" stroke-linejoin="round"/>
<rect x="356" y="358.3" width="160.2" height="166" fill="none" stroke="#333333" stroke-width="1.1"/>
<rect x="356" y="335" width="160.2" height="23.3" fill="#CCCCCC" stroke="#333333" stroke-width="1.1"/>
<text transform="translate(436.10,349.45) scale(0.926,1)" text-anchor="middle" font-family='"Liberation Sans", sans-serif' font-size="9.72" fill="#1A1A1A">Pattern 3<tspan dx="12.2" dy="-1" font-family='"Liberation Serif", serif' font-style="italic" font-size="10.8">ψ</tspan><tspan dy="1"> = 0.5</tspan></text>
<line x1="363.28" x2="363.28" y1="524.3" y2="527.9" stroke="#555" stroke-width="0.9"/>
<line x1="399.69" x2="399.69" y1="524.3" y2="527.9" stroke="#555" stroke-width="0.9"/>
<line x1="436.1" x2="436.1" y1="524.3" y2="527.9" stroke="#555" stroke-width="0.9"/>
<line x1="472.51" x2="472.51" y1="524.3" y2="527.9" stroke="#555" stroke-width="0.9"/>
<line x1="508.92" x2="508.92" y1="524.3" y2="527.9" stroke="#555" stroke-width="0.9"/>
<text transform="translate(363.28,537.70) scale(0.926,1)" text-anchor="middle" font-family='"Liberation Sans", sans-serif' font-size="9.94" fill="#333333">0</text>
<text transform="translate(399.69,537.70) scale(0.926,1)" text-anchor="middle" font-family='"Liberation Sans", sans-serif' font-size="9.94" fill="#333333">0.25</text>
<text transform="translate(436.10,537.70) scale(0.926,1)" text-anchor="middle" font-family='"Liberation Sans", sans-serif' font-size="9.94" fill="#333333">0.5</text>
<text transform="translate(472.51,537.70) scale(0.926,1)" text-anchor="middle" font-family='"Liberation Sans", sans-serif' font-size="9.94" fill="#333333">0.75</text>
<text transform="translate(508.92,537.70) scale(0.926,1)" text-anchor="middle" font-family='"Liberation Sans", sans-serif' font-size="9.94" fill="#333333">1</text>
<rect x="523.45" y="358.3" width="160.2" height="166" fill="#fff"/>
<line x1="523.45" x2="683.65" y1="493.5" y2="493.5" stroke="#D4D4D4" stroke-width="0.9" stroke-dasharray="2.6 1.8"/>
<line x1="523.45" x2="683.65" y1="458.45" y2="458.45" stroke="#D4D4D4" stroke-width="0.9" stroke-dasharray="2.6 1.8"/>
<line x1="523.45" x2="683.65" y1="423.4" y2="423.4" stroke="#D4D4D4" stroke-width="0.9" stroke-dasharray="2.6 1.8"/>
<line x1="523.45" x2="683.65" y1="388.35" y2="388.35" stroke="#D4D4D4" stroke-width="0.9" stroke-dasharray="2.6 1.8"/>
<line x1="530.73" x2="530.73" y1="524.3" y2="358.3" stroke="#D4D4D4" stroke-width="0.9" stroke-dasharray="2.6 1.8"/>
<line x1="567.14" x2="567.14" y1="524.3" y2="358.3" stroke="#D4D4D4" stroke-width="0.9" stroke-dasharray="2.6 1.8"/>
<line x1="603.55" x2="603.55" y1="524.3" y2="358.3" stroke="#D4D4D4" stroke-width="0.9" stroke-dasharray="2.6 1.8"/>
<line x1="639.96" x2="639.96" y1="524.3" y2="358.3" stroke="#D4D4D4" stroke-width="0.9" stroke-dasharray="2.6 1.8"/>
<line x1="676.37" x2="676.37" y1="524.3" y2="358.3" stroke="#D4D4D4" stroke-width="0.9" stroke-dasharray="2.6 1.8"/>
<path d="M530.0 490.2h1.4M530.3 490.6h1.4M530.6 491.7h1.4M530.8 492.7h1.4M531.1 490.7h1.4M531.3 491.3h1.4M531.6 492.1h1.4M531.9 492.4h1.4M532.1 491.1h1.4M532.4 491.5h1.4M532.6 491.3h1.4M532.9 491.1h1.4M533.2 491.6h1.4M533.4 491.6h1.4M533.7 491.0h1.4M533.9 491.5h1.4M534.2 491.6h1.4M534.5 491.0h1.4M534.7 492.7h1.4M535.0 490.6h1.4M535.2 491.1h1.4M535.5 491.9h1.4M535.8 491.5h1.4M536.0 490.6h1.4M536.3 491.0h1.4M536.5 492.6h1.4M536.8 492.1h1.4M537.1 491.3h1.4M537.3 490.2h1.4M537.6 490.9h1.4M537.8 491.5h1.4M538.1 491.0h1.4M538.4 491.4h1.4M538.6 491.6h1.4M538.9 491.2h1.4M539.2 492.8h1.4M539.4 490.7h1.4M539.7 491.1h1.4M539.9 491.7h1.4M540.2 492.0h1.4M540.5 492.2h1.4M540.7 491.2h1.4M541.0 491.3h1.4M541.2 491.3h1.4M541.5 490.3h1.4M541.8 492.8h1.4M542.0 491.9h1.4M542.3 491.9h1.4M542.5 490.8h1.4M542.8 491.6h1.4M543.1 492.0h1.4M543.3 491.3h1.4M543.6 491.1h1.4M543.8 490.4h1.4M544.1 491.2h1.4M544.4 491.7h1.4M544.6 491.7h1.4M544.9 491.9h1.4M545.1 491.1h1.4M545.4 490.9h1.4M545.7 491.5h1.4M545.9 491.5h1.4M546.2 490.5h1.4M546.4 491.3h1.4M546.7 491.1h1.4M547.0 492.1h1.4M547.2 491.8h1.4M547.5 492.8h1.4M547.7 492.3h1.4M548.0 491.2h1.4M548.3 490.6h1.4M548.5 491.6h1.4M548.8 492.2h1.4M549.1 491.3h1.4M549.3 490.7h1.4M549.6 491.5h1.4M549.8 490.8h1.4M550.1 491.4h1.4M550.4 492.2h1.4M550.6 492.0h1.4M550.9 491.6h1.4M551.1 489.9h1.4M551.4 491.0h1.4M551.7 491.6h1.4M551.9 491.2h1.4M552.2 491.3h1.4M552.4 491.7h1.4M552.7 491.5h1.4M553.0 491.6h1.4M553.2 490.9h1.4M553.5 490.4h1.4M553.7 490.5h1.4M554.0 491.6h1.4M554.3 491.0h1.4M554.5 491.9h1.4M554.8 492.1h1.4M555.0 491.3h1.4M555.3 491.0h1.4M555.6 491.4h1.4M555.8 490.9h1.4M556.1 490.9h1.4M556.3 490.9h1.4M556.6 491.5h1.4M556.9 492.3h1.4M557.1 490.2h1.4M557.4 491.7h1.4M557.6 490.9h1.4M557.9 491.1h1.4M558.2 491.6h1.4M558.4 490.2h1.4M558.7 491.0h1.4M559.0 491.4h1.4M559.2 491.7h1.4M559.5 492.0h1.4M559.7 492.2h1.4M560.0 491.0h1.4M560.3 491.7h1.4M560.5 491.7h1.4M560.8 491.1h1.4M561.0 491.6h1.4M561.3 491.0h1.4M561.6 491.8h1.4M561.8 491.7h1.4M562.1 490.8h1.4M562.3 491.8h1.4M562.6 491.0h1.4M562.9 491.1h1.4M563.1 491.4h1.4M563.4 492.5h1.4M563.6 492.2h1.4M563.9 492.1h1.4M564.2 492.2h1.4M564.4 490.8h1.4M564.7 492.0h1.4M564.9 492.2h1.4M565.2 491.7h1.4M565.5 491.5h1.4M565.7 492.5h1.4M566.0 491.0h1.4M566.2 490.9h1.4M566.5 491.8h1.4M566.8 490.9h1.4M567.0 492.4h1.4M567.3 491.8h1.4M567.5 491.5h1.4M567.8 491.4h1.4M568.1 490.7h1.4M568.3 491.6h1.4M568.6 492.0h1.4M568.9 491.3h1.4M569.1 491.3h1.4M569.4 491.1h1.4M569.6 491.6h1.4M569.9 491.3h1.4M570.2 491.8h1.4M570.4 491.0h1.4M570.7 491.8h1.4M570.9 491.8h1.4M571.2 490.7h1.4M571.5 491.9h1.4M571.7 491.4h1.4M572.0 491.0h1.4M572.2 491.6h1.4M572.5 490.8h1.4M572.8 491.8h1.4M573.0 490.7h1.4M573.3 492.4h1.4M573.5 492.3h1.4M573.8 491.4h1.4M574.1 490.5h1.4M574.3 490.4h1.4M574.6 492.0h1.4M574.8 491.4h1.4M575.1 491.7h1.4M575.4 492.8h1.4M575.6 490.9h1.4M575.9 491.6h1.4M576.1 490.5h1.4M576.4 491.2h1.4M576.7 491.7h1.4M576.9 491.8h1.4M577.2 491.5h1.4M577.4 491.1h1.4M577.7 491.7h1.4M578.0 489.6h1.4M578.2 491.3h1.4M578.5 492.1h1.4M578.8 491.4h1.4M579.0 490.7h1.4M579.3 491.1h1.4M579.5 491.6h1.4M579.8 491.8h1.4M580.1 491.9h1.4M580.3 492.2h1.4M580.6 491.7h1.4M580.8 491.2h1.4M581.1 491.8h1.4M581.4 490.4h1.4M581.6 491.2h1.4M581.9 491.7h1.4M582.1 491.4h1.4M582.4 490.5h1.4M582.7 492.5h1.4M582.9 491.3h1.4M583.2 489.7h1.4M583.4 490.8h1.4M583.7 492.0h1.4M584.0 491.3h1.4M584.2 491.6h1.4M584.5 489.6h1.4M584.7 491.8h1.4M585.0 491.6h1.4M585.3 491.6h1.4M585.5 492.3h1.4M585.8 493.5h1.4M586.0 491.6h1.4M586.3 491.1h1.4M586.6 491.7h1.4M586.8 491.1h1.4M587.1 490.9h1.4M587.3 491.0h1.4M587.6 492.5h1.4M587.9 490.5h1.4M588.1 490.9h1.4M588.4 490.9h1.4M588.7 491.4h1.4M588.9 491.4h1.4M589.2 491.8h1.4M589.4 491.2h1.4M589.7 490.8h1.4M590.0 491.8h1.4M590.2 490.9h1.4M590.5 491.7h1.4M590.7 491.1h1.4M591.0 491.5h1.4M591.3 490.9h1.4M591.5 490.2h1.4M591.8 491.3h1.4M592.0 491.8h1.4M592.3 491.7h1.4M592.6 491.0h1.4M592.8 491.8h1.4M593.1 490.8h1.4M593.3 491.2h1.4M593.6 490.9h1.4M593.9 491.8h1.4M594.1 492.1h1.4M594.4 491.9h1.4M594.6 491.2h1.4M594.9 491.9h1.4M595.2 491.0h1.4M595.4 492.8h1.4M595.7 491.9h1.4M595.9 491.6h1.4M596.2 492.6h1.4M596.5 491.8h1.4M596.7 492.4h1.4M597.0 491.5h1.4M597.2 491.6h1.4M597.5 491.0h1.4M597.8 492.0h1.4M598.0 492.5h1.4M598.3 491.8h1.4M598.6 491.4h1.4M598.8 491.4h1.4M599.1 491.3h1.4M599.3 490.7h1.4M599.6 491.7h1.4M599.9 491.6h1.4M600.1 492.0h1.4M600.4 491.8h1.4M600.6 490.8h1.4M600.9 491.2h1.4M601.2 493.1h1.4M601.4 490.7h1.4M601.7 492.7h1.4M601.9 491.7h1.4M602.2 490.8h1.4M602.5 491.4h1.4M602.7 491.1h1.4M603.0 490.9h1.4M603.2 491.3h1.4M603.5 492.3h1.4M603.8 491.2h1.4M604.0 491.9h1.4M604.3 493.0h1.4M604.5 491.7h1.4M604.8 491.1h1.4M605.1 491.4h1.4M605.3 491.5h1.4M605.6 490.4h1.4M605.8 491.3h1.4M606.1 490.9h1.4M606.4 491.3h1.4M606.6 490.4h1.4M606.9 491.7h1.4M607.1 490.7h1.4M607.4 490.3h1.4M607.7 491.7h1.4M607.9 490.8h1.4M608.2 492.3h1.4M608.5 491.3h1.4M608.7 491.0h1.4M609.0 492.0h1.4M609.2 492.6h1.4M609.5 491.5h1.4M609.8 491.7h1.4M610.0 491.4h1.4M610.3 491.3h1.4M610.5 491.0h1.4M610.8 490.5h1.4M611.1 491.2h1.4M611.3 492.5h1.4M611.6 491.1h1.4M611.8 491.3h1.4M612.1 491.4h1.4M612.4 490.5h1.4M612.6 491.3h1.4M612.9 491.7h1.4M613.1 491.2h1.4M613.4 492.5h1.4M613.7 490.9h1.4M613.9 491.5h1.4M614.2 490.4h1.4M614.4 491.1h1.4M614.7 491.3h1.4M615.0 491.4h1.4M615.2 492.3h1.4M615.5 491.6h1.4M615.7 491.3h1.4M616.0 490.9h1.4M616.3 491.3h1.4M616.5 491.1h1.4M616.8 491.1h1.4M617.0 491.9h1.4M617.3 491.3h1.4M617.6 491.7h1.4M617.8 492.3h1.4M618.1 492.5h1.4M618.4 491.0h1.4M618.6 490.6h1.4M618.9 490.6h1.4M619.1 492.1h1.4M619.4 490.6h1.4M619.7 490.6h1.4M619.9 492.0h1.4M620.2 491.2h1.4M620.4 490.5h1.4M620.7 491.5h1.4M621.0 490.8h1.4M621.2 492.0h1.4M621.5 491.8h1.4M621.7 491.0h1.4M622.0 491.7h1.4M622.3 491.5h1.4M622.5 491.5h1.4M622.8 492.2h1.4M623.0 490.6h1.4M623.3 491.7h1.4M623.6 491.8h1.4M623.8 491.9h1.4M624.1 491.5h1.4M624.3 492.2h1.4M624.6 491.0h1.4M624.9 491.8h1.4M625.1 491.1h1.4M625.4 492.1h1.4M625.6 492.2h1.4M625.9 492.2h1.4M626.2 491.5h1.4M626.4 492.4h1.4M626.7 491.1h1.4M626.9 491.8h1.4M627.2 491.1h1.4M627.5 491.9h1.4M627.7 491.1h1.4M628.0 492.3h1.4M628.3 492.3h1.4M628.5 491.3h1.4M628.8 492.0h1.4M629.0 491.0h1.4M629.3 492.1h1.4M629.6 491.3h1.4M629.8 492.2h1.4M630.1 492.7h1.4M630.3 490.8h1.4M630.6 491.8h1.4M630.9 491.0h1.4M631.1 491.5h1.4M631.4 492.7h1.4M631.6 491.4h1.4M631.9 491.0h1.4M632.2 490.9h1.4M632.4 490.6h1.4M632.7 491.4h1.4M632.9 491.7h1.4M633.2 491.6h1.4M633.5 492.4h1.4M633.7 491.2h1.4M634.0 491.2h1.4M634.2 491.5h1.4M634.5 492.2h1.4M634.8 491.3h1.4M635.0 492.0h1.4M635.3 490.9h1.4M635.5 492.1h1.4M635.8 492.0h1.4M636.1 491.9h1.4M636.3 492.3h1.4M636.6 492.3h1.4M636.8 491.9h1.4M637.1 493.2h1.4M637.4 490.5h1.4M637.6 491.5h1.4M637.9 491.5h1.4M638.2 492.3h1.4M638.4 491.6h1.4M638.7 491.7h1.4M638.9 491.7h1.4M639.2 492.7h1.4M639.5 491.8h1.4M639.7 492.9h1.4M640.0 491.9h1.4M640.2 492.3h1.4M640.5 492.1h1.4M640.8 492.0h1.4M641.0 491.2h1.4M641.3 491.0h1.4M641.5 491.7h1.4M641.8 492.4h1.4M642.1 490.8h1.4M642.3 492.6h1.4M642.6 492.1h1.4M642.8 491.9h1.4M643.1 492.2h1.4M643.4 490.9h1.4M643.6 491.5h1.4M643.9 491.1h1.4M644.1 492.0h1.4M644.4 491.2h1.4M644.7 491.9h1.4M644.9 491.9h1.4M645.2 491.6h1.4M645.4 491.6h1.4M645.7 491.4h1.4M646.0 491.9h1.4M646.2 492.7h1.4M646.5 492.0h1.4M646.7 493.5h1.4M647.0 492.0h1.4M647.3 492.3h1.4M647.5 491.3h1.4M647.8 493.5h1.4M648.1 490.6h1.4M648.3 492.0h1.4M648.6 492.8h1.4M648.8 491.6h1.4M649.1 491.5h1.4M649.4 491.6h1.4M649.6 490.5h1.4M649.9 492.4h1.4M650.1 491.7h1.4M650.4 491.8h1.4M650.7 492.3h1.4M650.9 491.7h1.4M651.2 491.1h1.4M651.4 492.4h1.4M651.7 491.6h1.4M652.0 491.2h1.4M652.2 491.5h1.4M652.5 492.9h1.4M652.7 491.7h1.4M653.0 492.1h1.4M653.3 491.1h1.4M653.5 492.0h1.4M653.8 490.7h1.4M654.0 492.6h1.4M654.3 491.6h1.4M654.6 492.4h1.4M654.8 490.8h1.4M655.1 490.9h1.4M655.3 492.5h1.4M655.6 491.4h1.4M655.9 491.9h1.4M656.1 492.9h1.4M656.4 492.5h1.4M656.6 491.8h1.4M656.9 491.6h1.4M657.2 492.1h1.4M657.4 491.7h1.4M657.7 491.7h1.4M658.0 491.7h1.4M658.2 492.6h1.4M658.5 491.8h1.4M658.7 491.6h1.4M659.0 492.8h1.4M659.3 491.0h1.4M659.5 491.0h1.4M659.8 491.8h1.4M660.0 490.7h1.4M660.3 492.4h1.4M660.6 492.5h1.4M660.8 492.3h1.4M661.1 492.4h1.4M661.3 490.8h1.4M661.6 491.9h1.4M661.9 492.0h1.4M662.1 491.7h1.4M662.4 491.0h1.4M662.6 491.9h1.4M662.9 492.2h1.4M663.2 491.8h1.4M663.4 491.2h1.4M663.7 492.1h1.4M663.9 491.1h1.4M664.2 491.8h1.4M664.5 492.1h1.4M664.7 491.7h1.4M665.0 490.8h1.4M665.2 492.1h1.4M665.5 491.2h1.4M665.8 491.6h1.4M666.0 491.9h1.4M666.3 492.0h1.4M666.5 491.5h1.4M666.8 491.6h1.4M667.1 491.8h1.4M667.3 491.6h1.4M667.6 492.5h1.4M667.9 492.4h1.4M668.1 492.6h1.4M668.4 492.2h1.4M668.6 492.1h1.4M668.9 492.2h1.4M669.2 491.7h1.4M669.4 492.6h1.4M669.7 492.2h1.4M669.9 491.5h1.4M670.2 491.0h1.4M670.5 492.0h1.4M670.7 491.3h1.4M671.0 491.2h1.4M671.2 492.7h1.4M671.5 491.9h1.4M671.8 492.7h1.4M672.0 492.3h1.4M672.3 491.8h1.4M672.5 492.8h1.4M672.8 491.7h1.4M673.1 492.2h1.4M673.3 492.2h1.4M673.6 491.8h1.4M673.8 492.6h1.4M674.1 493.1h1.4M674.4 492.1h1.4M674.6 492.5h1.4M674.9 492.2h1.4M675.1 492.8h1.4M675.4 492.7h1.4M675.7 492.7h1.4" fill="none" stroke="#000000" stroke-opacity="0.3" stroke-width="1.2"/>
<path d="M530.0 479.1h1.4M530.3 478.7h1.4M530.6 478.8h1.4M530.8 478.1h1.4M531.1 475.0h1.4M531.3 478.9h1.4M531.6 480.0h1.4M531.9 477.9h1.4M532.1 479.9h1.4M532.4 479.6h1.4M532.6 479.2h1.4M532.9 478.9h1.4M533.2 479.0h1.4M533.4 478.9h1.4M533.7 479.4h1.4M533.9 478.3h1.4M534.2 478.6h1.4M534.5 480.1h1.4M534.7 479.9h1.4M535.0 481.1h1.4M535.2 479.2h1.4M535.5 480.2h1.4M535.8 478.2h1.4M536.0 480.8h1.4M536.3 478.8h1.4M536.5 481.3h1.4M536.8 482.1h1.4M537.1 481.4h1.4M537.3 480.3h1.4M537.6 479.8h1.4M537.8 481.7h1.4M538.1 480.0h1.4M538.4 481.5h1.4M538.6 481.6h1.4M538.9 481.5h1.4M539.2 479.8h1.4M539.4 481.2h1.4M539.7 481.2h1.4M539.9 483.0h1.4M540.2 481.5h1.4M540.5 481.5h1.4M540.7 480.3h1.4M541.0 482.8h1.4M541.2 482.7h1.4M541.5 483.0h1.4M541.8 482.8h1.4M542.0 481.7h1.4M542.3 483.1h1.4M542.5 481.3h1.4M542.8 482.5h1.4M543.1 483.5h1.4M543.3 483.3h1.4M543.6 484.1h1.4M543.8 484.2h1.4M544.1 481.9h1.4M544.4 482.3h1.4M544.6 484.0h1.4M544.9 483.6h1.4M545.1 481.9h1.4M545.4 484.1h1.4M545.7 483.3h1.4M545.9 483.1h1.4M546.2 483.8h1.4M546.4 483.9h1.4M546.7 484.1h1.4M547.0 483.8h1.4M547.2 485.3h1.4M547.5 484.0h1.4M547.7 483.9h1.4M548.0 485.3h1.4M548.3 483.9h1.4M548.5 485.1h1.4M548.8 486.7h1.4M549.1 486.2h1.4M549.3 484.5h1.4M549.6 484.1h1.4M549.8 485.1h1.4M550.1 486.0h1.4M550.4 485.0h1.4M550.6 484.1h1.4M550.9 485.0h1.4M551.1 486.3h1.4M551.4 484.7h1.4M551.7 485.4h1.4M551.9 485.4h1.4M552.2 485.3h1.4M552.4 484.9h1.4M552.7 485.6h1.4M553.0 486.4h1.4M553.2 485.7h1.4M553.5 485.6h1.4M553.7 484.7h1.4M554.0 486.8h1.4M554.3 486.0h1.4M554.5 486.7h1.4M554.8 485.8h1.4M555.0 486.5h1.4M555.3 488.7h1.4M555.6 485.4h1.4M555.8 486.8h1.4M556.1 487.2h1.4M556.3 487.6h1.4M556.6 487.3h1.4M556.9 487.6h1.4M557.1 486.7h1.4M557.4 486.5h1.4M557.6 486.7h1.4M557.9 486.4h1.4M558.2 487.5h1.4M558.4 486.4h1.4M558.7 487.0h1.4M559.0 486.6h1.4M559.2 486.5h1.4M559.5 487.4h1.4M559.7 486.1h1.4M560.0 486.6h1.4M560.3 487.6h1.4M560.5 485.9h1.4M560.8 486.0h1.4M561.0 488.6h1.4M561.3 489.2h1.4M561.6 488.0h1.4M561.8 487.2h1.4M562.1 486.9h1.4M562.3 487.1h1.4M562.6 487.7h1.4M562.9 487.0h1.4M563.1 487.3h1.4M563.4 488.2h1.4M563.6 487.8h1.4M563.9 487.1h1.4M564.2 488.5h1.4M564.4 488.6h1.4M564.7 488.8h1.4M564.9 487.0h1.4M565.2 487.7h1.4M565.5 487.6h1.4M565.7 488.6h1.4M566.0 488.4h1.4M566.2 487.5h1.4M566.5 488.7h1.4M566.8 487.6h1.4M567.0 488.5h1.4M567.3 488.6h1.4M567.5 488.2h1.4M567.8 488.0h1.4M568.1 487.4h1.4M568.3 489.0h1.4M568.6 487.5h1.4M568.9 489.4h1.4M569.1 489.5h1.4M569.4 490.6h1.4M569.6 488.3h1.4M569.9 487.9h1.4M570.2 489.9h1.4M570.4 489.3h1.4M570.7 489.3h1.4M570.9 490.3h1.4M571.2 489.2h1.4M571.5 489.0h1.4M571.7 489.6h1.4M572.0 490.1h1.4M572.2 489.3h1.4M572.5 489.0h1.4M572.8 490.5h1.4M573.0 489.5h1.4M573.3 489.1h1.4M573.5 491.6h1.4M573.8 489.3h1.4M574.1 488.4h1.4M574.3 490.6h1.4M574.6 488.8h1.4M574.8 489.9h1.4M575.1 489.3h1.4M575.4 489.9h1.4M575.6 490.6h1.4M575.9 491.1h1.4M576.1 488.2h1.4M576.4 490.9h1.4M576.7 490.1h1.4M576.9 489.0h1.4M577.2 489.8h1.4M577.4 489.9h1.4M577.7 491.5h1.4M578.0 490.5h1.4M578.2 491.1h1.4M578.5 491.4h1.4M578.8 490.0h1.4M579.0 489.7h1.4M579.3 490.8h1.4M579.5 490.7h1.4M579.8 490.0h1.4M580.1 489.7h1.4M580.3 491.1h1.4M580.6 489.6h1.4M580.8 489.8h1.4M581.1 490.5h1.4M581.4 491.2h1.4M581.6 490.1h1.4M581.9 490.1h1.4M582.1 489.4h1.4M582.4 491.0h1.4M582.7 489.6h1.4M582.9 490.9h1.4M583.2 490.3h1.4M583.4 490.8h1.4M583.7 490.7h1.4M584.0 489.8h1.4M584.2 491.2h1.4M584.5 490.2h1.4M584.7 491.0h1.4M585.0 490.9h1.4M585.3 491.3h1.4M585.5 490.8h1.4M585.8 492.2h1.4M586.0 491.1h1.4M586.3 490.3h1.4M586.6 490.4h1.4M586.8 492.1h1.4M587.1 491.8h1.4M587.3 491.3h1.4M587.6 489.8h1.4M587.9 491.4h1.4M588.1 491.1h1.4M588.4 491.3h1.4M588.7 490.9h1.4M588.9 491.7h1.4M589.2 491.0h1.4M589.4 490.9h1.4M589.7 490.5h1.4M590.0 491.8h1.4M590.2 490.7h1.4M590.5 490.0h1.4M590.7 490.8h1.4M591.0 490.9h1.4M591.3 492.9h1.4M591.5 490.5h1.4M591.8 490.1h1.4M592.0 490.6h1.4M592.3 491.1h1.4M592.6 490.9h1.4M592.8 489.5h1.4M593.1 491.9h1.4M593.3 491.7h1.4M593.6 490.8h1.4M593.9 491.3h1.4M594.1 492.9h1.4M594.4 491.4h1.4M594.6 491.3h1.4M594.9 492.1h1.4M595.2 491.3h1.4M595.4 491.4h1.4M595.7 492.7h1.4M595.9 491.3h1.4M596.2 490.2h1.4M596.5 490.5h1.4M596.7 492.3h1.4M597.0 492.5h1.4M597.2 491.6h1.4M597.5 491.5h1.4M597.8 492.5h1.4M598.0 492.1h1.4M598.3 490.8h1.4M598.6 491.6h1.4M598.8 491.1h1.4M599.1 491.7h1.4M599.3 491.1h1.4M599.6 492.1h1.4M599.9 492.1h1.4M600.1 492.4h1.4M600.4 493.0h1.4M600.6 492.0h1.4M600.9 492.6h1.4M601.2 492.1h1.4M601.4 491.7h1.4M601.7 491.7h1.4M601.9 491.6h1.4M602.2 492.1h1.4M602.5 491.9h1.4M602.7 491.1h1.4M603.0 492.0h1.4M603.2 491.9h1.4M603.5 493.4h1.4M603.8 492.6h1.4M604.0 491.2h1.4M604.3 492.4h1.4M604.5 492.6h1.4M604.8 491.3h1.4M605.1 492.7h1.4M605.3 491.3h1.4M605.6 492.0h1.4M605.8 492.3h1.4M606.1 493.2h1.4M606.4 491.1h1.4M606.6 493.1h1.4M606.9 492.7h1.4M607.1 491.5h1.4M607.4 492.7h1.4M607.7 491.7h1.4M607.9 492.0h1.4M608.2 492.2h1.4M608.5 492.6h1.4M608.7 492.4h1.4M609.0 491.8h1.4M609.2 492.6h1.4M609.5 491.6h1.4M609.8 491.9h1.4M610.0 491.7h1.4M610.3 491.9h1.4M610.5 491.7h1.4M610.8 491.8h1.4M611.1 491.5h1.4M611.3 491.8h1.4M611.6 491.8h1.4M611.8 492.6h1.4M612.1 493.1h1.4M612.4 492.0h1.4M612.6 491.5h1.4M612.9 492.6h1.4M613.1 493.0h1.4M613.4 492.4h1.4M613.7 491.8h1.4M613.9 491.5h1.4M614.2 492.3h1.4M614.4 492.8h1.4M614.7 492.1h1.4M615.0 491.7h1.4M615.2 492.1h1.4M615.5 491.5h1.4M615.7 492.4h1.4M616.0 491.5h1.4M616.3 491.1h1.4M616.5 492.7h1.4M616.8 492.6h1.4M617.0 491.7h1.4M617.3 490.2h1.4M617.6 491.8h1.4M617.8 492.1h1.4M618.1 491.3h1.4M618.4 492.1h1.4M618.6 493.1h1.4M618.9 492.6h1.4M619.1 491.2h1.4M619.4 493.1h1.4M619.7 492.9h1.4M619.9 491.6h1.4M620.2 492.0h1.4M620.4 491.3h1.4M620.7 492.7h1.4M621.0 492.5h1.4M621.2 492.3h1.4M621.5 492.8h1.4M621.7 492.2h1.4M622.0 492.2h1.4M622.3 491.5h1.4M622.5 492.1h1.4M622.8 492.3h1.4M623.0 491.7h1.4M623.3 491.4h1.4M623.6 491.4h1.4M623.8 491.9h1.4M624.1 492.3h1.4M624.3 492.3h1.4M624.6 492.8h1.4M624.9 492.0h1.4M625.1 492.0h1.4M625.4 491.0h1.4M625.6 491.9h1.4M625.9 491.6h1.4M626.2 491.2h1.4M626.4 493.2h1.4M626.7 492.4h1.4M626.9 492.2h1.4M627.2 491.9h1.4M627.5 492.7h1.4M627.7 491.5h1.4M628.0 491.4h1.4M628.3 491.7h1.4M628.5 491.6h1.4M628.8 492.7h1.4M629.0 491.3h1.4M629.3 492.4h1.4M629.6 493.1h1.4M629.8 491.9h1.4M630.1 491.7h1.4M630.3 492.4h1.4M630.6 493.0h1.4M630.9 492.7h1.4M631.1 492.1h1.4M631.4 493.5h1.4M631.6 491.3h1.4M631.9 491.3h1.4M632.2 492.1h1.4M632.4 491.3h1.4M632.7 492.0h1.4M632.9 492.6h1.4M633.2 491.5h1.4M633.5 491.6h1.4M633.7 492.5h1.4M634.0 492.8h1.4M634.2 492.5h1.4M634.5 491.2h1.4M634.8 492.1h1.4M635.0 490.2h1.4M635.3 492.3h1.4M635.5 491.5h1.4M635.8 491.7h1.4M636.1 492.0h1.4M636.3 491.4h1.4M636.6 492.4h1.4M636.8 491.9h1.4M637.1 492.6h1.4M637.4 493.2h1.4M637.6 491.8h1.4M637.9 492.6h1.4M638.2 492.7h1.4M638.4 491.5h1.4M638.7 492.0h1.4M638.9 491.6h1.4M639.2 490.8h1.4M639.5 491.7h1.4M639.7 491.6h1.4M640.0 492.6h1.4M640.2 491.3h1.4M640.5 491.3h1.4M640.8 492.5h1.4M641.0 491.4h1.4M641.3 491.6h1.4M641.5 492.0h1.4M641.8 491.8h1.4M642.1 490.3h1.4M642.3 492.2h1.4M642.6 492.0h1.4M642.8 491.7h1.4M643.1 491.9h1.4M643.4 492.9h1.4M643.6 491.4h1.4M643.9 491.2h1.4M644.1 490.7h1.4M644.4 492.1h1.4M644.7 492.6h1.4M644.9 491.4h1.4M645.2 492.4h1.4M645.4 491.8h1.4M645.7 492.0h1.4M646.0 491.6h1.4M646.2 492.0h1.4M646.5 491.3h1.4M646.7 492.3h1.4M647.0 490.3h1.4M647.3 491.3h1.4M647.5 492.1h1.4M647.8 492.4h1.4M648.1 491.9h1.4M648.3 492.0h1.4M648.6 492.3h1.4M648.8 490.9h1.4M649.1 491.1h1.4M649.4 492.4h1.4M649.6 491.4h1.4M649.9 491.7h1.4M650.1 491.2h1.4M650.4 492.1h1.4M650.7 490.4h1.4M650.9 491.7h1.4M651.2 490.5h1.4M651.4 492.0h1.4M651.7 490.9h1.4M652.0 491.8h1.4M652.2 490.7h1.4M652.5 491.8h1.4M652.7 492.4h1.4M653.0 492.4h1.4M653.3 492.1h1.4M653.5 491.3h1.4M653.8 491.5h1.4M654.0 491.6h1.4M654.3 491.0h1.4M654.6 490.7h1.4M654.8 492.3h1.4M655.1 491.1h1.4M655.3 490.2h1.4M655.6 492.1h1.4M655.9 492.1h1.4M656.1 491.4h1.4M656.4 491.6h1.4M656.6 492.0h1.4M656.9 491.7h1.4M657.2 490.7h1.4M657.4 491.1h1.4M657.7 492.2h1.4M658.0 492.8h1.4M658.2 492.4h1.4M658.5 491.6h1.4M658.7 492.2h1.4M659.0 492.2h1.4M659.3 491.3h1.4M659.5 491.9h1.4M659.8 492.0h1.4M660.0 491.6h1.4M660.3 490.8h1.4M660.6 491.5h1.4M660.8 491.3h1.4M661.1 491.7h1.4M661.3 490.7h1.4M661.6 492.5h1.4M661.9 492.4h1.4M662.1 492.1h1.4M662.4 490.5h1.4M662.6 490.8h1.4M662.9 492.4h1.4M663.2 492.0h1.4M663.4 491.4h1.4M663.7 491.7h1.4M663.9 491.2h1.4M664.2 492.1h1.4M664.5 492.8h1.4M664.7 491.4h1.4M665.0 491.0h1.4M665.2 492.7h1.4M665.5 493.0h1.4M665.8 492.1h1.4M666.0 493.0h1.4M666.3 491.5h1.4M666.5 492.5h1.4M666.8 491.3h1.4M667.1 492.0h1.4M667.3 491.7h1.4M667.6 491.4h1.4M667.9 492.0h1.4M668.1 492.5h1.4M668.4 491.3h1.4M668.6 492.8h1.4M668.9 491.0h1.4M669.2 492.2h1.4M669.4 492.2h1.4M669.7 491.6h1.4M669.9 491.6h1.4M670.2 491.6h1.4M670.5 492.8h1.4M670.7 492.5h1.4M671.0 491.7h1.4M671.2 491.7h1.4M671.5 492.0h1.4M671.8 491.1h1.4M672.0 492.1h1.4M672.3 491.4h1.4M672.5 491.3h1.4M672.8 491.8h1.4M673.1 492.1h1.4M673.3 491.5h1.4M673.6 491.7h1.4M673.8 491.6h1.4M674.1 492.6h1.4M674.4 491.7h1.4M674.6 491.1h1.4M674.9 492.2h1.4M675.1 492.0h1.4M675.4 492.2h1.4M675.7 491.6h1.4" fill="none" stroke="#1565D2" stroke-opacity="0.3" stroke-width="1.2"/>
<path d="M530.0 431.3h1.4M530.3 425.8h1.4M530.6 427.7h1.4M530.8 429.2h1.4M531.1 428.6h1.4M531.3 427.6h1.4M531.6 429.0h1.4M531.9 428.8h1.4M532.1 428.2h1.4M532.4 430.1h1.4M532.6 429.5h1.4M532.9 428.6h1.4M533.2 430.3h1.4M533.4 432.4h1.4M533.7 430.5h1.4M533.9 428.8h1.4M534.2 432.7h1.4M534.5 431.7h1.4M534.7 432.0h1.4M535.0 431.6h1.4M535.2 433.8h1.4M535.5 433.5h1.4M535.8 430.7h1.4M536.0 432.9h1.4M536.3 435.2h1.4M536.5 433.3h1.4M536.8 434.6h1.4M537.1 432.6h1.4M537.3 437.7h1.4M537.6 435.3h1.4M537.8 434.2h1.4M538.1 437.9h1.4M538.4 437.3h1.4M538.6 435.8h1.4M538.9 436.7h1.4M539.2 437.4h1.4M539.4 436.8h1.4M539.7 439.5h1.4M539.9 439.0h1.4M540.2 435.4h1.4M540.5 439.2h1.4M540.7 437.8h1.4M541.0 438.8h1.4M541.2 437.6h1.4M541.5 438.7h1.4M541.8 438.8h1.4M542.0 437.9h1.4M542.3 439.4h1.4M542.5 442.7h1.4M542.8 441.4h1.4M543.1 438.5h1.4M543.3 439.3h1.4M543.6 441.4h1.4M543.8 443.7h1.4M544.1 442.6h1.4M544.4 438.8h1.4M544.6 440.3h1.4M544.9 440.5h1.4M545.1 444.9h1.4M545.4 444.7h1.4M545.7 443.9h1.4M545.9 445.2h1.4M546.2 443.3h1.4M546.4 445.3h1.4M546.7 443.3h1.4M547.0 444.5h1.4M547.2 445.2h1.4M547.5 443.7h1.4M547.7 444.2h1.4M548.0 444.9h1.4M548.3 445.9h1.4M548.5 445.6h1.4M548.8 448.5h1.4M549.1 448.8h1.4M549.3 447.2h1.4M549.6 446.3h1.4M549.8 444.2h1.4M550.1 446.4h1.4M550.4 448.6h1.4M550.6 448.1h1.4M550.9 449.4h1.4M551.1 447.9h1.4M551.4 448.2h1.4M551.7 448.3h1.4M551.9 448.1h1.4M552.2 447.3h1.4M552.4 448.0h1.4M552.7 450.8h1.4M553.0 448.2h1.4M553.2 451.0h1.4M553.5 449.3h1.4M553.7 449.9h1.4M554.0 447.9h1.4M554.3 450.6h1.4M554.5 450.8h1.4M554.8 451.3h1.4M555.0 450.0h1.4M555.3 450.9h1.4M555.6 451.9h1.4M555.8 450.6h1.4M556.1 449.1h1.4M556.3 450.0h1.4M556.6 450.4h1.4M556.9 453.4h1.4M557.1 453.0h1.4M557.4 452.8h1.4M557.6 455.6h1.4M557.9 451.2h1.4M558.2 455.6h1.4M558.4 453.4h1.4M558.7 455.8h1.4M559.0 454.1h1.4M559.2 453.4h1.4M559.5 454.0h1.4M559.7 456.1h1.4M560.0 456.0h1.4M560.3 454.1h1.4M560.5 455.6h1.4M560.8 455.6h1.4M561.0 454.7h1.4M561.3 459.5h1.4M561.6 456.0h1.4M561.8 454.9h1.4M562.1 454.4h1.4M562.3 456.1h1.4M562.6 458.1h1.4M562.9 456.1h1.4M563.1 455.1h1.4M563.4 458.6h1.4M563.6 458.9h1.4M563.9 458.4h1.4M564.2 458.9h1.4M564.4 461.2h1.4M564.7 461.8h1.4M564.9 460.6h1.4M565.2 460.0h1.4M565.5 458.8h1.4M565.7 460.2h1.4M566.0 459.5h1.4M566.2 458.2h1.4M566.5 456.3h1.4M566.8 459.2h1.4M567.0 461.8h1.4M567.3 459.5h1.4M567.5 460.9h1.4M567.8 460.7h1.4M568.1 460.1h1.4M568.3 460.5h1.4M568.6 463.3h1.4M568.9 463.3h1.4M569.1 461.7h1.4M569.4 461.3h1.4M569.6 459.8h1.4M569.9 461.8h1.4M570.2 463.2h1.4M570.4 463.6h1.4M570.7 464.0h1.4M570.9 464.9h1.4M571.2 465.1h1.4M571.5 464.4h1.4M571.7 463.8h1.4M572.0 465.0h1.4M572.2 464.2h1.4M572.5 464.8h1.4M572.8 464.9h1.4M573.0 465.3h1.4M573.3 464.6h1.4M573.5 465.1h1.4M573.8 468.5h1.4M574.1 465.2h1.4M574.3 465.5h1.4M574.6 466.6h1.4M574.8 465.8h1.4M575.1 467.0h1.4M575.4 466.2h1.4M575.6 467.6h1.4M575.9 465.9h1.4M576.1 466.5h1.4M576.4 468.8h1.4M576.7 468.1h1.4M576.9 466.6h1.4M577.2 467.1h1.4M577.4 467.6h1.4M577.7 469.2h1.4M578.0 468.9h1.4M578.2 468.1h1.4M578.5 468.1h1.4M578.8 468.6h1.4M579.0 469.7h1.4M579.3 469.2h1.4M579.5 469.7h1.4M579.8 470.6h1.4M580.1 470.7h1.4M580.3 470.5h1.4M580.6 471.5h1.4M580.8 469.4h1.4M581.1 469.2h1.4M581.4 469.2h1.4M581.6 471.3h1.4M581.9 471.4h1.4M582.1 470.4h1.4M582.4 471.4h1.4M582.7 471.4h1.4M582.9 471.5h1.4M583.2 473.1h1.4M583.4 470.1h1.4M583.7 473.2h1.4M584.0 473.6h1.4M584.2 471.1h1.4M584.5 473.3h1.4M584.7 471.1h1.4M585.0 472.0h1.4M585.3 472.2h1.4M585.5 473.1h1.4M585.8 474.4h1.4M586.0 474.3h1.4M586.3 473.1h1.4M586.6 473.4h1.4M586.8 474.8h1.4M587.1 474.8h1.4M587.3 474.7h1.4M587.6 474.0h1.4M587.9 473.6h1.4M588.1 473.2h1.4M588.4 474.7h1.4M588.7 473.0h1.4M588.9 473.9h1.4M589.2 473.2h1.4M589.4 475.8h1.4M589.7 474.4h1.4M590.0 474.0h1.4M590.2 477.2h1.4M590.5 474.5h1.4M590.7 475.2h1.4M591.0 474.8h1.4M591.3 475.7h1.4M591.5 474.8h1.4M591.8 476.6h1.4M592.0 476.8h1.4M592.3 475.7h1.4M592.6 475.8h1.4M592.8 478.1h1.4M593.1 475.6h1.4M593.3 475.8h1.4M593.6 476.1h1.4M593.9 478.0h1.4M594.1 476.1h1.4M594.4 477.0h1.4M594.6 476.7h1.4M594.9 477.8h1.4M595.2 478.3h1.4M595.4 478.7h1.4M595.7 478.8h1.4M595.9 477.4h1.4M596.2 479.2h1.4M596.5 479.1h1.4M596.7 478.3h1.4M597.0 479.0h1.4M597.2 480.9h1.4M597.5 479.7h1.4M597.8 479.5h1.4M598.0 477.7h1.4M598.3 478.7h1.4M598.6 480.5h1.4M598.8 480.7h1.4M599.1 480.2h1.4M599.3 479.6h1.4M599.6 480.7h1.4M599.9 479.7h1.4M600.1 481.6h1.4M600.4 480.0h1.4M600.6 479.3h1.4M600.9 483.1h1.4M601.2 480.7h1.4M601.4 480.5h1.4M601.7 480.5h1.4M601.9 480.9h1.4M602.2 481.2h1.4M602.5 481.0h1.4M602.7 481.2h1.4M603.0 481.4h1.4M603.2 480.1h1.4M603.5 480.7h1.4M603.8 480.9h1.4M604.0 482.5h1.4M604.3 482.4h1.4M604.5 481.1h1.4M604.8 483.2h1.4M605.1 481.4h1.4M605.3 483.6h1.4M605.6 480.6h1.4M605.8 481.5h1.4M606.1 483.2h1.4M606.4 483.2h1.4M606.6 484.8h1.4M606.9 483.1h1.4M607.1 482.1h1.4M607.4 482.7h1.4M607.7 483.6h1.4M607.9 481.6h1.4M608.2 483.0h1.4M608.5 483.3h1.4M608.7 484.0h1.4M609.0 483.3h1.4M609.2 481.6h1.4M609.5 483.6h1.4M609.8 485.5h1.4M610.0 484.0h1.4M610.3 482.6h1.4M610.5 483.3h1.4M610.8 484.9h1.4M611.1 484.2h1.4M611.3 485.9h1.4M611.6 484.2h1.4M611.8 485.6h1.4M612.1 485.4h1.4M612.4 485.5h1.4M612.6 485.7h1.4M612.9 483.7h1.4M613.1 484.0h1.4M613.4 485.6h1.4M613.7 485.3h1.4M613.9 484.1h1.4M614.2 485.8h1.4M614.4 486.0h1.4M614.7 486.5h1.4M615.0 484.5h1.4M615.2 485.8h1.4M615.5 486.0h1.4M615.7 486.4h1.4M616.0 486.9h1.4M616.3 485.5h1.4M616.5 486.9h1.4M616.8 486.8h1.4M617.0 487.8h1.4M617.3 487.4h1.4M617.6 487.0h1.4M617.8 487.1h1.4M618.1 488.0h1.4M618.4 487.3h1.4M618.6 487.0h1.4M618.9 489.1h1.4M619.1 486.6h1.4M619.4 487.4h1.4M619.7 488.3h1.4M619.9 487.5h1.4M620.2 487.0h1.4M620.4 487.4h1.4M620.7 487.5h1.4M621.0 487.6h1.4M621.2 487.1h1.4M621.5 488.8h1.4M621.7 488.2h1.4M622.0 487.5h1.4M622.3 487.9h1.4M622.5 488.8h1.4M622.8 488.3h1.4M623.0 488.6h1.4M623.3 488.2h1.4M623.6 489.5h1.4M623.8 489.5h1.4M624.1 489.4h1.4M624.3 488.5h1.4M624.6 486.6h1.4M624.9 487.8h1.4M625.1 487.7h1.4M625.4 488.7h1.4M625.6 487.5h1.4M625.9 488.5h1.4M626.2 488.8h1.4M626.4 488.1h1.4M626.7 489.8h1.4M626.9 490.6h1.4M627.2 489.9h1.4M627.5 488.1h1.4M627.7 488.5h1.4M628.0 489.1h1.4M628.3 489.5h1.4M628.5 489.5h1.4M628.8 489.1h1.4M629.0 490.1h1.4M629.3 488.9h1.4M629.6 490.2h1.4M629.8 488.6h1.4M630.1 489.9h1.4M630.3 490.4h1.4M630.6 490.0h1.4M630.9 490.5h1.4M631.1 489.9h1.4M631.4 491.2h1.4M631.6 490.3h1.4M631.9 489.9h1.4M632.2 489.8h1.4M632.4 490.4h1.4M632.7 489.3h1.4M632.9 491.3h1.4M633.2 490.4h1.4M633.5 490.6h1.4M633.7 490.3h1.4M634.0 490.5h1.4M634.2 489.5h1.4M634.5 490.4h1.4M634.8 491.1h1.4M635.0 488.8h1.4M635.3 490.5h1.4M635.5 490.7h1.4M635.8 490.0h1.4M636.1 491.1h1.4M636.3 490.9h1.4M636.6 490.2h1.4M636.8 491.6h1.4M637.1 491.1h1.4M637.4 490.2h1.4M637.6 489.7h1.4M637.9 491.0h1.4M638.2 491.0h1.4M638.4 490.3h1.4M638.7 492.0h1.4M638.9 491.5h1.4M639.2 491.6h1.4M639.5 492.5h1.4M639.7 493.0h1.4M640.0 491.5h1.4M640.2 490.6h1.4M640.5 490.8h1.4M640.8 490.5h1.4M641.0 493.1h1.4M641.3 491.4h1.4M641.5 490.5h1.4M641.8 492.0h1.4M642.1 492.3h1.4M642.3 491.2h1.4M642.6 491.5h1.4M642.8 491.1h1.4M643.1 491.6h1.4M643.4 490.8h1.4M643.6 491.2h1.4M643.9 491.5h1.4M644.1 491.9h1.4M644.4 491.2h1.4M644.7 492.1h1.4M644.9 491.1h1.4M645.2 491.0h1.4M645.4 491.2h1.4M645.7 492.6h1.4M646.0 491.5h1.4M646.2 491.6h1.4M646.5 491.3h1.4M646.7 492.8h1.4M647.0 492.3h1.4M647.3 492.0h1.4M647.5 491.1h1.4M647.8 492.3h1.4M648.1 491.4h1.4M648.3 491.9h1.4M648.6 490.8h1.4M648.8 491.8h1.4M649.1 493.0h1.4M649.4 492.2h1.4M649.6 491.9h1.4M649.9 491.3h1.4M650.1 491.7h1.4M650.4 492.3h1.4M650.7 492.9h1.4M650.9 492.1h1.4M651.2 492.2h1.4M651.4 491.4h1.4M651.7 491.6h1.4M652.0 493.0h1.4M652.2 493.6h1.4M652.5 492.4h1.4M652.7 492.1h1.4M653.0 492.8h1.4M653.3 492.5h1.4M653.5 491.5h1.4M653.8 491.8h1.4M654.0 493.3h1.4M654.3 492.1h1.4M654.6 492.2h1.4M654.8 492.4h1.4M655.1 492.0h1.4M655.3 492.0h1.4M655.6 490.9h1.4M655.9 492.2h1.4M656.1 492.7h1.4M656.4 492.6h1.4M656.6 491.9h1.4M656.9 491.2h1.4M657.2 492.0h1.4M657.4 492.0h1.4M657.7 492.2h1.4M658.0 492.6h1.4M658.2 492.3h1.4M658.5 493.0h1.4M658.7 491.9h1.4M659.0 492.1h1.4M659.3 492.2h1.4M659.5 492.8h1.4M659.8 492.5h1.4M660.0 492.7h1.4M660.3 492.2h1.4M660.6 492.5h1.4M660.8 492.1h1.4M661.1 491.8h1.4M661.3 491.6h1.4M661.6 492.9h1.4M661.9 492.5h1.4M662.1 493.0h1.4M662.4 491.6h1.4M662.6 492.8h1.4M662.9 491.5h1.4M663.2 492.6h1.4M663.4 491.7h1.4M663.7 492.6h1.4M663.9 492.4h1.4M664.2 492.2h1.4M664.5 492.2h1.4M664.7 492.4h1.4M665.0 491.9h1.4M665.2 491.6h1.4M665.5 491.8h1.4M665.8 492.5h1.4M666.0 493.3h1.4M666.3 492.2h1.4M666.5 493.9h1.4M666.8 491.8h1.4M667.1 491.8h1.4M667.3 492.9h1.4M667.6 491.8h1.4M667.9 492.6h1.4M668.1 491.4h1.4M668.4 492.6h1.4M668.6 492.6h1.4M668.9 492.5h1.4M669.2 492.0h1.4M669.4 492.7h1.4M669.7 490.7h1.4M669.9 492.3h1.4M670.2 491.0h1.4M670.5 492.2h1.4M670.7 492.2h1.4M671.0 492.4h1.4M671.2 492.5h1.4M671.5 491.7h1.4M671.8 491.3h1.4M672.0 491.9h1.4M672.3 492.5h1.4M672.5 491.8h1.4M672.8 492.4h1.4M673.1 493.5h1.4M673.3 491.8h1.4M673.6 492.9h1.4M673.8 492.2h1.4M674.1 491.8h1.4M674.4 492.0h1.4M674.6 491.9h1.4M674.9 490.8h1.4M675.1 491.2h1.4M675.4 490.8h1.4M675.7 491.6h1.4" fill="none" stroke="#6DB31E" stroke-opacity="0.3" stroke-width="1.2"/>
<path d="M530.0 493.3h1.4M530.3 492.6h1.4M530.6 493.7h1.4M530.8 493.3h1.4M531.1 493.4h1.4M531.3 493.3h1.4M531.6 493.1h1.4M531.9 493.4h1.4M532.1 493.0h1.4M532.4 493.8h1.4M532.6 493.2h1.4M532.9 493.9h1.4M533.2 492.9h1.4M533.4 493.0h1.4M533.7 493.5h1.4M533.9 493.7h1.4M534.2 493.4h1.4M534.5 493.2h1.4M534.7 494.2h1.4M535.0 493.9h1.4M535.2 493.0h1.4M535.5 493.5h1.4M535.8 494.0h1.4M536.0 494.5h1.4M536.3 493.6h1.4M536.5 494.3h1.4M536.8 493.4h1.4M537.1 493.5h1.4M537.3 492.6h1.4M537.6 494.0h1.4M537.8 493.1h1.4M538.1 494.0h1.4M538.4 493.9h1.4M538.6 493.5h1.4M538.9 493.8h1.4M539.2 492.6h1.4M539.4 493.5h1.4M539.7 493.8h1.4M539.9 492.3h1.4M540.2 493.8h1.4M540.5 493.6h1.4M540.7 493.5h1.4M541.0 493.8h1.4M541.2 493.2h1.4M541.5 492.9h1.4M541.8 494.0h1.4M542.0 493.7h1.4M542.3 493.6h1.4M542.5 494.1h1.4M542.8 494.1h1.4M543.1 493.6h1.4M543.3 493.9h1.4M543.6 493.3h1.4M543.8 493.1h1.4M544.1 493.4h1.4M544.4 493.3h1.4M544.6 493.9h1.4M544.9 493.7h1.4M545.1 493.3h1.4M545.4 493.2h1.4M545.7 493.5h1.4M545.9 493.2h1.4M546.2 493.6h1.4M546.4 494.0h1.4M546.7 493.3h1.4M547.0 493.6h1.4M547.2 494.2h1.4M547.5 493.0h1.4M547.7 493.3h1.4M548.0 493.1h1.4M548.3 493.7h1.4M548.5 492.7h1.4M548.8 493.2h1.4M549.1 493.0h1.4M549.3 493.7h1.4M549.6 493.6h1.4M549.8 492.8h1.4M550.1 493.4h1.4M550.4 493.4h1.4M550.6 492.7h1.4M550.9 492.9h1.4M551.1 493.3h1.4M551.4 492.5h1.4M551.7 494.1h1.4M551.9 493.5h1.4M552.2 493.7h1.4M552.4 492.7h1.4M552.7 492.7h1.4M553.0 493.6h1.4M553.2 493.4h1.4M553.5 493.0h1.4M553.7 493.2h1.4M554.0 493.3h1.4M554.3 492.9h1.4M554.5 492.5h1.4M554.8 493.4h1.4M555.0 493.9h1.4M555.3 493.5h1.4M555.6 493.4h1.4M555.8 493.6h1.4M556.1 493.1h1.4M556.3 493.1h1.4M556.6 493.0h1.4M556.9 493.2h1.4M557.1 493.3h1.4M557.4 493.9h1.4M557.6 493.6h1.4M557.9 493.8h1.4M558.2 493.3h1.4M558.4 493.5h1.4M558.7 493.4h1.4M559.0 493.2h1.4M559.2 493.5h1.4M559.5 492.9h1.4M559.7 492.9h1.4M560.0 493.8h1.4M560.3 492.8h1.4M560.5 493.6h1.4M560.8 493.7h1.4M561.0 493.5h1.4M561.3 494.0h1.4M561.6 493.2h1.4M561.8 492.8h1.4M562.1 494.1h1.4M562.3 493.2h1.4M562.6 493.1h1.4M562.9 493.1h1.4M563.1 493.1h1.4M563.4 493.2h1.4M563.6 493.6h1.4M563.9 493.0h1.4M564.2 493.2h1.4M564.4 493.0h1.4M564.7 493.2h1.4M564.9 493.5h1.4M565.2 493.4h1.4M565.5 493.1h1.4M565.7 492.9h1.4M566.0 494.3h1.4M566.2 494.0h1.4M566.5 494.1h1.4M566.8 493.6h1.4M567.0 493.7h1.4M567.3 493.3h1.4M567.5 493.5h1.4M567.8 492.8h1.4M568.1 493.7h1.4M568.3 493.7h1.4M568.6 493.8h1.4M568.9 493.5h1.4M569.1 493.3h1.4M569.4 493.6h1.4M569.6 493.8h1.4M569.9 494.0h1.4M570.2 493.3h1.4M570.4 493.6h1.4M570.7 493.8h1.4M570.9 493.5h1.4M571.2 493.2h1.4M571.5 492.4h1.4M571.7 492.6h1.4M572.0 493.8h1.4M572.2 493.6h1.4M572.5 494.3h1.4M572.8 494.3h1.4M573.0 494.2h1.4M573.3 492.9h1.4M573.5 493.4h1.4M573.8 494.0h1.4M574.1 493.7h1.4M574.3 493.6h1.4M574.6 493.6h1.4M574.8 492.7h1.4M575.1 494.2h1.4M575.4 493.5h1.4M575.6 493.2h1.4M575.9 493.1h1.4M576.1 494.3h1.4M576.4 493.2h1.4M576.7 493.9h1.4M576.9 493.6h1.4M577.2 494.1h1.4M577.4 493.0h1.4M577.7 491.9h1.4M578.0 492.8h1.4M578.2 493.4h1.4M578.5 494.1h1.4M578.8 492.9h1.4M579.0 492.7h1.4M579.3 493.8h1.4M579.5 492.8h1.4M579.8 494.1h1.4M580.1 493.9h1.4M580.3 493.2h1.4M580.6 493.9h1.4M580.8 492.9h1.4M581.1 492.6h1.4M581.4 493.2h1.4M581.6 493.0h1.4M581.9 492.5h1.4M582.1 493.0h1.4M582.4 492.6h1.4M582.7 492.6h1.4M582.9 493.8h1.4M583.2 492.2h1.4M583.4 492.7h1.4M583.7 493.2h1.4M584.0 492.8h1.4M584.2 493.1h1.4M584.5 493.1h1.4M584.7 493.7h1.4M585.0 493.4h1.4M585.3 493.4h1.4M585.5 492.7h1.4M585.8 493.0h1.4M586.0 493.0h1.4M586.3 493.3h1.4M586.6 492.6h1.4M586.8 494.4h1.4M587.1 493.6h1.4M587.3 492.7h1.4M587.6 493.4h1.4M587.9 492.9h1.4M588.1 492.4h1.4M588.4 492.8h1.4M588.7 493.9h1.4M588.9 493.3h1.4M589.2 493.7h1.4M589.4 492.9h1.4M589.7 492.7h1.4M590.0 493.3h1.4M590.2 492.9h1.4M590.5 493.2h1.4M590.7 492.2h1.4M591.0 493.1h1.4M591.3 493.0h1.4M591.5 492.9h1.4M591.8 492.6h1.4M592.0 492.8h1.4M592.3 493.1h1.4M592.6 493.1h1.4M592.8 492.9h1.4M593.1 492.8h1.4M593.3 493.3h1.4M593.6 493.4h1.4M593.9 493.2h1.4M594.1 492.9h1.4M594.4 493.3h1.4M594.6 493.6h1.4M594.9 493.3h1.4M595.2 493.3h1.4M595.4 492.8h1.4M595.7 493.3h1.4M595.9 493.3h1.4M596.2 492.1h1.4M596.5 492.8h1.4M596.7 493.5h1.4M597.0 492.5h1.4M597.2 493.2h1.4M597.5 493.5h1.4M597.8 492.7h1.4M598.0 493.7h1.4M598.3 493.1h1.4M598.6 492.8h1.4M598.8 492.7h1.4M599.1 493.3h1.4M599.3 493.3h1.4M599.6 493.1h1.4M599.9 492.4h1.4M600.1 493.9h1.4M600.4 492.6h1.4M600.6 492.9h1.4M600.9 492.3h1.4M601.2 493.6h1.4M601.4 492.4h1.4M601.7 493.4h1.4M601.9 492.8h1.4M602.2 493.2h1.4M602.5 494.2h1.4M602.7 493.0h1.4M603.0 492.8h1.4M603.2 492.5h1.4M603.5 493.3h1.4M603.8 493.6h1.4M604.0 492.6h1.4M604.3 493.1h1.4M604.5 492.4h1.4M604.8 492.2h1.4M605.1 493.1h1.4M605.3 493.0h1.4M605.6 493.3h1.4M605.8 494.0h1.4M606.1 492.9h1.4M606.4 492.5h1.4M606.6 492.4h1.4M606.9 492.9h1.4M607.1 492.0h1.4M607.4 493.2h1.4M607.7 492.9h1.4M607.9 493.2h1.4M608.2 493.1h1.4M608.5 493.0h1.4M608.7 493.2h1.4M609.0 493.1h1.4M609.2 492.7h1.4M609.5 492.8h1.4M609.8 493.4h1.4M610.0 492.6h1.4M610.3 493.3h1.4M610.5 492.6h1.4M610.8 492.8h1.4M611.1 493.8h1.4M611.3 493.4h1.4M611.6 492.3h1.4M611.8 493.2h1.4M612.1 493.2h1.4M612.4 493.0h1.4M612.6 492.8h1.4M612.9 492.5h1.4M613.1 493.0h1.4M613.4 491.9h1.4M613.7 493.1h1.4M613.9 493.0h1.4M614.2 492.9h1.4M614.4 492.7h1.4M614.7 492.0h1.4M615.0 491.5h1.4M615.2 492.9h1.4M615.5 492.8h1.4M615.7 492.4h1.4M616.0 492.8h1.4M616.3 492.3h1.4M616.5 493.3h1.4M616.8 492.3h1.4M617.0 493.9h1.4M617.3 492.4h1.4M617.6 492.4h1.4M617.8 491.4h1.4M618.1 493.2h1.4M618.4 492.3h1.4M618.6 492.3h1.4M618.9 493.2h1.4M619.1 492.5h1.4M619.4 493.1h1.4M619.7 493.3h1.4M619.9 493.5h1.4M620.2 492.8h1.4M620.4 493.2h1.4M620.7 493.8h1.4M621.0 492.5h1.4M621.2 493.6h1.4M621.5 492.3h1.4M621.7 492.5h1.4M622.0 493.1h1.4M622.3 493.5h1.4M622.5 493.1h1.4M622.8 493.3h1.4M623.0 492.8h1.4M623.3 492.8h1.4M623.6 491.2h1.4M623.8 493.7h1.4M624.1 492.9h1.4M624.3 492.3h1.4M624.6 492.0h1.4M624.9 491.8h1.4M625.1 493.1h1.4M625.4 492.1h1.4M625.6 494.1h1.4M625.9 492.7h1.4M626.2 492.1h1.4M626.4 492.1h1.4M626.7 493.3h1.4M626.9 493.0h1.4M627.2 493.7h1.4M627.5 492.9h1.4M627.7 493.3h1.4M628.0 492.3h1.4M628.3 492.9h1.4M628.5 492.1h1.4M628.8 492.5h1.4M629.0 492.7h1.4M629.3 491.5h1.4M629.6 491.8h1.4M629.8 493.2h1.4M630.1 491.7h1.4M630.3 492.0h1.4M630.6 491.7h1.4M630.9 492.2h1.4M631.1 493.4h1.4M631.4 492.6h1.4M631.6 493.8h1.4M631.9 493.2h1.4M632.2 492.8h1.4M632.4 491.7h1.4M632.7 492.4h1.4M632.9 492.3h1.4M633.2 491.9h1.4M633.5 492.9h1.4M633.7 491.7h1.4M634.0 492.2h1.4M634.2 492.9h1.4M634.5 492.7h1.4M634.8 492.5h1.4M635.0 492.0h1.4M635.3 491.5h1.4M635.5 492.5h1.4M635.8 492.4h1.4M636.1 491.2h1.4M636.3 490.4h1.4M636.6 491.2h1.4M636.8 492.2h1.4M637.1 492.5h1.4M637.4 491.9h1.4M637.6 492.1h1.4M637.9 492.7h1.4M638.2 491.4h1.4M638.4 490.7h1.4M638.7 492.7h1.4M638.9 492.7h1.4M639.2 492.5h1.4M639.5 492.9h1.4M639.7 491.7h1.4M640.0 493.0h1.4M640.2 491.8h1.4M640.5 491.9h1.4M640.8 491.7h1.4M641.0 493.0h1.4M641.3 492.1h1.4M641.5 492.0h1.4M641.8 491.6h1.4M642.1 491.9h1.4M642.3 492.5h1.4M642.6 491.4h1.4M642.8 491.3h1.4M643.1 491.3h1.4M643.4 492.5h1.4M643.6 491.8h1.4M643.9 492.6h1.4M644.1 492.2h1.4M644.4 491.6h1.4M644.7 492.9h1.4M644.9 490.4h1.4M645.2 491.3h1.4M645.4 492.5h1.4M645.7 492.4h1.4M646.0 492.0h1.4M646.2 492.1h1.4M646.5 492.7h1.4M646.7 492.1h1.4M647.0 492.9h1.4M647.3 492.3h1.4M647.5 490.9h1.4M647.8 492.0h1.4M648.1 492.2h1.4M648.3 491.0h1.4M648.6 491.7h1.4M648.8 491.5h1.4M649.1 492.2h1.4M649.4 491.2h1.4M649.6 492.1h1.4M649.9 491.3h1.4M650.1 491.5h1.4M650.4 490.8h1.4M650.7 491.2h1.4M650.9 491.8h1.4M651.2 492.5h1.4M651.4 492.0h1.4M651.7 492.2h1.4M652.0 490.8h1.4M652.2 492.0h1.4M652.5 493.2h1.4M652.7 491.5h1.4M653.0 491.2h1.4M653.3 492.3h1.4M653.5 491.3h1.4M653.8 492.5h1.4M654.0 491.5h1.4M654.3 491.8h1.4M654.6 491.5h1.4M654.8 491.4h1.4M655.1 492.1h1.4M655.3 491.1h1.4M655.6 492.0h1.4M655.9 491.6h1.4M656.1 490.7h1.4M656.4 492.2h1.4M656.6 491.5h1.4M656.9 490.6h1.4M657.2 490.8h1.4M657.4 492.0h1.4M657.7 491.9h1.4M658.0 491.2h1.4M658.2 491.9h1.4M658.5 491.5h1.4M658.7 492.4h1.4M659.0 491.1h1.4M659.3 492.5h1.4M659.5 491.4h1.4M659.8 491.0h1.4M660.0 491.9h1.4M660.3 492.4h1.4M660.6 492.2h1.4M660.8 492.7h1.4M661.1 490.2h1.4M661.3 492.6h1.4M661.6 492.2h1.4M661.9 491.2h1.4M662.1 491.3h1.4M662.4 490.7h1.4M662.6 490.5h1.4M662.9 491.0h1.4M663.2 491.4h1.4M663.4 491.7h1.4M663.7 491.4h1.4M663.9 490.7h1.4M664.2 490.9h1.4M664.5 490.8h1.4M664.7 492.3h1.4M665.0 491.7h1.4M665.2 491.7h1.4M665.5 491.6h1.4M665.8 491.9h1.4M666.0 490.7h1.4M666.3 490.5h1.4M666.5 489.9h1.4M666.8 491.5h1.4M667.1 491.2h1.4M667.3 491.1h1.4M667.6 491.1h1.4M667.9 491.6h1.4M668.1 490.5h1.4M668.4 492.4h1.4M668.6 491.4h1.4M668.9 492.3h1.4M669.2 490.6h1.4M669.4 491.9h1.4M669.7 491.8h1.4M669.9 491.0h1.4M670.2 491.7h1.4M670.5 490.8h1.4M670.7 491.2h1.4M671.0 489.6h1.4M671.2 491.7h1.4M671.5 491.5h1.4M671.8 490.5h1.4M672.0 490.8h1.4M672.3 490.6h1.4M672.5 491.1h1.4M672.8 490.2h1.4M673.1 490.6h1.4M673.3 489.9h1.4M673.6 491.7h1.4M673.8 490.6h1.4M674.1 490.9h1.4M674.4 490.5h1.4M674.6 491.4h1.4M674.9 490.2h1.4M675.1 491.6h1.4M675.4 490.1h1.4M675.7 490.3h1.4" fill="none" stroke="#FF8C00" stroke-opacity="0.3" stroke-width="1.2"/>
<polyline points="530.73,491.59 532.37,491.59 534.00,491.68 535.64,491.58 537.28,491.62 538.91,491.51 540.55,491.51 542.19,491.38 543.82,491.31 545.46,491.16 547.10,491.16 548.73,491.14 550.37,491.16 552.00,491.19 553.64,491.33 555.28,491.27 556.91,491.35 558.55,491.42 560.19,491.40 561.82,491.45 563.46,491.42 565.10,491.34 566.73,491.36 568.37,491.27 570.00,491.18 571.64,491.17 573.28,491.12 574.91,491.11 576.55,491.16 578.19,491.12 579.82,491.20 581.46,491.18 583.10,491.22 584.73,491.19 586.37,491.33 588.00,491.32 589.64,491.44 591.28,491.38 592.91,491.39 594.55,491.42 596.19,491.47 597.82,491.32 599.46,491.32 601.10,491.29 602.73,491.32 604.37,491.44 606.00,491.36 607.64,491.34 609.28,491.51 610.91,491.57 612.55,491.58 614.19,491.54 615.82,491.50 617.46,491.64 619.10,491.61 620.73,491.49 622.37,491.47 624.00,491.43 625.64,491.56 627.28,491.57 628.91,491.49 630.55,491.54 632.19,491.53 633.82,491.56 635.46,491.55 637.10,491.60 638.73,491.67 640.37,491.70 642.00,491.75 643.64,491.79 645.28,491.79 646.91,491.88 648.55,491.88 650.19,491.83 651.82,491.81 653.46,491.84 655.10,491.79 656.73,491.74 658.37,491.79 660.00,491.73 661.64,491.80 663.28,491.87 664.91,491.90 666.55,492.01 668.19,492.17 669.82,492.16 671.46,492.25 673.10,492.26 674.73,492.35 676.37,492.32" fill="none" stroke="#000000" stroke-width="1.5" stroke-linejoin="round"/>
<polyline points="530.73,477.87 532.37,478.73 534.00,479.40 535.64,480.01 537.28,480.58 538.91,481.14 540.55,481.59 542.19,482.01 543.82,482.52 545.46,483.12 547.10,483.65 548.73,484.11 550.37,484.53 552.00,485.04 553.64,485.37 555.28,485.78 556.91,486.05 558.55,486.47 560.19,486.89 561.82,487.30 563.46,487.63 565.10,488.05 566.73,488.49 568.37,488.75 570.00,488.90 571.64,489.05 573.28,489.24 574.91,489.49 576.55,489.71 578.19,489.72 579.82,490.01 581.46,490.23 583.10,490.43 584.73,490.64 586.37,490.70 588.00,490.89 589.64,491.12 591.28,491.19 592.91,491.36 594.55,491.42 596.19,491.57 597.82,491.78 599.46,491.81 601.10,491.80 602.73,491.90 604.37,491.88 606.00,492.05 607.64,491.98 609.28,491.99 610.91,492.05 612.55,492.02 614.19,491.99 615.82,492.08 617.46,492.00 619.10,491.96 620.73,491.92 622.37,491.93 624.00,491.98 625.64,492.01 627.28,492.00 628.91,492.01 630.55,492.04 632.19,492.05 633.82,491.97 635.46,491.91 637.10,491.78 638.73,491.79 640.37,491.75 642.00,491.80 643.64,491.74 645.28,491.72 646.91,491.75 648.55,491.82 650.19,491.78 651.82,491.84 653.46,491.74 655.10,491.77 656.73,491.78 658.37,491.77 660.00,491.72 661.64,491.62 663.28,491.57 664.91,491.61 666.55,491.69 668.19,491.75 669.82,491.83 671.46,491.93 673.10,492.01 674.73,492.06 676.37,492.16" fill="none" stroke="#1565D2" stroke-width="1.5" stroke-linejoin="round"/>
<polyline points="530.73,428.18 532.37,430.01 534.00,431.61 535.64,433.21 537.28,434.71 538.91,436.34 540.55,437.93 542.19,439.39 543.82,440.81 545.46,442.27 547.10,443.80 548.73,445.39 550.37,446.85 552.00,448.24 553.64,449.74 555.28,451.15 556.91,452.43 558.55,453.71 560.19,454.99 561.82,456.06 563.46,457.22 565.10,458.50 566.73,459.71 568.37,461.03 570.00,462.17 571.64,463.36 573.28,464.53 574.91,465.73 576.55,466.71 578.19,467.72 579.82,468.73 581.46,469.76 583.10,470.59 584.73,471.69 586.37,472.50 588.00,473.57 589.64,474.46 591.28,475.33 592.91,476.23 594.55,477.10 596.19,477.97 597.82,478.87 599.46,479.50 601.10,480.26 602.73,481.08 604.37,481.76 606.00,482.46 607.64,483.07 609.28,483.61 610.91,484.28 612.55,484.90 614.19,485.38 615.82,485.95 617.46,486.46 619.10,486.88 620.73,487.42 622.37,487.79 624.00,488.14 625.64,488.48 627.28,488.86 628.91,489.20 630.55,489.53 632.19,489.80 633.82,490.21 635.46,490.54 637.10,490.82 638.73,490.99 640.37,491.20 642.00,491.39 643.64,491.53 645.28,491.62 646.91,491.74 648.55,491.82 650.19,491.93 651.82,492.02 653.46,492.13 655.10,492.18 656.73,492.22 658.37,492.25 660.00,492.27 661.64,492.34 663.28,492.32 664.91,492.24 666.55,492.27 668.19,492.22 669.82,492.10 671.46,492.11 673.10,491.97 674.73,491.82 676.37,491.77" fill="none" stroke="#6DB31E" stroke-width="1.5" stroke-linejoin="round"/>
<polyline points="530.73,493.38 532.37,493.39 534.00,493.34 535.64,493.38 537.28,493.32 538.91,493.36 540.55,493.33 542.19,493.33 543.82,493.36 545.46,493.42 547.10,493.35 548.73,493.35 550.37,493.35 552.00,493.36 553.64,493.33 555.28,493.30 556.91,493.27 558.55,493.27 560.19,493.29 561.82,493.27 563.46,493.26 565.10,493.29 566.73,493.33 568.37,493.41 570.00,493.47 571.64,493.47 573.28,493.42 574.91,493.41 576.55,493.38 578.19,493.37 579.82,493.26 581.46,493.19 583.10,493.19 584.73,493.14 586.37,493.19 588.00,493.19 589.64,493.17 591.28,493.23 592.91,493.24 594.55,493.18 596.19,493.19 597.82,493.13 599.46,493.04 601.10,493.04 602.73,492.88 604.37,492.82 606.00,492.86 607.64,492.81 609.28,492.76 610.91,492.77 612.55,492.71 614.19,492.82 615.82,492.86 617.46,492.81 619.10,492.78 620.73,492.79 622.37,492.76 624.00,492.78 625.64,492.74 627.28,492.62 628.91,492.56 630.55,492.53 632.19,492.41 633.82,492.41 635.46,492.31 637.10,492.18 638.73,492.17 640.37,492.16 642.00,492.15 643.64,492.14 645.28,492.03 646.91,491.95 648.55,491.94 650.19,491.93 651.82,491.83 653.46,491.73 655.10,491.64 656.73,491.59 658.37,491.52 660.00,491.39 661.64,491.24 663.28,491.20 664.91,491.21 666.55,491.16 668.19,491.13 669.82,491.11 671.46,491.16 673.10,491.07 674.73,490.94 676.37,490.94" fill="none" stroke="#FF8C00" stroke-width="1.5" stroke-linejoin="round"/>
<rect x="523.45" y="358.3" width="160.2" height="166" fill="none" stroke="#333333" stroke-width="1.1"/>
<rect x="523.45" y="335" width="160.2" height="23.3" fill="#CCCCCC" stroke="#333333" stroke-width="1.1"/>
<text transform="translate(603.55,349.45) scale(0.926,1)" text-anchor="middle" font-family='"Liberation Sans", sans-serif' font-size="9.72" fill="#1A1A1A">Pattern 4<tspan dx="12.2" dy="-1" font-family='"Liberation Serif", serif' font-style="italic" font-size="10.8">ψ</tspan><tspan dy="1"> = 0.5</tspan></text>
<line x1="530.73" x2="530.73" y1="524.3" y2="527.9" stroke="#555" stroke-width="0.9"/>
<line x1="567.14" x2="567.14" y1="524.3" y2="527.9" stroke="#555" stroke-width="0.9"/>
<line x1="603.55" x2="603.55" y1="524.3" y2="527.9" stroke="#555" stroke-width="0.9"/>
<line x1="639.96" x2="639.96" y1="524.3" y2="527.9" stroke="#555" stroke-width="0.9"/>
<line x1="676.37" x2="676.37" y1="524.3" y2="527.9" stroke="#555" stroke-width="0.9"/>
<text transform="translate(530.73,537.70) scale(0.926,1)" text-anchor="middle" font-family='"Liberation Sans", sans-serif' font-size="9.94" fill="#333333">0</text>
<text transform="translate(567.14,537.70) scale(0.926,1)" text-anchor="middle" font-family='"Liberation Sans", sans-serif' font-size="9.94" fill="#333333">0.25</text>
<text transform="translate(603.55,537.70) scale(0.926,1)" text-anchor="middle" font-family='"Liberation Sans", sans-serif' font-size="9.94" fill="#333333">0.5</text>
<text transform="translate(639.96,537.70) scale(0.926,1)" text-anchor="middle" font-family='"Liberation Sans", sans-serif' font-size="9.94" fill="#333333">0.75</text>
<text transform="translate(676.37,537.70) scale(0.926,1)" text-anchor="middle" font-family='"Liberation Sans", sans-serif' font-size="9.94" fill="#333333">1</text>
<rect x="607.2" y="165.6" width="72.8" height="51.7" fill="#fff" stroke="#333333" stroke-width="1"/>
<line x1="615.1" x2="628.7" y1="174.5" y2="174.5" stroke="#000000" stroke-width="1.1"/>
<text transform="translate(634.60,177.50) scale(0.926,1)" font-family='"Liberation Sans", sans-serif' font-size="8.29" fill="#1A1A1A">MinGWAS</text>
<line x1="615.1" x2="628.7" y1="185.45" y2="185.45" stroke="#1565D2" stroke-width="1.1"/>
<text transform="translate(634.60,188.45) scale(0.926,1)" font-family='"Liberation Sans", sans-serif' font-size="8.29" fill="#1A1A1A">MTAG</text>
<line x1="615.1" x2="628.7" y1="196.4" y2="196.4" stroke="#6DB31E" stroke-width="1.1"/>
<text transform="translate(634.60,199.40) scale(0.926,1)" font-family='"Liberation Sans", sans-serif' font-size="8.29" fill="#1A1A1A">TWT</text>
<line x1="615.1" x2="628.7" y1="207.35" y2="207.35" stroke="#FF8C00" stroke-width="1.1"/>
<text transform="translate(634.60,210.35) scale(0.926,1)" font-family='"Liberation Sans", sans-serif' font-size="8.29" fill="#1A1A1A">EbICoW</text>
<text transform="translate(38.6,491.4) rotate(-90)" font-family='"Liberation Sans", sans-serif' font-size="10.6" fill="#1A1A1A">Power</text>
<path d="M34.45,512.8 V499.6 M32.1,503.2 L34.45,499.3 L36.8,503.2" fill="none" stroke="#1A1A1A" stroke-width="0.9"/>
<path d="M43,518.2 H55.8 M52.4,516.1 L56.2,518.2 L52.4,520.3" fill="none" stroke="#1A1A1A" stroke-width="0.9"/>
<text x="67.6" y="520.8" font-family='"Liberation Serif", serif' font-style="italic" font-size="14.5" fill="#1A1A1A">π</text>
<rect x="21.1" y="24" width="160.2" height="107.4" fill="#fff"/>
<circle cx="86.6" cy="77.8" r="46.6" fill="#FDE6CC"/>
<text transform="translate(86.60,83.31) scale(0.926,1)" text-anchor="middle" font-family='"Liberation Sans", sans-serif' font-size="14.36" fill="#1A1A1A" stroke="#1A1A1A" stroke-width="0.1">100%</text>
<text transform="translate(156.40,90.45) scale(0.926,1)" text-anchor="middle" font-family='"Liberation Sans", sans-serif' font-size="8.86" fill="#1A1A1A">9 x 0%</text>
<circle cx="145.9" cy="101.06" r="3.05" fill="#E3E3E3"/>
<circle cx="156.3" cy="101.06" r="3.05" fill="#E3E3E3"/>
<circle cx="166.7" cy="101.06" r="3.05" fill="#E3E3E3"/>
<circle cx="145.9" cy="110.4" r="3.05" fill="#E3E3E3"/>
<circle cx="156.3" cy="110.4" r="3.05" fill="#E3E3E3"/>
<circle cx="166.7" cy="110.4" r="3.05" fill="#E3E3E3"/>
<circle cx="145.9" cy="119.8" r="3.05" fill="#E3E3E3"/>
<circle cx="156.3" cy="119.8" r="3.05" fill="#E3E3E3"/>
<circle cx="166.7" cy="119.8" r="3.05" fill="#E3E3E3"/>
<rect x="21.1" y="24" width="160.2" height="107.4" fill="none" stroke="#333333" stroke-width="1.1"/>
<rect x="21.1" y="0.6" width="160.2" height="23.4" fill="#CCCCCC" stroke="#333333" stroke-width="1.1"/>
<text transform="translate(101.20,15.70) scale(0.926,1)" text-anchor="middle" font-family='"Liberation Sans", sans-serif' font-size="9.72" fill="#1A1A1A">Pattern 1</text>
<rect x="188.55" y="24" width="160.2" height="107.4" fill="#fff"/>
<circle cx="232.15" cy="86.9" r="35.9" fill="#FDE6CC"/>
<text transform="translate(232.15,92.41) scale(0.926,1)" text-anchor="middle" font-family='"Liberation Sans", sans-serif' font-size="14.36" fill="#1A1A1A" stroke="#1A1A1A" stroke-width="0.1">60%</text>
<circle cx="287.6" cy="59.2" r="25.5" fill="#E3F0CF"/>
<text transform="translate(287.60,63.28) scale(0.926,1)" text-anchor="middle" font-family='"Liberation Sans", sans-serif' font-size="10.26" fill="#1A1A1A">30%</text>
<circle cx="283.25" cy="100.6" r="14.75" fill="#CEDDF3"/>
<text transform="translate(283.25,103.74) scale(0.926,1)" text-anchor="middle" font-family='"Liberation Sans", sans-serif' font-size="7.56" fill="#1A1A1A">10%</text>
<text transform="translate(324.00,90.45) scale(0.926,1)" text-anchor="middle" font-family='"Liberation Sans", sans-serif' font-size="8.86" fill="#1A1A1A">7 x 0%</text>
<circle cx="334.1" cy="101.06" r="3.05" fill="#E3E3E3"/>
<circle cx="313.8" cy="110.4" r="3.05" fill="#E3E3E3"/>
<circle cx="324.1" cy="110.4" r="3.05" fill="#E3E3E3"/>
<circle cx="334.1" cy="110.4" r="3.05" fill="#E3E3E3"/>
<circle cx="313.8" cy="119.8" r="3.05" fill="#E3E3E3"/>
<circle cx="324.1" cy="119.8" r="3.05" fill="#E3E3E3"/>
<circle cx="334.1" cy="119.8" r="3.05" fill="#E3E3E3"/>
<rect x="188.55" y="24" width="160.2" height="107.4" fill="none" stroke="#333333" stroke-width="1.1"/>
<rect x="188.55" y="0.6" width="160.2" height="23.4" fill="#CCCCCC" stroke="#333333" stroke-width="1.1"/>
<text transform="translate(268.65,15.70) scale(0.926,1)" text-anchor="middle" font-family='"Liberation Sans", sans-serif' font-size="9.72" fill="#1A1A1A">Pattern 2</text>
<rect x="356" y="24" width="160.2" height="107.4" fill="#fff"/>
<circle cx="385.1" cy="54.3" r="20.8" fill="#E3F0CF"/>
<text transform="translate(385.10,58.00) scale(0.926,1)" text-anchor="middle" font-family='"Liberation Sans", sans-serif' font-size="9.18" fill="#1A1A1A">20%</text>
<circle cx="428.9" cy="54.3" r="20.8" fill="#E3F0CF"/>
<text transform="translate(428.90,58.00) scale(0.926,1)" text-anchor="middle" font-family='"Liberation Sans", sans-serif' font-size="9.18" fill="#1A1A1A">20%</text>
<circle cx="406.9" cy="96.5" r="25.5" fill="#E3F0CF"/>
<text transform="translate(406.90,100.58) scale(0.926,1)" text-anchor="middle" font-family='"Liberation Sans", sans-serif' font-size="10.26" fill="#1A1A1A">30%</text>
<circle cx="465.3" cy="61.8" r="14.75" fill="#CEDDF3"/>
<text transform="translate(465.30,64.94) scale(0.926,1)" text-anchor="middle" font-family='"Liberation Sans", sans-serif' font-size="7.56" fill="#1A1A1A">10%</text>
<circle cx="495.7" cy="61.8" r="14.75" fill="#CEDDF3"/>
<text transform="translate(495.70,64.94) scale(0.926,1)" text-anchor="middle" font-family='"Liberation Sans", sans-serif' font-size="7.56" fill="#1A1A1A">10%</text>
<circle cx="447.7" cy="86.9" r="14.75" fill="#CEDDF3"/>
<text transform="translate(447.70,90.04) scale(0.926,1)" text-anchor="middle" font-family='"Liberation Sans", sans-serif' font-size="7.56" fill="#1A1A1A">10%</text>
<text transform="translate(496.20,99.45) scale(0.926,1)" text-anchor="middle" font-family='"Liberation Sans", sans-serif' font-size="8.86" fill="#1A1A1A">4 x 0%</text>
<circle cx="491.4" cy="110.4" r="3.05" fill="#E3E3E3"/>
<circle cx="501.8" cy="110.4" r="3.05" fill="#E3E3E3"/>
<circle cx="491.4" cy="119.8" r="3.05" fill="#E3E3E3"/>
<circle cx="501.8" cy="119.8" r="3.05" fill="#E3E3E3"/>
<rect x="356" y="24" width="160.2" height="107.4" fill="none" stroke="#333333" stroke-width="1.1"/>
<rect x="356" y="0.6" width="160.2" height="23.4" fill="#CCCCCC" stroke="#333333" stroke-width="1.1"/>
<text transform="translate(436.10,15.70) scale(0.926,1)" text-anchor="middle" font-family='"Liberation Sans", sans-serif' font-size="9.72" fill="#1A1A1A">Pattern 3</text>
<rect x="523.45" y="24" width="160.2" height="107.4" fill="#fff"/>
<circle cx="570.1" cy="52.55" r="14.75" fill="#CEDDF3"/>
<text transform="translate(570.10,55.69) scale(0.926,1)" text-anchor="middle" font-family='"Liberation Sans", sans-serif' font-size="7.56" fill="#1A1A1A">10%</text>
<circle cx="603.6" cy="52.55" r="14.75" fill="#CEDDF3"/>
<text transform="translate(603.60,55.69) scale(0.926,1)" text-anchor="middle" font-family='"Liberation Sans", sans-serif' font-size="7.56" fill="#1A1A1A">10%</text>
<circle cx="637.1" cy="52.55" r="14.75" fill="#CEDDF3"/>
<text transform="translate(637.10,55.69) scale(0.926,1)" text-anchor="middle" font-family='"Liberation Sans", sans-serif' font-size="7.56" fill="#1A1A1A">10%</text>
<circle cx="554.1" cy="77.7" r="14.75" fill="#CEDDF3"/>
<text transform="translate(554.10,80.84) scale(0.926,1)" text-anchor="middle" font-family='"Liberation Sans", sans-serif' font-size="7.56" fill="#1A1A1A">10%</text>
<circle cx="586.1" cy="77.7" r="14.75" fill="#CEDDF3"/>
<text transform="translate(586.10,80.84) scale(0.926,1)" text-anchor="middle" font-family='"Liberation Sans", sans-serif' font-size="7.56" fill="#1A1A1A">10%</text>
<circle cx="621.2" cy="77.7" r="14.75" fill="#CEDDF3"/>
<text transform="translate(621.20,80.84) scale(0.926,1)" text-anchor="middle" font-family='"Liberation Sans", sans-serif' font-size="7.56" fill="#1A1A1A">10%</text>
<circle cx="653.2" cy="77.7" r="14.75" fill="#CEDDF3"/>
<text transform="translate(653.20,80.84) scale(0.926,1)" text-anchor="middle" font-family='"Liberation Sans", sans-serif' font-size="7.56" fill="#1A1A1A">10%</text>
<circle cx="570.1" cy="102.9" r="14.75" fill="#CEDDF3"/>
<text transform="translate(570.10,106.04) scale(0.926,1)" text-anchor="middle" font-family='"Liberation Sans", sans-serif' font-size="7.56" fill="#1A1A1A">10%</text>
<circle cx="603.6" cy="102.9" r="14.75" fill="#CEDDF3"/>
<text transform="translate(603.60,106.04) scale(0.926,1)" text-anchor="middle" font-family='"Liberation Sans", sans-serif' font-size="7.56" fill="#1A1A1A">10%</text>
<circle cx="637.1" cy="102.9" r="14.75" fill="#CEDDF3"/>
<text transform="translate(637.10,106.04) scale(0.926,1)" text-anchor="middle" font-family='"Liberation Sans", sans-serif' font-size="7.56" fill="#1A1A1A">10%</text>
<rect x="523.45" y="24" width="160.2" height="107.4" fill="none" stroke="#333333" stroke-width="1.1"/>
<rect x="523.45" y="0.6" width="160.2" height="23.4" fill="#CCCCCC" stroke="#333333" stroke-width="1.1"/>
<text transform="translate(603.55,15.70) scale(0.926,1)" text-anchor="middle" font-family='"Liberation Sans", sans-serif' font-size="9.72" fill="#1A1A1A">Pattern 4</text>
</svg>
</body></html>
